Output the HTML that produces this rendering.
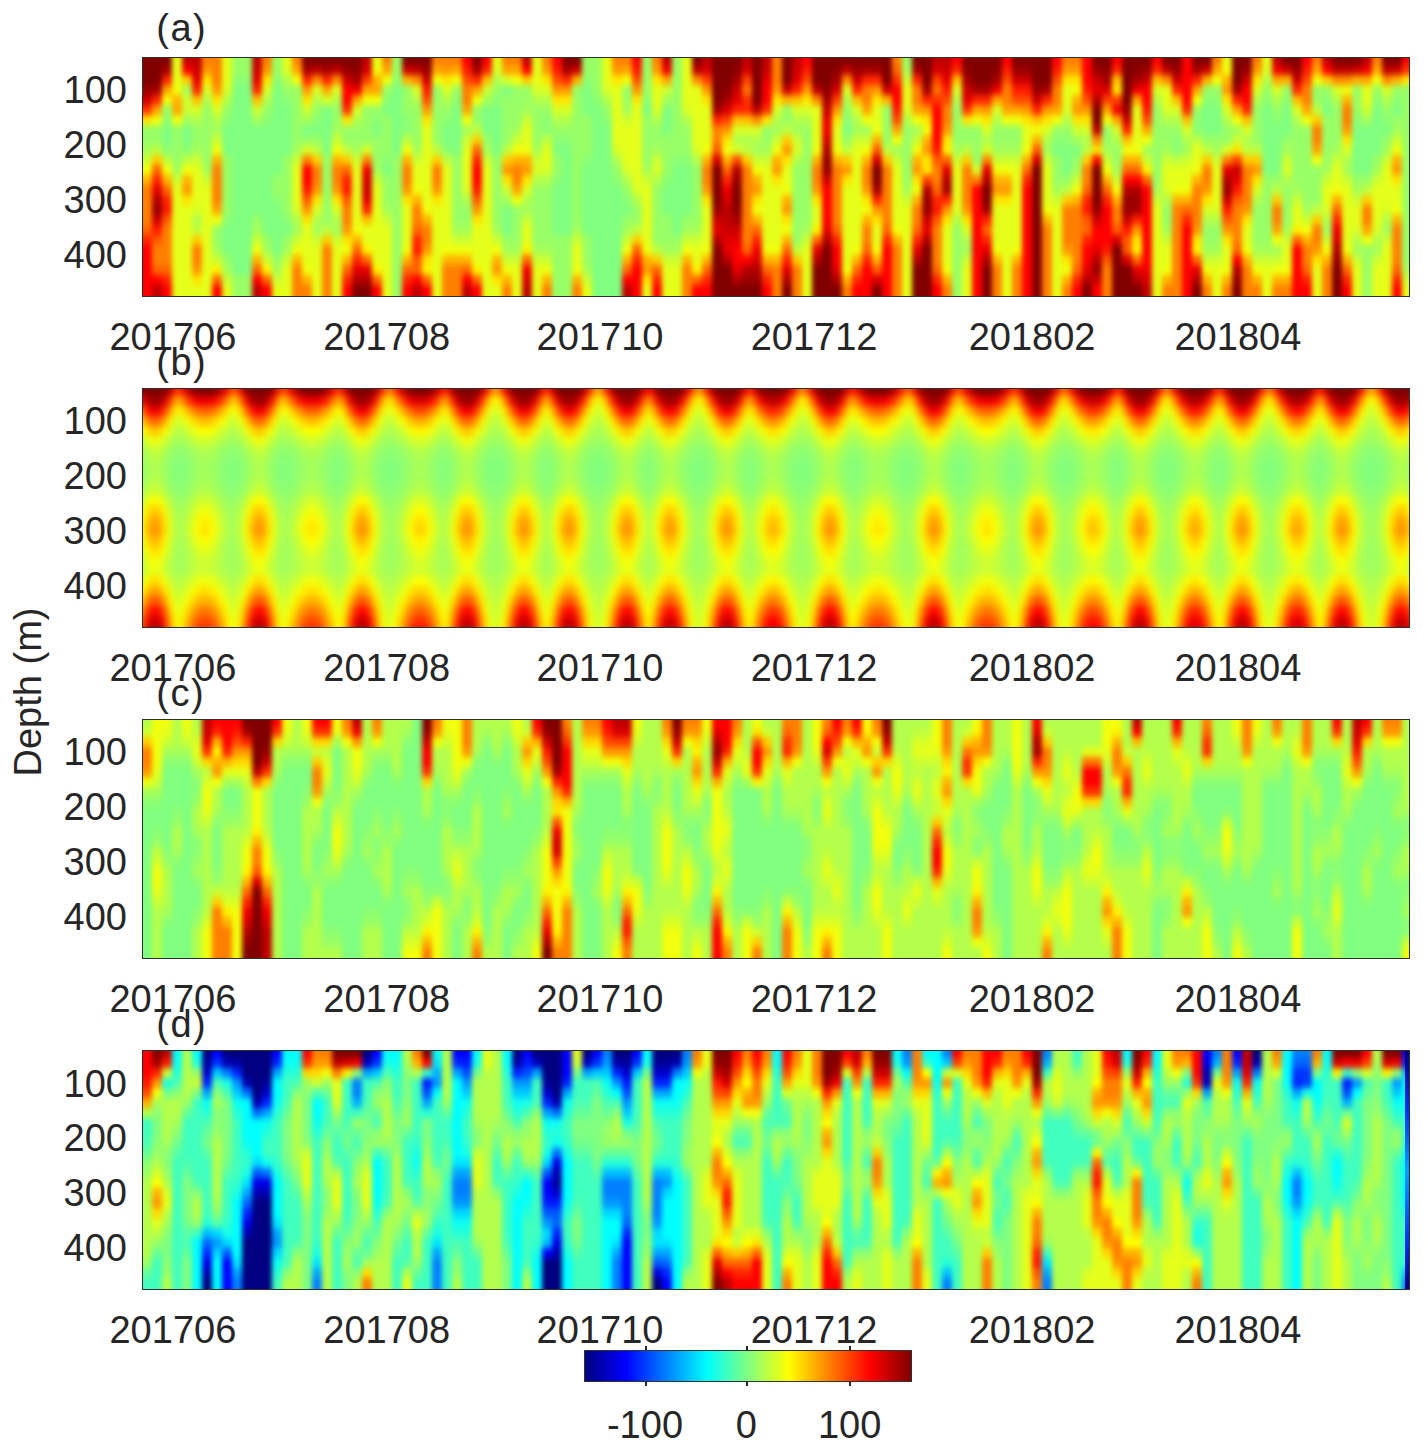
<!DOCTYPE html><html><head><meta charset="utf-8"><style>
*{margin:0;padding:0;box-sizing:border-box}
html,body{width:1428px;height:1452px;background:#fff;overflow:hidden}
body{position:relative;font-family:"Liberation Sans",sans-serif;color:#262626}
.t{position:absolute;font-size:38px;line-height:38px;white-space:nowrap}
.xl{width:240px;text-align:center}
.yl{width:100px;text-align:right}
.pn{position:absolute;width:1268px;height:240px;overflow:hidden}
.bl{position:absolute}
.fr{position:absolute;width:1268px;height:240px;border:1px solid #2e2e2e}
.tk{position:absolute;width:2px;height:4px;background:#262626}
</style></head><body>
<svg width="0" height="0" style="position:absolute"><filter id="fh" x="-2%" y="-10%" width="104%" height="120%" color-interpolation-filters="sRGB"><feGaussianBlur stdDeviation="2 3"/></filter></svg><div class="pn" style="left:142px;top:57px">
<div class="bl" style="left:-16px;top:-12px;width:1300px;filter:url(#fh)">
<div style="height:10px;background:linear-gradient(90deg,#800000 0px,#800000 44px,#e5ff1a 48px,#e5ff1a 54px,#bf0000 58px,#bf0000 74px,#ff8000 78px,#ff8000 94px,#e5ff1a 98px,#e5ff1a 104px,#99ff66 108px,#99ff66 124px,#bf0000 128px,#bf0000 134px,#ff8000 138px,#ff8000 144px,#99ff66 148px,#99ff66 154px,#e5ff1a 158px,#e5ff1a 164px,#ff8000 168px,#ff8000 174px,#800000 178px,#800000 234px,#bf0000 238px,#bf0000 244px,#e5ff1a 248px,#e5ff1a 254px,#ff8000 258px,#ff8000 264px,#99ff66 268px,#99ff66 274px,#800000 278px,#800000 304px,#ff8000 308px,#ff8000 334px,#ff0000 338px,#ff0000 344px,#800000 348px,#800000 354px,#ff0000 358px,#ff0000 364px,#e5ff1a 368px,#e5ff1a 374px,#ff8000 378px,#ff8000 394px,#bf0000 398px,#bf0000 404px,#e5ff1a 408px,#e5ff1a 414px,#ff8000 418px,#ff8000 424px,#ff0000 428px,#ff0000 434px,#800000 438px,#800000 454px,#99ff66 458px,#99ff66 474px,#e5ff1a 478px,#e5ff1a 484px,#ff8000 488px,#ff8000 504px,#ff0000 508px,#ff0000 514px,#99ff66 518px,#99ff66 524px,#ff8000 528px,#ff8000 534px,#bf0000 538px,#bf0000 544px,#99ff66 548px,#99ff66 554px,#e5ff1a 558px,#e5ff1a 564px,#800000 568px,#800000 574px,#bf0000 578px,#bf0000 584px,#800000 588px,#800000 614px,#bf0000 618px,#bf0000 624px,#800000 628px,#800000 634px,#bf0000 638px,#bf0000 644px,#ff8000 648px,#ff8000 654px,#800000 658px,#800000 664px,#bf0000 668px,#bf0000 674px,#ff0000 678px,#ff0000 684px,#800000 688px,#800000 764px,#ff8000 768px,#ff8000 774px,#99ff66 778px,#99ff66 784px,#800000 788px,#800000 804px,#bf0000 808px,#bf0000 824px,#ff0000 828px,#ff0000 834px,#800000 838px,#800000 874px,#ff0000 878px,#ff0000 884px,#800000 888px,#800000 924px,#ff0000 928px,#ff0000 934px,#ff8000 938px,#ff8000 954px,#ff0000 958px,#ff0000 964px,#800000 968px,#800000 984px,#ff0000 988px,#ff0000 994px,#800000 998px,#800000 1024px,#ff0000 1028px,#ff0000 1034px,#800000 1038px,#800000 1054px,#ff0000 1058px,#ff0000 1064px,#800000 1068px,#800000 1084px,#ff8000 1088px,#ff8000 1094px,#e5ff1a 1098px,#e5ff1a 1104px,#800000 1108px,#800000 1124px,#ff8000 1128px,#ff8000 1134px,#e5ff1a 1138px,#e5ff1a 1144px,#bf0000 1148px,#bf0000 1154px,#800000 1158px,#800000 1174px,#ff0000 1178px,#ff0000 1184px,#ff8000 1188px,#ff8000 1194px,#bf0000 1198px,#bf0000 1204px,#800000 1208px,#800000 1234px,#bf0000 1238px,#bf0000 1244px,#ff8000 1248px,#ff8000 1254px,#800000 1258px,#800000 1274px,#ff0000 1278px,#ff0000 1300px)"></div>
<div style="height:10px;background:linear-gradient(90deg,#800000 0px,#800000 44px,#e5ff1a 48px,#e5ff1a 54px,#bf0000 58px,#bf0000 74px,#ff8000 78px,#ff8000 94px,#e5ff1a 98px,#e5ff1a 104px,#99ff66 108px,#99ff66 124px,#bf0000 128px,#bf0000 134px,#ff8000 138px,#ff8000 144px,#99ff66 148px,#99ff66 154px,#e5ff1a 158px,#e5ff1a 164px,#ff8000 168px,#ff8000 174px,#800000 178px,#800000 234px,#bf0000 238px,#bf0000 244px,#e5ff1a 248px,#e5ff1a 254px,#ff8000 258px,#ff8000 264px,#99ff66 268px,#99ff66 274px,#800000 278px,#800000 304px,#ff8000 308px,#ff8000 334px,#ff0000 338px,#ff0000 344px,#800000 348px,#800000 354px,#ff0000 358px,#ff0000 364px,#e5ff1a 368px,#e5ff1a 374px,#ff8000 378px,#ff8000 394px,#bf0000 398px,#bf0000 404px,#e5ff1a 408px,#e5ff1a 414px,#ff8000 418px,#ff8000 424px,#ff0000 428px,#ff0000 434px,#800000 438px,#800000 454px,#99ff66 458px,#99ff66 474px,#e5ff1a 478px,#e5ff1a 484px,#ff8000 488px,#ff8000 504px,#ff0000 508px,#ff0000 514px,#99ff66 518px,#99ff66 524px,#ff8000 528px,#ff8000 534px,#bf0000 538px,#bf0000 544px,#99ff66 548px,#99ff66 554px,#e5ff1a 558px,#e5ff1a 564px,#800000 568px,#800000 574px,#bf0000 578px,#bf0000 584px,#800000 588px,#800000 614px,#bf0000 618px,#bf0000 624px,#800000 628px,#800000 634px,#bf0000 638px,#bf0000 644px,#ff8000 648px,#ff8000 654px,#800000 658px,#800000 664px,#bf0000 668px,#bf0000 674px,#ff0000 678px,#ff0000 684px,#800000 688px,#800000 764px,#ff8000 768px,#ff8000 774px,#99ff66 778px,#99ff66 784px,#800000 788px,#800000 804px,#bf0000 808px,#bf0000 824px,#ff0000 828px,#ff0000 834px,#800000 838px,#800000 874px,#ff0000 878px,#ff0000 884px,#800000 888px,#800000 924px,#ff0000 928px,#ff0000 934px,#ff8000 938px,#ff8000 954px,#ff0000 958px,#ff0000 964px,#800000 968px,#800000 984px,#ff0000 988px,#ff0000 994px,#800000 998px,#800000 1024px,#ff0000 1028px,#ff0000 1034px,#800000 1038px,#800000 1054px,#ff0000 1058px,#ff0000 1064px,#800000 1068px,#800000 1084px,#ff8000 1088px,#ff8000 1094px,#e5ff1a 1098px,#e5ff1a 1104px,#800000 1108px,#800000 1124px,#ff8000 1128px,#ff8000 1134px,#e5ff1a 1138px,#e5ff1a 1144px,#bf0000 1148px,#bf0000 1154px,#800000 1158px,#800000 1174px,#ff0000 1178px,#ff0000 1184px,#ff8000 1188px,#ff8000 1194px,#bf0000 1198px,#bf0000 1204px,#800000 1208px,#800000 1234px,#bf0000 1238px,#bf0000 1244px,#ff8000 1248px,#ff8000 1254px,#800000 1258px,#800000 1274px,#ff0000 1278px,#ff0000 1300px)"></div>
<div style="height:10px;background:linear-gradient(90deg,#800000 0px,#800000 34px,#a60000 38px,#a60000 44px,#e5ff1a 48px,#e5ff1a 54px,#ff0000 58px,#ff0000 64px,#cc0000 68px,#cc0000 74px,#ff9900 78px,#ff9900 84px,#ff8000 88px,#ff8000 94px,#e5ff1a 98px,#e5ff1a 104px,#99ff66 108px,#99ff66 124px,#cc0000 128px,#cc0000 134px,#ff9900 138px,#ff9900 144px,#99ff66 148px,#99ff66 154px,#d9ff26 158px,#d9ff26 164px,#ffa600 168px,#ffa600 174px,#a60000 178px,#a60000 184px,#bf0000 188px,#bf0000 194px,#a60000 198px,#a60000 204px,#bf0000 208px,#bf0000 214px,#990000 218px,#990000 224px,#8c0000 228px,#8c0000 234px,#d90000 238px,#d90000 244px,#f2ff0d 248px,#f2ff0d 254px,#ffa600 258px,#ffa600 264px,#99ff66 268px,#99ff66 274px,#cc0000 278px,#cc0000 284px,#bf0000 288px,#bf0000 294px,#990000 298px,#990000 304px,#ffa600 308px,#ffa600 314px,#ff9900 318px,#ff9900 324px,#ffa600 328px,#ffa600 334px,#ff1a00 338px,#ff1a00 344px,#a60000 348px,#a60000 354px,#ff2600 358px,#ff2600 364px,#d9ff26 368px,#d9ff26 374px,#ffa600 378px,#ffa600 394px,#ff0000 398px,#ff0000 404px,#e5ff1a 408px,#e5ff1a 414px,#ff9900 418px,#ff9900 424px,#ff1a00 428px,#ff1a00 434px,#a60000 438px,#a60000 444px,#cc0000 448px,#cc0000 454px,#99ff66 458px,#99ff66 474px,#e5ff1a 478px,#e5ff1a 484px,#ff9900 488px,#ff9900 494px,#ffa600 498px,#ffa600 504px,#ff1a00 508px,#ff1a00 514px,#99ff66 518px,#99ff66 524px,#ff9900 528px,#ff9900 534px,#f20000 538px,#f20000 544px,#99ff66 548px,#99ff66 554px,#e5ff1a 558px,#e5ff1a 564px,#bf0000 568px,#bf0000 574px,#d90000 578px,#d90000 584px,#800000 588px,#800000 604px,#8c0000 608px,#8c0000 614px,#d90000 618px,#d90000 624px,#800000 628px,#800000 634px,#cc0000 638px,#cc0000 644px,#ff8000 648px,#ff8000 654px,#800000 658px,#800000 664px,#cc0000 668px,#cc0000 674px,#ff1a00 678px,#ff1a00 684px,#800000 688px,#800000 704px,#8c0000 708px,#8c0000 714px,#bf0000 718px,#bf0000 724px,#990000 728px,#990000 734px,#a60000 738px,#a60000 754px,#800000 758px,#800000 764px,#ff6600 768px,#ff6600 774px,#a6ff59 778px,#a6ff59 784px,#a60000 788px,#a60000 794px,#800000 798px,#800000 804px,#d90000 808px,#d90000 814px,#cc0000 818px,#cc0000 824px,#ff2600 828px,#ff2600 834px,#8c0000 838px,#8c0000 844px,#800000 848px,#800000 864px,#8c0000 868px,#8c0000 874px,#ff1a00 878px,#ff1a00 884px,#990000 888px,#990000 904px,#800000 908px,#800000 924px,#ff1a00 928px,#ff1a00 934px,#ff9900 938px,#ff9900 954px,#ff0000 958px,#ff0000 964px,#990000 968px,#990000 974px,#8c0000 978px,#8c0000 984px,#ff2600 988px,#ff2600 994px,#800000 998px,#800000 1004px,#8c0000 1008px,#8c0000 1014px,#990000 1018px,#990000 1024px,#ff2600 1028px,#ff2600 1034px,#bf0000 1038px,#bf0000 1044px,#990000 1048px,#990000 1054px,#ff0000 1058px,#ff0000 1064px,#a60000 1068px,#a60000 1074px,#cc0000 1078px,#cc0000 1084px,#ffa600 1088px,#ffa600 1094px,#f2ff0d 1098px,#f2ff0d 1104px,#800000 1108px,#800000 1114px,#990000 1118px,#990000 1124px,#ff9900 1128px,#ff9900 1134px,#d9ff26 1138px,#d9ff26 1144px,#f20000 1148px,#f20000 1154px,#cc0000 1158px,#cc0000 1164px,#990000 1168px,#990000 1174px,#ff1a00 1178px,#ff1a00 1184px,#ffa600 1188px,#ffa600 1194px,#ff0000 1198px,#ff0000 1204px,#bf0000 1208px,#bf0000 1224px,#cc0000 1228px,#cc0000 1234px,#f20000 1238px,#f20000 1244px,#ffa600 1248px,#ffa600 1254px,#bf0000 1258px,#bf0000 1264px,#cc0000 1268px,#cc0000 1274px,#ff3300 1278px,#ff3300 1300px)"></div>
<div style="height:10px;background:linear-gradient(90deg,#800000 0px,#800000 34px,#ff2600 38px,#ff2600 44px,#e5ff1a 48px,#e5ff1a 54px,#ffcc00 58px,#ffcc00 64px,#e50000 68px,#e50000 74px,#ffe500 78px,#ffe500 84px,#ff8000 88px,#ff8000 94px,#e5ff1a 98px,#e5ff1a 104px,#8cff73 108px,#8cff73 124px,#e50000 128px,#e50000 134px,#ffe500 138px,#ffe500 144px,#8cff73 148px,#8cff73 154px,#b3ff4c 158px,#b3ff4c 164px,#f2ff0d 168px,#f2ff0d 174px,#ff2600 178px,#ff2600 184px,#ff8c00 188px,#ff8c00 194px,#ff2600 198px,#ff2600 204px,#ff8c00 208px,#ff8c00 214px,#cc0000 218px,#cc0000 224px,#a60000 228px,#a60000 234px,#ff4000 238px,#ff4000 244px,#ffb300 248px,#ffb300 254px,#f2ff0d 258px,#f2ff0d 264px,#8cff73 268px,#8cff73 274px,#ffb300 278px,#ffb300 284px,#ff8c00 288px,#ff8c00 294px,#cc0000 298px,#cc0000 304px,#f2ff0d 308px,#f2ff0d 314px,#ffe500 318px,#ffe500 324px,#f2ff0d 328px,#f2ff0d 334px,#ff4c00 338px,#ff4c00 344px,#ff2600 348px,#ff2600 354px,#ffbf00 358px,#ffbf00 364px,#b3ff4c 368px,#b3ff4c 374px,#d9ff26 378px,#d9ff26 384px,#f2ff0d 388px,#f2ff0d 394px,#ffcc00 398px,#ffcc00 404px,#e5ff1a 408px,#e5ff1a 414px,#ffe500 418px,#ffe500 424px,#ff4c00 428px,#ff4c00 434px,#ff2600 438px,#ff2600 444px,#ffb300 448px,#ffb300 454px,#8cff73 458px,#8cff73 464px,#99ff66 468px,#99ff66 474px,#e5ff1a 478px,#e5ff1a 484px,#ffe500 488px,#ffe500 494px,#f2ff0d 498px,#f2ff0d 504px,#ff4c00 508px,#ff4c00 514px,#99ff66 518px,#99ff66 524px,#ffe500 528px,#ffe500 534px,#ffa600 538px,#ffa600 544px,#99ff66 548px,#99ff66 554px,#e5ff1a 558px,#e5ff1a 564px,#ff8c00 568px,#ff8c00 574px,#ff4000 578px,#ff4000 584px,#800000 588px,#800000 604px,#a60000 608px,#a60000 614px,#ff4000 618px,#ff4000 624px,#800000 628px,#800000 634px,#e50000 638px,#e50000 644px,#ff8000 648px,#ff8000 654px,#800000 658px,#800000 664px,#e50000 668px,#e50000 674px,#ff4c00 678px,#ff4c00 684px,#800000 688px,#800000 704px,#a60000 708px,#a60000 714px,#ff8c00 718px,#ff8c00 724px,#cc0000 728px,#cc0000 734px,#ff2600 738px,#ff2600 754px,#800000 758px,#800000 764px,#ff3300 768px,#ff3300 774px,#ccff33 778px,#ccff33 784px,#ff2600 788px,#ff2600 794px,#800000 798px,#800000 804px,#ff4000 808px,#ff4000 814px,#e50000 818px,#e50000 824px,#ffbf00 828px,#ffbf00 834px,#a60000 838px,#a60000 844px,#800000 848px,#800000 864px,#a60000 868px,#a60000 874px,#ff4c00 878px,#ff4c00 884px,#cc0000 888px,#cc0000 904px,#800000 908px,#800000 924px,#ff4c00 928px,#ff4c00 934px,#ffe500 938px,#ffe500 954px,#ff0000 958px,#ff0000 964px,#cc0000 968px,#cc0000 974px,#a60000 978px,#a60000 984px,#ffbf00 988px,#ffbf00 994px,#800000 998px,#800000 1004px,#a60000 1008px,#a60000 1014px,#cc0000 1018px,#cc0000 1024px,#ffbf00 1028px,#ffbf00 1034px,#ff8c00 1038px,#ff8c00 1044px,#cc0000 1048px,#cc0000 1054px,#ff0000 1058px,#ff0000 1064px,#ff2600 1068px,#ff2600 1074px,#ffb300 1078px,#ffb300 1084px,#f2ff0d 1088px,#f2ff0d 1094px,#ffb300 1098px,#ffb300 1104px,#800000 1108px,#800000 1114px,#cc0000 1118px,#cc0000 1124px,#ffe500 1128px,#ffe500 1134px,#b3ff4c 1138px,#b3ff4c 1144px,#ffa600 1148px,#ffa600 1154px,#ffb300 1158px,#ffb300 1164px,#cc0000 1168px,#cc0000 1174px,#ff4c00 1178px,#ff4c00 1184px,#f2ff0d 1188px,#f2ff0d 1194px,#ffcc00 1198px,#ffcc00 1204px,#ff8c00 1208px,#ff8c00 1224px,#ffb300 1228px,#ffb300 1234px,#ffa600 1238px,#ffa600 1244px,#f2ff0d 1248px,#f2ff0d 1254px,#ff8c00 1258px,#ff8c00 1264px,#ffb300 1268px,#ffb300 1274px,#ffe500 1278px,#ffe500 1300px)"></div>
<div style="height:10px;background:linear-gradient(90deg,#990000 0px,#990000 24px,#a60000 28px,#a60000 34px,#ffa600 38px,#ffa600 44px,#f2ff0d 48px,#f2ff0d 54px,#a6ff59 58px,#a6ff59 64px,#ff2600 68px,#ff2600 74px,#d9ff26 78px,#d9ff26 84px,#ff9900 88px,#ff9900 94px,#d9ff26 98px,#d9ff26 104px,#80ff80 108px,#80ff80 124px,#ff2600 128px,#ff2600 134px,#d9ff26 138px,#d9ff26 144px,#80ff80 148px,#80ff80 154px,#99ff66 158px,#99ff66 174px,#ff9900 178px,#ff9900 184px,#d9ff26 188px,#d9ff26 194px,#ffa600 198px,#ffa600 204px,#d9ff26 208px,#d9ff26 214px,#ff0000 218px,#ff0000 224px,#f20000 228px,#f20000 234px,#ffa600 238px,#ffa600 254px,#99ff66 258px,#99ff66 264px,#80ff80 268px,#80ff80 274px,#99ff66 278px,#99ff66 284px,#d9ff26 288px,#d9ff26 294px,#ff1a00 298px,#ff1a00 304px,#99ff66 308px,#99ff66 314px,#d9ff26 318px,#d9ff26 324px,#99ff66 328px,#99ff66 334px,#ff8000 338px,#ff8000 344px,#ffa600 348px,#ffa600 354px,#ccff33 358px,#ccff33 364px,#99ff66 368px,#99ff66 374px,#80ff80 378px,#80ff80 384px,#99ff66 388px,#99ff66 404px,#d9ff26 408px,#d9ff26 424px,#ff9900 428px,#ff9900 444px,#99ff66 448px,#99ff66 454px,#80ff80 458px,#80ff80 464px,#99ff66 468px,#99ff66 474px,#d9ff26 478px,#d9ff26 484px,#e5ff1a 488px,#e5ff1a 494px,#99ff66 498px,#99ff66 504px,#ff9900 508px,#ff9900 514px,#99ff66 518px,#99ff66 524px,#e5ff1a 528px,#e5ff1a 534px,#ccff33 538px,#ccff33 544px,#99ff66 548px,#99ff66 554px,#e5ff1a 558px,#e5ff1a 574px,#ff9900 578px,#ff9900 584px,#800000 588px,#800000 594px,#8c0000 598px,#8c0000 604px,#cc0000 608px,#cc0000 614px,#ff7300 618px,#ff7300 624px,#800000 628px,#800000 634px,#ff0000 638px,#ff0000 644px,#ff9900 648px,#ff9900 654px,#cc0000 658px,#cc0000 664px,#ff2600 668px,#ff2600 674px,#ff9900 678px,#ff9900 684px,#bf0000 688px,#bf0000 694px,#8c0000 698px,#8c0000 704px,#d90000 708px,#d90000 714px,#d9ff26 718px,#d9ff26 724px,#ff2600 728px,#ff2600 734px,#ff8000 738px,#ff8000 744px,#ff9900 748px,#ff9900 754px,#cc0000 758px,#cc0000 764px,#ff0000 768px,#ff0000 774px,#e5ff1a 778px,#e5ff1a 784px,#ff8000 788px,#ff8000 794px,#a60000 798px,#a60000 804px,#ff7300 808px,#ff7300 814px,#ff1a00 818px,#ff1a00 824px,#d9ff26 828px,#d9ff26 834px,#cc0000 838px,#cc0000 844px,#a60000 848px,#a60000 864px,#f20000 868px,#f20000 874px,#ff8000 878px,#ff8000 884px,#ff1a00 888px,#ff1a00 904px,#990000 908px,#990000 914px,#a60000 918px,#a60000 924px,#ff8000 928px,#ff8000 934px,#e5ff1a 938px,#e5ff1a 944px,#f2ff0d 948px,#f2ff0d 954px,#ff1a00 958px,#ff1a00 964px,#e50000 968px,#e50000 974px,#d90000 978px,#d90000 984px,#ffe500 988px,#ffe500 994px,#800000 998px,#800000 1004px,#f20000 1008px,#f20000 1014px,#ff0000 1018px,#ff0000 1024px,#d9ff26 1028px,#d9ff26 1034px,#e5ff1a 1038px,#e5ff1a 1044px,#ff2600 1048px,#ff2600 1054px,#ff0000 1058px,#ff0000 1064px,#ffa600 1068px,#ffa600 1074px,#99ff66 1078px,#99ff66 1094px,#ff9900 1098px,#ff9900 1104px,#a60000 1108px,#a60000 1114px,#ff0000 1118px,#ff0000 1124px,#d9ff26 1128px,#d9ff26 1134px,#99ff66 1138px,#99ff66 1144px,#d9ff26 1148px,#d9ff26 1154px,#99ff66 1158px,#99ff66 1164px,#ff2600 1168px,#ff2600 1174px,#ff8000 1178px,#ff8000 1184px,#99ff66 1188px,#99ff66 1204px,#d9ff26 1208px,#d9ff26 1214px,#f2ff0d 1218px,#f2ff0d 1224px,#99ff66 1228px,#99ff66 1234px,#e5ff1a 1238px,#e5ff1a 1244px,#99ff66 1248px,#99ff66 1254px,#d9ff26 1258px,#d9ff26 1264px,#99ff66 1268px,#99ff66 1300px)"></div>
<div style="height:10px;background:linear-gradient(90deg,#cc0000 0px,#cc0000 24px,#ff2600 28px,#ff2600 34px,#f2ff0d 38px,#f2ff0d 44px,#ffb300 48px,#ffb300 54px,#ccff33 58px,#ccff33 64px,#ffbf00 68px,#ffbf00 74px,#b3ff4c 78px,#b3ff4c 84px,#ffe500 88px,#ffe500 94px,#b3ff4c 98px,#b3ff4c 104px,#80ff80 108px,#80ff80 124px,#ffbf00 128px,#ffbf00 134px,#b3ff4c 138px,#b3ff4c 144px,#80ff80 148px,#80ff80 154px,#8cff73 158px,#8cff73 164px,#99ff66 168px,#99ff66 174px,#ffe500 178px,#ffe500 184px,#b3ff4c 188px,#b3ff4c 194px,#d9ff26 198px,#d9ff26 204px,#b3ff4c 208px,#b3ff4c 214px,#ff0000 218px,#ff0000 224px,#ffa600 228px,#ffa600 234px,#f2ff0d 238px,#f2ff0d 254px,#8cff73 258px,#8cff73 264px,#80ff80 268px,#80ff80 274px,#99ff66 278px,#99ff66 284px,#b3ff4c 288px,#b3ff4c 294px,#ff4c00 298px,#ff4c00 304px,#99ff66 308px,#99ff66 314px,#b3ff4c 318px,#b3ff4c 324px,#8cff73 328px,#8cff73 334px,#ff8000 338px,#ff8000 344px,#f2ff0d 348px,#f2ff0d 354px,#a6ff59 358px,#a6ff59 364px,#8cff73 368px,#8cff73 374px,#99ff66 378px,#99ff66 404px,#b3ff4c 408px,#b3ff4c 424px,#ffe500 428px,#ffe500 444px,#99ff66 448px,#99ff66 454px,#80ff80 458px,#80ff80 464px,#8cff73 468px,#8cff73 474px,#b3ff4c 478px,#b3ff4c 484px,#e5ff1a 488px,#e5ff1a 494px,#99ff66 498px,#99ff66 504px,#ffe500 508px,#ffe500 514px,#8cff73 518px,#8cff73 524px,#e5ff1a 528px,#e5ff1a 534px,#a6ff59 538px,#a6ff59 544px,#99ff66 548px,#99ff66 554px,#e5ff1a 558px,#e5ff1a 574px,#ffe500 578px,#ffe500 584px,#800000 588px,#800000 594px,#a60000 598px,#a60000 604px,#e50000 608px,#e50000 614px,#ff3300 618px,#ff3300 624px,#800000 628px,#800000 634px,#ff0000 638px,#ff0000 644px,#ffe500 648px,#ffe500 654px,#ffb300 658px,#ffb300 664px,#ffbf00 668px,#ffbf00 674px,#ffe500 678px,#ffe500 684px,#ff8c00 688px,#ff8c00 694px,#a60000 698px,#a60000 704px,#ff4000 708px,#ff4000 714px,#b3ff4c 718px,#b3ff4c 724px,#ffbf00 728px,#ffbf00 734px,#ff8000 738px,#ff8000 744px,#ffe500 748px,#ffe500 754px,#ffb300 758px,#ffb300 764px,#ff0000 768px,#ff0000 774px,#e5ff1a 778px,#e5ff1a 784px,#ff8000 788px,#ff8000 794px,#ff2600 798px,#ff2600 804px,#ff3300 808px,#ff3300 814px,#ff4c00 818px,#ff4c00 824px,#b3ff4c 828px,#b3ff4c 834px,#e50000 838px,#e50000 844px,#ff2600 848px,#ff2600 864px,#ffa600 868px,#ffa600 874px,#ff8000 878px,#ff8000 884px,#ff4c00 888px,#ff4c00 904px,#cc0000 908px,#cc0000 914px,#ff2600 918px,#ff2600 924px,#ff8000 928px,#ff8000 934px,#e5ff1a 938px,#e5ff1a 944px,#ffb300 948px,#ffb300 954px,#ff4c00 958px,#ff4c00 964px,#b30000 968px,#b30000 974px,#ff4000 978px,#ff4000 994px,#800000 998px,#800000 1004px,#ffa600 1008px,#ffa600 1014px,#ff0000 1018px,#ff0000 1024px,#b3ff4c 1028px,#b3ff4c 1034px,#e5ff1a 1038px,#e5ff1a 1044px,#ffbf00 1048px,#ffbf00 1054px,#ff0000 1058px,#ff0000 1064px,#f2ff0d 1068px,#f2ff0d 1074px,#8cff73 1078px,#8cff73 1094px,#ffe500 1098px,#ffe500 1104px,#ff2600 1108px,#ff2600 1114px,#ff0000 1118px,#ff0000 1124px,#b3ff4c 1128px,#b3ff4c 1134px,#8cff73 1138px,#8cff73 1144px,#b3ff4c 1148px,#b3ff4c 1154px,#8cff73 1158px,#8cff73 1164px,#ffbf00 1168px,#ffbf00 1174px,#ff8000 1178px,#ff8000 1184px,#99ff66 1188px,#99ff66 1194px,#8cff73 1198px,#8cff73 1204px,#b3ff4c 1208px,#b3ff4c 1214px,#ffb300 1218px,#ffb300 1224px,#99ff66 1228px,#99ff66 1234px,#e5ff1a 1238px,#e5ff1a 1244px,#8cff73 1248px,#8cff73 1254px,#b3ff4c 1258px,#b3ff4c 1264px,#8cff73 1268px,#8cff73 1274px,#99ff66 1278px,#99ff66 1300px)"></div>
<div style="height:10px;background:linear-gradient(90deg,#ff3300 0px,#ff3300 24px,#ffa600 28px,#ffa600 34px,#99ff66 38px,#99ff66 44px,#ffa600 48px,#ffa600 54px,#ccff33 58px,#ccff33 64px,#d9ff26 68px,#d9ff26 74px,#99ff66 78px,#99ff66 84px,#d9ff26 88px,#d9ff26 94px,#99ff66 98px,#99ff66 104px,#80ff80 108px,#80ff80 124px,#ccff33 128px,#ccff33 134px,#99ff66 138px,#99ff66 144px,#80ff80 148px,#80ff80 164px,#99ff66 168px,#99ff66 174px,#ccff33 178px,#ccff33 184px,#99ff66 188px,#99ff66 194px,#80ff80 198px,#80ff80 204px,#99ff66 208px,#99ff66 214px,#ff3300 218px,#ff3300 224px,#d9ff26 228px,#d9ff26 234px,#99ff66 238px,#99ff66 254px,#80ff80 258px,#80ff80 274px,#99ff66 278px,#99ff66 294px,#ff9900 298px,#ff9900 304px,#99ff66 308px,#99ff66 324px,#80ff80 328px,#80ff80 334px,#ffa600 338px,#ffa600 344px,#99ff66 348px,#99ff66 354px,#80ff80 358px,#80ff80 374px,#99ff66 378px,#99ff66 394px,#a6ff59 398px,#a6ff59 404px,#99ff66 408px,#99ff66 424px,#d9ff26 428px,#d9ff26 444px,#99ff66 448px,#99ff66 454px,#80ff80 458px,#80ff80 474px,#99ff66 478px,#99ff66 484px,#e5ff1a 488px,#e5ff1a 494px,#a6ff59 498px,#a6ff59 504px,#e5ff1a 508px,#e5ff1a 514px,#80ff80 518px,#80ff80 524px,#d9ff26 528px,#d9ff26 534px,#80ff80 538px,#80ff80 544px,#99ff66 548px,#99ff66 554px,#d9ff26 558px,#d9ff26 564px,#e5ff1a 568px,#e5ff1a 584px,#a60000 588px,#a60000 594px,#d90000 598px,#d90000 604px,#ff2600 608px,#ff2600 624px,#bf0000 628px,#bf0000 634px,#ff3300 638px,#ff3300 644px,#d9ff26 648px,#d9ff26 654px,#99ff66 658px,#99ff66 664px,#d9ff26 668px,#d9ff26 684px,#e5ff1a 688px,#e5ff1a 694px,#cc0000 698px,#cc0000 704px,#ff9900 708px,#ff9900 714px,#99ff66 718px,#99ff66 724px,#d9ff26 728px,#d9ff26 734px,#ffa600 738px,#ffa600 744px,#e5ff1a 748px,#e5ff1a 754px,#99ff66 758px,#99ff66 764px,#ff1a00 768px,#ff1a00 774px,#d9ff26 778px,#d9ff26 784px,#ffa600 788px,#ffa600 794px,#ff9900 798px,#ff9900 804px,#ff0000 808px,#ff0000 814px,#ff8000 818px,#ff8000 824px,#99ff66 828px,#99ff66 834px,#ff3300 838px,#ff3300 844px,#ffa600 848px,#ffa600 854px,#ff9900 858px,#ff9900 864px,#d9ff26 868px,#d9ff26 874px,#ffa600 878px,#ffa600 894px,#ff9900 898px,#ff9900 904px,#ff2600 908px,#ff2600 914px,#ff9900 918px,#ff9900 924px,#ffa600 928px,#ffa600 934px,#d9ff26 938px,#d9ff26 944px,#ff9900 948px,#ff9900 964px,#800000 968px,#800000 974px,#ffa600 978px,#ffa600 984px,#f20000 988px,#f20000 994px,#990000 998px,#990000 1004px,#e5ff1a 1008px,#e5ff1a 1014px,#ff1a00 1018px,#ff1a00 1024px,#99ff66 1028px,#99ff66 1034px,#d9ff26 1038px,#d9ff26 1054px,#ff2600 1058px,#ff2600 1064px,#99ff66 1068px,#99ff66 1074px,#80ff80 1078px,#80ff80 1094px,#d9ff26 1098px,#d9ff26 1104px,#ffa600 1108px,#ffa600 1114px,#ff2600 1118px,#ff2600 1124px,#99ff66 1128px,#99ff66 1134px,#80ff80 1138px,#80ff80 1144px,#99ff66 1148px,#99ff66 1154px,#80ff80 1158px,#80ff80 1164px,#d9ff26 1168px,#d9ff26 1174px,#ffa600 1178px,#ffa600 1184px,#bfff40 1188px,#bfff40 1194px,#80ff80 1198px,#80ff80 1204px,#99ff66 1208px,#99ff66 1214px,#ff8000 1218px,#ff8000 1224px,#99ff66 1228px,#99ff66 1234px,#ccff33 1238px,#ccff33 1244px,#80ff80 1248px,#80ff80 1254px,#99ff66 1258px,#99ff66 1264px,#80ff80 1268px,#80ff80 1274px,#99ff66 1278px,#99ff66 1300px)"></div>
<div style="height:10px;background:linear-gradient(90deg,#ffe500 0px,#ffe500 24px,#f2ff0d 28px,#f2ff0d 34px,#8cff73 38px,#8cff73 44px,#f2ff0d 48px,#f2ff0d 54px,#a6ff59 58px,#a6ff59 64px,#b3ff4c 68px,#b3ff4c 74px,#99ff66 78px,#99ff66 84px,#b3ff4c 88px,#b3ff4c 94px,#8cff73 98px,#8cff73 104px,#80ff80 108px,#80ff80 124px,#a6ff59 128px,#a6ff59 134px,#8cff73 138px,#8cff73 144px,#80ff80 148px,#80ff80 164px,#99ff66 168px,#99ff66 174px,#a6ff59 178px,#a6ff59 184px,#8cff73 188px,#8cff73 194px,#80ff80 198px,#80ff80 204px,#99ff66 208px,#99ff66 214px,#ffe500 218px,#ffe500 224px,#b3ff4c 228px,#b3ff4c 234px,#99ff66 238px,#99ff66 244px,#8cff73 248px,#8cff73 254px,#99ff66 258px,#99ff66 264px,#80ff80 268px,#80ff80 274px,#8cff73 278px,#8cff73 284px,#99ff66 288px,#99ff66 294px,#ffe500 298px,#ffe500 304px,#99ff66 308px,#99ff66 314px,#8cff73 318px,#8cff73 324px,#80ff80 328px,#80ff80 334px,#f2ff0d 338px,#f2ff0d 344px,#99ff66 348px,#99ff66 354px,#80ff80 358px,#80ff80 374px,#99ff66 378px,#99ff66 394px,#ccff33 398px,#ccff33 404px,#99ff66 408px,#99ff66 414px,#8cff73 418px,#8cff73 424px,#b3ff4c 428px,#b3ff4c 444px,#99ff66 448px,#99ff66 464px,#80ff80 468px,#80ff80 474px,#8cff73 478px,#8cff73 484px,#e5ff1a 488px,#e5ff1a 494px,#ccff33 498px,#ccff33 504px,#e5ff1a 508px,#e5ff1a 514px,#99ff66 518px,#99ff66 524px,#b3ff4c 528px,#b3ff4c 534px,#80ff80 538px,#80ff80 544px,#99ff66 548px,#99ff66 554px,#b3ff4c 558px,#b3ff4c 564px,#e5ff1a 568px,#e5ff1a 584px,#ff2600 588px,#ff2600 594px,#ff4000 598px,#ff4000 604px,#ffbf00 608px,#ffbf00 624px,#ff8c00 628px,#ff8c00 634px,#ffe500 638px,#ffe500 644px,#b3ff4c 648px,#b3ff4c 654px,#99ff66 658px,#99ff66 664px,#b3ff4c 668px,#b3ff4c 684px,#e5ff1a 688px,#e5ff1a 694px,#e50000 698px,#e50000 704px,#ffe500 708px,#ffe500 714px,#8cff73 718px,#8cff73 724px,#b3ff4c 728px,#b3ff4c 734px,#f2ff0d 738px,#f2ff0d 744px,#e5ff1a 748px,#e5ff1a 754px,#99ff66 758px,#99ff66 764px,#ff4c00 768px,#ff4c00 774px,#b3ff4c 778px,#b3ff4c 784px,#f2ff0d 788px,#f2ff0d 794px,#ffe500 798px,#ffe500 804px,#ff0000 808px,#ff0000 814px,#ff8000 818px,#ff8000 824px,#99ff66 828px,#99ff66 834px,#ffe500 838px,#ffe500 844px,#f2ff0d 848px,#f2ff0d 854px,#ffe500 858px,#ffe500 864px,#b3ff4c 868px,#b3ff4c 874px,#f2ff0d 878px,#f2ff0d 894px,#ffe500 898px,#ffe500 904px,#ffbf00 908px,#ffbf00 914px,#ffe500 918px,#ffe500 924px,#f2ff0d 928px,#f2ff0d 934px,#b3ff4c 938px,#b3ff4c 944px,#ffe500 948px,#ffe500 964px,#800000 968px,#800000 974px,#f2ff0d 978px,#f2ff0d 984px,#ffa600 988px,#ffa600 994px,#cc0000 998px,#cc0000 1004px,#e5ff1a 1008px,#e5ff1a 1014px,#ff4c00 1018px,#ff4c00 1024px,#99ff66 1028px,#99ff66 1034px,#b3ff4c 1038px,#b3ff4c 1054px,#ffbf00 1058px,#ffbf00 1064px,#8cff73 1068px,#8cff73 1074px,#80ff80 1078px,#80ff80 1094px,#b3ff4c 1098px,#b3ff4c 1104px,#f2ff0d 1108px,#f2ff0d 1114px,#ffbf00 1118px,#ffbf00 1124px,#99ff66 1128px,#99ff66 1134px,#80ff80 1138px,#80ff80 1144px,#8cff73 1148px,#8cff73 1154px,#80ff80 1158px,#80ff80 1164px,#b3ff4c 1168px,#b3ff4c 1174px,#f2ff0d 1178px,#f2ff0d 1184px,#ffcc00 1188px,#ffcc00 1194px,#99ff66 1198px,#99ff66 1214px,#ff8000 1218px,#ff8000 1224px,#8cff73 1228px,#8cff73 1234px,#a6ff59 1238px,#a6ff59 1244px,#80ff80 1248px,#80ff80 1254px,#8cff73 1258px,#8cff73 1264px,#99ff66 1268px,#99ff66 1300px)"></div>
<div style="height:10px;background:linear-gradient(90deg,#99ff66 0px,#99ff66 34px,#80ff80 38px,#80ff80 44px,#99ff66 48px,#99ff66 54px,#80ff80 58px,#80ff80 64px,#99ff66 68px,#99ff66 84px,#a6ff59 88px,#a6ff59 94px,#80ff80 98px,#80ff80 164px,#99ff66 168px,#99ff66 174px,#80ff80 178px,#80ff80 204px,#a6ff59 208px,#a6ff59 214px,#99ff66 218px,#99ff66 244px,#80ff80 248px,#80ff80 254px,#99ff66 258px,#99ff66 264px,#80ff80 268px,#80ff80 274px,#8cff73 278px,#8cff73 284px,#99ff66 288px,#99ff66 294px,#e5ff1a 298px,#e5ff1a 304px,#99ff66 308px,#99ff66 314px,#80ff80 318px,#80ff80 334px,#a6ff59 338px,#a6ff59 344px,#bfff40 348px,#bfff40 354px,#80ff80 358px,#80ff80 374px,#99ff66 378px,#99ff66 384px,#a6ff59 388px,#a6ff59 394px,#e5ff1a 398px,#e5ff1a 404px,#99ff66 408px,#99ff66 414px,#8cff73 418px,#8cff73 424px,#99ff66 428px,#99ff66 464px,#80ff80 468px,#80ff80 484px,#e5ff1a 488px,#e5ff1a 514px,#99ff66 518px,#99ff66 534px,#80ff80 538px,#80ff80 544px,#99ff66 548px,#99ff66 564px,#e5ff1a 568px,#e5ff1a 584px,#ff8000 588px,#ff8000 594px,#ff9900 598px,#ff9900 604px,#d9ff26 608px,#d9ff26 634px,#99ff66 638px,#99ff66 644px,#a6ff59 648px,#a6ff59 654px,#bfff40 658px,#bfff40 664px,#a6ff59 668px,#a6ff59 674px,#99ff66 678px,#99ff66 684px,#e5ff1a 688px,#e5ff1a 694px,#f20000 698px,#f20000 704px,#e5ff1a 708px,#e5ff1a 714px,#80ff80 718px,#80ff80 724px,#a6ff59 728px,#a6ff59 744px,#f2ff0d 748px,#f2ff0d 754px,#99ff66 758px,#99ff66 764px,#ffa600 768px,#ffa600 774px,#99ff66 778px,#99ff66 784px,#a6ff59 788px,#a6ff59 794px,#f2ff0d 798px,#f2ff0d 804px,#ff0000 808px,#ff0000 814px,#ff9900 818px,#ff9900 824px,#99ff66 828px,#99ff66 854px,#d9ff26 858px,#d9ff26 864px,#99ff66 868px,#99ff66 894px,#e5ff1a 898px,#e5ff1a 904px,#f2ff0d 908px,#f2ff0d 914px,#d9ff26 918px,#d9ff26 924px,#99ff66 928px,#99ff66 944px,#ccff33 948px,#ccff33 954px,#d9ff26 958px,#d9ff26 964px,#bf0000 968px,#bf0000 974px,#99ff66 978px,#99ff66 984px,#d9ff26 988px,#d9ff26 994px,#ff2600 998px,#ff2600 1004px,#e5ff1a 1008px,#e5ff1a 1014px,#ffa600 1018px,#ffa600 1024px,#99ff66 1028px,#99ff66 1054px,#d9ff26 1058px,#d9ff26 1064px,#8cff73 1068px,#8cff73 1074px,#80ff80 1078px,#80ff80 1094px,#99ff66 1098px,#99ff66 1104px,#a6ff59 1108px,#a6ff59 1114px,#d9ff26 1118px,#d9ff26 1124px,#99ff66 1128px,#99ff66 1134px,#80ff80 1138px,#80ff80 1164px,#99ff66 1168px,#99ff66 1184px,#ff8000 1188px,#ff8000 1194px,#99ff66 1198px,#99ff66 1214px,#ff9900 1218px,#ff9900 1224px,#80ff80 1228px,#80ff80 1264px,#a6ff59 1268px,#a6ff59 1274px,#99ff66 1278px,#99ff66 1300px)"></div>
<div style="height:10px;background:linear-gradient(90deg,#99ff66 0px,#99ff66 34px,#80ff80 38px,#80ff80 44px,#99ff66 48px,#99ff66 54px,#80ff80 58px,#80ff80 64px,#99ff66 68px,#99ff66 84px,#ccff33 88px,#ccff33 94px,#80ff80 98px,#80ff80 164px,#99ff66 168px,#99ff66 194px,#80ff80 198px,#80ff80 204px,#ccff33 208px,#ccff33 214px,#99ff66 218px,#99ff66 264px,#80ff80 268px,#80ff80 274px,#bfff40 278px,#bfff40 284px,#99ff66 288px,#99ff66 294px,#e5ff1a 298px,#e5ff1a 304px,#99ff66 308px,#99ff66 314px,#80ff80 318px,#80ff80 334px,#ccff33 338px,#ccff33 344px,#ffcc00 348px,#ffcc00 354px,#99ff66 358px,#99ff66 364px,#80ff80 368px,#80ff80 374px,#99ff66 378px,#99ff66 384px,#ccff33 388px,#ccff33 394px,#e5ff1a 398px,#e5ff1a 404px,#99ff66 408px,#99ff66 414px,#bfff40 418px,#bfff40 424px,#8cff73 428px,#8cff73 444px,#99ff66 448px,#99ff66 464px,#80ff80 468px,#80ff80 484px,#e5ff1a 488px,#e5ff1a 514px,#99ff66 518px,#99ff66 564px,#e5ff1a 568px,#e5ff1a 584px,#ff8000 588px,#ff8000 594px,#ffe500 598px,#ffe500 604px,#b3ff4c 608px,#b3ff4c 634px,#99ff66 638px,#99ff66 644px,#ccff33 648px,#ccff33 654px,#ffcc00 658px,#ffcc00 664px,#ccff33 668px,#ccff33 674px,#99ff66 678px,#99ff66 684px,#e5ff1a 688px,#e5ff1a 694px,#d90000 698px,#d90000 704px,#e5ff1a 708px,#e5ff1a 714px,#99ff66 718px,#99ff66 724px,#ccff33 728px,#ccff33 744px,#ffb300 748px,#ffb300 754px,#99ff66 758px,#99ff66 764px,#f2ff0d 768px,#f2ff0d 774px,#99ff66 778px,#99ff66 784px,#ccff33 788px,#ccff33 794px,#ffb300 798px,#ffb300 804px,#ff0000 808px,#ff0000 814px,#ffe500 818px,#ffe500 824px,#99ff66 828px,#99ff66 854px,#b3ff4c 858px,#b3ff4c 864px,#99ff66 868px,#99ff66 894px,#e5ff1a 898px,#e5ff1a 904px,#ffb300 908px,#ffb300 914px,#b3ff4c 918px,#b3ff4c 924px,#8cff73 928px,#8cff73 944px,#a6ff59 948px,#a6ff59 954px,#b3ff4c 958px,#b3ff4c 964px,#ff8c00 968px,#ff8c00 974px,#99ff66 978px,#99ff66 984px,#b3ff4c 988px,#b3ff4c 994px,#ffbf00 998px,#ffbf00 1004px,#e5ff1a 1008px,#e5ff1a 1014px,#f2ff0d 1018px,#f2ff0d 1024px,#99ff66 1028px,#99ff66 1044px,#8cff73 1048px,#8cff73 1054px,#b3ff4c 1058px,#b3ff4c 1064px,#bfff40 1068px,#bfff40 1074px,#99ff66 1078px,#99ff66 1104px,#ccff33 1108px,#ccff33 1114px,#b3ff4c 1118px,#b3ff4c 1124px,#99ff66 1128px,#99ff66 1134px,#80ff80 1138px,#80ff80 1154px,#99ff66 1158px,#99ff66 1184px,#ff8000 1188px,#ff8000 1194px,#99ff66 1198px,#99ff66 1214px,#ffe500 1218px,#ffe500 1224px,#80ff80 1228px,#80ff80 1254px,#99ff66 1258px,#99ff66 1264px,#ccff33 1268px,#ccff33 1274px,#99ff66 1278px,#99ff66 1300px)"></div>
<div style="height:10px;background:linear-gradient(90deg,#a6ff59 0px,#a6ff59 24px,#bfff40 28px,#bfff40 34px,#8cff73 38px,#8cff73 44px,#99ff66 48px,#99ff66 54px,#8cff73 58px,#8cff73 64px,#a6ff59 68px,#a6ff59 74px,#99ff66 78px,#99ff66 84px,#f2ff0d 88px,#f2ff0d 94px,#80ff80 98px,#80ff80 164px,#a6ff59 168px,#a6ff59 174px,#d9ff26 178px,#d9ff26 184px,#bfff40 188px,#bfff40 194px,#80ff80 198px,#80ff80 204px,#f2ff0d 208px,#f2ff0d 214px,#bfff40 218px,#bfff40 224px,#a6ff59 228px,#a6ff59 234px,#d9ff26 238px,#d9ff26 244px,#99ff66 248px,#99ff66 264px,#80ff80 268px,#80ff80 274px,#f2ff0d 278px,#f2ff0d 284px,#a6ff59 288px,#a6ff59 294px,#e5ff1a 298px,#e5ff1a 304px,#bfff40 308px,#bfff40 314px,#8cff73 318px,#8cff73 324px,#80ff80 328px,#80ff80 334px,#e5ff1a 338px,#e5ff1a 344px,#ff6600 348px,#ff6600 354px,#a6ff59 358px,#a6ff59 364px,#80ff80 368px,#80ff80 374px,#bfff40 378px,#bfff40 384px,#f2ff0d 388px,#f2ff0d 404px,#a6ff59 408px,#a6ff59 414px,#e5ff1a 418px,#e5ff1a 424px,#80ff80 428px,#80ff80 444px,#99ff66 448px,#99ff66 464px,#80ff80 468px,#80ff80 484px,#d9ff26 488px,#d9ff26 494px,#e5ff1a 498px,#e5ff1a 514px,#99ff66 518px,#99ff66 524px,#a6ff59 528px,#a6ff59 534px,#99ff66 538px,#99ff66 564px,#d9ff26 568px,#d9ff26 574px,#f2ff0d 578px,#f2ff0d 584px,#ff5900 588px,#ff5900 594px,#f2ff0d 598px,#f2ff0d 604px,#d9ff26 608px,#d9ff26 614px,#bfff40 618px,#bfff40 624px,#a6ff59 628px,#a6ff59 644px,#f2ff0d 648px,#f2ff0d 654px,#ff9900 658px,#ff9900 664px,#d9ff26 668px,#d9ff26 674px,#99ff66 678px,#99ff66 684px,#f2ff0d 688px,#f2ff0d 694px,#b30000 698px,#b30000 704px,#f2ff0d 708px,#f2ff0d 714px,#bfff40 718px,#bfff40 724px,#e5ff1a 728px,#e5ff1a 734px,#f2ff0d 738px,#f2ff0d 744px,#ff5900 748px,#ff5900 754px,#bfff40 758px,#bfff40 764px,#a6ff59 768px,#a6ff59 774px,#99ff66 778px,#99ff66 784px,#f2ff0d 788px,#f2ff0d 794px,#ff9900 798px,#ff9900 804px,#ff1a00 808px,#ff1a00 814px,#fff200 818px,#fff200 824px,#a6ff59 828px,#a6ff59 834px,#bfff40 838px,#bfff40 844px,#99ff66 848px,#99ff66 854px,#d9ff26 858px,#d9ff26 864px,#a6ff59 868px,#a6ff59 894px,#f2ff0d 898px,#f2ff0d 904px,#ff5900 908px,#ff5900 914px,#a6ff59 918px,#a6ff59 924px,#80ff80 928px,#80ff80 954px,#bfff40 958px,#bfff40 964px,#ffe500 968px,#ffe500 974px,#a6ff59 978px,#a6ff59 984px,#99ff66 988px,#99ff66 994px,#f2ff0d 998px,#f2ff0d 1014px,#a6ff59 1018px,#a6ff59 1024px,#99ff66 1028px,#99ff66 1034px,#a6ff59 1038px,#a6ff59 1044px,#8cff73 1048px,#8cff73 1054px,#a6ff59 1058px,#a6ff59 1064px,#e5ff1a 1068px,#e5ff1a 1074px,#bfff40 1078px,#bfff40 1084px,#a6ff59 1088px,#a6ff59 1094px,#d9ff26 1098px,#d9ff26 1104px,#ffe500 1108px,#ffe500 1114px,#bfff40 1118px,#bfff40 1134px,#80ff80 1138px,#80ff80 1154px,#a6ff59 1158px,#a6ff59 1164px,#99ff66 1168px,#99ff66 1184px,#ffa600 1188px,#ffa600 1194px,#99ff66 1198px,#99ff66 1204px,#a6ff59 1208px,#a6ff59 1214px,#d9ff26 1218px,#d9ff26 1224px,#80ff80 1228px,#80ff80 1254px,#a6ff59 1258px,#a6ff59 1264px,#f2ff0d 1268px,#f2ff0d 1274px,#99ff66 1278px,#99ff66 1300px)"></div>
<div style="height:10px;background:linear-gradient(90deg,#ccff33 0px,#ccff33 24px,#ffcc00 28px,#ffcc00 34px,#bfff40 38px,#bfff40 44px,#99ff66 48px,#99ff66 54px,#bfff40 58px,#bfff40 64px,#ccff33 68px,#ccff33 74px,#99ff66 78px,#99ff66 84px,#ffb300 88px,#ffb300 94px,#99ff66 98px,#99ff66 104px,#80ff80 108px,#80ff80 154px,#99ff66 158px,#99ff66 164px,#ccff33 168px,#ccff33 174px,#ff8000 178px,#ff8000 184px,#ffcc00 188px,#ffcc00 194px,#99ff66 198px,#99ff66 204px,#ffb300 208px,#ffb300 214px,#ffcc00 218px,#ffcc00 224px,#ccff33 228px,#ccff33 234px,#ff8000 238px,#ff8000 244px,#99ff66 248px,#99ff66 254px,#8cff73 258px,#8cff73 264px,#99ff66 268px,#99ff66 274px,#ffb300 278px,#ffb300 284px,#ccff33 288px,#ccff33 294px,#e5ff1a 298px,#e5ff1a 304px,#ffcc00 308px,#ffcc00 314px,#bfff40 318px,#bfff40 324px,#99ff66 328px,#99ff66 334px,#e5ff1a 338px,#e5ff1a 344px,#ff2600 348px,#ff2600 354px,#ccff33 358px,#ccff33 364px,#99ff66 368px,#99ff66 374px,#ffcc00 378px,#ffcc00 384px,#ffb300 388px,#ffb300 404px,#ccff33 408px,#ccff33 414px,#e5ff1a 418px,#e5ff1a 424px,#99ff66 428px,#99ff66 434px,#80ff80 438px,#80ff80 444px,#99ff66 448px,#99ff66 454px,#8cff73 458px,#8cff73 464px,#80ff80 468px,#80ff80 484px,#b3ff4c 488px,#b3ff4c 494px,#e5ff1a 498px,#e5ff1a 514px,#99ff66 518px,#99ff66 524px,#ccff33 528px,#ccff33 534px,#99ff66 538px,#99ff66 544px,#8cff73 548px,#8cff73 564px,#b3ff4c 568px,#b3ff4c 574px,#ffb300 578px,#ffb300 584px,#d90000 588px,#d90000 594px,#ffb300 598px,#ffb300 604px,#ff4c00 608px,#ff4c00 614px,#ffcc00 618px,#ffcc00 624px,#ccff33 628px,#ccff33 644px,#ffb300 648px,#ffb300 654px,#ffe500 658px,#ffe500 664px,#b3ff4c 668px,#b3ff4c 674px,#99ff66 678px,#99ff66 684px,#ffb300 688px,#ffb300 694px,#990000 698px,#990000 704px,#ffb300 708px,#ffb300 714px,#ffcc00 718px,#ffcc00 724px,#e5ff1a 728px,#e5ff1a 734px,#ffb300 738px,#ffb300 744px,#d90000 748px,#d90000 754px,#ffcc00 758px,#ffcc00 764px,#ccff33 768px,#ccff33 774px,#99ff66 778px,#99ff66 784px,#ffb300 788px,#ffb300 794px,#ffe500 798px,#ffe500 804px,#ff5900 808px,#ff5900 814px,#ff6600 818px,#ff6600 824px,#ccff33 828px,#ccff33 834px,#ffcc00 838px,#ffcc00 844px,#99ff66 848px,#99ff66 854px,#ff8000 858px,#ff8000 864px,#ccff33 868px,#ccff33 894px,#ffb300 898px,#ffb300 904px,#d90000 908px,#d90000 914px,#ccff33 918px,#ccff33 924px,#99ff66 928px,#99ff66 934px,#80ff80 938px,#80ff80 944px,#99ff66 948px,#99ff66 954px,#ffcc00 958px,#ffcc00 964px,#ff0d00 968px,#ff0d00 974px,#ccff33 978px,#ccff33 984px,#99ff66 988px,#99ff66 994px,#ffb300 998px,#ffb300 1014px,#ccff33 1018px,#ccff33 1024px,#99ff66 1028px,#99ff66 1034px,#ccff33 1038px,#ccff33 1044px,#bfff40 1048px,#bfff40 1054px,#ccff33 1058px,#ccff33 1064px,#e5ff1a 1068px,#e5ff1a 1074px,#ffcc00 1078px,#ffcc00 1084px,#ccff33 1088px,#ccff33 1094px,#ff8000 1098px,#ff8000 1104px,#ff4000 1108px,#ff4000 1114px,#ffcc00 1118px,#ffcc00 1134px,#80ff80 1138px,#80ff80 1154px,#ccff33 1158px,#ccff33 1164px,#99ff66 1168px,#99ff66 1184px,#f2ff0d 1188px,#f2ff0d 1194px,#99ff66 1198px,#99ff66 1204px,#ccff33 1208px,#ccff33 1214px,#b3ff4c 1218px,#b3ff4c 1224px,#80ff80 1228px,#80ff80 1244px,#99ff66 1248px,#99ff66 1254px,#ccff33 1258px,#ccff33 1264px,#ffb300 1268px,#ffb300 1274px,#99ff66 1278px,#99ff66 1300px)"></div>
<div style="height:10px;background:linear-gradient(90deg,#f2ff0d 0px,#f2ff0d 24px,#ff6600 28px,#ff6600 34px,#f2ff0d 38px,#f2ff0d 44px,#a6ff59 48px,#a6ff59 54px,#f2ff0d 58px,#f2ff0d 64px,#e5ff1a 68px,#e5ff1a 74px,#a6ff59 78px,#a6ff59 84px,#ff8000 88px,#ff8000 94px,#99ff66 98px,#99ff66 104px,#80ff80 108px,#80ff80 154px,#99ff66 158px,#99ff66 164px,#e5ff1a 168px,#e5ff1a 174px,#ff0000 178px,#ff0000 184px,#ff8000 188px,#ff8000 194px,#99ff66 198px,#99ff66 204px,#ff8000 208px,#ff8000 214px,#ff6600 218px,#ff6600 224px,#e5ff1a 228px,#e5ff1a 234px,#f20000 238px,#f20000 244px,#a6ff59 248px,#a6ff59 254px,#80ff80 258px,#80ff80 264px,#99ff66 268px,#99ff66 274px,#ff8000 278px,#ff8000 284px,#e5ff1a 288px,#e5ff1a 304px,#ff8000 308px,#ff8000 314px,#e5ff1a 318px,#e5ff1a 324px,#99ff66 328px,#99ff66 334px,#e5ff1a 338px,#e5ff1a 344px,#ff0000 348px,#ff0000 354px,#e5ff1a 358px,#e5ff1a 364px,#99ff66 368px,#99ff66 374px,#ff9900 378px,#ff9900 384px,#ff8000 388px,#ff8000 394px,#ff9900 398px,#ff9900 404px,#d9ff26 408px,#d9ff26 424px,#99ff66 428px,#99ff66 434px,#80ff80 438px,#80ff80 444px,#99ff66 448px,#99ff66 454px,#80ff80 458px,#80ff80 484px,#99ff66 488px,#99ff66 494px,#d9ff26 498px,#d9ff26 504px,#e5ff1a 508px,#e5ff1a 514px,#a6ff59 518px,#a6ff59 524px,#d9ff26 528px,#d9ff26 534px,#99ff66 538px,#99ff66 544px,#80ff80 548px,#80ff80 564px,#99ff66 568px,#99ff66 574px,#ff8000 578px,#ff8000 584px,#800000 588px,#800000 594px,#ff6600 598px,#ff6600 604px,#b30000 608px,#b30000 614px,#ff8000 618px,#ff8000 624px,#f2ff0d 628px,#f2ff0d 634px,#e5ff1a 638px,#e5ff1a 644px,#ff9900 648px,#ff9900 654px,#e5ff1a 658px,#e5ff1a 664px,#99ff66 668px,#99ff66 684px,#ff8000 688px,#ff8000 694px,#990000 698px,#990000 704px,#ff8000 708px,#ff8000 714px,#ff9900 718px,#ff9900 724px,#e5ff1a 728px,#e5ff1a 734px,#ff8000 738px,#ff8000 744px,#800000 748px,#800000 754px,#ff8000 758px,#ff8000 764px,#e5ff1a 768px,#e5ff1a 774px,#99ff66 778px,#99ff66 784px,#ff9900 788px,#ff9900 794px,#ffe500 798px,#ffe500 804px,#ff8000 808px,#ff8000 814px,#e50000 818px,#e50000 824px,#e5ff1a 828px,#e5ff1a 834px,#ff8000 838px,#ff8000 844px,#d9ff26 848px,#d9ff26 854px,#e50000 858px,#e50000 864px,#f2ff0d 868px,#f2ff0d 884px,#e5ff1a 888px,#e5ff1a 894px,#ff6600 898px,#ff6600 904px,#800000 908px,#800000 914px,#e5ff1a 918px,#e5ff1a 924px,#99ff66 928px,#99ff66 934px,#80ff80 938px,#80ff80 944px,#a6ff59 948px,#a6ff59 954px,#ff8000 958px,#ff8000 964px,#800000 968px,#800000 974px,#f2ff0d 978px,#f2ff0d 984px,#a6ff59 988px,#a6ff59 994px,#ff6600 998px,#ff6600 1014px,#fff200 1018px,#fff200 1024px,#99ff66 1028px,#99ff66 1034px,#e5ff1a 1038px,#e5ff1a 1064px,#f2ff0d 1068px,#f2ff0d 1074px,#ff8000 1078px,#ff8000 1084px,#e5ff1a 1088px,#e5ff1a 1094px,#e50000 1098px,#e50000 1104px,#cc0000 1108px,#cc0000 1114px,#ff8000 1118px,#ff8000 1124px,#ff9900 1128px,#ff9900 1134px,#80ff80 1138px,#80ff80 1154px,#d9ff26 1158px,#d9ff26 1164px,#99ff66 1168px,#99ff66 1194px,#a6ff59 1198px,#a6ff59 1204px,#e5ff1a 1208px,#e5ff1a 1214px,#a6ff59 1218px,#a6ff59 1224px,#80ff80 1228px,#80ff80 1244px,#a6ff59 1248px,#a6ff59 1254px,#e5ff1a 1258px,#e5ff1a 1264px,#ff9900 1268px,#ff9900 1274px,#99ff66 1278px,#99ff66 1300px)"></div>
<div style="height:10px;background:linear-gradient(90deg,#ffb300 0px,#ffb300 24px,#ff2600 28px,#ff2600 34px,#ffb300 38px,#ffb300 44px,#ccff33 48px,#ccff33 54px,#ffb300 58px,#ffb300 64px,#e5ff1a 68px,#e5ff1a 74px,#ccff33 78px,#ccff33 84px,#ff8000 88px,#ff8000 94px,#99ff66 98px,#99ff66 104px,#80ff80 108px,#80ff80 144px,#99ff66 148px,#99ff66 164px,#e5ff1a 168px,#e5ff1a 174px,#ff0000 178px,#ff0000 184px,#ff8000 188px,#ff8000 194px,#99ff66 198px,#99ff66 204px,#ff8000 208px,#ff8000 214px,#ff2600 218px,#ff2600 224px,#e5ff1a 228px,#e5ff1a 234px,#d90000 238px,#d90000 244px,#ccff33 248px,#ccff33 254px,#99ff66 258px,#99ff66 274px,#ff8000 278px,#ff8000 284px,#e5ff1a 288px,#e5ff1a 304px,#ff8000 308px,#ff8000 314px,#e5ff1a 318px,#e5ff1a 324px,#99ff66 328px,#99ff66 334px,#e5ff1a 338px,#e5ff1a 344px,#ff0000 348px,#ff0000 354px,#e5ff1a 358px,#e5ff1a 364px,#99ff66 368px,#99ff66 374px,#ffe500 378px,#ffe500 384px,#ff8000 388px,#ff8000 394px,#ffe500 398px,#ffe500 404px,#b3ff4c 408px,#b3ff4c 424px,#8cff73 428px,#8cff73 434px,#80ff80 438px,#80ff80 444px,#99ff66 448px,#99ff66 454px,#80ff80 458px,#80ff80 484px,#8cff73 488px,#8cff73 494px,#b3ff4c 498px,#b3ff4c 504px,#e5ff1a 508px,#e5ff1a 514px,#ccff33 518px,#ccff33 524px,#b3ff4c 528px,#b3ff4c 534px,#8cff73 538px,#8cff73 544px,#80ff80 548px,#80ff80 564px,#99ff66 568px,#99ff66 574px,#ff8000 578px,#ff8000 584px,#800000 588px,#800000 594px,#ff2600 598px,#ff2600 604px,#990000 608px,#990000 614px,#ff8000 618px,#ff8000 624px,#ffb300 628px,#ffb300 634px,#e5ff1a 638px,#e5ff1a 644px,#ffe500 648px,#ffe500 654px,#e5ff1a 658px,#e5ff1a 664px,#99ff66 668px,#99ff66 684px,#ff8000 688px,#ff8000 694px,#cc0000 698px,#cc0000 704px,#ff8000 708px,#ff8000 714px,#ffe500 718px,#ffe500 724px,#e5ff1a 728px,#e5ff1a 734px,#ff8000 738px,#ff8000 744px,#800000 748px,#800000 754px,#ff8000 758px,#ff8000 764px,#e5ff1a 768px,#e5ff1a 774px,#99ff66 778px,#99ff66 784px,#ffe500 788px,#ffe500 794px,#ff4000 798px,#ff4000 804px,#ff8000 808px,#ff8000 814px,#b30000 818px,#b30000 824px,#e5ff1a 828px,#e5ff1a 834px,#ff8000 838px,#ff8000 854px,#b30000 858px,#b30000 864px,#ffb300 868px,#ffb300 884px,#e5ff1a 888px,#e5ff1a 894px,#ff2600 898px,#ff2600 904px,#800000 908px,#800000 914px,#e5ff1a 918px,#e5ff1a 924px,#99ff66 928px,#99ff66 944px,#ccff33 948px,#ccff33 954px,#ff8000 958px,#ff8000 964px,#800000 968px,#800000 974px,#ffb300 978px,#ffb300 984px,#ccff33 988px,#ccff33 994px,#ff0000 998px,#ff0000 1014px,#ff6600 1018px,#ff6600 1024px,#99ff66 1028px,#99ff66 1034px,#e5ff1a 1038px,#e5ff1a 1064px,#ffb300 1068px,#ffb300 1074px,#ff8000 1078px,#ff8000 1084px,#e5ff1a 1088px,#e5ff1a 1094px,#b30000 1098px,#b30000 1104px,#e50000 1108px,#e50000 1114px,#ff8000 1118px,#ff8000 1124px,#ffe500 1128px,#ffe500 1134px,#99ff66 1138px,#99ff66 1154px,#b3ff4c 1158px,#b3ff4c 1164px,#99ff66 1168px,#99ff66 1194px,#ccff33 1198px,#ccff33 1204px,#e5ff1a 1208px,#e5ff1a 1214px,#ccff33 1218px,#ccff33 1224px,#99ff66 1228px,#99ff66 1244px,#ccff33 1248px,#ccff33 1254px,#e5ff1a 1258px,#e5ff1a 1264px,#ffe500 1268px,#ffe500 1274px,#99ff66 1278px,#99ff66 1300px)"></div>
<div style="height:10px;background:linear-gradient(90deg,#ff8000 0px,#ff8000 24px,#e50000 28px,#e50000 34px,#ff6600 38px,#ff6600 44px,#e5ff1a 48px,#e5ff1a 54px,#ff9900 58px,#ff9900 64px,#e5ff1a 68px,#e5ff1a 84px,#ff8000 88px,#ff8000 94px,#99ff66 98px,#99ff66 104px,#80ff80 108px,#80ff80 144px,#99ff66 148px,#99ff66 164px,#e5ff1a 168px,#e5ff1a 174px,#ff1a00 178px,#ff1a00 184px,#ff9900 188px,#ff9900 194px,#99ff66 198px,#99ff66 204px,#ff9900 208px,#ff9900 214px,#ff1a00 218px,#ff1a00 224px,#e5ff1a 228px,#e5ff1a 234px,#cc0000 238px,#cc0000 244px,#e5ff1a 248px,#e5ff1a 254px,#99ff66 258px,#99ff66 274px,#ff9900 278px,#ff9900 284px,#f2ff0d 288px,#f2ff0d 294px,#e5ff1a 298px,#e5ff1a 304px,#ff9900 308px,#ff9900 314px,#e5ff1a 318px,#e5ff1a 324px,#99ff66 328px,#99ff66 334px,#d9ff26 338px,#d9ff26 344px,#ff1a00 348px,#ff1a00 354px,#e5ff1a 358px,#e5ff1a 364px,#99ff66 368px,#99ff66 374px,#ccff33 378px,#ccff33 384px,#ffa600 388px,#ffa600 394px,#d9ff26 398px,#d9ff26 404px,#99ff66 408px,#99ff66 424px,#80ff80 428px,#80ff80 444px,#99ff66 448px,#99ff66 454px,#80ff80 458px,#80ff80 494px,#99ff66 498px,#99ff66 504px,#d9ff26 508px,#d9ff26 514px,#e5ff1a 518px,#e5ff1a 524px,#99ff66 528px,#99ff66 534px,#80ff80 538px,#80ff80 564px,#99ff66 568px,#99ff66 574px,#ff9900 578px,#ff9900 584px,#800000 588px,#800000 594px,#f20000 598px,#f20000 604px,#800000 608px,#800000 614px,#ff8000 618px,#ff8000 624px,#ff9900 628px,#ff9900 634px,#e5ff1a 638px,#e5ff1a 654px,#f2ff0d 658px,#f2ff0d 664px,#99ff66 668px,#99ff66 684px,#ff9900 688px,#ff9900 694px,#ff0000 698px,#ff0000 704px,#ff8000 708px,#ff8000 714px,#e5ff1a 718px,#e5ff1a 734px,#ff9900 738px,#ff9900 744px,#a60000 748px,#a60000 754px,#ff8000 758px,#ff8000 764px,#e5ff1a 768px,#e5ff1a 774px,#a6ff59 778px,#a6ff59 784px,#f2ff0d 788px,#f2ff0d 794px,#b30000 798px,#b30000 804px,#ff6600 808px,#ff6600 814px,#a60000 818px,#a60000 824px,#e5ff1a 828px,#e5ff1a 834px,#ff8000 838px,#ff8000 844px,#ff0000 848px,#ff0000 854px,#800000 858px,#800000 864px,#ff9900 868px,#ff9900 884px,#e5ff1a 888px,#e5ff1a 894px,#ff0000 898px,#ff0000 904px,#800000 908px,#800000 914px,#e5ff1a 918px,#e5ff1a 924px,#a6ff59 928px,#a6ff59 934px,#bfff40 938px,#bfff40 944px,#f2ff0d 948px,#f2ff0d 954px,#ff6600 958px,#ff6600 964px,#800000 968px,#800000 974px,#ff6600 978px,#ff6600 984px,#f2ff0d 988px,#f2ff0d 994px,#b30000 998px,#b30000 1014px,#ff0000 1018px,#ff0000 1024px,#a6ff59 1028px,#a6ff59 1034px,#d9ff26 1038px,#d9ff26 1044px,#f2ff0d 1048px,#f2ff0d 1064px,#ff8000 1068px,#ff8000 1074px,#ff9900 1078px,#ff9900 1084px,#e5ff1a 1088px,#e5ff1a 1094px,#990000 1098px,#990000 1104px,#ff1a00 1108px,#ff1a00 1114px,#ff8000 1118px,#ff8000 1124px,#d9ff26 1128px,#d9ff26 1134px,#99ff66 1138px,#99ff66 1144px,#bfff40 1148px,#bfff40 1154px,#99ff66 1158px,#99ff66 1164px,#a6ff59 1168px,#a6ff59 1174px,#99ff66 1178px,#99ff66 1194px,#e5ff1a 1198px,#e5ff1a 1204px,#f2ff0d 1208px,#f2ff0d 1214px,#e5ff1a 1218px,#e5ff1a 1224px,#a6ff59 1228px,#a6ff59 1234px,#bfff40 1238px,#bfff40 1244px,#e5ff1a 1248px,#e5ff1a 1274px,#99ff66 1278px,#99ff66 1300px)"></div>
<div style="height:10px;background:linear-gradient(90deg,#ff8000 0px,#ff8000 24px,#b30000 28px,#b30000 34px,#ff2600 38px,#ff2600 44px,#e5ff1a 48px,#e5ff1a 54px,#ffe500 58px,#ffe500 64px,#e5ff1a 68px,#e5ff1a 84px,#ff8000 88px,#ff8000 94px,#99ff66 98px,#99ff66 104px,#80ff80 108px,#80ff80 144px,#8cff73 148px,#8cff73 154px,#99ff66 158px,#99ff66 164px,#e5ff1a 168px,#e5ff1a 174px,#ff5900 178px,#ff5900 184px,#ffe500 188px,#ffe500 194px,#99ff66 198px,#99ff66 204px,#ffe500 208px,#ffe500 214px,#ff5900 218px,#ff5900 224px,#e5ff1a 228px,#e5ff1a 234px,#e50000 238px,#e50000 244px,#e5ff1a 248px,#e5ff1a 254px,#99ff66 258px,#99ff66 274px,#ffe500 278px,#ffe500 284px,#ffb300 288px,#ffb300 294px,#e5ff1a 298px,#e5ff1a 304px,#ffe500 308px,#ffe500 314px,#e5ff1a 318px,#e5ff1a 324px,#99ff66 328px,#99ff66 334px,#b3ff4c 338px,#b3ff4c 344px,#ff5900 348px,#ff5900 354px,#e5ff1a 358px,#e5ff1a 364px,#99ff66 368px,#99ff66 374px,#a6ff59 378px,#a6ff59 384px,#f2ff0d 388px,#f2ff0d 394px,#b3ff4c 398px,#b3ff4c 404px,#99ff66 408px,#99ff66 424px,#80ff80 428px,#80ff80 444px,#99ff66 448px,#99ff66 454px,#80ff80 458px,#80ff80 494px,#8cff73 498px,#8cff73 504px,#b3ff4c 508px,#b3ff4c 514px,#e5ff1a 518px,#e5ff1a 524px,#99ff66 528px,#99ff66 534px,#80ff80 538px,#80ff80 564px,#99ff66 568px,#99ff66 574px,#ffe500 578px,#ffe500 584px,#800000 588px,#800000 594px,#d90000 598px,#d90000 604px,#800000 608px,#800000 614px,#ff8000 618px,#ff8000 624px,#ffe500 628px,#ffe500 634px,#e5ff1a 638px,#e5ff1a 654px,#ffb300 658px,#ffb300 664px,#99ff66 668px,#99ff66 684px,#ffe500 688px,#ffe500 694px,#ff0000 698px,#ff0000 704px,#ff8000 708px,#ff8000 714px,#e5ff1a 718px,#e5ff1a 734px,#ffe500 738px,#ffe500 744px,#ff2600 748px,#ff2600 754px,#ff8000 758px,#ff8000 764px,#e5ff1a 768px,#e5ff1a 774px,#ccff33 778px,#ccff33 784px,#ffb300 788px,#ffb300 794px,#990000 798px,#990000 804px,#ff2600 808px,#ff2600 824px,#e5ff1a 828px,#e5ff1a 834px,#ff8000 838px,#ff8000 844px,#ff0000 848px,#ff0000 854px,#800000 858px,#800000 864px,#ffe500 868px,#ffe500 884px,#e5ff1a 888px,#e5ff1a 894px,#ff0000 898px,#ff0000 904px,#800000 908px,#800000 914px,#e5ff1a 918px,#e5ff1a 924px,#ccff33 928px,#ccff33 934px,#ffcc00 938px,#ffcc00 944px,#ffb300 948px,#ffb300 954px,#ff2600 958px,#ff2600 964px,#800000 968px,#800000 974px,#ff2600 978px,#ff2600 984px,#ffb300 988px,#ffb300 994px,#990000 998px,#990000 1014px,#ff0000 1018px,#ff0000 1024px,#ccff33 1028px,#ccff33 1034px,#b3ff4c 1038px,#b3ff4c 1044px,#ffb300 1048px,#ffb300 1064px,#ff8000 1068px,#ff8000 1074px,#ffe500 1078px,#ffe500 1084px,#e5ff1a 1088px,#e5ff1a 1094px,#cc0000 1098px,#cc0000 1104px,#ff5900 1108px,#ff5900 1114px,#ff8000 1118px,#ff8000 1124px,#b3ff4c 1128px,#b3ff4c 1134px,#99ff66 1138px,#99ff66 1144px,#ffcc00 1148px,#ffcc00 1154px,#99ff66 1158px,#99ff66 1164px,#ccff33 1168px,#ccff33 1174px,#99ff66 1178px,#99ff66 1194px,#e5ff1a 1198px,#e5ff1a 1204px,#ffb300 1208px,#ffb300 1214px,#e5ff1a 1218px,#e5ff1a 1224px,#ccff33 1228px,#ccff33 1234px,#ffcc00 1238px,#ffcc00 1244px,#e5ff1a 1248px,#e5ff1a 1274px,#99ff66 1278px,#99ff66 1300px)"></div>
<div style="height:10px;background:linear-gradient(90deg,#ff8000 0px,#ff8000 24px,#990000 28px,#990000 34px,#ff1a00 38px,#ff1a00 44px,#e5ff1a 48px,#e5ff1a 64px,#d9ff26 68px,#d9ff26 74px,#e5ff1a 78px,#e5ff1a 84px,#ffa600 88px,#ffa600 94px,#99ff66 98px,#99ff66 104px,#80ff80 108px,#80ff80 154px,#99ff66 158px,#99ff66 164px,#d9ff26 168px,#d9ff26 174px,#ff9900 178px,#ff9900 184px,#d9ff26 188px,#d9ff26 194px,#99ff66 198px,#99ff66 204px,#d9ff26 208px,#d9ff26 214px,#ff8000 218px,#ff8000 224px,#e5ff1a 228px,#e5ff1a 234px,#ff2600 238px,#ff2600 244px,#e5ff1a 248px,#e5ff1a 254px,#a6ff59 258px,#a6ff59 264px,#99ff66 268px,#99ff66 274px,#e5ff1a 278px,#e5ff1a 284px,#ff8000 288px,#ff8000 294px,#f2ff0d 298px,#f2ff0d 304px,#e5ff1a 308px,#e5ff1a 324px,#99ff66 328px,#99ff66 344px,#ff9900 348px,#ff9900 354px,#e5ff1a 358px,#e5ff1a 364px,#99ff66 368px,#99ff66 374px,#80ff80 378px,#80ff80 384px,#99ff66 388px,#99ff66 394px,#a6ff59 398px,#a6ff59 404px,#99ff66 408px,#99ff66 424px,#80ff80 428px,#80ff80 444px,#99ff66 448px,#99ff66 454px,#80ff80 458px,#80ff80 504px,#99ff66 508px,#99ff66 514px,#e5ff1a 518px,#e5ff1a 524px,#99ff66 528px,#99ff66 534px,#80ff80 538px,#80ff80 564px,#99ff66 568px,#99ff66 574px,#e5ff1a 578px,#e5ff1a 584px,#990000 588px,#990000 594px,#bf0000 598px,#bf0000 604px,#8c0000 608px,#8c0000 614px,#ff8000 618px,#ff8000 624px,#f2ff0d 628px,#f2ff0d 634px,#e5ff1a 638px,#e5ff1a 654px,#ff9900 658px,#ff9900 664px,#99ff66 668px,#99ff66 684px,#e5ff1a 688px,#e5ff1a 694px,#ff0000 698px,#ff0000 704px,#ff8000 708px,#ff8000 714px,#e5ff1a 718px,#e5ff1a 734px,#f2ff0d 738px,#f2ff0d 744px,#ff9900 748px,#ff9900 754px,#ff8000 758px,#ff8000 764px,#e5ff1a 768px,#e5ff1a 784px,#ff8000 788px,#ff8000 794px,#990000 798px,#990000 804px,#ff1a00 808px,#ff1a00 814px,#ff9900 818px,#ff9900 824px,#d9ff26 828px,#d9ff26 834px,#ff9900 838px,#ff9900 844px,#ff0000 848px,#ff0000 854px,#a60000 858px,#a60000 864px,#e5ff1a 868px,#e5ff1a 894px,#ff0000 898px,#ff0000 904px,#800000 908px,#800000 914px,#f2ff0d 918px,#f2ff0d 924px,#e5ff1a 928px,#e5ff1a 934px,#ff8000 938px,#ff8000 954px,#ff1a00 958px,#ff1a00 964px,#990000 968px,#990000 974px,#ff0000 978px,#ff0000 984px,#ff8000 988px,#ff8000 994px,#990000 998px,#990000 1004px,#a60000 1008px,#a60000 1014px,#ff0000 1018px,#ff0000 1024px,#e5ff1a 1028px,#e5ff1a 1034px,#99ff66 1038px,#99ff66 1044px,#ff8000 1048px,#ff8000 1054px,#ff6600 1058px,#ff6600 1064px,#ff8000 1068px,#ff8000 1074px,#d9ff26 1078px,#d9ff26 1094px,#ff1a00 1098px,#ff1a00 1104px,#ff8000 1108px,#ff8000 1114px,#ff9900 1118px,#ff9900 1124px,#99ff66 1128px,#99ff66 1144px,#ff8000 1148px,#ff8000 1154px,#99ff66 1158px,#99ff66 1164px,#e5ff1a 1168px,#e5ff1a 1174px,#a6ff59 1178px,#a6ff59 1184px,#bfff40 1188px,#bfff40 1194px,#d9ff26 1198px,#d9ff26 1204px,#ff6600 1208px,#ff6600 1214px,#e5ff1a 1218px,#e5ff1a 1234px,#ff8000 1238px,#ff8000 1244px,#e5ff1a 1248px,#e5ff1a 1254px,#d9ff26 1258px,#d9ff26 1264px,#f2ff0d 1268px,#f2ff0d 1274px,#99ff66 1278px,#99ff66 1300px)"></div>
<div style="height:10px;background:linear-gradient(90deg,#ff8000 0px,#ff8000 24px,#cc0000 28px,#cc0000 34px,#ff5900 38px,#ff5900 44px,#e5ff1a 48px,#e5ff1a 64px,#b3ff4c 68px,#b3ff4c 74px,#e5ff1a 78px,#e5ff1a 84px,#f2ff0d 88px,#f2ff0d 94px,#8cff73 98px,#8cff73 104px,#80ff80 108px,#80ff80 124px,#99ff66 128px,#99ff66 134px,#80ff80 138px,#80ff80 154px,#8cff73 158px,#8cff73 164px,#b3ff4c 168px,#b3ff4c 174px,#ffe500 178px,#ffe500 184px,#b3ff4c 188px,#b3ff4c 194px,#99ff66 198px,#99ff66 204px,#b3ff4c 208px,#b3ff4c 214px,#ff8000 218px,#ff8000 224px,#e5ff1a 228px,#e5ff1a 234px,#ffbf00 238px,#ffbf00 244px,#e5ff1a 248px,#e5ff1a 254px,#ccff33 258px,#ccff33 264px,#99ff66 268px,#99ff66 274px,#e5ff1a 278px,#e5ff1a 284px,#ff8000 288px,#ff8000 294px,#ffb300 298px,#ffb300 304px,#e5ff1a 308px,#e5ff1a 324px,#99ff66 328px,#99ff66 344px,#ffe500 348px,#ffe500 354px,#e5ff1a 358px,#e5ff1a 364px,#99ff66 368px,#99ff66 374px,#80ff80 378px,#80ff80 384px,#99ff66 388px,#99ff66 394px,#ccff33 398px,#ccff33 404px,#99ff66 408px,#99ff66 424px,#80ff80 428px,#80ff80 444px,#99ff66 448px,#99ff66 454px,#80ff80 458px,#80ff80 494px,#99ff66 498px,#99ff66 514px,#e5ff1a 518px,#e5ff1a 524px,#99ff66 528px,#99ff66 544px,#80ff80 548px,#80ff80 554px,#99ff66 558px,#99ff66 574px,#e5ff1a 578px,#e5ff1a 584px,#cc0000 588px,#cc0000 594px,#bf0000 598px,#bf0000 604px,#a60000 608px,#a60000 614px,#ff8000 618px,#ff8000 624px,#ffb300 628px,#ffb300 634px,#e5ff1a 638px,#e5ff1a 654px,#ffe500 658px,#ffe500 664px,#99ff66 668px,#99ff66 684px,#e5ff1a 688px,#e5ff1a 694px,#ff0000 698px,#ff0000 704px,#ff8000 708px,#ff8000 714px,#e5ff1a 718px,#e5ff1a 734px,#ffb300 738px,#ffb300 744px,#ffe500 748px,#ffe500 754px,#ff8000 758px,#ff8000 764px,#e5ff1a 768px,#e5ff1a 784px,#ff8000 788px,#ff8000 794px,#cc0000 798px,#cc0000 804px,#ff5900 808px,#ff5900 814px,#ffe500 818px,#ffe500 824px,#b3ff4c 828px,#b3ff4c 834px,#ffe500 838px,#ffe500 844px,#ff0000 848px,#ff0000 854px,#ff2600 858px,#ff2600 864px,#e5ff1a 868px,#e5ff1a 894px,#ff0000 898px,#ff0000 904px,#800000 908px,#800000 914px,#ffb300 918px,#ffb300 924px,#e5ff1a 928px,#e5ff1a 934px,#ff8000 938px,#ff8000 954px,#ff5900 958px,#ff5900 964px,#cc0000 968px,#cc0000 974px,#ff0000 978px,#ff0000 984px,#ff8000 988px,#ff8000 994px,#cc0000 998px,#cc0000 1004px,#ff2600 1008px,#ff2600 1014px,#ff0000 1018px,#ff0000 1024px,#e5ff1a 1028px,#e5ff1a 1034px,#99ff66 1038px,#99ff66 1044px,#ff8000 1048px,#ff8000 1054px,#ff2600 1058px,#ff2600 1064px,#ff8000 1068px,#ff8000 1074px,#b3ff4c 1078px,#b3ff4c 1094px,#ff5900 1098px,#ff5900 1104px,#ff8000 1108px,#ff8000 1114px,#ffe500 1118px,#ffe500 1124px,#99ff66 1128px,#99ff66 1144px,#ff8000 1148px,#ff8000 1154px,#99ff66 1158px,#99ff66 1164px,#e5ff1a 1168px,#e5ff1a 1174px,#ccff33 1178px,#ccff33 1184px,#ffcc00 1188px,#ffcc00 1194px,#b3ff4c 1198px,#b3ff4c 1204px,#ff2600 1208px,#ff2600 1214px,#e5ff1a 1218px,#e5ff1a 1234px,#ff8000 1238px,#ff8000 1244px,#e5ff1a 1248px,#e5ff1a 1254px,#b3ff4c 1258px,#b3ff4c 1264px,#ffb300 1268px,#ffb300 1274px,#99ff66 1278px,#99ff66 1300px)"></div>
<div style="height:10px;background:linear-gradient(90deg,#ff6600 0px,#ff6600 24px,#ff1a00 28px,#ff1a00 34px,#ff8000 38px,#ff8000 44px,#e5ff1a 48px,#e5ff1a 64px,#bfff40 68px,#bfff40 74px,#e5ff1a 78px,#e5ff1a 84px,#99ff66 88px,#99ff66 94px,#80ff80 98px,#80ff80 124px,#a6ff59 128px,#a6ff59 134px,#80ff80 138px,#80ff80 164px,#a6ff59 168px,#a6ff59 174px,#e5ff1a 178px,#e5ff1a 184px,#a6ff59 188px,#a6ff59 194px,#bfff40 198px,#bfff40 204px,#a6ff59 208px,#a6ff59 214px,#ff9900 218px,#ff9900 224px,#f2ff0d 228px,#f2ff0d 234px,#e5ff1a 238px,#e5ff1a 264px,#99ff66 268px,#99ff66 274px,#e5ff1a 278px,#e5ff1a 284px,#ff6600 288px,#ff6600 294px,#ff8000 298px,#ff8000 304px,#e5ff1a 308px,#e5ff1a 324px,#a6ff59 328px,#a6ff59 344px,#e5ff1a 348px,#e5ff1a 364px,#a6ff59 368px,#a6ff59 374px,#80ff80 378px,#80ff80 384px,#99ff66 388px,#99ff66 394px,#e5ff1a 398px,#e5ff1a 404px,#99ff66 408px,#99ff66 424px,#80ff80 428px,#80ff80 444px,#a6ff59 448px,#a6ff59 454px,#80ff80 458px,#80ff80 494px,#a6ff59 498px,#a6ff59 504px,#bfff40 508px,#bfff40 514px,#e5ff1a 518px,#e5ff1a 524px,#99ff66 528px,#99ff66 544px,#80ff80 548px,#80ff80 554px,#a6ff59 558px,#a6ff59 574px,#e5ff1a 578px,#e5ff1a 584px,#e50000 588px,#e50000 594px,#cc0000 598px,#cc0000 614px,#ff8000 618px,#ff8000 624px,#ff6600 628px,#ff6600 634px,#e5ff1a 638px,#e5ff1a 654px,#f2ff0d 658px,#f2ff0d 664px,#99ff66 668px,#99ff66 674px,#a6ff59 678px,#a6ff59 684px,#fff200 688px,#fff200 694px,#e50000 698px,#e50000 704px,#ff6600 708px,#ff6600 714px,#e5ff1a 718px,#e5ff1a 734px,#ff8000 738px,#ff8000 744px,#e5ff1a 748px,#e5ff1a 754px,#ff6600 758px,#ff6600 764px,#f2ff0d 768px,#f2ff0d 774px,#e5ff1a 778px,#e5ff1a 784px,#ff6600 788px,#ff6600 794px,#e50000 798px,#e50000 804px,#ff8000 808px,#ff8000 814px,#e5ff1a 818px,#e5ff1a 824px,#99ff66 828px,#99ff66 834px,#d9ff26 838px,#d9ff26 844px,#ff0000 848px,#ff0000 854px,#ff6600 858px,#ff6600 864px,#e5ff1a 868px,#e5ff1a 894px,#ff0000 898px,#ff0000 904px,#800000 908px,#800000 914px,#ff8000 918px,#ff8000 924px,#e5ff1a 928px,#e5ff1a 934px,#ff8000 938px,#ff8000 954px,#ff6600 958px,#ff6600 964px,#ff0000 968px,#ff0000 984px,#ff5900 988px,#ff5900 994px,#ff1a00 998px,#ff1a00 1004px,#ff9900 1008px,#ff9900 1014px,#ff0000 1018px,#ff0000 1024px,#e5ff1a 1028px,#e5ff1a 1034px,#a6ff59 1038px,#a6ff59 1044px,#ff8000 1048px,#ff8000 1054px,#ff0000 1058px,#ff0000 1064px,#ff9900 1068px,#ff9900 1074px,#99ff66 1078px,#99ff66 1094px,#ff9900 1098px,#ff9900 1104px,#ff8000 1108px,#ff8000 1114px,#e5ff1a 1118px,#e5ff1a 1124px,#99ff66 1128px,#99ff66 1144px,#ffa600 1148px,#ffa600 1154px,#a6ff59 1158px,#a6ff59 1164px,#fff200 1168px,#fff200 1174px,#f2ff0d 1178px,#f2ff0d 1184px,#ff8000 1188px,#ff8000 1194px,#a6ff59 1198px,#a6ff59 1204px,#f20000 1208px,#f20000 1214px,#e5ff1a 1218px,#e5ff1a 1224px,#d9ff26 1228px,#d9ff26 1234px,#ffa600 1238px,#ffa600 1244px,#d9ff26 1248px,#d9ff26 1254px,#a6ff59 1258px,#a6ff59 1264px,#ff8000 1268px,#ff8000 1274px,#99ff66 1278px,#99ff66 1300px)"></div>
<div style="height:10px;background:linear-gradient(90deg,#ff2600 0px,#ff2600 24px,#ff5900 28px,#ff5900 34px,#ff8000 38px,#ff8000 44px,#e5ff1a 48px,#e5ff1a 64px,#ffcc00 68px,#ffcc00 74px,#e5ff1a 78px,#e5ff1a 84px,#99ff66 88px,#99ff66 94px,#80ff80 98px,#80ff80 124px,#ccff33 128px,#ccff33 134px,#99ff66 138px,#99ff66 144px,#80ff80 148px,#80ff80 154px,#99ff66 158px,#99ff66 164px,#ccff33 168px,#ccff33 174px,#e5ff1a 178px,#e5ff1a 184px,#ccff33 188px,#ccff33 194px,#ffcc00 198px,#ffcc00 204px,#ccff33 208px,#ccff33 214px,#ffe500 218px,#ffe500 224px,#ffb300 228px,#ffb300 234px,#e5ff1a 238px,#e5ff1a 264px,#99ff66 268px,#99ff66 274px,#e5ff1a 278px,#e5ff1a 284px,#ff2600 288px,#ff2600 294px,#ff8000 298px,#ff8000 304px,#e5ff1a 308px,#e5ff1a 324px,#ccff33 328px,#ccff33 344px,#e5ff1a 348px,#e5ff1a 364px,#ccff33 368px,#ccff33 374px,#99ff66 378px,#99ff66 394px,#e5ff1a 398px,#e5ff1a 404px,#99ff66 408px,#99ff66 444px,#ccff33 448px,#ccff33 454px,#99ff66 458px,#99ff66 464px,#80ff80 468px,#80ff80 494px,#ccff33 498px,#ccff33 504px,#ffcc00 508px,#ffcc00 514px,#e5ff1a 518px,#e5ff1a 524px,#99ff66 528px,#99ff66 554px,#ccff33 558px,#ccff33 574px,#e5ff1a 578px,#e5ff1a 584px,#b30000 588px,#b30000 594px,#e50000 598px,#e50000 614px,#ff8000 618px,#ff8000 624px,#ff2600 628px,#ff2600 634px,#e5ff1a 638px,#e5ff1a 654px,#ffb300 658px,#ffb300 664px,#99ff66 668px,#99ff66 674px,#ccff33 678px,#ccff33 684px,#ff6600 688px,#ff6600 694px,#b30000 698px,#b30000 704px,#ff2600 708px,#ff2600 714px,#e5ff1a 718px,#e5ff1a 734px,#ff8000 738px,#ff8000 744px,#e5ff1a 748px,#e5ff1a 754px,#ff2600 758px,#ff2600 764px,#ffb300 768px,#ffb300 774px,#e5ff1a 778px,#e5ff1a 784px,#ff2600 788px,#ff2600 794px,#b30000 798px,#b30000 804px,#ff8000 808px,#ff8000 814px,#e5ff1a 818px,#e5ff1a 824px,#99ff66 828px,#99ff66 834px,#b3ff4c 838px,#b3ff4c 844px,#ff0000 848px,#ff0000 854px,#ff2600 858px,#ff2600 864px,#e5ff1a 868px,#e5ff1a 894px,#ff0000 898px,#ff0000 904px,#800000 908px,#800000 914px,#ff8000 918px,#ff8000 924px,#e5ff1a 928px,#e5ff1a 934px,#ff8000 938px,#ff8000 954px,#ff2600 958px,#ff2600 964px,#ff0000 968px,#ff0000 984px,#d90000 988px,#d90000 994px,#ff5900 998px,#ff5900 1004px,#ffe500 1008px,#ffe500 1014px,#ff0000 1018px,#ff0000 1024px,#e5ff1a 1028px,#e5ff1a 1034px,#ccff33 1038px,#ccff33 1044px,#ff8000 1048px,#ff8000 1054px,#ff0000 1058px,#ff0000 1064px,#ffe500 1068px,#ffe500 1074px,#99ff66 1078px,#99ff66 1094px,#ffe500 1098px,#ffe500 1104px,#ff8000 1108px,#ff8000 1114px,#e5ff1a 1118px,#e5ff1a 1124px,#99ff66 1128px,#99ff66 1144px,#f2ff0d 1148px,#f2ff0d 1154px,#ccff33 1158px,#ccff33 1164px,#ff6600 1168px,#ff6600 1174px,#ffb300 1178px,#ffb300 1184px,#ff8000 1188px,#ff8000 1194px,#ccff33 1198px,#ccff33 1204px,#d90000 1208px,#d90000 1214px,#e5ff1a 1218px,#e5ff1a 1224px,#b3ff4c 1228px,#b3ff4c 1234px,#f2ff0d 1238px,#f2ff0d 1244px,#b3ff4c 1248px,#b3ff4c 1254px,#ccff33 1258px,#ccff33 1264px,#ff8000 1268px,#ff8000 1274px,#99ff66 1278px,#99ff66 1300px)"></div>
<div style="height:10px;background:linear-gradient(90deg,#ff0000 0px,#ff0000 24px,#ff8000 28px,#ff8000 44px,#e5ff1a 48px,#e5ff1a 64px,#ff8000 68px,#ff8000 74px,#e5ff1a 78px,#e5ff1a 84px,#a6ff59 88px,#a6ff59 94px,#80ff80 98px,#80ff80 124px,#f2ff0d 128px,#f2ff0d 134px,#a6ff59 138px,#a6ff59 144px,#80ff80 148px,#80ff80 154px,#a6ff59 158px,#a6ff59 164px,#f2ff0d 168px,#f2ff0d 174px,#e5ff1a 178px,#e5ff1a 194px,#ff8000 198px,#ff8000 204px,#e5ff1a 208px,#e5ff1a 214px,#f2ff0d 218px,#f2ff0d 224px,#ff6600 228px,#ff6600 234px,#fff200 238px,#fff200 244px,#e5ff1a 248px,#e5ff1a 264px,#99ff66 268px,#99ff66 274px,#f2ff0d 278px,#f2ff0d 284px,#ff1a00 288px,#ff1a00 294px,#ff9900 298px,#ff9900 304px,#e5ff1a 308px,#e5ff1a 314px,#f2ff0d 318px,#f2ff0d 344px,#e5ff1a 348px,#e5ff1a 364px,#f2ff0d 368px,#f2ff0d 374px,#a6ff59 378px,#a6ff59 394px,#fff200 398px,#fff200 404px,#a6ff59 408px,#a6ff59 424px,#99ff66 428px,#99ff66 444px,#e5ff1a 448px,#e5ff1a 454px,#99ff66 458px,#99ff66 464px,#80ff80 468px,#80ff80 494px,#f2ff0d 498px,#f2ff0d 504px,#ff6600 508px,#ff6600 514px,#f2ff0d 518px,#f2ff0d 524px,#bfff40 528px,#bfff40 534px,#a6ff59 538px,#a6ff59 554px,#f2ff0d 558px,#f2ff0d 564px,#e5ff1a 568px,#e5ff1a 574px,#f2ff0d 578px,#f2ff0d 584px,#800000 588px,#800000 594px,#e50000 598px,#e50000 604px,#ff0000 608px,#ff0000 614px,#ff6600 618px,#ff6600 624px,#f20000 628px,#f20000 634px,#f2ff0d 638px,#f2ff0d 654px,#ff6600 658px,#ff6600 664px,#bfff40 668px,#bfff40 674px,#e5ff1a 678px,#e5ff1a 684px,#e50000 688px,#e50000 694px,#800000 698px,#800000 704px,#ff0000 708px,#ff0000 714px,#e5ff1a 718px,#e5ff1a 724px,#f2ff0d 728px,#f2ff0d 734px,#ff6600 738px,#ff6600 744px,#f2ff0d 748px,#f2ff0d 754px,#ff0000 758px,#ff0000 764px,#ff8000 768px,#ff8000 774px,#e5ff1a 778px,#e5ff1a 784px,#e50000 788px,#e50000 794px,#800000 798px,#800000 804px,#ff8000 808px,#ff8000 814px,#e5ff1a 818px,#e5ff1a 824px,#99ff66 828px,#99ff66 834px,#a6ff59 838px,#a6ff59 844px,#ff0000 848px,#ff0000 854px,#e50000 858px,#e50000 864px,#f2ff0d 868px,#f2ff0d 874px,#e5ff1a 878px,#e5ff1a 884px,#f2ff0d 888px,#f2ff0d 894px,#ff0000 898px,#ff0000 904px,#800000 908px,#800000 914px,#ff8000 918px,#ff8000 924px,#e5ff1a 928px,#e5ff1a 934px,#ff9900 938px,#ff9900 944px,#ff8000 948px,#ff8000 954px,#ff0000 958px,#ff0000 964px,#e50000 968px,#e50000 974px,#ff1a00 978px,#ff1a00 984px,#800000 988px,#800000 994px,#ff5900 998px,#ff5900 1004px,#fff200 1008px,#fff200 1014px,#ff0000 1018px,#ff0000 1024px,#e5ff1a 1028px,#e5ff1a 1044px,#ff8000 1048px,#ff8000 1054px,#ff0000 1058px,#ff0000 1064px,#fff200 1068px,#fff200 1074px,#a6ff59 1078px,#a6ff59 1094px,#e5ff1a 1098px,#e5ff1a 1104px,#ff6600 1108px,#ff6600 1114px,#f2ff0d 1118px,#f2ff0d 1124px,#a6ff59 1128px,#a6ff59 1154px,#e5ff1a 1158px,#e5ff1a 1164px,#ff0000 1168px,#ff0000 1174px,#ff8000 1178px,#ff8000 1184px,#ff9900 1188px,#ff9900 1194px,#f2ff0d 1198px,#f2ff0d 1204px,#b30000 1208px,#b30000 1214px,#f2ff0d 1218px,#f2ff0d 1224px,#a6ff59 1228px,#a6ff59 1234px,#99ff66 1238px,#99ff66 1244px,#a6ff59 1248px,#a6ff59 1254px,#e5ff1a 1258px,#e5ff1a 1264px,#ff8000 1268px,#ff8000 1274px,#99ff66 1278px,#99ff66 1300px)"></div>
<div style="height:10px;background:linear-gradient(90deg,#ff0000 0px,#ff0000 24px,#ff8000 28px,#ff8000 44px,#e5ff1a 48px,#e5ff1a 64px,#ff8000 68px,#ff8000 74px,#e5ff1a 78px,#e5ff1a 84px,#ccff33 88px,#ccff33 94px,#99ff66 98px,#99ff66 104px,#80ff80 108px,#80ff80 124px,#ffb300 128px,#ffb300 134px,#ccff33 138px,#ccff33 144px,#99ff66 148px,#99ff66 154px,#ccff33 158px,#ccff33 164px,#ffb300 168px,#ffb300 174px,#e5ff1a 178px,#e5ff1a 194px,#ff8000 198px,#ff8000 204px,#e5ff1a 208px,#e5ff1a 214px,#ffb300 218px,#ffb300 224px,#ff2600 228px,#ff2600 234px,#ff6600 238px,#ff6600 244px,#e5ff1a 248px,#e5ff1a 264px,#99ff66 268px,#99ff66 274px,#ffb300 278px,#ffb300 284px,#ff5900 288px,#ff5900 294px,#ffe500 298px,#ffe500 304px,#e5ff1a 308px,#e5ff1a 314px,#ffb300 318px,#ffb300 344px,#e5ff1a 348px,#e5ff1a 364px,#ffb300 368px,#ffb300 374px,#ccff33 378px,#ccff33 394px,#ff6600 398px,#ff6600 404px,#ccff33 408px,#ccff33 424px,#99ff66 428px,#99ff66 444px,#e5ff1a 448px,#e5ff1a 454px,#99ff66 458px,#99ff66 464px,#80ff80 468px,#80ff80 494px,#ffb300 498px,#ffb300 504px,#ff2600 508px,#ff2600 514px,#ffb300 518px,#ffb300 524px,#ffcc00 528px,#ffcc00 534px,#ccff33 538px,#ccff33 554px,#ffb300 558px,#ffb300 564px,#e5ff1a 568px,#e5ff1a 574px,#ffb300 578px,#ffb300 584px,#800000 588px,#800000 594px,#b30000 598px,#b30000 604px,#ff0000 608px,#ff0000 624px,#d90000 628px,#d90000 634px,#ffb300 638px,#ffb300 654px,#ff2600 658px,#ff2600 664px,#ffcc00 668px,#ffcc00 674px,#e5ff1a 678px,#e5ff1a 684px,#b30000 688px,#b30000 694px,#800000 698px,#800000 704px,#ff0000 708px,#ff0000 714px,#e5ff1a 718px,#e5ff1a 724px,#ffb300 728px,#ffb300 734px,#ff2600 738px,#ff2600 744px,#ffb300 748px,#ffb300 754px,#ff0000 758px,#ff0000 764px,#ff8000 768px,#ff8000 774px,#e5ff1a 778px,#e5ff1a 784px,#b30000 788px,#b30000 794px,#800000 798px,#800000 804px,#ff8000 808px,#ff8000 814px,#e5ff1a 818px,#e5ff1a 824px,#99ff66 828px,#99ff66 834px,#ccff33 838px,#ccff33 844px,#ff0000 848px,#ff0000 854px,#b30000 858px,#b30000 864px,#ffb300 868px,#ffb300 874px,#e5ff1a 878px,#e5ff1a 884px,#ffb300 888px,#ffb300 894px,#ff0000 898px,#ff0000 904px,#800000 908px,#800000 914px,#ff8000 918px,#ff8000 924px,#e5ff1a 928px,#e5ff1a 934px,#ffe500 938px,#ffe500 944px,#ff8000 948px,#ff8000 954px,#ff0000 958px,#ff0000 964px,#b30000 968px,#b30000 974px,#ff5900 978px,#ff5900 984px,#800000 988px,#800000 994px,#d90000 998px,#d90000 1004px,#ff6600 1008px,#ff6600 1014px,#ff0000 1018px,#ff0000 1024px,#e5ff1a 1028px,#e5ff1a 1044px,#ff8000 1048px,#ff8000 1054px,#ff0000 1058px,#ff0000 1064px,#ff6600 1068px,#ff6600 1074px,#ccff33 1078px,#ccff33 1094px,#e5ff1a 1098px,#e5ff1a 1104px,#ff0000 1108px,#ff0000 1114px,#ffb300 1118px,#ffb300 1124px,#ccff33 1128px,#ccff33 1154px,#e5ff1a 1158px,#e5ff1a 1164px,#ff0000 1168px,#ff0000 1174px,#ff8000 1178px,#ff8000 1184px,#ffe500 1188px,#ffe500 1194px,#ffb300 1198px,#ffb300 1204px,#990000 1208px,#990000 1214px,#ffb300 1218px,#ffb300 1224px,#ccff33 1228px,#ccff33 1234px,#99ff66 1238px,#99ff66 1244px,#ccff33 1248px,#ccff33 1254px,#e5ff1a 1258px,#e5ff1a 1264px,#ff8000 1268px,#ff8000 1274px,#99ff66 1278px,#99ff66 1300px)"></div>
<div style="height:10px;background:linear-gradient(90deg,#ff0000 0px,#ff0000 24px,#ff6600 28px,#ff6600 44px,#e5ff1a 48px,#e5ff1a 64px,#ff9900 68px,#ff9900 74px,#e5ff1a 78px,#e5ff1a 84px,#fff200 88px,#fff200 94px,#a6ff59 98px,#a6ff59 104px,#80ff80 108px,#80ff80 124px,#ff6600 128px,#ff6600 134px,#fff200 138px,#fff200 144px,#a6ff59 148px,#a6ff59 154px,#e5ff1a 158px,#e5ff1a 164px,#ff8000 168px,#ff8000 174px,#f2ff0d 178px,#f2ff0d 184px,#e5ff1a 188px,#e5ff1a 194px,#ff8000 198px,#ff8000 204px,#e5ff1a 208px,#e5ff1a 214px,#ff6600 218px,#ff6600 224px,#e50000 228px,#e50000 244px,#fff200 248px,#fff200 254px,#e5ff1a 258px,#e5ff1a 264px,#99ff66 268px,#99ff66 274px,#ff6600 278px,#ff6600 294px,#fff200 298px,#fff200 304px,#e5ff1a 308px,#e5ff1a 314px,#ff8000 318px,#ff8000 334px,#ff6600 338px,#ff6600 344px,#fff200 348px,#fff200 354px,#e5ff1a 358px,#e5ff1a 364px,#ff9900 368px,#ff9900 374px,#f2ff0d 378px,#f2ff0d 384px,#e5ff1a 388px,#e5ff1a 394px,#f20000 398px,#f20000 404px,#e5ff1a 408px,#e5ff1a 414px,#f2ff0d 418px,#f2ff0d 424px,#99ff66 428px,#99ff66 444px,#f2ff0d 448px,#f2ff0d 454px,#a6ff59 458px,#a6ff59 464px,#80ff80 468px,#80ff80 494px,#ff6600 498px,#ff6600 504px,#ff0000 508px,#ff0000 514px,#ff9900 518px,#ff9900 524px,#ff6600 528px,#ff6600 534px,#e5ff1a 538px,#e5ff1a 554px,#ff8000 558px,#ff8000 564px,#fff200 568px,#fff200 574px,#ff6600 578px,#ff6600 584px,#800000 588px,#800000 604px,#e50000 608px,#e50000 614px,#b30000 618px,#b30000 634px,#ff6600 638px,#ff6600 644px,#ff8000 648px,#ff8000 654px,#e50000 658px,#e50000 664px,#ff8000 668px,#ff8000 674px,#e5ff1a 678px,#e5ff1a 684px,#800000 688px,#800000 704px,#e50000 708px,#e50000 714px,#f2ff0d 718px,#f2ff0d 724px,#ff6600 728px,#ff6600 734px,#ff0000 738px,#ff0000 744px,#ff5900 748px,#ff5900 754px,#ff0000 758px,#ff0000 764px,#ff8000 768px,#ff8000 774px,#e5ff1a 778px,#e5ff1a 784px,#800000 788px,#800000 804px,#ff6600 808px,#ff6600 814px,#f2ff0d 818px,#f2ff0d 824px,#99ff66 828px,#99ff66 834px,#e5ff1a 838px,#e5ff1a 844px,#ff0000 848px,#ff0000 854px,#800000 858px,#800000 864px,#ff8000 868px,#ff8000 874px,#e5ff1a 878px,#e5ff1a 884px,#ff8000 888px,#ff8000 894px,#ff0000 898px,#ff0000 904px,#800000 908px,#800000 914px,#ff8000 918px,#ff8000 924px,#e5ff1a 928px,#e5ff1a 934px,#f2ff0d 938px,#f2ff0d 944px,#ff6600 948px,#ff6600 954px,#e50000 958px,#e50000 964px,#990000 968px,#990000 974px,#ff8000 978px,#ff8000 984px,#800000 988px,#800000 1004px,#e50000 1008px,#e50000 1014px,#f20000 1018px,#f20000 1024px,#e5ff1a 1028px,#e5ff1a 1034px,#f2ff0d 1038px,#f2ff0d 1044px,#ff8000 1048px,#ff8000 1054px,#ff0000 1058px,#ff0000 1064px,#e50000 1068px,#e50000 1074px,#f2ff0d 1078px,#f2ff0d 1084px,#e5ff1a 1088px,#e5ff1a 1094px,#f2ff0d 1098px,#f2ff0d 1104px,#b30000 1108px,#b30000 1114px,#ff8000 1118px,#ff8000 1124px,#f2ff0d 1128px,#f2ff0d 1134px,#e5ff1a 1138px,#e5ff1a 1144px,#f2ff0d 1148px,#f2ff0d 1164px,#ff0000 1168px,#ff0000 1174px,#ff6600 1178px,#ff6600 1184px,#e5ff1a 1188px,#e5ff1a 1194px,#ff8000 1198px,#ff8000 1204px,#800000 1208px,#800000 1214px,#ff6600 1218px,#ff6600 1224px,#e5ff1a 1228px,#e5ff1a 1234px,#99ff66 1238px,#99ff66 1244px,#e5ff1a 1248px,#e5ff1a 1264px,#ff6600 1268px,#ff6600 1274px,#a6ff59 1278px,#a6ff59 1300px)"></div>
<div style="height:10px;background:linear-gradient(90deg,#ff0000 0px,#ff0000 34px,#ff2600 38px,#ff2600 44px,#e5ff1a 48px,#e5ff1a 64px,#ffe500 68px,#ffe500 74px,#e5ff1a 78px,#e5ff1a 84px,#ff6600 88px,#ff6600 94px,#ccff33 98px,#ccff33 104px,#99ff66 108px,#99ff66 124px,#ff0000 128px,#ff0000 134px,#ff6600 138px,#ff6600 144px,#ccff33 148px,#ccff33 154px,#e5ff1a 158px,#e5ff1a 164px,#ff8000 168px,#ff8000 174px,#ffb300 178px,#ffb300 184px,#e5ff1a 188px,#e5ff1a 194px,#ff8000 198px,#ff8000 204px,#e5ff1a 208px,#e5ff1a 214px,#ff2600 218px,#ff2600 224px,#b30000 228px,#b30000 244px,#ff6600 248px,#ff6600 254px,#e5ff1a 258px,#e5ff1a 264px,#99ff66 268px,#99ff66 274px,#ff2600 278px,#ff2600 284px,#ff0000 288px,#ff0000 294px,#ff6600 298px,#ff6600 304px,#e5ff1a 308px,#e5ff1a 314px,#ff8000 318px,#ff8000 334px,#ff0000 338px,#ff0000 344px,#ff6600 348px,#ff6600 354px,#e5ff1a 358px,#e5ff1a 364px,#ffe500 368px,#ffe500 374px,#ffb300 378px,#ffb300 384px,#e5ff1a 388px,#e5ff1a 394px,#d90000 398px,#d90000 404px,#e5ff1a 408px,#e5ff1a 414px,#ffb300 418px,#ffb300 424px,#99ff66 428px,#99ff66 444px,#ffb300 448px,#ffb300 454px,#ccff33 458px,#ccff33 464px,#80ff80 468px,#80ff80 494px,#ff0000 498px,#ff0000 514px,#ffe500 518px,#ffe500 524px,#ff2600 528px,#ff2600 534px,#e5ff1a 538px,#e5ff1a 554px,#ff8000 558px,#ff8000 564px,#ff6600 568px,#ff6600 574px,#ff2600 578px,#ff2600 584px,#800000 588px,#800000 604px,#b30000 608px,#b30000 614px,#990000 618px,#990000 634px,#ff2600 638px,#ff2600 644px,#ff8000 648px,#ff8000 654px,#b30000 658px,#b30000 664px,#ff8000 668px,#ff8000 674px,#e5ff1a 678px,#e5ff1a 684px,#800000 688px,#800000 704px,#b30000 708px,#b30000 714px,#ffb300 718px,#ffb300 724px,#ff2600 728px,#ff2600 734px,#ff0000 738px,#ff0000 744px,#d90000 748px,#d90000 754px,#ff0000 758px,#ff0000 764px,#ff8000 768px,#ff8000 774px,#e5ff1a 778px,#e5ff1a 784px,#800000 788px,#800000 804px,#ff2600 808px,#ff2600 814px,#ffb300 818px,#ffb300 824px,#99ff66 828px,#99ff66 834px,#e5ff1a 838px,#e5ff1a 844px,#ff0000 848px,#ff0000 854px,#800000 858px,#800000 864px,#ff8000 868px,#ff8000 874px,#e5ff1a 878px,#e5ff1a 884px,#ff8000 888px,#ff8000 894px,#ff0000 898px,#ff0000 904px,#800000 908px,#800000 914px,#ff8000 918px,#ff8000 924px,#e5ff1a 928px,#e5ff1a 934px,#ffb300 938px,#ffb300 944px,#ff2600 948px,#ff2600 954px,#b30000 958px,#b30000 964px,#cc0000 968px,#cc0000 974px,#ff8000 978px,#ff8000 984px,#800000 988px,#800000 1004px,#b30000 1008px,#b30000 1014px,#d90000 1018px,#d90000 1024px,#e5ff1a 1028px,#e5ff1a 1034px,#ffb300 1038px,#ffb300 1044px,#ff8000 1048px,#ff8000 1054px,#ff0000 1058px,#ff0000 1064px,#b30000 1068px,#b30000 1074px,#ffb300 1078px,#ffb300 1084px,#e5ff1a 1088px,#e5ff1a 1094px,#ffb300 1098px,#ffb300 1104px,#990000 1108px,#990000 1114px,#ff8000 1118px,#ff8000 1124px,#ffb300 1128px,#ffb300 1134px,#e5ff1a 1138px,#e5ff1a 1144px,#ffb300 1148px,#ffb300 1164px,#ff0000 1168px,#ff0000 1174px,#ff2600 1178px,#ff2600 1184px,#e5ff1a 1188px,#e5ff1a 1194px,#ff8000 1198px,#ff8000 1204px,#800000 1208px,#800000 1214px,#ff2600 1218px,#ff2600 1224px,#e5ff1a 1228px,#e5ff1a 1234px,#99ff66 1238px,#99ff66 1244px,#e5ff1a 1248px,#e5ff1a 1264px,#ff2600 1268px,#ff2600 1274px,#ccff33 1278px,#ccff33 1300px)"></div>
<div style="height:10px;background:linear-gradient(90deg,#ff0000 0px,#ff0000 24px,#bf0000 28px,#bf0000 34px,#ff0000 38px,#ff0000 44px,#e5ff1a 48px,#e5ff1a 84px,#ff0000 88px,#ff0000 94px,#e5ff1a 98px,#e5ff1a 104px,#99ff66 108px,#99ff66 124px,#bf0000 128px,#bf0000 134px,#ff0000 138px,#ff0000 144px,#e5ff1a 148px,#e5ff1a 164px,#ff8000 168px,#ff8000 184px,#e5ff1a 188px,#e5ff1a 194px,#ff8000 198px,#ff8000 204px,#e5ff1a 208px,#e5ff1a 214px,#ff0000 218px,#ff0000 224px,#800000 228px,#800000 244px,#ff0000 248px,#ff0000 254px,#e5ff1a 258px,#e5ff1a 264px,#99ff66 268px,#99ff66 274px,#ff0000 278px,#ff0000 284px,#bf0000 288px,#bf0000 294px,#ff0000 298px,#ff0000 304px,#e5ff1a 308px,#e5ff1a 314px,#ff8000 318px,#ff8000 334px,#bf0000 338px,#bf0000 344px,#ff0000 348px,#ff0000 354px,#e5ff1a 358px,#e5ff1a 374px,#ff8000 378px,#ff8000 384px,#e5ff1a 388px,#e5ff1a 394px,#bf0000 398px,#bf0000 404px,#e5ff1a 408px,#e5ff1a 414px,#ff8000 418px,#ff8000 424px,#99ff66 428px,#99ff66 444px,#ff8000 448px,#ff8000 454px,#e5ff1a 458px,#e5ff1a 464px,#80ff80 468px,#80ff80 494px,#bf0000 498px,#bf0000 504px,#ff0000 508px,#ff0000 514px,#e5ff1a 518px,#e5ff1a 524px,#ff0000 528px,#ff0000 534px,#e5ff1a 538px,#e5ff1a 554px,#ff8000 558px,#ff8000 564px,#ff0000 568px,#ff0000 584px,#800000 588px,#800000 634px,#ff0000 638px,#ff0000 644px,#ff8000 648px,#ff8000 654px,#800000 658px,#800000 664px,#ff8000 668px,#ff8000 674px,#e5ff1a 678px,#e5ff1a 684px,#800000 688px,#800000 714px,#ff8000 718px,#ff8000 724px,#ff0000 728px,#ff0000 744px,#800000 748px,#800000 754px,#ff0000 758px,#ff0000 764px,#ff8000 768px,#ff8000 774px,#e5ff1a 778px,#e5ff1a 784px,#800000 788px,#800000 804px,#ff0000 808px,#ff0000 814px,#ff8000 818px,#ff8000 824px,#99ff66 828px,#99ff66 834px,#e5ff1a 838px,#e5ff1a 844px,#ff0000 848px,#ff0000 854px,#800000 858px,#800000 864px,#ff8000 868px,#ff8000 874px,#e5ff1a 878px,#e5ff1a 884px,#ff8000 888px,#ff8000 894px,#ff0000 898px,#ff0000 904px,#800000 908px,#800000 914px,#ff8000 918px,#ff8000 924px,#e5ff1a 928px,#e5ff1a 934px,#ff8000 938px,#ff8000 944px,#ff0000 948px,#ff0000 954px,#800000 958px,#800000 964px,#ff0000 968px,#ff0000 974px,#ff8000 978px,#ff8000 984px,#800000 988px,#800000 1014px,#bf0000 1018px,#bf0000 1024px,#e5ff1a 1028px,#e5ff1a 1034px,#ff8000 1038px,#ff8000 1054px,#ff0000 1058px,#ff0000 1064px,#800000 1068px,#800000 1074px,#ff8000 1078px,#ff8000 1084px,#e5ff1a 1088px,#e5ff1a 1094px,#ff8000 1098px,#ff8000 1104px,#800000 1108px,#800000 1114px,#ff8000 1118px,#ff8000 1134px,#e5ff1a 1138px,#e5ff1a 1144px,#ff8000 1148px,#ff8000 1164px,#ff0000 1168px,#ff0000 1184px,#e5ff1a 1188px,#e5ff1a 1194px,#ff8000 1198px,#ff8000 1204px,#800000 1208px,#800000 1214px,#ff0000 1218px,#ff0000 1224px,#e5ff1a 1228px,#e5ff1a 1234px,#99ff66 1238px,#99ff66 1244px,#e5ff1a 1248px,#e5ff1a 1264px,#ff0000 1268px,#ff0000 1274px,#e5ff1a 1278px,#e5ff1a 1300px)"></div>
<div style="height:10px;background:linear-gradient(90deg,#ff0000 0px,#ff0000 24px,#bf0000 28px,#bf0000 34px,#ff0000 38px,#ff0000 44px,#e5ff1a 48px,#e5ff1a 84px,#ff0000 88px,#ff0000 94px,#e5ff1a 98px,#e5ff1a 104px,#99ff66 108px,#99ff66 124px,#bf0000 128px,#bf0000 134px,#ff0000 138px,#ff0000 144px,#e5ff1a 148px,#e5ff1a 164px,#ff8000 168px,#ff8000 184px,#e5ff1a 188px,#e5ff1a 194px,#ff8000 198px,#ff8000 204px,#e5ff1a 208px,#e5ff1a 214px,#ff0000 218px,#ff0000 224px,#800000 228px,#800000 244px,#ff0000 248px,#ff0000 254px,#e5ff1a 258px,#e5ff1a 264px,#99ff66 268px,#99ff66 274px,#ff0000 278px,#ff0000 284px,#bf0000 288px,#bf0000 294px,#ff0000 298px,#ff0000 304px,#e5ff1a 308px,#e5ff1a 314px,#ff8000 318px,#ff8000 334px,#bf0000 338px,#bf0000 344px,#ff0000 348px,#ff0000 354px,#e5ff1a 358px,#e5ff1a 374px,#ff8000 378px,#ff8000 384px,#e5ff1a 388px,#e5ff1a 394px,#bf0000 398px,#bf0000 404px,#e5ff1a 408px,#e5ff1a 414px,#ff8000 418px,#ff8000 424px,#99ff66 428px,#99ff66 444px,#ff8000 448px,#ff8000 454px,#e5ff1a 458px,#e5ff1a 464px,#80ff80 468px,#80ff80 494px,#bf0000 498px,#bf0000 504px,#ff0000 508px,#ff0000 514px,#e5ff1a 518px,#e5ff1a 524px,#ff0000 528px,#ff0000 534px,#e5ff1a 538px,#e5ff1a 554px,#ff8000 558px,#ff8000 564px,#ff0000 568px,#ff0000 584px,#800000 588px,#800000 634px,#ff0000 638px,#ff0000 644px,#ff8000 648px,#ff8000 654px,#800000 658px,#800000 664px,#ff8000 668px,#ff8000 674px,#e5ff1a 678px,#e5ff1a 684px,#800000 688px,#800000 714px,#ff8000 718px,#ff8000 724px,#ff0000 728px,#ff0000 744px,#800000 748px,#800000 754px,#ff0000 758px,#ff0000 764px,#ff8000 768px,#ff8000 774px,#e5ff1a 778px,#e5ff1a 784px,#800000 788px,#800000 804px,#ff0000 808px,#ff0000 814px,#ff8000 818px,#ff8000 824px,#99ff66 828px,#99ff66 834px,#e5ff1a 838px,#e5ff1a 844px,#ff0000 848px,#ff0000 854px,#800000 858px,#800000 864px,#ff8000 868px,#ff8000 874px,#e5ff1a 878px,#e5ff1a 884px,#ff8000 888px,#ff8000 894px,#ff0000 898px,#ff0000 904px,#800000 908px,#800000 914px,#ff8000 918px,#ff8000 924px,#e5ff1a 928px,#e5ff1a 934px,#ff8000 938px,#ff8000 944px,#ff0000 948px,#ff0000 954px,#800000 958px,#800000 964px,#ff0000 968px,#ff0000 974px,#ff8000 978px,#ff8000 984px,#800000 988px,#800000 1014px,#bf0000 1018px,#bf0000 1024px,#e5ff1a 1028px,#e5ff1a 1034px,#ff8000 1038px,#ff8000 1054px,#ff0000 1058px,#ff0000 1064px,#800000 1068px,#800000 1074px,#ff8000 1078px,#ff8000 1084px,#e5ff1a 1088px,#e5ff1a 1094px,#ff8000 1098px,#ff8000 1104px,#800000 1108px,#800000 1114px,#ff8000 1118px,#ff8000 1134px,#e5ff1a 1138px,#e5ff1a 1144px,#ff8000 1148px,#ff8000 1164px,#ff0000 1168px,#ff0000 1184px,#e5ff1a 1188px,#e5ff1a 1194px,#ff8000 1198px,#ff8000 1204px,#800000 1208px,#800000 1214px,#ff0000 1218px,#ff0000 1224px,#e5ff1a 1228px,#e5ff1a 1234px,#99ff66 1238px,#99ff66 1244px,#e5ff1a 1248px,#e5ff1a 1264px,#ff0000 1268px,#ff0000 1274px,#e5ff1a 1278px,#e5ff1a 1300px)"></div>
</div></div>
<div class="pn" style="left:142px;top:388px">
<div class="bl" style="left:-16px;top:-12px;width:1300px;filter:blur(3.0px)">
<div style="height:10px;background:linear-gradient(90deg,#870000 0px,#870000 4px,#870000 8px,#870000 12px,#870000 16px,#800000 20px,#800000 24px,#800000 28px,#800000 32px,#800000 36px,#800000 40px,#a20000 44px,#e60000 48px,#ff3300 52px,#f40000 56px,#be0000 60px,#940000 64px,#800000 68px,#800000 72px,#800000 76px,#800000 80px,#800000 84px,#800000 88px,#840000 92px,#a70000 96px,#d80000 100px,#ff1400 104px,#ff5200 108px,#ff0e00 112px,#c10000 116px,#870000 120px,#800000 124px,#800000 128px,#800000 132px,#800000 136px,#800000 140px,#800000 144px,#a20000 148px,#e60000 152px,#ff3600 156px,#ff2400 160px,#e60000 164px,#b20000 168px,#8c0000 172px,#800000 176px,#800000 180px,#800000 184px,#800000 188px,#800000 192px,#800000 196px,#8c0000 200px,#b20000 204px,#e60000 208px,#ff2400 212px,#f90000 216px,#b10000 220px,#800000 224px,#800000 228px,#800000 232px,#800000 236px,#800000 240px,#800000 244px,#800000 248px,#b10000 252px,#f90000 256px,#ff4a00 260px,#ff7100 264px,#ff3100 268px,#ef0000 272px,#b60000 276px,#8c0000 280px,#800000 284px,#800000 288px,#800000 292px,#800000 296px,#800000 300px,#800000 304px,#8c0000 308px,#b60000 312px,#ef0000 316px,#ff0e00 320px,#c10000 324px,#870000 328px,#800000 332px,#800000 336px,#800000 340px,#800000 344px,#800000 348px,#800000 352px,#a20000 356px,#e60000 360px,#ff3600 364px,#ff8100 368px,#ff7000 372px,#ff2200 376px,#d30000 380px,#940000 384px,#800000 388px,#800000 392px,#800000 396px,#800000 400px,#800000 404px,#800000 408px,#940000 412px,#d30000 416px,#ff2200 420px,#e60000 424px,#a20000 428px,#800000 432px,#800000 436px,#800000 440px,#800000 444px,#800000 448px,#800000 452px,#870000 456px,#c10000 460px,#ff0e00 464px,#ff5d00 468px,#ffa100 472px,#ff5d00 476px,#ff0e00 480px,#c10000 484px,#870000 488px,#800000 492px,#800000 496px,#800000 500px,#800000 504px,#800000 508px,#800000 512px,#a20000 516px,#e60000 520px,#f40000 524px,#ae0000 528px,#800000 532px,#800000 536px,#800000 540px,#800000 544px,#800000 548px,#800000 552px,#800000 556px,#ae0000 560px,#f40000 564px,#ff4300 568px,#ff8c00 572px,#ff5d00 576px,#ff0e00 580px,#c10000 584px,#870000 588px,#800000 592px,#800000 596px,#800000 600px,#800000 604px,#800000 608px,#800000 612px,#a20000 616px,#e60000 620px,#ff1500 624px,#d00000 628px,#980000 632px,#800000 636px,#800000 640px,#800000 644px,#800000 648px,#800000 652px,#800000 656px,#840000 660px,#b20000 664px,#f10000 668px,#ff3900 672px,#ff7d00 676px,#ff4a00 680px,#f90000 684px,#b10000 688px,#800000 692px,#800000 696px,#800000 700px,#800000 704px,#800000 708px,#800000 712px,#800000 716px,#b10000 720px,#f90000 724px,#ff0400 728px,#ca0000 732px,#9d0000 736px,#800000 740px,#800000 744px,#800000 748px,#800000 752px,#800000 756px,#800000 760px,#800000 764px,#9d0000 768px,#ca0000 772px,#ff0400 776px,#ff4300 780px,#ff4a00 784px,#f90000 788px,#b10000 792px,#800000 796px,#800000 800px,#800000 804px,#800000 808px,#800000 812px,#800000 816px,#800000 820px,#b10000 824px,#f90000 828px,#ff4a00 832px,#ff1400 836px,#d80000 840px,#a70000 844px,#840000 848px,#800000 852px,#800000 856px,#800000 860px,#800000 864px,#800000 868px,#800000 872px,#940000 876px,#be0000 880px,#f40000 884px,#ff3300 888px,#f90000 892px,#b10000 896px,#800000 900px,#800000 904px,#800000 908px,#800000 912px,#800000 916px,#800000 920px,#800000 924px,#b10000 928px,#f90000 932px,#ff4a00 936px,#ff5100 940px,#ff0c00 944px,#ca0000 948px,#970000 952px,#800000 956px,#800000 960px,#800000 964px,#800000 968px,#800000 972px,#800000 976px,#830000 980px,#ae0000 984px,#e90000 988px,#ff2200 992px,#d30000 996px,#940000 1000px,#800000 1004px,#800000 1008px,#800000 1012px,#800000 1016px,#800000 1020px,#800000 1024px,#940000 1028px,#d30000 1032px,#ff2200 1036px,#ff7000 1040px,#ff4400 1044px,#f90000 1048px,#b60000 1052px,#840000 1056px,#800000 1060px,#800000 1064px,#800000 1068px,#800000 1072px,#800000 1076px,#800000 1080px,#9b0000 1084px,#d60000 1088px,#ff1f00 1092px,#f90000 1096px,#b10000 1100px,#800000 1104px,#800000 1108px,#800000 1112px,#800000 1116px,#800000 1120px,#800000 1124px,#800000 1128px,#b10000 1132px,#f90000 1136px,#ff4a00 1140px,#ff6e00 1144px,#ff2400 1148px,#da0000 1152px,#9c0000 1156px,#800000 1160px,#800000 1164px,#800000 1168px,#800000 1172px,#800000 1176px,#800000 1180px,#850000 1184px,#b90000 1188px,#fe0000 1192px,#f90000 1196px,#b10000 1200px,#800000 1204px,#800000 1208px,#800000 1212px,#800000 1216px,#800000 1220px,#800000 1224px,#800000 1228px,#b10000 1232px,#f90000 1236px,#ff4a00 1240px,#ff9200 1244px,#ff8100 1248px,#ff3600 1252px,#e60000 1256px,#a20000 1260px,#800000 1264px,#800000 1268px,#800000 1272px,#800000 1276px,#800000 1280px,#800000 1284px,#800000 1288px,#800000 1292px,#800000 1296px,#800000 1300px)"></div>
<div style="height:10px;background:linear-gradient(90deg,#9c0000 0px,#9c0000 4px,#9c0000 8px,#9c0000 12px,#9c0000 16px,#800000 20px,#800000 24px,#800000 28px,#800000 32px,#800000 36px,#840000 40px,#bb0000 44px,#ff0800 48px,#ff5300 52px,#ff1500 56px,#db0000 60px,#af0000 64px,#930000 68px,#840000 72px,#800000 76px,#800000 80px,#800000 84px,#8a0000 88px,#9f0000 92px,#c40000 96px,#f70000 100px,#ff3400 104px,#ff7200 108px,#ff3200 112px,#df0000 116px,#9c0000 120px,#800000 124px,#800000 128px,#800000 132px,#800000 136px,#800000 140px,#840000 144px,#bb0000 148px,#ff0800 152px,#ff5b00 156px,#ff4400 160px,#ff0600 164px,#cf0000 168px,#a70000 172px,#8e0000 176px,#820000 180px,#800000 184px,#800000 188px,#820000 192px,#8e0000 196px,#a70000 200px,#cf0000 204px,#ff0600 208px,#ff4400 212px,#ff1c00 216px,#cc0000 220px,#8f0000 224px,#800000 228px,#800000 232px,#800000 236px,#800000 240px,#800000 244px,#8f0000 248px,#cc0000 252px,#ff1c00 256px,#ff6f00 260px,#ff9000 264px,#ff5200 268px,#ff0f00 272px,#d30000 276px,#a50000 280px,#890000 284px,#800000 288px,#800000 292px,#800000 296px,#800000 300px,#890000 304px,#a50000 308px,#d30000 312px,#ff0f00 316px,#ff3200 320px,#df0000 324px,#9c0000 328px,#800000 332px,#800000 336px,#800000 340px,#800000 344px,#800000 348px,#840000 352px,#bb0000 356px,#ff0800 360px,#ff5b00 364px,#ffa600 368px,#ff9500 372px,#ff4700 376px,#f20000 380px,#ab0000 384px,#800000 388px,#800000 392px,#800000 396px,#800000 400px,#800000 404px,#800000 408px,#ab0000 412px,#f20000 416px,#ff4700 420px,#ff0800 424px,#bb0000 428px,#840000 432px,#800000 436px,#800000 440px,#800000 444px,#800000 448px,#800000 452px,#9c0000 456px,#df0000 460px,#ff3200 464px,#ff8300 468px,#ffc300 472px,#ff8300 476px,#ff3200 480px,#df0000 484px,#9c0000 488px,#800000 492px,#800000 496px,#800000 500px,#800000 504px,#800000 508px,#840000 512px,#bb0000 516px,#ff0800 520px,#ff1700 524px,#c90000 528px,#8f0000 532px,#800000 536px,#800000 540px,#800000 544px,#800000 548px,#800000 552px,#8f0000 556px,#c90000 560px,#ff1700 564px,#ff6800 568px,#ffae00 572px,#ff8300 576px,#ff3200 580px,#df0000 584px,#9c0000 588px,#800000 592px,#800000 596px,#800000 600px,#800000 604px,#800000 608px,#840000 612px,#bb0000 616px,#ff0800 620px,#ff3700 624px,#ee0000 628px,#b10000 632px,#880000 636px,#800000 640px,#800000 644px,#800000 648px,#800000 652px,#800000 656px,#9a0000 660px,#cd0000 664px,#ff1200 668px,#ff5b00 672px,#ff9e00 676px,#ff6f00 680px,#ff1c00 684px,#cc0000 688px,#8f0000 692px,#800000 696px,#800000 700px,#800000 704px,#800000 708px,#800000 712px,#8f0000 716px,#cc0000 720px,#ff1c00 724px,#ff2400 728px,#e90000 732px,#b90000 736px,#980000 740px,#860000 744px,#800000 748px,#800000 752px,#800000 756px,#860000 760px,#980000 764px,#b90000 768px,#e90000 772px,#ff2400 776px,#ff6300 780px,#ff6f00 784px,#ff1c00 788px,#cc0000 792px,#8f0000 796px,#800000 800px,#800000 804px,#800000 808px,#800000 812px,#800000 816px,#8f0000 820px,#cc0000 824px,#ff1c00 828px,#ff6f00 832px,#ff3400 836px,#f70000 840px,#c40000 844px,#9f0000 848px,#8a0000 852px,#800000 856px,#800000 860px,#800000 864px,#840000 868px,#930000 872px,#af0000 876px,#db0000 880px,#ff1500 884px,#ff5300 888px,#ff1c00 892px,#cc0000 896px,#8f0000 900px,#800000 904px,#800000 908px,#800000 912px,#800000 916px,#800000 920px,#8f0000 924px,#cc0000 928px,#ff1c00 932px,#ff6f00 936px,#ff7300 940px,#ff2d00 944px,#e80000 948px,#b00000 952px,#8a0000 956px,#800000 960px,#800000 964px,#800000 968px,#800000 972px,#800000 976px,#9b0000 980px,#ca0000 984px,#ff0a00 988px,#ff4700 992px,#f20000 996px,#ab0000 1000px,#800000 1004px,#800000 1008px,#800000 1012px,#800000 1016px,#800000 1020px,#800000 1024px,#ab0000 1028px,#f20000 1032px,#ff4700 1036px,#ff9500 1040px,#ff6800 1044px,#ff1b00 1048px,#d20000 1052px,#9a0000 1056px,#800000 1060px,#800000 1064px,#800000 1068px,#800000 1072px,#800000 1076px,#860000 1080px,#b40000 1084px,#f50000 1088px,#ff4200 1092px,#ff1c00 1096px,#cc0000 1100px,#8f0000 1104px,#800000 1108px,#800000 1112px,#800000 1116px,#800000 1120px,#800000 1124px,#8f0000 1128px,#cc0000 1132px,#ff1c00 1136px,#ff6f00 1140px,#ff9200 1144px,#ff4800 1148px,#f90000 1152px,#b50000 1156px,#860000 1160px,#800000 1164px,#800000 1168px,#800000 1172px,#800000 1176px,#800000 1180px,#9a0000 1184px,#d50000 1188px,#ff2000 1192px,#ff1c00 1196px,#cc0000 1200px,#8f0000 1204px,#800000 1208px,#800000 1212px,#800000 1216px,#800000 1220px,#800000 1224px,#8f0000 1228px,#cc0000 1232px,#ff1c00 1236px,#ff6f00 1240px,#ffb500 1244px,#ffa600 1248px,#ff5b00 1252px,#ff0800 1256px,#bb0000 1260px,#840000 1264px,#800000 1268px,#800000 1272px,#800000 1276px,#800000 1280px,#800000 1284px,#800000 1288px,#800000 1292px,#800000 1296px,#800000 1300px)"></div>
<div style="height:10px;background:linear-gradient(90deg,#ff0800 0px,#ff0800 4px,#ff0800 8px,#ff0800 12px,#ff0800 16px,#c40000 20px,#a10000 24px,#980000 28px,#9a0000 32px,#af0000 36px,#e20000 40px,#ff3200 44px,#ff8a00 48px,#ffc200 52px,#ff8f00 56px,#ff5b00 60px,#ff2c00 64px,#ff0900 68px,#f40000 72px,#ec0000 76px,#eb0000 80px,#ef0000 84px,#fc0000 88px,#ff1900 92px,#ff4200 96px,#ff7500 100px,#ffa900 104px,#ffd800 108px,#ffb200 112px,#ff5f00 116px,#ff0800 120px,#c40000 124px,#a10000 128px,#980000 132px,#9a0000 136px,#af0000 140px,#e20000 144px,#ff3200 148px,#ff8a00 152px,#ffd500 156px,#ffb600 160px,#ff8200 164px,#ff4e00 168px,#ff2200 172px,#ff0300 176px,#f10000 180px,#eb0000 184px,#eb0000 188px,#f10000 192px,#ff0300 196px,#ff2200 200px,#ff4e00 204px,#ff8200 208px,#ffb600 212px,#ff9f00 216px,#ff4800 220px,#f40000 224px,#b80000 228px,#9d0000 232px,#970000 236px,#9d0000 240px,#b80000 244px,#f40000 248px,#ff4800 252px,#ff9f00 256px,#ffe300 260px,#ffed00 264px,#ffc100 268px,#ff8a00 272px,#ff4f00 276px,#ff1b00 280px,#f50000 284px,#e00000 288px,#d90000 292px,#d90000 296px,#e00000 300px,#f50000 304px,#ff1b00 308px,#ff4f00 312px,#ff8a00 316px,#ffb200 320px,#ff5f00 324px,#ff0800 328px,#c40000 332px,#a10000 336px,#980000 340px,#9a0000 344px,#af0000 348px,#e20000 352px,#ff3200 356px,#ff8a00 360px,#ffd500 364px,#f9ff06 368px,#fffb00 372px,#ffc400 376px,#ff7500 380px,#ff1d00 384px,#d20000 388px,#a70000 392px,#980000 396px,#980000 400px,#a70000 404px,#d20000 408px,#ff1d00 412px,#ff7500 416px,#ffc400 420px,#ff8a00 424px,#ff3200 428px,#e20000 432px,#af0000 436px,#9a0000 440px,#980000 444px,#a10000 448px,#c40000 452px,#ff0800 456px,#ff5f00 460px,#ffb200 464px,#fff000 468px,#ebff14 472px,#fff000 476px,#ffb200 480px,#ff5f00 484px,#ff0800 488px,#c40000 492px,#a10000 496px,#980000 500px,#9a0000 504px,#af0000 508px,#e20000 512px,#ff3200 516px,#ff8a00 520px,#ff9800 524px,#ff4400 528px,#f40000 532px,#bc0000 536px,#a20000 540px,#9d0000 544px,#a20000 548px,#bc0000 552px,#f40000 556px,#ff4400 560px,#ff9800 564px,#ffdd00 568px,#f6ff09 572px,#fff000 576px,#ffb200 580px,#ff5f00 584px,#ff0800 588px,#c40000 592px,#a10000 596px,#980000 600px,#9a0000 604px,#af0000 608px,#e20000 612px,#ff3200 616px,#ff8a00 620px,#ffaf00 624px,#ff6a00 628px,#ff2500 632px,#ec0000 636px,#ca0000 640px,#bd0000 644px,#bb0000 648px,#c10000 652px,#d80000 656px,#ff0700 660px,#ff4700 664px,#ff8e00 668px,#ffcd00 672px,#fffa00 676px,#ffe300 680px,#ff9f00 684px,#ff4800 688px,#f40000 692px,#b80000 696px,#9d0000 700px,#970000 704px,#9d0000 708px,#b80000 712px,#f40000 716px,#ff4800 720px,#ff9f00 724px,#ff9c00 728px,#ff6700 732px,#ff3600 736px,#ff1000 740px,#f70000 744px,#ed0000 748px,#eb0000 752px,#ed0000 756px,#f70000 760px,#ff1000 764px,#ff3600 768px,#ff6700 772px,#ff9c00 776px,#ffcd00 780px,#ffe300 784px,#ff9f00 788px,#ff4800 792px,#f40000 796px,#b80000 800px,#9d0000 804px,#970000 808px,#9d0000 812px,#b80000 816px,#f40000 820px,#ff4800 824px,#ff9f00 828px,#ffd800 832px,#ffa900 836px,#ff7500 840px,#ff4200 844px,#ff1900 848px,#fc0000 852px,#ef0000 856px,#eb0000 860px,#ec0000 864px,#f40000 868px,#ff0900 872px,#ff2c00 876px,#ff5b00 880px,#ff8f00 884px,#ffc200 888px,#ff9f00 892px,#ff4800 896px,#f40000 900px,#b80000 904px,#9d0000 908px,#970000 912px,#9d0000 916px,#b80000 920px,#f40000 924px,#ff4800 928px,#ff9f00 932px,#ffe300 936px,#ffdc00 940px,#ffa500 944px,#ff6400 948px,#ff2500 952px,#f20000 956px,#d40000 960px,#c90000 964px,#c70000 968px,#cc0000 972px,#e10000 976px,#ff0a00 980px,#ff4300 984px,#ff8500 988px,#ffc200 992px,#ff7500 996px,#ff1d00 1000px,#d20000 1004px,#a70000 1008px,#980000 1012px,#980000 1016px,#a70000 1020px,#d20000 1024px,#ff1d00 1028px,#ff7500 1032px,#ffc400 1036px,#fffb00 1040px,#ffd800 1044px,#ff9800 1048px,#ff4d00 1052px,#ff0600 1056px,#d10000 1060px,#b60000 1064px,#af0000 1068px,#b10000 1072px,#c10000 1076px,#e80000 1080px,#ff2700 1084px,#ff7300 1088px,#ffba00 1092px,#ff9f00 1096px,#ff4800 1100px,#f40000 1104px,#b80000 1108px,#9d0000 1112px,#970000 1116px,#9d0000 1120px,#b80000 1124px,#f40000 1128px,#ff4800 1132px,#ff9f00 1136px,#ffe300 1140px,#fff500 1144px,#ffc100 1148px,#ff7800 1152px,#ff2900 1156px,#e60000 1160px,#bc0000 1164px,#ab0000 1168px,#a90000 1172px,#b10000 1176px,#cd0000 1180px,#ff0500 1184px,#ff5000 1188px,#ff9e00 1192px,#ff9f00 1196px,#ff4800 1200px,#f40000 1204px,#b80000 1208px,#9d0000 1212px,#970000 1216px,#9d0000 1220px,#b80000 1224px,#f40000 1228px,#ff4800 1232px,#ff9f00 1236px,#ffe300 1240px,#f2ff0d 1244px,#f9ff06 1248px,#ffd500 1252px,#ff8a00 1256px,#ff3200 1260px,#e20000 1264px,#af0000 1268px,#9a0000 1272px,#980000 1276px,#a10000 1280px,#c40000 1284px,#c40000 1288px,#c40000 1292px,#c40000 1296px,#c40000 1300px)"></div>
<div style="height:10px;background:linear-gradient(90deg,#ff7600 0px,#ff7600 4px,#ff7600 8px,#ff7600 12px,#ff7600 16px,#ff3000 20px,#fe0000 24px,#ed0000 28px,#f20000 32px,#ff1400 36px,#ff5200 40px,#ff9c00 44px,#ffdf00 48px,#f5ff0a 52px,#ffeb00 56px,#ffc700 60px,#ffa300 64px,#ff8300 68px,#ff6d00 72px,#ff6200 76px,#ff6000 80px,#ff6600 84px,#ff7700 88px,#ff9200 92px,#ffb500 96px,#ffda00 100px,#fffb00 104px,#e9ff16 108px,#fffa00 112px,#ffc000 116px,#ff7600 120px,#ff3000 124px,#fe0000 128px,#ed0000 132px,#f20000 136px,#ff1400 140px,#ff5200 144px,#ff9c00 148px,#ffdf00 152px,#eeff11 156px,#fcff03 160px,#ffe200 164px,#ffbe00 168px,#ff9b00 172px,#ff7d00 176px,#ff6900 180px,#ff6000 184px,#ff6000 188px,#ff6900 192px,#ff7d00 196px,#ff9b00 200px,#ffbe00 204px,#ffe200 208px,#fcff03 212px,#ffee00 216px,#ffae00 220px,#ff6400 224px,#ff2100 228px,#f70000 232px,#ec0000 236px,#f70000 240px,#ff2100 244px,#ff6400 248px,#ffae00 252px,#ffee00 256px,#e6ff19 260px,#dfff20 264px,#f7ff08 268px,#ffe400 272px,#ffbb00 276px,#ff9000 280px,#ff6c00 284px,#ff5300 288px,#ff4800 292px,#ff4800 296px,#ff5300 300px,#ff6c00 304px,#ff9000 308px,#ffbb00 312px,#ffe400 316px,#fffa00 320px,#ffc000 324px,#ff7600 328px,#ff3000 332px,#fe0000 336px,#ed0000 340px,#f20000 344px,#ff1400 348px,#ff5200 352px,#ff9c00 356px,#ffdf00 360px,#eeff11 364px,#d3ff2c 368px,#d8ff27 372px,#f8ff07 376px,#ffd000 380px,#ff8900 384px,#ff4000 388px,#ff0900 392px,#ee0000 396px,#ee0000 400px,#ff0900 404px,#ff4000 408px,#ff8900 412px,#ffd000 416px,#f8ff07 420px,#ffdf00 424px,#ff9c00 428px,#ff5200 432px,#ff1400 436px,#f20000 440px,#ed0000 444px,#fe0000 448px,#ff3000 452px,#ff7600 456px,#ffc000 460px,#fffa00 464px,#dfff20 468px,#ccff33 472px,#dfff20 476px,#fffa00 480px,#ffc000 484px,#ff7600 488px,#ff3000 492px,#fe0000 496px,#ed0000 500px,#f20000 504px,#ff1400 508px,#ff5200 512px,#ff9c00 516px,#ffdf00 520px,#ffe900 524px,#ffab00 528px,#ff6400 532px,#ff2500 536px,#fe0000 540px,#f40000 544px,#fe0000 548px,#ff2500 552px,#ff6400 556px,#ffab00 560px,#ffe900 564px,#eaff15 568px,#d1ff2e 572px,#dfff20 576px,#fffa00 580px,#ffc000 584px,#ff7600 588px,#ff3000 592px,#fe0000 596px,#ed0000 600px,#f20000 604px,#ff1400 608px,#ff5200 612px,#ff9c00 616px,#ffdf00 620px,#fff900 624px,#ffcb00 628px,#ff9400 632px,#ff5f00 636px,#ff3700 640px,#ff2200 644px,#ff1f00 648px,#ff2a00 652px,#ff4900 656px,#ff7900 660px,#ffb000 664px,#ffe400 668px,#f3ff0c 672px,#d9ff26 676px,#e6ff19 680px,#ffee00 684px,#ffae00 688px,#ff6400 692px,#ff2100 696px,#f70000 700px,#ec0000 704px,#f70000 708px,#ff2100 712px,#ff6400 716px,#ffae00 720px,#ffee00 724px,#fff300 728px,#ffd100 732px,#ffac00 736px,#ff8b00 740px,#ff7100 744px,#ff6300 748px,#ff6000 752px,#ff6300 756px,#ff7100 760px,#ff8b00 764px,#ffac00 768px,#ffd100 772px,#fff300 776px,#efff10 780px,#e6ff19 784px,#ffee00 788px,#ffae00 792px,#ff6400 796px,#ff2100 800px,#f70000 804px,#ec0000 808px,#f70000 812px,#ff2100 816px,#ff6400 820px,#ffae00 824px,#ffee00 828px,#e9ff16 832px,#fffb00 836px,#ffda00 840px,#ffb500 844px,#ff9200 848px,#ff7700 852px,#ff6600 856px,#ff6000 860px,#ff6200 864px,#ff6d00 868px,#ff8300 872px,#ffa300 876px,#ffc700 880px,#ffeb00 884px,#f5ff0a 888px,#ffee00 892px,#ffae00 896px,#ff6400 900px,#ff2100 904px,#f70000 908px,#ec0000 912px,#f70000 916px,#ff2100 920px,#ff6400 924px,#ffae00 928px,#ffee00 932px,#e6ff19 936px,#e9ff16 940px,#fff400 944px,#ffc800 948px,#ff9600 952px,#ff6700 956px,#ff4300 960px,#ff3200 964px,#ff2f00 968px,#ff3800 972px,#ff5300 976px,#ff7d00 980px,#ffaf00 984px,#ffdf00 988px,#f8ff07 992px,#ffd000 996px,#ff8900 1000px,#ff4000 1004px,#ff0900 1008px,#ee0000 1012px,#ee0000 1016px,#ff0900 1020px,#ff4000 1024px,#ff8900 1028px,#ffd000 1032px,#f8ff07 1036px,#d8ff27 1040px,#ecff13 1044px,#ffea00 1048px,#ffb300 1052px,#ff7600 1056px,#ff3f00 1060px,#ff1b00 1064px,#ff0e00 1068px,#ff1200 1072px,#ff2a00 1076px,#ff5900 1080px,#ff9500 1084px,#ffd000 1088px,#feff01 1092px,#ffee00 1096px,#ffae00 1100px,#ff6400 1104px,#ff2100 1108px,#f70000 1112px,#ec0000 1116px,#f70000 1120px,#ff2100 1124px,#ff6400 1128px,#ffae00 1132px,#ffee00 1136px,#e6ff19 1140px,#dcff23 1144px,#fbff04 1148px,#ffd300 1152px,#ff9600 1156px,#ff5600 1160px,#ff2400 1164px,#ff0a00 1168px,#ff0600 1172px,#ff1400 1176px,#ff3b00 1180px,#ff7500 1184px,#ffb500 1188px,#ffed00 1192px,#ffee00 1196px,#ffae00 1200px,#ff6400 1204px,#ff2100 1208px,#f70000 1212px,#ec0000 1216px,#f70000 1220px,#ff2100 1224px,#ff6400 1228px,#ffae00 1232px,#ffee00 1236px,#e6ff19 1240px,#cfff30 1244px,#d3ff2c 1248px,#eeff11 1252px,#ffdf00 1256px,#ff9c00 1260px,#ff5200 1264px,#ff1400 1268px,#f20000 1272px,#ed0000 1276px,#fe0000 1280px,#ff3000 1284px,#ff3000 1288px,#ff3000 1292px,#ff3000 1296px,#ff3000 1300px)"></div>
<div style="height:10px;background:linear-gradient(90deg,#ffd400 0px,#ffd400 4px,#ffd400 8px,#ffd400 12px,#ffd400 16px,#ff9f00 20px,#ff7200 24px,#ff5d00 28px,#ff6400 32px,#ff8600 36px,#ffb900 40px,#ffee00 44px,#e6ff19 48px,#cdff32 52px,#ddff22 56px,#f2ff0d 60px,#fff400 64px,#ffdd00 68px,#ffca00 72px,#ffbf00 76px,#ffbd00 80px,#ffc300 84px,#ffd300 88px,#ffe800 92px,#feff01 96px,#e7ff18 100px,#d5ff2a 104px,#c7ff38 108px,#d7ff28 112px,#f9ff06 116px,#ffd400 120px,#ff9f00 124px,#ff7200 128px,#ff5d00 132px,#ff6400 136px,#ff8600 140px,#ffb900 144px,#ffee00 148px,#e6ff19 152px,#cbff34 156px,#d1ff2e 160px,#e2ff1d 164px,#f8ff07 168px,#ffee00 172px,#ffd800 176px,#ffc700 180px,#ffbd00 184px,#ffbd00 188px,#ffc700 192px,#ffd800 196px,#ffee00 200px,#f8ff07 204px,#e2ff1d 208px,#d1ff2e 212px,#deff21 216px,#fffa00 220px,#ffc700 224px,#ff9200 228px,#ff6a00 232px,#ff5c00 236px,#ff6a00 240px,#ff9200 244px,#ffc700 248px,#fffa00 252px,#deff21 256px,#c6ff39 260px,#c2ff3d 264px,#cfff30 268px,#e2ff1d 272px,#fbff04 276px,#ffe700 280px,#ffcb00 284px,#ffb500 288px,#ffa900 292px,#ffa900 296px,#ffb500 300px,#ffcb00 304px,#ffe700 308px,#fbff04 312px,#e2ff1d 316px,#d7ff28 320px,#f9ff06 324px,#ffd400 328px,#ff9f00 332px,#ff7200 336px,#ff5d00 340px,#ff6400 344px,#ff8600 348px,#ffb900 352px,#ffee00 356px,#e6ff19 360px,#cbff34 364px,#bcff43 368px,#bfff40 372px,#d0ff2f 376px,#efff10 380px,#ffe100 384px,#ffac00 388px,#ff7c00 392px,#ff6000 396px,#ff6000 400px,#ff7c00 404px,#ffac00 408px,#ffe100 412px,#efff10 416px,#d0ff2f 420px,#e6ff19 424px,#ffee00 428px,#ffb900 432px,#ff8600 436px,#ff6400 440px,#ff5d00 444px,#ff7200 448px,#ff9f00 452px,#ffd400 456px,#f9ff06 460px,#d7ff28 464px,#c2ff3d 468px,#b8ff47 472px,#c2ff3d 476px,#d7ff28 480px,#f9ff06 484px,#ffd400 488px,#ff9f00 492px,#ff7200 496px,#ff5d00 500px,#ff6400 504px,#ff8600 508px,#ffb900 512px,#ffee00 516px,#e6ff19 520px,#e1ff1e 524px,#fff700 528px,#ffc700 532px,#ff9500 536px,#ff7000 540px,#ff6300 544px,#ff7000 548px,#ff9500 552px,#ffc700 556px,#fff700 560px,#e1ff1e 564px,#c8ff37 568px,#bbff44 572px,#c2ff3d 576px,#d7ff28 580px,#f9ff06 584px,#ffd400 588px,#ff9f00 592px,#ff7200 596px,#ff5d00 600px,#ff6400 604px,#ff8600 608px,#ffb900 612px,#ffee00 616px,#e6ff19 620px,#d7ff28 624px,#f2ff0d 628px,#ffe900 632px,#ffc200 636px,#ffa000 640px,#ff8a00 644px,#ff8600 648px,#ff9300 652px,#ffb000 656px,#ffd500 660px,#fffb00 664px,#e3ff1c 668px,#cdff32 672px,#bfff40 676px,#c6ff39 680px,#deff21 684px,#fffa00 688px,#ffc700 692px,#ff9200 696px,#ff6a00 700px,#ff5c00 704px,#ff6a00 708px,#ff9200 712px,#ffc700 716px,#fffa00 720px,#deff21 724px,#d9ff26 728px,#edff12 732px,#fffa00 736px,#ffe300 740px,#ffce00 744px,#ffc100 748px,#ffbc00 752px,#ffc100 756px,#ffce00 760px,#ffe300 764px,#fffa00 768px,#edff12 772px,#d9ff26 776px,#caff35 780px,#c6ff39 784px,#deff21 788px,#fffa00 792px,#ffc700 796px,#ff9200 800px,#ff6a00 804px,#ff5c00 808px,#ff6a00 812px,#ff9200 816px,#ffc700 820px,#fffa00 824px,#deff21 828px,#c7ff38 832px,#d5ff2a 836px,#e7ff18 840px,#feff01 844px,#ffe800 848px,#ffd300 852px,#ffc300 856px,#ffbd00 860px,#ffbf00 864px,#ffca00 868px,#ffdd00 872px,#fff400 876px,#f2ff0d 880px,#ddff22 884px,#cdff32 888px,#deff21 892px,#fffa00 896px,#ffc700 900px,#ff9200 904px,#ff6a00 908px,#ff5c00 912px,#ff6a00 916px,#ff9200 920px,#ffc700 924px,#fffa00 928px,#deff21 932px,#c6ff39 936px,#c8ff37 940px,#daff25 944px,#f4ff0b 948px,#ffea00 952px,#ffc700 956px,#ffaa00 960px,#ff9700 964px,#ff9400 968px,#ff9f00 972px,#ffb800 976px,#ffd900 980px,#fffb00 984px,#e6ff19 988px,#d0ff2f 992px,#efff10 996px,#ffe100 1000px,#ffac00 1004px,#ff7c00 1008px,#ff6000 1012px,#ff6000 1016px,#ff7c00 1020px,#ffac00 1024px,#ffe100 1028px,#efff10 1032px,#d0ff2f 1036px,#bfff40 1040px,#caff35 1044px,#e0ff1f 1048px,#fffd00 1052px,#ffd400 1056px,#ffa900 1060px,#ff8800 1064px,#ff7800 1068px,#ff7d00 1072px,#ff9700 1076px,#ffbe00 1080px,#ffe900 1084px,#efff10 1088px,#d3ff2c 1092px,#deff21 1096px,#fffa00 1100px,#ffc700 1104px,#ff9200 1108px,#ff6a00 1112px,#ff5c00 1116px,#ff6a00 1120px,#ff9200 1124px,#ffc700 1128px,#fffa00 1132px,#deff21 1136px,#c6ff39 1140px,#c1ff3e 1144px,#d1ff2e 1148px,#edff12 1152px,#ffea00 1156px,#ffbc00 1160px,#ff9200 1164px,#ff7700 1168px,#ff7200 1172px,#ff8200 1176px,#ffa600 1180px,#ffd300 1184px,#fffe00 1188px,#deff21 1192px,#deff21 1196px,#fffa00 1200px,#ffc700 1204px,#ff9200 1208px,#ff6a00 1212px,#ff5c00 1216px,#ff6a00 1220px,#ff9200 1224px,#ffc700 1228px,#fffa00 1232px,#deff21 1236px,#c6ff39 1240px,#baff45 1244px,#bcff43 1248px,#cbff34 1252px,#e6ff19 1256px,#ffee00 1260px,#ffb900 1264px,#ff8600 1268px,#ff6400 1272px,#ff5d00 1276px,#ff7200 1280px,#ff9f00 1284px,#ff9f00 1288px,#ff9f00 1292px,#ff9f00 1296px,#ff9f00 1300px)"></div>
<div style="height:10px;background:linear-gradient(90deg,#e9ff16 0px,#e9ff16 4px,#e9ff16 8px,#e9ff16 12px,#e9ff16 16px,#fff200 20px,#ffd300 24px,#ffc400 28px,#ffc900 32px,#ffe200 36px,#faff05 40px,#daff25 44px,#c2ff3d 48px,#b4ff4b 52px,#bdff42 56px,#c9ff36 60px,#d8ff27 64px,#e8ff17 68px,#f6ff09 72px,#ffff00 76px,#fffd00 80px,#fcff03 84px,#f0ff0f 88px,#e0ff1f 92px,#d1ff2e 96px,#c3ff3c 100px,#b8ff47 104px,#b0ff4f 108px,#b9ff46 112px,#ccff33 116px,#e9ff16 120px,#fff200 124px,#ffd300 128px,#ffc400 132px,#ffc900 136px,#ffe200 140px,#faff05 144px,#daff25 148px,#c2ff3d 152px,#b3ff4c 156px,#b6ff49 160px,#c0ff3f 164px,#cdff32 168px,#dcff23 172px,#ecff13 176px,#f9ff06 180px,#fffd00 184px,#fffd00 188px,#f9ff06 192px,#ecff13 196px,#dcff23 200px,#cdff32 204px,#c0ff3f 208px,#b6ff49 212px,#bdff42 216px,#d3ff2c 220px,#f2ff0d 224px,#ffea00 228px,#ffce00 232px,#ffc300 236px,#ffce00 240px,#ffea00 244px,#f2ff0d 248px,#d3ff2c 252px,#bdff42 256px,#b0ff4f 260px,#aeff51 264px,#b4ff4b 268px,#bfff40 272px,#ceff31 276px,#e0ff1f 280px,#f3ff0c 284px,#fffb00 288px,#fff100 292px,#fff100 296px,#fffb00 300px,#f3ff0c 304px,#e0ff1f 308px,#ceff31 312px,#bfff40 316px,#b9ff46 320px,#ccff33 324px,#e9ff16 328px,#fff200 332px,#ffd300 336px,#ffc400 340px,#ffc900 344px,#ffe200 348px,#faff05 352px,#daff25 356px,#c2ff3d 360px,#b3ff4c 364px,#abff54 368px,#adff52 372px,#b6ff49 376px,#c7ff38 380px,#e1ff1e 384px,#fffb00 388px,#ffda00 392px,#ffc600 396px,#ffc600 400px,#ffda00 404px,#fffb00 408px,#e1ff1e 412px,#c7ff38 416px,#b6ff49 420px,#c2ff3d 424px,#daff25 428px,#faff05 432px,#ffe200 436px,#ffc900 440px,#ffc400 444px,#ffd300 448px,#fff200 452px,#e9ff16 456px,#ccff33 460px,#b9ff46 464px,#aeff51 468px,#aaff55 472px,#aeff51 476px,#b9ff46 480px,#ccff33 484px,#e9ff16 488px,#fff200 492px,#ffd300 496px,#ffc400 500px,#ffc900 504px,#ffe200 508px,#faff05 512px,#daff25 516px,#c2ff3d 520px,#beff41 524px,#d4ff2b 528px,#f2ff0d 532px,#ffeb00 536px,#ffd100 540px,#ffc700 544px,#ffd100 548px,#ffeb00 552px,#f2ff0d 556px,#d4ff2b 560px,#beff41 564px,#b1ff4e 568px,#abff54 572px,#aeff51 576px,#b9ff46 580px,#ccff33 584px,#e9ff16 588px,#fff200 592px,#ffd300 596px,#ffc400 600px,#ffc900 604px,#ffe200 608px,#faff05 612px,#daff25 616px,#c2ff3d 620px,#b9ff46 624px,#c8ff37 628px,#ddff22 632px,#f6ff09 636px,#fff000 640px,#ffe000 644px,#ffdc00 648px,#ffe600 652px,#fffb00 656px,#eaff15 660px,#d2ff2d 664px,#c0ff3f 668px,#b3ff4c 672px,#adff52 676px,#b0ff4f 680px,#bdff42 684px,#d3ff2c 688px,#f2ff0d 692px,#ffea00 696px,#ffce00 700px,#ffc300 704px,#ffce00 708px,#ffea00 712px,#f2ff0d 716px,#d3ff2c 720px,#bdff42 724px,#baff45 728px,#c6ff39 732px,#d4ff2b 736px,#e4ff1b 740px,#f3ff0c 744px,#feff01 748px,#fffc00 752px,#feff01 756px,#f3ff0c 760px,#e4ff1b 764px,#d4ff2b 768px,#c6ff39 772px,#baff45 776px,#b2ff4d 780px,#b0ff4f 784px,#bdff42 788px,#d3ff2c 792px,#f2ff0d 796px,#ffea00 800px,#ffce00 804px,#ffc300 808px,#ffce00 812px,#ffea00 816px,#f2ff0d 820px,#d3ff2c 824px,#bdff42 828px,#b0ff4f 832px,#b8ff47 836px,#c3ff3c 840px,#d1ff2e 844px,#e0ff1f 848px,#f0ff0f 852px,#fcff03 856px,#fffd00 860px,#ffff00 864px,#f6ff09 868px,#e8ff17 872px,#d8ff27 876px,#c9ff36 880px,#bdff42 884px,#b4ff4b 888px,#bdff42 892px,#d3ff2c 896px,#f2ff0d 900px,#ffea00 904px,#ffce00 908px,#ffc300 912px,#ffce00 916px,#ffea00 920px,#f2ff0d 924px,#d3ff2c 928px,#bdff42 932px,#b0ff4f 936px,#b1ff4e 940px,#baff45 944px,#c9ff36 948px,#ddff22 952px,#f4ff0b 956px,#fff500 960px,#ffe700 964px,#ffe400 968px,#ffed00 972px,#ffff00 976px,#e8ff17 980px,#d2ff2d 984px,#c1ff3e 988px,#b6ff49 992px,#c7ff38 996px,#e1ff1e 1000px,#fffb00 1004px,#ffda00 1008px,#ffc600 1012px,#ffc600 1016px,#ffda00 1020px,#fffb00 1024px,#e1ff1e 1028px,#c7ff38 1032px,#b6ff49 1036px,#adff52 1040px,#b2ff4d 1044px,#beff41 1048px,#d1ff2e 1052px,#eaff15 1056px,#fff800 1060px,#ffe000 1064px,#ffd400 1068px,#ffd800 1072px,#ffeb00 1076px,#f8ff07 1080px,#ddff22 1084px,#c6ff39 1088px,#b7ff48 1092px,#bdff42 1096px,#d3ff2c 1100px,#f2ff0d 1104px,#ffea00 1108px,#ffce00 1112px,#ffc300 1116px,#ffce00 1120px,#ffea00 1124px,#f2ff0d 1128px,#d3ff2c 1132px,#bdff42 1136px,#b0ff4f 1140px,#adff52 1144px,#b6ff49 1148px,#c5ff3a 1152px,#dcff23 1156px,#f9ff06 1160px,#ffe800 1164px,#ffd400 1168px,#ffd000 1172px,#ffdd00 1176px,#fff600 1180px,#eaff15 1184px,#d0ff2f 1188px,#bdff42 1192px,#bdff42 1196px,#d3ff2c 1200px,#f2ff0d 1204px,#ffea00 1208px,#ffce00 1212px,#ffc300 1216px,#ffce00 1220px,#ffea00 1224px,#f2ff0d 1228px,#d3ff2c 1232px,#bdff42 1236px,#b0ff4f 1240px,#aaff55 1244px,#abff54 1248px,#b3ff4c 1252px,#c2ff3d 1256px,#daff25 1260px,#faff05 1264px,#ffe200 1268px,#ffc900 1272px,#ffc400 1276px,#ffd300 1280px,#fff200 1284px,#fff200 1288px,#fff200 1292px,#fff200 1296px,#fff200 1300px)"></div>
<div style="height:10px;background:linear-gradient(90deg,#c0ff3f 0px,#c0ff3f 4px,#c0ff3f 8px,#c0ff3f 12px,#c0ff3f 16px,#d5ff2a 20px,#e8ff17 24px,#f2ff0d 28px,#eeff11 32px,#dfff20 36px,#caff35 40px,#b7ff48 44px,#a9ff56 48px,#a1ff5e 52px,#a5ff5a 56px,#adff52 60px,#b7ff48 64px,#c2ff3d 68px,#ccff33 72px,#d2ff2d 76px,#d4ff2b 80px,#d0ff2f 84px,#c7ff38 88px,#bcff43 92px,#b1ff4e 96px,#a9ff56 100px,#a3ff5c 104px,#9fff60 108px,#a4ff5b 112px,#afff50 116px,#c0ff3f 120px,#d5ff2a 124px,#e8ff17 128px,#f2ff0d 132px,#eeff11 136px,#dfff20 140px,#caff35 144px,#b7ff48 148px,#a9ff56 152px,#a1ff5e 156px,#a1ff5e 160px,#a7ff58 164px,#afff50 168px,#b9ff46 172px,#c4ff3b 176px,#ceff31 180px,#d3ff2c 184px,#d3ff2c 188px,#ceff31 192px,#c4ff3b 196px,#b9ff46 200px,#afff50 204px,#a7ff58 208px,#a1ff5e 212px,#a6ff59 216px,#b3ff4c 220px,#c5ff3a 224px,#daff25 228px,#ebff14 232px,#f2ff0d 236px,#ebff14 240px,#daff25 244px,#c5ff3a 248px,#b3ff4c 252px,#a6ff59 256px,#a0ff5f 260px,#9eff61 264px,#a1ff5e 268px,#a7ff58 272px,#afff50 276px,#bbff44 280px,#c8ff37 284px,#d3ff2c 288px,#daff25 292px,#daff25 296px,#d3ff2c 300px,#c8ff37 304px,#bbff44 308px,#afff50 312px,#a7ff58 316px,#a4ff5b 320px,#afff50 324px,#c0ff3f 328px,#d5ff2a 332px,#e8ff17 336px,#f2ff0d 340px,#eeff11 344px,#dfff20 348px,#caff35 352px,#b7ff48 356px,#a9ff56 360px,#a1ff5e 364px,#9dff62 368px,#9eff61 372px,#a2ff5d 376px,#acff53 380px,#bbff44 384px,#cfff30 388px,#e4ff1b 392px,#f0ff0f 396px,#f0ff0f 400px,#e4ff1b 404px,#cfff30 408px,#bbff44 412px,#acff53 416px,#a2ff5d 420px,#a9ff56 424px,#b7ff48 428px,#caff35 432px,#dfff20 436px,#eeff11 440px,#f2ff0d 444px,#e8ff17 448px,#d5ff2a 452px,#c0ff3f 456px,#afff50 460px,#a4ff5b 464px,#9fff60 468px,#9cff63 472px,#9fff60 476px,#a4ff5b 480px,#afff50 484px,#c0ff3f 488px,#d5ff2a 492px,#e8ff17 496px,#f2ff0d 500px,#eeff11 504px,#dfff20 508px,#caff35 512px,#b7ff48 516px,#a9ff56 520px,#a7ff58 524px,#b3ff4c 528px,#c5ff3a 532px,#d9ff26 536px,#eaff15 540px,#f0ff0f 544px,#eaff15 548px,#d9ff26 552px,#c5ff3a 556px,#b3ff4c 560px,#a7ff58 564px,#a0ff5f 568px,#9dff62 572px,#9fff60 576px,#a4ff5b 580px,#afff50 584px,#c0ff3f 588px,#d5ff2a 592px,#e8ff17 596px,#f2ff0d 600px,#eeff11 604px,#dfff20 608px,#caff35 612px,#b7ff48 616px,#a9ff56 620px,#a3ff5c 624px,#acff53 628px,#b8ff47 632px,#c8ff37 636px,#d8ff27 640px,#e3ff1c 644px,#e5ff1a 648px,#deff21 652px,#d0ff2f 656px,#c0ff3f 660px,#b1ff4e 664px,#a7ff58 668px,#a1ff5e 672px,#9dff62 676px,#a0ff5f 680px,#a6ff59 684px,#b3ff4c 688px,#c5ff3a 692px,#daff25 696px,#ebff14 700px,#f2ff0d 704px,#ebff14 708px,#daff25 712px,#c5ff3a 716px,#b3ff4c 720px,#a6ff59 724px,#a4ff5b 728px,#abff54 732px,#b4ff4b 736px,#bfff40 740px,#c9ff36 744px,#d1ff2e 748px,#d4ff2b 752px,#d1ff2e 756px,#c9ff36 760px,#bfff40 764px,#b4ff4b 768px,#abff54 772px,#a4ff5b 776px,#a0ff5f 780px,#a0ff5f 784px,#a6ff59 788px,#b3ff4c 792px,#c5ff3a 796px,#daff25 800px,#ebff14 804px,#f2ff0d 808px,#ebff14 812px,#daff25 816px,#c5ff3a 820px,#b3ff4c 824px,#a6ff59 828px,#a0ff5f 832px,#a3ff5c 836px,#a9ff56 840px,#b1ff4e 844px,#bcff43 848px,#c7ff38 852px,#d0ff2f 856px,#d4ff2b 860px,#d2ff2d 864px,#ccff33 868px,#c2ff3d 872px,#b7ff48 876px,#adff52 880px,#a5ff5a 884px,#a0ff5f 888px,#a6ff59 892px,#b3ff4c 896px,#c5ff3a 900px,#daff25 904px,#ebff14 908px,#f2ff0d 912px,#ebff14 916px,#daff25 920px,#c5ff3a 924px,#b3ff4c 928px,#a6ff59 932px,#a0ff5f 936px,#9fff60 940px,#a4ff5b 944px,#acff53 948px,#b8ff47 952px,#c7ff38 956px,#d5ff2a 960px,#dfff20 964px,#e1ff1e 968px,#daff25 972px,#ceff31 976px,#bfff40 980px,#b2ff4d 984px,#a8ff57 988px,#a2ff5d 992px,#acff53 996px,#bbff44 1000px,#cfff30 1004px,#e4ff1b 1008px,#f0ff0f 1012px,#f0ff0f 1016px,#e4ff1b 1020px,#cfff30 1024px,#bbff44 1028px,#acff53 1032px,#a2ff5d 1036px,#9eff61 1040px,#a0ff5f 1044px,#a6ff59 1048px,#b1ff4e 1052px,#c0ff3f 1056px,#d2ff2d 1060px,#e1ff1e 1064px,#e9ff16 1068px,#e7ff18 1072px,#daff25 1076px,#c9ff36 1080px,#b8ff47 1084px,#abff54 1088px,#a3ff5c 1092px,#a6ff59 1096px,#b3ff4c 1100px,#c5ff3a 1104px,#daff25 1108px,#ebff14 1112px,#f2ff0d 1116px,#ebff14 1120px,#daff25 1124px,#c5ff3a 1128px,#b3ff4c 1132px,#a6ff59 1136px,#a0ff5f 1140px,#9eff61 1144px,#a2ff5d 1148px,#aaff55 1152px,#b8ff47 1156px,#c9ff36 1160px,#dcff23 1164px,#e8ff17 1168px,#ebff14 1172px,#e3ff1c 1176px,#d3ff2c 1180px,#c0ff3f 1184px,#b0ff4f 1188px,#a6ff59 1192px,#a6ff59 1196px,#b3ff4c 1200px,#c5ff3a 1204px,#daff25 1208px,#ebff14 1212px,#f2ff0d 1216px,#ebff14 1220px,#daff25 1224px,#c5ff3a 1228px,#b3ff4c 1232px,#a6ff59 1236px,#a0ff5f 1240px,#9dff62 1244px,#9dff62 1248px,#a1ff5e 1252px,#a9ff56 1256px,#b7ff48 1260px,#caff35 1264px,#dfff20 1268px,#eeff11 1272px,#f2ff0d 1276px,#e8ff17 1280px,#d5ff2a 1284px,#d5ff2a 1288px,#d5ff2a 1292px,#d5ff2a 1296px,#d5ff2a 1300px)"></div>
<div style="height:10px;background:linear-gradient(90deg,#a4ff5b 0px,#a4ff5b 4px,#a4ff5b 8px,#a4ff5b 12px,#a4ff5b 16px,#b2ff4d 20px,#c0ff3f 24px,#c7ff38 28px,#c5ff3a 32px,#baff45 36px,#abff54 40px,#9eff61 44px,#94ff6b 48px,#8fff70 52px,#91ff6e 56px,#96ff69 60px,#9dff62 64px,#a5ff5a 68px,#adff52 72px,#b2ff4d 76px,#b4ff4b 80px,#b0ff4f 84px,#a9ff56 88px,#a1ff5e 92px,#99ff66 96px,#93ff6c 100px,#90ff6f 104px,#8eff71 108px,#91ff6e 112px,#98ff67 116px,#a4ff5b 120px,#b2ff4d 124px,#c0ff3f 128px,#c7ff38 132px,#c5ff3a 136px,#baff45 140px,#abff54 144px,#9eff61 148px,#94ff6b 152px,#8fff70 156px,#8fff70 160px,#92ff6d 164px,#98ff67 168px,#9fff60 172px,#a7ff58 176px,#afff50 180px,#b3ff4c 184px,#b3ff4c 188px,#afff50 192px,#a7ff58 196px,#9fff60 200px,#98ff67 204px,#92ff6d 208px,#8fff70 212px,#93ff6c 216px,#9bff64 220px,#a7ff58 224px,#b6ff49 228px,#c3ff3c 232px,#c8ff37 236px,#c3ff3c 240px,#b6ff49 244px,#a7ff58 248px,#9bff64 252px,#93ff6c 256px,#8fff70 260px,#8dff72 264px,#8fff70 268px,#92ff6d 272px,#98ff67 276px,#a0ff5f 280px,#a9ff56 284px,#b2ff4d 288px,#b7ff48 292px,#b7ff48 296px,#b2ff4d 300px,#a9ff56 304px,#a0ff5f 308px,#98ff67 312px,#92ff6d 316px,#91ff6e 320px,#98ff67 324px,#a4ff5b 328px,#b2ff4d 332px,#c0ff3f 336px,#c7ff38 340px,#c5ff3a 344px,#baff45 348px,#abff54 352px,#9eff61 356px,#94ff6b 360px,#8fff70 364px,#8dff72 368px,#8eff71 372px,#90ff6f 376px,#96ff69 380px,#a1ff5e 384px,#afff50 388px,#bdff42 392px,#c6ff39 396px,#c6ff39 400px,#bdff42 404px,#afff50 408px,#a1ff5e 412px,#96ff69 416px,#90ff6f 420px,#94ff6b 424px,#9eff61 428px,#abff54 432px,#baff45 436px,#c5ff3a 440px,#c7ff38 444px,#c0ff3f 448px,#b2ff4d 452px,#a4ff5b 456px,#98ff67 460px,#91ff6e 464px,#8eff71 468px,#8dff72 472px,#8eff71 476px,#91ff6e 480px,#98ff67 484px,#a4ff5b 488px,#b2ff4d 492px,#c0ff3f 496px,#c7ff38 500px,#c5ff3a 504px,#baff45 508px,#abff54 512px,#9eff61 516px,#94ff6b 520px,#93ff6c 524px,#9bff64 528px,#a7ff58 532px,#b6ff49 536px,#c2ff3d 540px,#c6ff39 544px,#c2ff3d 548px,#b6ff49 552px,#a7ff58 556px,#9bff64 560px,#93ff6c 564px,#8fff70 568px,#8dff72 572px,#8eff71 576px,#91ff6e 580px,#98ff67 584px,#a4ff5b 588px,#b2ff4d 592px,#c0ff3f 596px,#c7ff38 600px,#c5ff3a 604px,#baff45 608px,#abff54 612px,#9eff61 616px,#94ff6b 620px,#90ff6f 624px,#96ff69 628px,#9eff61 632px,#a9ff56 636px,#b5ff4a 640px,#bdff42 644px,#bfff40 648px,#baff45 652px,#afff50 656px,#a3ff5c 660px,#99ff66 664px,#93ff6c 668px,#8fff70 672px,#8dff72 676px,#8fff70 680px,#93ff6c 684px,#9bff64 688px,#a7ff58 692px,#b6ff49 696px,#c3ff3c 700px,#c8ff37 704px,#c3ff3c 708px,#b6ff49 712px,#a7ff58 716px,#9bff64 720px,#93ff6c 724px,#90ff6f 728px,#95ff6a 732px,#9bff64 736px,#a3ff5c 740px,#abff54 744px,#b1ff4e 748px,#b4ff4b 752px,#b1ff4e 756px,#abff54 760px,#a3ff5c 764px,#9bff64 768px,#95ff6a 772px,#90ff6f 776px,#8eff71 780px,#8fff70 784px,#93ff6c 788px,#9bff64 792px,#a7ff58 796px,#b6ff49 800px,#c3ff3c 804px,#c8ff37 808px,#c3ff3c 812px,#b6ff49 816px,#a7ff58 820px,#9bff64 824px,#93ff6c 828px,#8fff70 832px,#90ff6f 836px,#93ff6c 840px,#99ff66 844px,#a1ff5e 848px,#a9ff56 852px,#b0ff4f 856px,#b4ff4b 860px,#b2ff4d 864px,#adff52 868px,#a5ff5a 872px,#9dff62 876px,#96ff69 880px,#91ff6e 884px,#8fff70 888px,#93ff6c 892px,#9bff64 896px,#a7ff58 900px,#b6ff49 904px,#c3ff3c 908px,#c8ff37 912px,#c3ff3c 916px,#b6ff49 920px,#a7ff58 924px,#9bff64 928px,#93ff6c 932px,#8fff70 936px,#8eff71 940px,#91ff6e 944px,#96ff69 948px,#9eff61 952px,#a8ff57 956px,#b3ff4c 960px,#baff45 964px,#bcff43 968px,#b7ff48 972px,#aeff51 976px,#a3ff5c 980px,#9aff65 984px,#93ff6c 988px,#90ff6f 992px,#96ff69 996px,#a1ff5e 1000px,#afff50 1004px,#bdff42 1008px,#c6ff39 1012px,#c6ff39 1016px,#bdff42 1020px,#afff50 1024px,#a1ff5e 1028px,#96ff69 1032px,#90ff6f 1036px,#8eff71 1040px,#8fff70 1044px,#92ff6d 1048px,#99ff66 1052px,#a4ff5b 1056px,#b0ff4f 1060px,#bcff43 1064px,#c2ff3d 1068px,#c0ff3f 1072px,#b7ff48 1076px,#aaff55 1080px,#9eff61 1084px,#95ff6a 1088px,#90ff6f 1092px,#93ff6c 1096px,#9bff64 1100px,#a7ff58 1104px,#b6ff49 1108px,#c3ff3c 1112px,#c8ff37 1116px,#c3ff3c 1120px,#b6ff49 1124px,#a7ff58 1128px,#9bff64 1132px,#93ff6c 1136px,#8fff70 1140px,#8dff72 1144px,#90ff6f 1148px,#95ff6a 1152px,#9eff61 1156px,#aaff55 1160px,#b7ff48 1164px,#c1ff3e 1168px,#c3ff3c 1172px,#bdff42 1176px,#b1ff4e 1180px,#a4ff5b 1184px,#99ff66 1188px,#92ff6d 1192px,#93ff6c 1196px,#9bff64 1200px,#a7ff58 1204px,#b6ff49 1208px,#c3ff3c 1212px,#c8ff37 1216px,#c3ff3c 1220px,#b6ff49 1224px,#a7ff58 1228px,#9bff64 1232px,#93ff6c 1236px,#8fff70 1240px,#8dff72 1244px,#8dff72 1248px,#8fff70 1252px,#94ff6b 1256px,#9eff61 1260px,#abff54 1264px,#baff45 1268px,#c5ff3a 1272px,#c7ff38 1276px,#c0ff3f 1280px,#b2ff4d 1284px,#b2ff4d 1288px,#b2ff4d 1292px,#b2ff4d 1296px,#b2ff4d 1300px)"></div>
<div style="height:10px;background:linear-gradient(90deg,#98ff67 0px,#98ff67 4px,#98ff67 8px,#98ff67 12px,#98ff67 16px,#a4ff5b 20px,#b0ff4f 24px,#b6ff49 28px,#b4ff4b 32px,#abff54 36px,#9eff61 40px,#93ff6c 44px,#8bff74 48px,#87ff78 52px,#88ff77 56px,#8dff72 60px,#93ff6c 64px,#9bff64 68px,#a2ff5d 72px,#a7ff58 76px,#a8ff57 80px,#a5ff5a 84px,#9eff61 88px,#97ff68 92px,#90ff6f 96px,#8aff75 100px,#87ff78 104px,#86ff79 108px,#88ff77 112px,#8eff71 116px,#98ff67 120px,#a4ff5b 124px,#b0ff4f 128px,#b6ff49 132px,#b4ff4b 136px,#abff54 140px,#9eff61 144px,#93ff6c 148px,#8bff74 152px,#87ff78 156px,#86ff79 160px,#89ff76 164px,#8eff71 168px,#95ff6a 172px,#9dff62 176px,#a4ff5b 180px,#a8ff57 184px,#a8ff57 188px,#a4ff5b 192px,#9dff62 196px,#95ff6a 200px,#8eff71 204px,#89ff76 208px,#86ff79 212px,#8aff75 216px,#90ff6f 220px,#9bff64 224px,#a8ff57 228px,#b2ff4d 232px,#b7ff48 236px,#b2ff4d 240px,#a8ff57 244px,#9bff64 248px,#90ff6f 252px,#8aff75 256px,#86ff79 260px,#85ff7a 264px,#86ff79 268px,#89ff76 272px,#8eff71 276px,#95ff6a 280px,#9eff61 284px,#a6ff59 288px,#abff54 292px,#abff54 296px,#a6ff59 300px,#9eff61 304px,#95ff6a 308px,#8eff71 312px,#89ff76 316px,#88ff77 320px,#8eff71 324px,#98ff67 328px,#a4ff5b 332px,#b0ff4f 336px,#b6ff49 340px,#b4ff4b 344px,#abff54 348px,#9eff61 352px,#93ff6c 356px,#8bff74 360px,#87ff78 364px,#85ff7a 368px,#85ff7a 372px,#87ff78 376px,#8cff73 380px,#95ff6a 384px,#a1ff5e 388px,#aeff51 392px,#b6ff49 396px,#b6ff49 400px,#aeff51 404px,#a1ff5e 408px,#95ff6a 412px,#8cff73 416px,#87ff78 420px,#8bff74 424px,#93ff6c 428px,#9eff61 432px,#abff54 436px,#b4ff4b 440px,#b6ff49 444px,#b0ff4f 448px,#a4ff5b 452px,#98ff67 456px,#8eff71 460px,#88ff77 464px,#86ff79 468px,#84ff7b 472px,#86ff79 476px,#88ff77 480px,#8eff71 484px,#98ff67 488px,#a4ff5b 492px,#b0ff4f 496px,#b6ff49 500px,#b4ff4b 504px,#abff54 508px,#9eff61 512px,#93ff6c 516px,#8bff74 520px,#8aff75 524px,#90ff6f 528px,#9bff64 532px,#a7ff58 536px,#b2ff4d 540px,#b6ff49 544px,#b2ff4d 548px,#a7ff58 552px,#9bff64 556px,#90ff6f 560px,#8aff75 564px,#86ff79 568px,#85ff7a 572px,#86ff79 576px,#88ff77 580px,#8eff71 584px,#98ff67 588px,#a4ff5b 592px,#b0ff4f 596px,#b6ff49 600px,#b4ff4b 604px,#abff54 608px,#9eff61 612px,#93ff6c 616px,#8bff74 620px,#88ff77 624px,#8cff73 628px,#93ff6c 632px,#9dff62 636px,#a7ff58 640px,#afff50 644px,#b0ff4f 648px,#acff53 652px,#a2ff5d 656px,#98ff67 660px,#8fff70 664px,#89ff76 668px,#86ff79 672px,#85ff7a 676px,#86ff79 680px,#8aff75 684px,#90ff6f 688px,#9bff64 692px,#a8ff57 696px,#b2ff4d 700px,#b7ff48 704px,#b2ff4d 708px,#a8ff57 712px,#9bff64 716px,#90ff6f 720px,#8aff75 724px,#88ff77 728px,#8bff74 732px,#91ff6e 736px,#99ff66 740px,#a0ff5f 744px,#a6ff59 748px,#a8ff57 752px,#a6ff59 756px,#a0ff5f 760px,#99ff66 764px,#91ff6e 768px,#8bff74 772px,#88ff77 776px,#86ff79 780px,#86ff79 784px,#8aff75 788px,#90ff6f 792px,#9bff64 796px,#a8ff57 800px,#b2ff4d 804px,#b7ff48 808px,#b2ff4d 812px,#a8ff57 816px,#9bff64 820px,#90ff6f 824px,#8aff75 828px,#86ff79 832px,#87ff78 836px,#8aff75 840px,#90ff6f 844px,#97ff68 848px,#9eff61 852px,#a5ff5a 856px,#a8ff57 860px,#a7ff58 864px,#a2ff5d 868px,#9bff64 872px,#93ff6c 876px,#8dff72 880px,#88ff77 884px,#86ff79 888px,#8aff75 892px,#90ff6f 896px,#9bff64 900px,#a8ff57 904px,#b2ff4d 908px,#b7ff48 912px,#b2ff4d 916px,#a8ff57 920px,#9bff64 924px,#90ff6f 928px,#8aff75 932px,#86ff79 936px,#86ff79 940px,#88ff77 944px,#8cff73 948px,#93ff6c 952px,#9dff62 956px,#a6ff59 960px,#adff52 964px,#aeff51 968px,#aaff55 972px,#a1ff5e 976px,#98ff67 980px,#8fff70 984px,#8aff75 988px,#87ff78 992px,#8cff73 996px,#95ff6a 1000px,#a1ff5e 1004px,#aeff51 1008px,#b6ff49 1012px,#b6ff49 1016px,#aeff51 1020px,#a1ff5e 1024px,#95ff6a 1028px,#8cff73 1032px,#87ff78 1036px,#85ff7a 1040px,#86ff79 1044px,#89ff76 1048px,#8fff70 1052px,#98ff67 1056px,#a3ff5c 1060px,#adff52 1064px,#b2ff4d 1068px,#b1ff4e 1072px,#a9ff56 1076px,#9dff62 1080px,#93ff6c 1084px,#8cff73 1088px,#87ff78 1092px,#8aff75 1096px,#90ff6f 1100px,#9bff64 1104px,#a8ff57 1108px,#b2ff4d 1112px,#b7ff48 1116px,#b2ff4d 1120px,#a8ff57 1124px,#9bff64 1128px,#90ff6f 1132px,#8aff75 1136px,#86ff79 1140px,#85ff7a 1144px,#87ff78 1148px,#8bff74 1152px,#93ff6c 1156px,#9eff61 1160px,#a9ff56 1164px,#b2ff4d 1168px,#b3ff4c 1172px,#aeff51 1176px,#a3ff5c 1180px,#98ff67 1184px,#8fff70 1188px,#89ff76 1192px,#8aff75 1196px,#90ff6f 1200px,#9bff64 1204px,#a8ff57 1208px,#b2ff4d 1212px,#b7ff48 1216px,#b2ff4d 1220px,#a8ff57 1224px,#9bff64 1228px,#90ff6f 1232px,#8aff75 1236px,#86ff79 1240px,#85ff7a 1244px,#85ff7a 1248px,#87ff78 1252px,#8bff74 1256px,#93ff6c 1260px,#9eff61 1264px,#abff54 1268px,#b4ff4b 1272px,#b6ff49 1276px,#b0ff4f 1280px,#a4ff5b 1284px,#a4ff5b 1288px,#a4ff5b 1292px,#a4ff5b 1296px,#a4ff5b 1300px)"></div>
<div style="height:10px;background:linear-gradient(90deg,#94ff6b 0px,#94ff6b 4px,#94ff6b 8px,#94ff6b 12px,#94ff6b 16px,#a0ff5f 20px,#abff54 24px,#b1ff4e 28px,#afff50 32px,#a6ff59 36px,#9aff65 40px,#8fff70 44px,#87ff78 48px,#83ff7c 52px,#85ff7a 56px,#89ff76 60px,#90ff6f 64px,#97ff68 68px,#9fff60 72px,#a4ff5b 76px,#a5ff5a 80px,#a2ff5d 84px,#9bff64 88px,#93ff6c 92px,#8cff73 96px,#87ff78 100px,#84ff7b 104px,#82ff7d 108px,#85ff7a 112px,#8aff75 116px,#94ff6b 120px,#a0ff5f 124px,#abff54 128px,#b1ff4e 132px,#afff50 136px,#a6ff59 140px,#9aff65 144px,#8fff70 148px,#87ff78 152px,#83ff7c 156px,#83ff7c 160px,#86ff79 164px,#8bff74 168px,#92ff6d 172px,#99ff66 176px,#a1ff5e 180px,#a5ff5a 184px,#a5ff5a 188px,#a1ff5e 192px,#99ff66 196px,#92ff6d 200px,#8bff74 204px,#86ff79 208px,#83ff7c 212px,#86ff79 216px,#8cff73 220px,#97ff68 224px,#a3ff5c 228px,#aeff51 232px,#b2ff4d 236px,#aeff51 240px,#a3ff5c 244px,#97ff68 248px,#8cff73 252px,#86ff79 256px,#82ff7d 260px,#81ff7e 264px,#83ff7c 268px,#86ff79 272px,#8bff74 276px,#92ff6d 280px,#9aff65 284px,#a3ff5c 288px,#a7ff58 292px,#a7ff58 296px,#a3ff5c 300px,#9aff65 304px,#92ff6d 308px,#8bff74 312px,#86ff79 316px,#85ff7a 320px,#8aff75 324px,#94ff6b 328px,#a0ff5f 332px,#abff54 336px,#b1ff4e 340px,#afff50 344px,#a6ff59 348px,#9aff65 352px,#8fff70 356px,#87ff78 360px,#83ff7c 364px,#81ff7e 368px,#82ff7d 372px,#84ff7b 376px,#89ff76 380px,#91ff6e 384px,#9dff62 388px,#a9ff56 392px,#b1ff4e 396px,#b1ff4e 400px,#a9ff56 404px,#9dff62 408px,#91ff6e 412px,#89ff76 416px,#84ff7b 420px,#87ff78 424px,#8fff70 428px,#9aff65 432px,#a6ff59 436px,#afff50 440px,#b1ff4e 444px,#abff54 448px,#a0ff5f 452px,#94ff6b 456px,#8aff75 460px,#85ff7a 464px,#82ff7d 468px,#81ff7e 472px,#82ff7d 476px,#85ff7a 480px,#8aff75 484px,#94ff6b 488px,#a0ff5f 492px,#abff54 496px,#b1ff4e 500px,#afff50 504px,#a6ff59 508px,#9aff65 512px,#8fff70 516px,#87ff78 520px,#86ff79 524px,#8dff72 528px,#97ff68 532px,#a3ff5c 536px,#adff52 540px,#b1ff4e 544px,#adff52 548px,#a3ff5c 552px,#97ff68 556px,#8dff72 560px,#86ff79 564px,#83ff7c 568px,#81ff7e 572px,#82ff7d 576px,#85ff7a 580px,#8aff75 584px,#94ff6b 588px,#a0ff5f 592px,#abff54 596px,#b1ff4e 600px,#afff50 604px,#a6ff59 608px,#9aff65 612px,#8fff70 616px,#87ff78 620px,#84ff7b 624px,#88ff77 628px,#90ff6f 632px,#99ff66 636px,#a3ff5c 640px,#abff54 644px,#acff53 648px,#a8ff57 652px,#9eff61 656px,#94ff6b 660px,#8cff73 664px,#86ff79 668px,#83ff7c 672px,#81ff7e 676px,#82ff7d 680px,#86ff79 684px,#8cff73 688px,#97ff68 692px,#a3ff5c 696px,#aeff51 700px,#b2ff4d 704px,#aeff51 708px,#a3ff5c 712px,#97ff68 716px,#8cff73 720px,#86ff79 724px,#84ff7b 728px,#88ff77 732px,#8eff71 736px,#95ff6a 740px,#9dff62 744px,#a3ff5c 748px,#a6ff59 752px,#a3ff5c 756px,#9dff62 760px,#95ff6a 764px,#8eff71 768px,#88ff77 772px,#84ff7b 776px,#82ff7d 780px,#82ff7d 784px,#86ff79 788px,#8cff73 792px,#97ff68 796px,#a3ff5c 800px,#aeff51 804px,#b2ff4d 808px,#aeff51 812px,#a3ff5c 816px,#97ff68 820px,#8cff73 824px,#86ff79 828px,#82ff7d 832px,#84ff7b 836px,#87ff78 840px,#8cff73 844px,#93ff6c 848px,#9bff64 852px,#a2ff5d 856px,#a5ff5a 860px,#a4ff5b 864px,#9fff60 868px,#97ff68 872px,#90ff6f 876px,#89ff76 880px,#85ff7a 884px,#83ff7c 888px,#86ff79 892px,#8cff73 896px,#97ff68 900px,#a3ff5c 904px,#aeff51 908px,#b2ff4d 912px,#aeff51 916px,#a3ff5c 920px,#97ff68 924px,#8cff73 928px,#86ff79 932px,#82ff7d 936px,#82ff7d 940px,#84ff7b 944px,#89ff76 948px,#90ff6f 952px,#99ff66 956px,#a2ff5d 960px,#a9ff56 964px,#abff54 968px,#a6ff59 972px,#9eff61 976px,#94ff6b 980px,#8cff73 984px,#86ff79 988px,#84ff7b 992px,#89ff76 996px,#91ff6e 1000px,#9dff62 1004px,#a9ff56 1008px,#b1ff4e 1012px,#b1ff4e 1016px,#a9ff56 1020px,#9dff62 1024px,#91ff6e 1028px,#89ff76 1032px,#84ff7b 1036px,#82ff7d 1040px,#82ff7d 1044px,#86ff79 1048px,#8bff74 1052px,#94ff6b 1056px,#9fff60 1060px,#a9ff56 1064px,#aeff51 1068px,#acff53 1072px,#a4ff5b 1076px,#99ff66 1080px,#8fff70 1084px,#88ff77 1088px,#84ff7b 1092px,#86ff79 1096px,#8cff73 1100px,#97ff68 1104px,#a3ff5c 1108px,#aeff51 1112px,#b2ff4d 1116px,#aeff51 1120px,#a3ff5c 1124px,#97ff68 1128px,#8cff73 1132px,#86ff79 1136px,#82ff7d 1140px,#82ff7d 1144px,#84ff7b 1148px,#88ff77 1152px,#8fff70 1156px,#9aff65 1160px,#a5ff5a 1164px,#adff52 1168px,#afff50 1172px,#a9ff56 1176px,#9fff60 1180px,#94ff6b 1184px,#8bff74 1188px,#85ff7a 1192px,#86ff79 1196px,#8cff73 1200px,#97ff68 1204px,#a3ff5c 1208px,#aeff51 1212px,#b2ff4d 1216px,#aeff51 1220px,#a3ff5c 1224px,#97ff68 1228px,#8cff73 1232px,#86ff79 1236px,#82ff7d 1240px,#81ff7e 1244px,#81ff7e 1248px,#83ff7c 1252px,#87ff78 1256px,#8fff70 1260px,#9aff65 1264px,#a6ff59 1268px,#afff50 1272px,#b1ff4e 1276px,#abff54 1280px,#a0ff5f 1284px,#a0ff5f 1288px,#a0ff5f 1292px,#a0ff5f 1296px,#a0ff5f 1300px)"></div>
<div style="height:10px;background:linear-gradient(90deg,#99ff66 0px,#99ff66 4px,#99ff66 8px,#99ff66 12px,#99ff66 16px,#a6ff59 20px,#b3ff4c 24px,#b9ff46 28px,#b7ff48 32px,#adff52 36px,#9fff60 40px,#93ff6c 44px,#8bff74 48px,#87ff78 52px,#88ff77 56px,#8dff72 60px,#93ff6c 64px,#9cff63 68px,#a3ff5c 72px,#a9ff56 76px,#aaff55 80px,#a7ff58 84px,#a0ff5f 88px,#97ff68 92px,#90ff6f 96px,#8aff75 100px,#87ff78 104px,#85ff7a 108px,#88ff77 112px,#8fff70 116px,#99ff66 120px,#a6ff59 124px,#b3ff4c 128px,#b9ff46 132px,#b7ff48 136px,#adff52 140px,#9fff60 144px,#93ff6c 148px,#8bff74 152px,#87ff78 156px,#86ff79 160px,#89ff76 164px,#8eff71 168px,#95ff6a 172px,#9eff61 176px,#a5ff5a 180px,#aaff55 184px,#aaff55 188px,#a5ff5a 192px,#9eff61 196px,#95ff6a 200px,#8eff71 204px,#89ff76 208px,#86ff79 212px,#8aff75 216px,#91ff6e 220px,#9cff63 224px,#aaff55 228px,#b5ff4a 232px,#baff45 236px,#b5ff4a 240px,#aaff55 244px,#9cff63 248px,#91ff6e 252px,#8aff75 256px,#86ff79 260px,#85ff7a 264px,#86ff79 268px,#89ff76 272px,#8eff71 276px,#96ff69 280px,#9fff60 284px,#a8ff57 288px,#adff52 292px,#adff52 296px,#a8ff57 300px,#9fff60 304px,#96ff69 308px,#8eff71 312px,#89ff76 316px,#88ff77 320px,#8fff70 324px,#99ff66 328px,#a6ff59 332px,#b3ff4c 336px,#b9ff46 340px,#b7ff48 344px,#adff52 348px,#9fff60 352px,#93ff6c 356px,#8bff74 360px,#87ff78 364px,#85ff7a 368px,#85ff7a 372px,#87ff78 376px,#8dff72 380px,#96ff69 384px,#a3ff5c 388px,#b0ff4f 392px,#b8ff47 396px,#b8ff47 400px,#b0ff4f 404px,#a3ff5c 408px,#96ff69 412px,#8dff72 416px,#87ff78 420px,#8bff74 424px,#93ff6c 428px,#9fff60 432px,#adff52 436px,#b7ff48 440px,#b9ff46 444px,#b3ff4c 448px,#a6ff59 452px,#99ff66 456px,#8fff70 460px,#88ff77 464px,#85ff7a 468px,#84ff7b 472px,#85ff7a 476px,#88ff77 480px,#8fff70 484px,#99ff66 488px,#a6ff59 492px,#b3ff4c 496px,#b9ff46 500px,#b7ff48 504px,#adff52 508px,#9fff60 512px,#93ff6c 516px,#8bff74 520px,#8aff75 524px,#91ff6e 528px,#9cff63 532px,#a9ff56 536px,#b4ff4b 540px,#b9ff46 544px,#b4ff4b 548px,#a9ff56 552px,#9cff63 556px,#91ff6e 560px,#8aff75 564px,#86ff79 568px,#84ff7b 572px,#85ff7a 576px,#88ff77 580px,#8fff70 584px,#99ff66 588px,#a6ff59 592px,#b3ff4c 596px,#b9ff46 600px,#b7ff48 604px,#adff52 608px,#9fff60 612px,#93ff6c 616px,#8bff74 620px,#87ff78 624px,#8cff73 628px,#94ff6b 632px,#9eff61 636px,#a9ff56 640px,#b1ff4e 644px,#b3ff4c 648px,#aeff51 652px,#a4ff5b 656px,#99ff66 660px,#90ff6f 664px,#89ff76 668px,#86ff79 672px,#85ff7a 676px,#86ff79 680px,#8aff75 684px,#91ff6e 688px,#9cff63 692px,#aaff55 696px,#b5ff4a 700px,#baff45 704px,#b5ff4a 708px,#aaff55 712px,#9cff63 716px,#91ff6e 720px,#8aff75 724px,#88ff77 728px,#8cff73 732px,#92ff6d 736px,#99ff66 740px,#a2ff5d 744px,#a8ff57 748px,#aaff55 752px,#a8ff57 756px,#a2ff5d 760px,#99ff66 764px,#92ff6d 768px,#8cff73 772px,#88ff77 776px,#85ff7a 780px,#86ff79 784px,#8aff75 788px,#91ff6e 792px,#9cff63 796px,#aaff55 800px,#b5ff4a 804px,#baff45 808px,#b5ff4a 812px,#aaff55 816px,#9cff63 820px,#91ff6e 824px,#8aff75 828px,#86ff79 832px,#87ff78 836px,#8aff75 840px,#90ff6f 844px,#97ff68 848px,#a0ff5f 852px,#a7ff58 856px,#aaff55 860px,#a9ff56 864px,#a3ff5c 868px,#9cff63 872px,#93ff6c 876px,#8dff72 880px,#88ff77 884px,#86ff79 888px,#8aff75 892px,#91ff6e 896px,#9cff63 900px,#aaff55 904px,#b5ff4a 908px,#baff45 912px,#b5ff4a 916px,#aaff55 920px,#9cff63 924px,#91ff6e 928px,#8aff75 932px,#86ff79 936px,#85ff7a 940px,#88ff77 944px,#8cff73 948px,#94ff6b 952px,#9eff61 956px,#a8ff57 960px,#afff50 964px,#b1ff4e 968px,#acff53 972px,#a3ff5c 976px,#99ff66 980px,#90ff6f 984px,#8aff75 988px,#87ff78 992px,#8dff72 996px,#96ff69 1000px,#a3ff5c 1004px,#b0ff4f 1008px,#b8ff47 1012px,#b8ff47 1016px,#b0ff4f 1020px,#a3ff5c 1024px,#96ff69 1028px,#8dff72 1032px,#87ff78 1036px,#85ff7a 1040px,#86ff79 1044px,#89ff76 1048px,#8fff70 1052px,#99ff66 1056px,#a5ff5a 1060px,#afff50 1064px,#b5ff4a 1068px,#b3ff4c 1072px,#aaff55 1076px,#9fff60 1080px,#94ff6b 1084px,#8cff73 1088px,#87ff78 1092px,#8aff75 1096px,#91ff6e 1100px,#9cff63 1104px,#aaff55 1108px,#b5ff4a 1112px,#baff45 1116px,#b5ff4a 1120px,#aaff55 1124px,#9cff63 1128px,#91ff6e 1132px,#8aff75 1136px,#86ff79 1140px,#85ff7a 1144px,#87ff78 1148px,#8cff73 1152px,#94ff6b 1156px,#9fff60 1160px,#abff54 1164px,#b4ff4b 1168px,#b6ff49 1172px,#b0ff4f 1176px,#a5ff5a 1180px,#99ff66 1184px,#8fff70 1188px,#89ff76 1192px,#8aff75 1196px,#91ff6e 1200px,#9cff63 1204px,#aaff55 1208px,#b5ff4a 1212px,#baff45 1216px,#b5ff4a 1220px,#aaff55 1224px,#9cff63 1228px,#91ff6e 1232px,#8aff75 1236px,#86ff79 1240px,#84ff7b 1244px,#85ff7a 1248px,#87ff78 1252px,#8bff74 1256px,#93ff6c 1260px,#9fff60 1264px,#adff52 1268px,#b7ff48 1272px,#b9ff46 1276px,#b3ff4c 1280px,#a6ff59 1284px,#a6ff59 1288px,#a6ff59 1292px,#a6ff59 1296px,#a6ff59 1300px)"></div>
<div style="height:10px;background:linear-gradient(90deg,#a5ff5a 0px,#a5ff5a 4px,#a5ff5a 8px,#a5ff5a 12px,#a5ff5a 16px,#b7ff48 20px,#c7ff38 24px,#d0ff2f 28px,#cdff32 32px,#bfff40 36px,#aeff51 40px,#9eff61 44px,#93ff6c 48px,#8dff72 52px,#8eff71 56px,#94ff6b 60px,#9cff63 64px,#a5ff5a 68px,#afff50 72px,#b5ff4a 76px,#b7ff48 80px,#b2ff4d 84px,#aaff55 88px,#a0ff5f 92px,#98ff67 96px,#91ff6e 100px,#8dff72 104px,#8bff74 108px,#8fff70 112px,#97ff68 116px,#a5ff5a 120px,#b7ff48 124px,#c7ff38 128px,#d0ff2f 132px,#cdff32 136px,#bfff40 140px,#aeff51 144px,#9eff61 148px,#93ff6c 152px,#8dff72 156px,#8cff73 160px,#90ff6f 164px,#96ff69 168px,#9eff61 172px,#a8ff57 176px,#b1ff4e 180px,#b6ff49 184px,#b6ff49 188px,#b1ff4e 192px,#a8ff57 196px,#9eff61 200px,#96ff69 204px,#90ff6f 208px,#8cff73 212px,#91ff6e 216px,#9aff65 220px,#a9ff56 224px,#bbff44 228px,#caff35 232px,#d0ff2f 236px,#caff35 240px,#bbff44 244px,#a9ff56 248px,#9aff65 252px,#91ff6e 256px,#8cff73 260px,#8aff75 264px,#8cff73 268px,#8fff70 272px,#96ff69 276px,#9fff60 280px,#abff54 284px,#b5ff4a 288px,#bbff44 292px,#bbff44 296px,#b5ff4a 300px,#abff54 304px,#9fff60 308px,#96ff69 312px,#8fff70 316px,#8fff70 320px,#97ff68 324px,#a5ff5a 328px,#b7ff48 332px,#c7ff38 336px,#d0ff2f 340px,#cdff32 344px,#bfff40 348px,#aeff51 352px,#9eff61 356px,#93ff6c 360px,#8dff72 364px,#8aff75 368px,#8bff74 372px,#8eff71 376px,#95ff6a 380px,#a1ff5e 384px,#b2ff4d 388px,#c3ff3c 392px,#ceff31 396px,#ceff31 400px,#c3ff3c 404px,#b2ff4d 408px,#a1ff5e 412px,#95ff6a 416px,#8eff71 420px,#93ff6c 424px,#9eff61 428px,#aeff51 432px,#bfff40 436px,#cdff32 440px,#d0ff2f 444px,#c7ff38 448px,#b7ff48 452px,#a5ff5a 456px,#97ff68 460px,#8fff70 464px,#8bff74 468px,#89ff76 472px,#8bff74 476px,#8fff70 480px,#97ff68 484px,#a5ff5a 488px,#b7ff48 492px,#c7ff38 496px,#d0ff2f 500px,#cdff32 504px,#bfff40 508px,#aeff51 512px,#9eff61 516px,#93ff6c 520px,#91ff6e 524px,#9bff64 528px,#a9ff56 532px,#baff45 536px,#c9ff36 540px,#ceff31 544px,#c9ff36 548px,#baff45 552px,#a9ff56 556px,#9bff64 560px,#91ff6e 564px,#8cff73 568px,#8aff75 572px,#8bff74 576px,#8fff70 580px,#97ff68 584px,#a5ff5a 588px,#b7ff48 592px,#c7ff38 596px,#d0ff2f 600px,#cdff32 604px,#bfff40 608px,#aeff51 612px,#9eff61 616px,#93ff6c 620px,#8eff71 624px,#94ff6b 628px,#9eff61 632px,#abff54 636px,#b9ff46 640px,#c3ff3c 644px,#c5ff3a 648px,#beff41 652px,#b2ff4d 656px,#a4ff5b 660px,#98ff67 664px,#90ff6f 668px,#8cff73 672px,#8aff75 676px,#8cff73 680px,#91ff6e 684px,#9aff65 688px,#a9ff56 692px,#bbff44 696px,#caff35 700px,#d0ff2f 704px,#caff35 708px,#bbff44 712px,#a9ff56 716px,#9aff65 720px,#91ff6e 724px,#8eff71 728px,#92ff6d 732px,#9aff65 736px,#a3ff5c 740px,#adff52 744px,#b4ff4b 748px,#b7ff48 752px,#b4ff4b 756px,#adff52 760px,#a3ff5c 764px,#9aff65 768px,#92ff6d 772px,#8eff71 776px,#8bff74 780px,#8cff73 784px,#91ff6e 788px,#9aff65 792px,#a9ff56 796px,#bbff44 800px,#caff35 804px,#d0ff2f 808px,#caff35 812px,#bbff44 816px,#a9ff56 820px,#9aff65 824px,#91ff6e 828px,#8cff73 832px,#8dff72 836px,#91ff6e 840px,#98ff67 844px,#a0ff5f 848px,#aaff55 852px,#b2ff4d 856px,#b7ff48 860px,#b5ff4a 864px,#afff50 868px,#a5ff5a 872px,#9cff63 876px,#94ff6b 880px,#8eff71 884px,#8cff73 888px,#91ff6e 892px,#9aff65 896px,#a9ff56 900px,#bbff44 904px,#caff35 908px,#d0ff2f 912px,#caff35 916px,#bbff44 920px,#a9ff56 924px,#9aff65 928px,#91ff6e 932px,#8cff73 936px,#8bff74 940px,#8eff71 944px,#94ff6b 948px,#9dff62 952px,#aaff55 956px,#b6ff49 960px,#bfff40 964px,#c1ff3e 968px,#bcff43 972px,#b0ff4f 976px,#a3ff5c 980px,#98ff67 984px,#91ff6e 988px,#8eff71 992px,#95ff6a 996px,#a1ff5e 1000px,#b2ff4d 1004px,#c3ff3c 1008px,#ceff31 1012px,#ceff31 1016px,#c3ff3c 1020px,#b2ff4d 1024px,#a1ff5e 1028px,#95ff6a 1032px,#8eff71 1036px,#8bff74 1040px,#8cff73 1044px,#90ff6f 1048px,#98ff67 1052px,#a5ff5a 1056px,#b4ff4b 1060px,#c1ff3e 1064px,#c8ff37 1068px,#c6ff39 1072px,#bbff44 1076px,#acff53 1080px,#9eff61 1084px,#94ff6b 1088px,#8dff72 1092px,#91ff6e 1096px,#9aff65 1100px,#a9ff56 1104px,#bbff44 1108px,#caff35 1112px,#d0ff2f 1116px,#caff35 1120px,#bbff44 1124px,#a9ff56 1128px,#9aff65 1132px,#91ff6e 1136px,#8cff73 1140px,#8aff75 1144px,#8dff72 1148px,#93ff6c 1152px,#9eff61 1156px,#acff53 1160px,#bcff43 1164px,#c8ff37 1168px,#caff35 1172px,#c3ff3c 1176px,#b4ff4b 1180px,#a5ff5a 1184px,#98ff67 1188px,#90ff6f 1192px,#91ff6e 1196px,#9aff65 1200px,#a9ff56 1204px,#bbff44 1208px,#caff35 1212px,#d0ff2f 1216px,#caff35 1220px,#bbff44 1224px,#a9ff56 1228px,#9aff65 1232px,#91ff6e 1236px,#8cff73 1240px,#8aff75 1244px,#8aff75 1248px,#8dff72 1252px,#93ff6c 1256px,#9eff61 1260px,#aeff51 1264px,#bfff40 1268px,#cdff32 1272px,#d0ff2f 1276px,#c7ff38 1280px,#b7ff48 1284px,#b7ff48 1288px,#b7ff48 1292px,#b7ff48 1296px,#b7ff48 1300px)"></div>
<div style="height:10px;background:linear-gradient(90deg,#c3ff3c 0px,#c3ff3c 4px,#c3ff3c 8px,#c3ff3c 12px,#c3ff3c 16px,#e0ff1f 20px,#f9ff06 24px,#fff700 28px,#fffc00 32px,#edff12 36px,#d1ff2e 40px,#b7ff48 44px,#a4ff5b 48px,#9aff65 52px,#9bff64 56px,#a3ff5c 60px,#afff50 64px,#bdff42 68px,#caff35 72px,#d4ff2b 76px,#d6ff29 80px,#d0ff2f 84px,#c4ff3b 88px,#b5ff4a 92px,#a8ff57 96px,#9fff60 100px,#98ff67 104px,#97ff68 108px,#9eff61 112px,#adff52 116px,#c3ff3c 120px,#e0ff1f 124px,#f9ff06 128px,#fff700 132px,#fffc00 136px,#edff12 140px,#d1ff2e 144px,#b7ff48 148px,#a4ff5b 152px,#9aff65 156px,#97ff68 160px,#9dff62 164px,#a6ff59 168px,#b2ff4d 172px,#c0ff3f 176px,#cdff32 180px,#d5ff2a 184px,#d5ff2a 188px,#cdff32 192px,#c0ff3f 196px,#b2ff4d 200px,#a6ff59 204px,#9dff62 208px,#98ff67 212px,#a1ff5e 216px,#b1ff4e 220px,#caff35 224px,#e7ff18 228px,#feff01 232px,#fff600 236px,#feff01 240px,#e7ff18 244px,#caff35 248px,#b1ff4e 252px,#a1ff5e 256px,#98ff67 260px,#94ff6b 264px,#97ff68 268px,#9dff62 272px,#a7ff58 276px,#b5ff4a 280px,#c6ff39 284px,#d6ff29 288px,#dfff20 292px,#dfff20 296px,#d6ff29 300px,#c6ff39 304px,#b5ff4a 308px,#a7ff58 312px,#9dff62 316px,#9eff61 320px,#adff52 324px,#c3ff3c 328px,#e0ff1f 332px,#f9ff06 336px,#fff700 340px,#fffc00 344px,#edff12 348px,#d1ff2e 352px,#b7ff48 356px,#a4ff5b 360px,#9aff65 364px,#95ff6a 368px,#96ff69 372px,#9cff63 376px,#a8ff57 380px,#bdff42 384px,#d8ff27 388px,#f4ff0b 392px,#fff900 396px,#fff900 400px,#f4ff0b 404px,#d8ff27 408px,#bdff42 412px,#a8ff57 416px,#9cff63 420px,#a4ff5b 424px,#b7ff48 428px,#d1ff2e 432px,#edff12 436px,#fffc00 440px,#fff700 444px,#f9ff06 448px,#e0ff1f 452px,#c3ff3c 456px,#adff52 460px,#9eff61 464px,#97ff68 468px,#94ff6b 472px,#97ff68 476px,#9eff61 480px,#adff52 484px,#c3ff3c 488px,#e0ff1f 492px,#f9ff06 496px,#fff700 500px,#fffc00 504px,#edff12 508px,#d1ff2e 512px,#b7ff48 516px,#a4ff5b 520px,#a1ff5e 524px,#b1ff4e 528px,#c9ff36 532px,#e5ff1a 536px,#fbff04 540px,#fffa00 544px,#fbff04 548px,#e5ff1a 552px,#c9ff36 556px,#b1ff4e 560px,#a1ff5e 564px,#98ff67 568px,#94ff6b 572px,#97ff68 576px,#9eff61 580px,#adff52 584px,#c3ff3c 588px,#e0ff1f 592px,#f9ff06 596px,#fff700 600px,#fffc00 604px,#edff12 608px,#d1ff2e 612px,#b7ff48 616px,#a4ff5b 620px,#9bff64 624px,#a5ff5a 628px,#b5ff4a 632px,#caff35 636px,#dfff20 640px,#efff10 644px,#f2ff0d 648px,#e8ff17 652px,#d5ff2a 656px,#bfff40 660px,#acff53 664px,#9fff60 668px,#98ff67 672px,#94ff6b 676px,#98ff67 680px,#a1ff5e 684px,#b1ff4e 688px,#caff35 692px,#e7ff18 696px,#feff01 700px,#fff600 704px,#feff01 708px,#e7ff18 712px,#caff35 716px,#b1ff4e 720px,#a1ff5e 724px,#9aff65 728px,#a1ff5e 732px,#abff54 736px,#b9ff46 740px,#c7ff38 744px,#d2ff2d 748px,#d6ff29 752px,#d2ff2d 756px,#c7ff38 760px,#b9ff46 764px,#abff54 768px,#a1ff5e 772px,#9aff65 776px,#96ff69 780px,#98ff67 784px,#a1ff5e 788px,#b1ff4e 792px,#caff35 796px,#e7ff18 800px,#feff01 804px,#fff600 808px,#feff01 812px,#e7ff18 816px,#caff35 820px,#b1ff4e 824px,#a1ff5e 828px,#98ff67 832px,#98ff67 836px,#9fff60 840px,#a8ff57 844px,#b5ff4a 848px,#c4ff3b 852px,#d0ff2f 856px,#d6ff29 860px,#d4ff2b 864px,#caff35 868px,#bdff42 872px,#afff50 876px,#a3ff5c 880px,#9bff64 884px,#98ff67 888px,#a1ff5e 892px,#b1ff4e 896px,#caff35 900px,#e7ff18 904px,#feff01 908px,#fff600 912px,#feff01 916px,#e7ff18 920px,#caff35 924px,#b1ff4e 928px,#a1ff5e 932px,#98ff67 936px,#96ff69 940px,#9bff64 944px,#a5ff5a 948px,#b4ff4b 952px,#c7ff38 956px,#daff25 960px,#e8ff17 964px,#ebff14 968px,#e2ff1d 972px,#d1ff2e 976px,#bdff42 980px,#abff54 984px,#9fff60 988px,#9cff63 992px,#a8ff57 996px,#bdff42 1000px,#d8ff27 1004px,#f4ff0b 1008px,#fff900 1012px,#fff900 1016px,#f4ff0b 1020px,#d8ff27 1024px,#bdff42 1028px,#a8ff57 1032px,#9cff63 1036px,#96ff69 1040px,#98ff67 1044px,#9fff60 1048px,#acff53 1052px,#c1ff3e 1056px,#d9ff26 1060px,#eeff11 1064px,#f9ff06 1068px,#f5ff0a 1072px,#e4ff1b 1076px,#ccff33 1080px,#b6ff49 1084px,#a5ff5a 1088px,#9bff64 1092px,#a1ff5e 1096px,#b1ff4e 1100px,#caff35 1104px,#e7ff18 1108px,#feff01 1112px,#fff600 1116px,#feff01 1120px,#e7ff18 1124px,#caff35 1128px,#b1ff4e 1132px,#a1ff5e 1136px,#98ff67 1140px,#95ff6a 1144px,#9bff64 1148px,#a5ff5a 1152px,#b6ff49 1156px,#ceff31 1160px,#e7ff18 1164px,#f9ff06 1168px,#fdff02 1172px,#f1ff0e 1176px,#daff25 1180px,#c1ff3e 1184px,#adff52 1188px,#9fff60 1192px,#a1ff5e 1196px,#b1ff4e 1200px,#caff35 1204px,#e7ff18 1208px,#feff01 1212px,#fff600 1216px,#feff01 1220px,#e7ff18 1224px,#caff35 1228px,#b1ff4e 1232px,#a1ff5e 1236px,#98ff67 1240px,#94ff6b 1244px,#95ff6a 1248px,#9aff65 1252px,#a4ff5b 1256px,#b7ff48 1260px,#d1ff2e 1264px,#edff12 1268px,#fffc00 1272px,#fff700 1276px,#f9ff06 1280px,#e0ff1f 1284px,#e0ff1f 1288px,#e0ff1f 1292px,#e0ff1f 1296px,#e0ff1f 1300px)"></div>
<div style="height:10px;background:linear-gradient(90deg,#dfff20 0px,#dfff20 4px,#dfff20 8px,#dfff20 12px,#dfff20 16px,#fff900 20px,#ffd600 24px,#ffc400 28px,#ffca00 32px,#ffe600 36px,#f2ff0d 40px,#ceff31 44px,#b4ff4b 48px,#a5ff5a 52px,#a6ff59 56px,#b1ff4e 60px,#c0ff3f 64px,#d3ff2c 68px,#e5ff1a 72px,#f1ff0e 76px,#f4ff0b 80px,#ecff13 84px,#dcff23 88px,#c9ff36 92px,#b8ff47 96px,#abff54 100px,#a2ff5d 104px,#a1ff5e 108px,#acff53 112px,#c0ff3f 116px,#dfff20 120px,#fff900 124px,#ffd600 128px,#ffc400 132px,#ffca00 136px,#ffe600 140px,#f2ff0d 144px,#ceff31 148px,#b4ff4b 152px,#a5ff5a 156px,#a1ff5e 160px,#a8ff57 164px,#b4ff4b 168px,#c5ff3a 172px,#d8ff27 176px,#e9ff16 180px,#f3ff0c 184px,#f3ff0c 188px,#e9ff16 192px,#d8ff27 196px,#c5ff3a 200px,#b4ff4b 204px,#a8ff57 208px,#a3ff5c 212px,#b0ff4f 216px,#c7ff38 220px,#e8ff17 224px,#ffef00 228px,#ffd000 232px,#ffc300 236px,#ffd000 240px,#ffef00 244px,#e8ff17 248px,#c7ff38 252px,#b0ff4f 256px,#a3ff5c 260px,#9dff62 264px,#a1ff5e 268px,#a9ff56 272px,#b6ff49 276px,#caff35 280px,#e0ff1f 284px,#f5ff0a 288px,#fffc00 292px,#fffc00 296px,#f5ff0a 300px,#e0ff1f 304px,#caff35 308px,#b6ff49 312px,#a9ff56 316px,#acff53 320px,#c0ff3f 324px,#dfff20 328px,#fff900 332px,#ffd600 336px,#ffc400 340px,#ffca00 344px,#ffe600 348px,#f2ff0d 352px,#ceff31 356px,#b4ff4b 360px,#a5ff5a 364px,#9eff61 368px,#9fff60 372px,#a8ff57 376px,#baff45 380px,#d6ff29 384px,#fbff04 388px,#ffde00 392px,#ffc600 396px,#ffc600 400px,#ffde00 404px,#fbff04 408px,#d6ff29 412px,#baff45 416px,#a8ff57 420px,#b4ff4b 424px,#ceff31 428px,#f2ff0d 432px,#ffe600 436px,#ffca00 440px,#ffc400 444px,#ffd600 448px,#fff900 452px,#dfff20 456px,#c0ff3f 460px,#acff53 464px,#a1ff5e 468px,#9cff63 472px,#a1ff5e 476px,#acff53 480px,#c0ff3f 484px,#dfff20 488px,#fff900 492px,#ffd600 496px,#ffc400 500px,#ffca00 504px,#ffe600 508px,#f2ff0d 512px,#ceff31 516px,#b4ff4b 520px,#b0ff4f 524px,#c6ff39 528px,#e7ff18 532px,#fff200 536px,#ffd400 540px,#ffc800 544px,#ffd400 548px,#fff200 552px,#e7ff18 556px,#c6ff39 560px,#b0ff4f 564px,#a3ff5c 568px,#9dff62 572px,#a1ff5e 576px,#acff53 580px,#c0ff3f 584px,#dfff20 588px,#fff900 592px,#ffd600 596px,#ffc400 600px,#ffca00 604px,#ffe600 608px,#f2ff0d 612px,#ceff31 616px,#b4ff4b 620px,#a6ff59 624px,#b4ff4b 628px,#caff35 632px,#e6ff19 636px,#fffb00 640px,#ffe600 644px,#ffe200 648px,#ffef00 652px,#f5ff0a 656px,#d8ff27 660px,#beff41 664px,#acff53 668px,#a2ff5d 672px,#9dff62 676px,#a3ff5c 680px,#b0ff4f 684px,#c7ff38 688px,#e8ff17 692px,#ffef00 696px,#ffd000 700px,#ffc300 704px,#ffd000 708px,#ffef00 712px,#e8ff17 716px,#c7ff38 720px,#b0ff4f 724px,#a4ff5b 728px,#adff52 732px,#bcff43 736px,#ceff31 740px,#e1ff1e 744px,#efff10 748px,#f4ff0b 752px,#efff10 756px,#e1ff1e 760px,#ceff31 764px,#bcff43 768px,#adff52 772px,#a4ff5b 776px,#9eff61 780px,#a3ff5c 784px,#b0ff4f 788px,#c7ff38 792px,#e8ff17 796px,#ffef00 800px,#ffd000 804px,#ffc300 808px,#ffd000 812px,#ffef00 816px,#e8ff17 820px,#c7ff38 824px,#b0ff4f 828px,#a3ff5c 832px,#a2ff5d 836px,#abff54 840px,#b8ff47 844px,#c9ff36 848px,#dcff23 852px,#ecff13 856px,#f4ff0b 860px,#f1ff0e 864px,#e5ff1a 868px,#d3ff2c 872px,#c0ff3f 876px,#b1ff4e 880px,#a6ff59 884px,#a3ff5c 888px,#b0ff4f 892px,#c7ff38 896px,#e8ff17 900px,#ffef00 904px,#ffd000 908px,#ffc300 912px,#ffd000 916px,#ffef00 920px,#e8ff17 924px,#c7ff38 928px,#b0ff4f 932px,#a3ff5c 936px,#9fff60 940px,#a6ff59 944px,#b4ff4b 948px,#c8ff37 952px,#e2ff1d 956px,#fcff03 960px,#fff000 964px,#ffec00 968px,#fff800 972px,#efff10 976px,#d4ff2b 980px,#bdff42 984px,#acff53 988px,#a8ff57 992px,#baff45 996px,#d6ff29 1000px,#fbff04 1004px,#ffde00 1008px,#ffc600 1012px,#ffc600 1016px,#ffde00 1020px,#fbff04 1024px,#d6ff29 1028px,#baff45 1032px,#a8ff57 1036px,#9fff60 1040px,#a2ff5d 1044px,#acff53 1048px,#bfff40 1052px,#daff25 1056px,#fbff04 1060px,#ffe700 1064px,#ffd800 1068px,#ffdd00 1072px,#fff400 1076px,#eaff15 1080px,#ccff33 1084px,#b4ff4b 1088px,#a6ff59 1092px,#b0ff4f 1096px,#c7ff38 1100px,#e8ff17 1104px,#ffef00 1108px,#ffd000 1112px,#ffc300 1116px,#ffd000 1120px,#ffef00 1124px,#e8ff17 1128px,#c7ff38 1132px,#b0ff4f 1136px,#a3ff5c 1140px,#9fff60 1144px,#a6ff59 1148px,#b5ff4a 1152px,#ccff33 1156px,#ecff13 1160px,#fff000 1164px,#ffd800 1168px,#ffd300 1172px,#ffe200 1176px,#fdff02 1180px,#dcff23 1184px,#bfff40 1188px,#acff53 1192px,#b0ff4f 1196px,#c7ff38 1200px,#e8ff17 1204px,#ffef00 1208px,#ffd000 1212px,#ffc300 1216px,#ffd000 1220px,#ffef00 1224px,#e8ff17 1228px,#c7ff38 1232px,#b0ff4f 1236px,#a3ff5c 1240px,#9dff62 1244px,#9eff61 1248px,#a5ff5a 1252px,#b4ff4b 1256px,#ceff31 1260px,#f2ff0d 1264px,#ffe600 1268px,#ffca00 1272px,#ffc400 1276px,#ffd600 1280px,#fff900 1284px,#fff900 1288px,#fff900 1292px,#fff900 1296px,#fff900 1300px)"></div>
<div style="height:10px;background:linear-gradient(90deg,#f2ff0d 0px,#f2ff0d 4px,#f2ff0d 8px,#f2ff0d 12px,#f2ff0d 16px,#ffdd00 20px,#ffb300 24px,#ff9c00 28px,#ffa400 32px,#ffc600 36px,#fff500 40px,#ddff22 44px,#beff41 48px,#abff54 52px,#acff53 56px,#baff45 60px,#ceff31 64px,#e6ff19 68px,#fdff02 72px,#fff100 76px,#ffed00 80px,#fff700 84px,#f2ff0d 88px,#daff25 92px,#c3ff3c 96px,#b2ff4d 100px,#a8ff57 104px,#a6ff59 108px,#b3ff4c 112px,#ccff33 116px,#f2ff0d 120px,#ffdd00 124px,#ffb300 128px,#ff9c00 132px,#ffa400 136px,#ffc600 140px,#fff500 144px,#ddff22 148px,#beff41 152px,#abff54 156px,#a6ff59 160px,#afff50 164px,#bfff40 168px,#d4ff2b 172px,#ecff13 176px,#fffc00 180px,#ffef00 184px,#ffef00 188px,#fffc00 192px,#ecff13 196px,#d4ff2b 200px,#bfff40 204px,#afff50 208px,#a8ff57 212px,#b8ff47 216px,#d4ff2b 220px,#fdff02 224px,#ffd100 228px,#ffab00 232px,#ff9b00 236px,#ffab00 240px,#ffd100 244px,#fdff02 248px,#d4ff2b 252px,#b8ff47 256px,#a8ff57 260px,#a1ff5e 264px,#a6ff59 268px,#b0ff4f 272px,#c1ff3e 276px,#d9ff26 280px,#f6ff09 284px,#ffee00 288px,#ffde00 292px,#ffde00 296px,#ffee00 300px,#f6ff09 304px,#d9ff26 308px,#c1ff3e 312px,#b0ff4f 316px,#b3ff4c 320px,#ccff33 324px,#f2ff0d 328px,#ffdd00 332px,#ffb300 336px,#ff9c00 340px,#ffa400 344px,#ffc600 348px,#fff500 352px,#ddff22 356px,#beff41 360px,#abff54 364px,#a2ff5d 368px,#a4ff5b 372px,#afff50 376px,#c4ff3b 380px,#e7ff18 384px,#ffe900 388px,#ffbc00 392px,#ff9f00 396px,#ff9f00 400px,#ffbc00 404px,#ffe900 408px,#e7ff18 412px,#c4ff3b 416px,#afff50 420px,#beff41 424px,#ddff22 428px,#fff500 432px,#ffc600 436px,#ffa400 440px,#ff9c00 444px,#ffb300 448px,#ffdd00 452px,#f2ff0d 456px,#ccff33 460px,#b3ff4c 464px,#a6ff59 468px,#a0ff5f 472px,#a6ff59 476px,#b3ff4c 480px,#ccff33 484px,#f2ff0d 488px,#ffdd00 492px,#ffb300 496px,#ff9c00 500px,#ffa400 504px,#ffc600 508px,#fff500 512px,#ddff22 516px,#beff41 520px,#b8ff47 524px,#d4ff2b 528px,#fcff03 532px,#ffd500 536px,#ffb000 540px,#ffa100 544px,#ffb000 548px,#ffd500 552px,#fcff03 556px,#d4ff2b 560px,#b8ff47 564px,#a9ff56 568px,#a1ff5e 572px,#a6ff59 576px,#b3ff4c 580px,#ccff33 584px,#f2ff0d 588px,#ffdd00 592px,#ffb300 596px,#ff9c00 600px,#ffa400 604px,#ffc600 608px,#fff500 612px,#ddff22 616px,#beff41 620px,#adff52 624px,#beff41 628px,#d9ff26 632px,#fcff03 636px,#ffde00 640px,#ffc500 644px,#ffbf00 648px,#ffcf00 652px,#ffef00 656px,#eaff15 660px,#caff35 664px,#b4ff4b 668px,#a7ff58 672px,#a1ff5e 676px,#a8ff57 680px,#b8ff47 684px,#d4ff2b 688px,#fdff02 692px,#ffd100 696px,#ffab00 700px,#ff9b00 704px,#ffab00 708px,#ffd100 712px,#fdff02 716px,#d4ff2b 720px,#b8ff47 724px,#aaff55 728px,#b6ff49 732px,#c8ff37 736px,#e0ff1f 740px,#f8ff07 744px,#fff400 748px,#ffed00 752px,#fff400 756px,#f8ff07 760px,#e0ff1f 764px,#c8ff37 768px,#b6ff49 772px,#aaff55 776px,#a3ff5c 780px,#a8ff57 784px,#b8ff47 788px,#d4ff2b 792px,#fdff02 796px,#ffd100 800px,#ffab00 804px,#ff9b00 808px,#ffab00 812px,#ffd100 816px,#fdff02 820px,#d4ff2b 824px,#b8ff47 828px,#a8ff57 832px,#a8ff57 836px,#b2ff4d 840px,#c3ff3c 844px,#daff25 848px,#f2ff0d 852px,#fff700 856px,#ffed00 860px,#fff100 864px,#fdff02 868px,#e6ff19 872px,#ceff31 876px,#baff45 880px,#acff53 884px,#a8ff57 888px,#b8ff47 892px,#d4ff2b 896px,#fdff02 900px,#ffd100 904px,#ffab00 908px,#ff9b00 912px,#ffab00 916px,#ffd100 920px,#fdff02 924px,#d4ff2b 928px,#b8ff47 932px,#a8ff57 936px,#a4ff5b 940px,#adff52 944px,#bdff42 948px,#d7ff28 952px,#f7ff08 956px,#ffe700 960px,#ffd000 964px,#ffcb00 968px,#ffd900 972px,#fff600 976px,#e6ff19 980px,#c9ff36 984px,#b4ff4b 988px,#afff50 992px,#c4ff3b 996px,#e7ff18 1000px,#ffe900 1004px,#ffbc00 1008px,#ff9f00 1012px,#ff9f00 1016px,#ffbc00 1020px,#ffe900 1024px,#e7ff18 1028px,#c4ff3b 1032px,#afff50 1036px,#a4ff5b 1040px,#a7ff58 1044px,#b4ff4b 1048px,#cbff34 1052px,#edff12 1056px,#ffe900 1060px,#ffc600 1064px,#ffb300 1068px,#ffba00 1072px,#ffd600 1076px,#fffd00 1080px,#dbff24 1084px,#beff41 1088px,#acff53 1092px,#b8ff47 1096px,#d4ff2b 1100px,#fdff02 1104px,#ffd100 1108px,#ffab00 1112px,#ff9b00 1116px,#ffab00 1120px,#ffd100 1124px,#fdff02 1128px,#d4ff2b 1132px,#b8ff47 1136px,#a8ff57 1140px,#a3ff5c 1144px,#acff53 1148px,#beff41 1152px,#dbff24 1156px,#fffb00 1160px,#ffd200 1164px,#ffb400 1168px,#ffae00 1172px,#ffc100 1176px,#ffe600 1180px,#eeff11 1184px,#cbff34 1188px,#b4ff4b 1192px,#b8ff47 1196px,#d4ff2b 1200px,#fdff02 1204px,#ffd100 1208px,#ffab00 1212px,#ff9b00 1216px,#ffab00 1220px,#ffd100 1224px,#fdff02 1228px,#d4ff2b 1232px,#b8ff47 1236px,#a8ff57 1240px,#a1ff5e 1244px,#a2ff5d 1248px,#abff54 1252px,#beff41 1256px,#ddff22 1260px,#fff500 1264px,#ffc600 1268px,#ffa400 1272px,#ff9c00 1276px,#ffb300 1280px,#ffdd00 1284px,#ffdd00 1288px,#ffdd00 1292px,#ffdd00 1296px,#ffdd00 1300px)"></div>
<div style="height:10px;background:linear-gradient(90deg,#faff05 0px,#faff05 4px,#faff05 8px,#faff05 12px,#faff05 16px,#ffd200 20px,#ffa400 24px,#ff8d00 28px,#ff9500 32px,#ffba00 36px,#ffec00 40px,#e3ff1c 44px,#c1ff3e 48px,#adff52 52px,#afff50 56px,#beff41 60px,#d4ff2b 64px,#eeff11 68px,#fff700 72px,#ffe600 76px,#ffe200 80px,#ffed00 84px,#fbff04 88px,#e0ff1f 92px,#c8ff37 96px,#b6ff49 100px,#aaff55 104px,#a8ff57 108px,#b6ff49 112px,#d0ff2f 116px,#faff05 120px,#ffd200 124px,#ffa400 128px,#ff8d00 132px,#ff9500 136px,#ffba00 140px,#ffec00 144px,#e3ff1c 148px,#c1ff3e 152px,#adff52 156px,#a8ff57 160px,#b2ff4d 164px,#c3ff3c 168px,#daff25 172px,#f4ff0b 176px,#fff200 180px,#ffe300 184px,#ffe300 188px,#fff200 192px,#f4ff0b 196px,#daff25 200px,#c3ff3c 204px,#b2ff4d 208px,#aaff55 212px,#bbff44 216px,#d9ff26 220px,#fff800 224px,#ffc600 228px,#ff9c00 232px,#ff8b00 236px,#ff9c00 240px,#ffc600 244px,#fff800 248px,#d9ff26 252px,#bbff44 256px,#aaff55 260px,#a3ff5c 264px,#a8ff57 268px,#b3ff4c 272px,#c5ff3a 276px,#e0ff1f 280px,#ffff00 284px,#ffe300 288px,#ffd100 292px,#ffd100 296px,#ffe300 300px,#ffff00 304px,#e0ff1f 308px,#c5ff3a 312px,#b3ff4c 316px,#b6ff49 320px,#d0ff2f 324px,#faff05 328px,#ffd200 332px,#ffa400 336px,#ff8d00 340px,#ff9500 344px,#ffba00 348px,#ffec00 352px,#e3ff1c 356px,#c1ff3e 360px,#adff52 364px,#a4ff5b 368px,#a6ff59 372px,#b1ff4e 376px,#c8ff37 380px,#eeff11 384px,#ffdf00 388px,#ffae00 392px,#ff9000 396px,#ff9000 400px,#ffae00 404px,#ffdf00 408px,#eeff11 412px,#c8ff37 416px,#b1ff4e 420px,#c1ff3e 424px,#e3ff1c 428px,#ffec00 432px,#ffba00 436px,#ff9500 440px,#ff8d00 444px,#ffa400 448px,#ffd200 452px,#faff05 456px,#d0ff2f 460px,#b6ff49 464px,#a8ff57 468px,#a2ff5d 472px,#a8ff57 476px,#b6ff49 480px,#d0ff2f 484px,#faff05 488px,#ffd200 492px,#ffa400 496px,#ff8d00 500px,#ff9500 504px,#ffba00 508px,#ffec00 512px,#e3ff1c 516px,#c1ff3e 520px,#bbff44 524px,#d9ff26 528px,#fffa00 532px,#ffc900 536px,#ffa100 540px,#ff9200 544px,#ffa100 548px,#ffc900 552px,#fffa00 556px,#d9ff26 560px,#bbff44 564px,#abff54 568px,#a3ff5c 572px,#a8ff57 576px,#b6ff49 580px,#d0ff2f 584px,#faff05 588px,#ffd200 592px,#ffa400 596px,#ff8d00 600px,#ff9500 604px,#ffba00 608px,#ffec00 612px,#e3ff1c 616px,#c1ff3e 620px,#afff50 624px,#c2ff3d 628px,#dfff20 632px,#fff900 636px,#ffd300 640px,#ffb700 644px,#ffb100 648px,#ffc300 652px,#ffe500 656px,#f1ff0e 660px,#cfff30 664px,#b7ff48 668px,#a9ff56 672px,#a3ff5c 676px,#aaff55 680px,#bbff44 684px,#d9ff26 688px,#fff800 692px,#ffc600 696px,#ff9c00 700px,#ff8b00 704px,#ff9c00 708px,#ffc600 712px,#fff800 716px,#d9ff26 720px,#bbff44 724px,#acff53 728px,#baff45 732px,#ceff31 736px,#e7ff18 740px,#fffd00 744px,#ffe900 748px,#ffe100 752px,#ffe900 756px,#fffd00 760px,#e7ff18 764px,#ceff31 768px,#baff45 772px,#acff53 776px,#a5ff5a 780px,#aaff55 784px,#bbff44 788px,#d9ff26 792px,#fff800 796px,#ffc600 800px,#ff9c00 804px,#ff8b00 808px,#ff9c00 812px,#ffc600 816px,#fff800 820px,#d9ff26 824px,#bbff44 828px,#aaff55 832px,#aaff55 836px,#b6ff49 840px,#c8ff37 844px,#e0ff1f 848px,#fbff04 852px,#ffed00 856px,#ffe200 860px,#ffe600 864px,#fff700 868px,#eeff11 872px,#d4ff2b 876px,#beff41 880px,#afff50 884px,#aaff55 888px,#bbff44 892px,#d9ff26 896px,#fff800 900px,#ffc600 904px,#ff9c00 908px,#ff8b00 912px,#ff9c00 916px,#ffc600 920px,#fff800 924px,#d9ff26 928px,#bbff44 932px,#aaff55 936px,#a6ff59 940px,#afff50 944px,#c1ff3e 948px,#ddff22 952px,#ffff00 956px,#ffdb00 960px,#ffc300 964px,#ffbd00 968px,#ffcd00 972px,#ffec00 976px,#edff12 980px,#ceff31 984px,#b7ff48 988px,#b1ff4e 992px,#c8ff37 996px,#eeff11 1000px,#ffdf00 1004px,#ffae00 1008px,#ff9000 1012px,#ff9000 1016px,#ffae00 1020px,#ffdf00 1024px,#eeff11 1028px,#c8ff37 1032px,#b1ff4e 1036px,#a6ff59 1040px,#a9ff56 1044px,#b7ff48 1048px,#d0ff2f 1052px,#f4ff0b 1056px,#ffdf00 1060px,#ffb800 1064px,#ffa500 1068px,#ffac00 1072px,#ffca00 1076px,#fff400 1080px,#e1ff1e 1084px,#c2ff3d 1088px,#afff50 1092px,#bbff44 1096px,#d9ff26 1100px,#fff800 1104px,#ffc600 1108px,#ff9c00 1112px,#ff8b00 1116px,#ff9c00 1120px,#ffc600 1124px,#fff800 1128px,#d9ff26 1132px,#bbff44 1136px,#aaff55 1140px,#a5ff5a 1144px,#aeff51 1148px,#c2ff3d 1152px,#e2ff1d 1156px,#fff200 1160px,#ffc600 1164px,#ffa600 1168px,#ff9f00 1172px,#ffb300 1176px,#ffdb00 1180px,#f6ff09 1184px,#d0ff2f 1188px,#b7ff48 1192px,#bbff44 1196px,#d9ff26 1200px,#fff800 1204px,#ffc600 1208px,#ff9c00 1212px,#ff8b00 1216px,#ff9c00 1220px,#ffc600 1224px,#fff800 1228px,#d9ff26 1232px,#bbff44 1236px,#aaff55 1240px,#a3ff5c 1244px,#a4ff5b 1248px,#adff52 1252px,#c1ff3e 1256px,#e3ff1c 1260px,#ffec00 1264px,#ffba00 1268px,#ff9500 1272px,#ff8d00 1276px,#ffa400 1280px,#ffd200 1284px,#ffd200 1288px,#ffd200 1292px,#ffd200 1296px,#ffd200 1300px)"></div>
<div style="height:10px;background:linear-gradient(90deg,#e7ff18 0px,#e7ff18 4px,#e7ff18 8px,#e7ff18 12px,#e7ff18 16px,#ffee00 20px,#ffc800 24px,#ffb400 28px,#ffbb00 32px,#ffd900 36px,#fbff04 40px,#d4ff2b 44px,#b8ff47 48px,#a8ff57 52px,#a8ff57 56px,#b4ff4b 60px,#c6ff39 64px,#daff25 68px,#efff10 72px,#fdff02 76px,#fffe00 80px,#f7ff08 84px,#e5ff1a 88px,#d0ff2f 92px,#bcff43 96px,#aeff51 100px,#a4ff5b 104px,#a3ff5c 108px,#afff50 112px,#c5ff3a 116px,#e7ff18 120px,#ffee00 124px,#ffc800 128px,#ffb400 132px,#ffbb00 136px,#ffd900 140px,#fbff04 144px,#d4ff2b 148px,#b8ff47 152px,#a8ff57 156px,#a3ff5c 160px,#abff54 164px,#b8ff47 168px,#cbff34 172px,#e0ff1f 176px,#f3ff0c 180px,#feff01 184px,#feff01 188px,#f3ff0c 192px,#e0ff1f 196px,#cbff34 200px,#b8ff47 204px,#abff54 208px,#a5ff5a 212px,#b3ff4c 216px,#ccff33 220px,#f1ff0e 224px,#ffe300 228px,#ffc100 232px,#ffb300 236px,#ffc100 240px,#ffe300 244px,#f1ff0e 248px,#ccff33 252px,#b3ff4c 256px,#a5ff5a 260px,#9fff60 264px,#a3ff5c 268px,#acff53 272px,#bbff44 276px,#d0ff2f 280px,#e9ff16 284px,#fffe00 288px,#fff000 292px,#fff000 296px,#fffe00 300px,#e9ff16 304px,#d0ff2f 308px,#bbff44 312px,#acff53 316px,#afff50 320px,#c5ff3a 324px,#e7ff18 328px,#ffee00 332px,#ffc800 336px,#ffb400 340px,#ffbb00 344px,#ffd900 348px,#fbff04 352px,#d4ff2b 356px,#b8ff47 360px,#a8ff57 364px,#a0ff5f 368px,#a1ff5e 372px,#abff54 376px,#beff41 380px,#ddff22 384px,#fff800 388px,#ffd000 392px,#ffb700 396px,#ffb700 400px,#ffd000 404px,#fff800 408px,#ddff22 412px,#beff41 416px,#abff54 420px,#b8ff47 424px,#d4ff2b 428px,#fbff04 432px,#ffd900 436px,#ffbb00 440px,#ffb400 444px,#ffc800 448px,#ffee00 452px,#e7ff18 456px,#c5ff3a 460px,#afff50 464px,#a3ff5c 468px,#9eff61 472px,#a3ff5c 476px,#afff50 480px,#c5ff3a 484px,#e7ff18 488px,#ffee00 492px,#ffc800 496px,#ffb400 500px,#ffbb00 504px,#ffd900 508px,#fbff04 512px,#d4ff2b 516px,#b8ff47 520px,#b3ff4c 524px,#ccff33 528px,#efff10 532px,#ffe600 536px,#ffc500 540px,#ffb900 544px,#ffc500 548px,#ffe600 552px,#efff10 556px,#ccff33 560px,#b3ff4c 564px,#a5ff5a 568px,#9fff60 572px,#a3ff5c 576px,#afff50 580px,#c5ff3a 584px,#e7ff18 588px,#ffee00 592px,#ffc800 596px,#ffb400 600px,#ffbb00 604px,#ffd900 608px,#fbff04 612px,#d4ff2b 616px,#b8ff47 620px,#a9ff56 624px,#b8ff47 628px,#d0ff2f 632px,#efff10 636px,#ffef00 640px,#ffd900 644px,#ffd400 648px,#ffe200 652px,#ffff00 656px,#dfff20 660px,#c3ff3c 664px,#afff50 668px,#a4ff5b 672px,#9fff60 676px,#a5ff5a 680px,#b3ff4c 684px,#ccff33 688px,#f1ff0e 692px,#ffe300 696px,#ffc100 700px,#ffb300 704px,#ffc100 708px,#ffe300 712px,#f1ff0e 716px,#ccff33 720px,#b3ff4c 724px,#a6ff59 728px,#b1ff4e 732px,#c1ff3e 736px,#d5ff2a 740px,#eaff15 744px,#faff05 748px,#fffe00 752px,#faff05 756px,#eaff15 760px,#d5ff2a 764px,#c1ff3e 768px,#b1ff4e 772px,#a6ff59 776px,#a0ff5f 780px,#a5ff5a 784px,#b3ff4c 788px,#ccff33 792px,#f1ff0e 796px,#ffe300 800px,#ffc100 804px,#ffb300 808px,#ffc100 812px,#ffe300 816px,#f1ff0e 820px,#ccff33 824px,#b3ff4c 828px,#a5ff5a 832px,#a4ff5b 836px,#aeff51 840px,#bcff43 844px,#d0ff2f 848px,#e5ff1a 852px,#f7ff08 856px,#fffe00 860px,#fdff02 864px,#efff10 868px,#daff25 872px,#c6ff39 876px,#b4ff4b 880px,#a8ff57 884px,#a5ff5a 888px,#b3ff4c 892px,#ccff33 896px,#f1ff0e 900px,#ffe300 904px,#ffc100 908px,#ffb300 912px,#ffc100 916px,#ffe300 920px,#f1ff0e 924px,#ccff33 928px,#b3ff4c 932px,#a5ff5a 936px,#a1ff5e 940px,#a9ff56 944px,#b7ff48 948px,#ceff31 952px,#eaff15 956px,#fff700 960px,#ffe300 964px,#ffdf00 968px,#ffec00 972px,#f9ff06 976px,#dcff23 980px,#c2ff3d 984px,#afff50 988px,#abff54 992px,#beff41 996px,#ddff22 1000px,#fff800 1004px,#ffd000 1008px,#ffb700 1012px,#ffb700 1016px,#ffd000 1020px,#fff800 1024px,#ddff22 1028px,#beff41 1032px,#abff54 1036px,#a1ff5e 1040px,#a4ff5b 1044px,#afff50 1048px,#c4ff3b 1052px,#e2ff1d 1056px,#fff900 1060px,#ffd900 1064px,#ffc900 1068px,#ffcf00 1072px,#ffe800 1076px,#f3ff0c 1080px,#d2ff2d 1084px,#b8ff47 1088px,#a9ff56 1092px,#b3ff4c 1096px,#ccff33 1100px,#f1ff0e 1104px,#ffe300 1108px,#ffc100 1112px,#ffb300 1116px,#ffc100 1120px,#ffe300 1124px,#f1ff0e 1128px,#ccff33 1132px,#b3ff4c 1136px,#a5ff5a 1140px,#a0ff5f 1144px,#a8ff57 1148px,#b8ff47 1152px,#d2ff2d 1156px,#f5ff0a 1160px,#ffe400 1164px,#ffca00 1168px,#ffc400 1172px,#ffd500 1176px,#fff600 1180px,#e3ff1c 1184px,#c4ff3b 1188px,#afff50 1192px,#b3ff4c 1196px,#ccff33 1200px,#f1ff0e 1204px,#ffe300 1208px,#ffc100 1212px,#ffb300 1216px,#ffc100 1220px,#ffe300 1224px,#f1ff0e 1228px,#ccff33 1232px,#b3ff4c 1236px,#a5ff5a 1240px,#9fff60 1244px,#a0ff5f 1248px,#a8ff57 1252px,#b8ff47 1256px,#d4ff2b 1260px,#fbff04 1264px,#ffd900 1268px,#ffbb00 1272px,#ffb400 1276px,#ffc800 1280px,#ffee00 1284px,#ffee00 1288px,#ffee00 1292px,#ffee00 1296px,#ffee00 1300px)"></div>
<div style="height:10px;background:linear-gradient(90deg,#d4ff2b 0px,#d4ff2b 4px,#d4ff2b 8px,#d4ff2b 12px,#d4ff2b 16px,#f5ff0a 20px,#ffeb00 24px,#ffdc00 28px,#ffe100 32px,#fff900 36px,#e4ff1b 40px,#c6ff39 44px,#b0ff4f 48px,#a3ff5c 52px,#a4ff5b 56px,#adff52 60px,#baff45 64px,#caff35 68px,#d9ff26 72px,#e3ff1c 76px,#e6ff19 80px,#dfff20 84px,#d2ff2d 88px,#c2ff3d 92px,#b3ff4c 96px,#a8ff57 100px,#a1ff5e 104px,#a0ff5f 108px,#a9ff56 112px,#baff45 116px,#d4ff2b 120px,#f5ff0a 124px,#ffeb00 128px,#ffdc00 132px,#ffe100 136px,#fff900 140px,#e4ff1b 144px,#c6ff39 148px,#b0ff4f 152px,#a3ff5c 156px,#a0ff5f 160px,#a6ff59 164px,#b0ff4f 168px,#beff41 172px,#ceff31 176px,#dcff23 180px,#e5ff1a 184px,#e5ff1a 188px,#dcff23 192px,#ceff31 196px,#beff41 200px,#b0ff4f 204px,#a6ff59 208px,#a1ff5e 212px,#acff53 216px,#bfff40 220px,#dcff23 224px,#fdff02 228px,#ffe600 232px,#ffdb00 236px,#ffe600 240px,#fdff02 244px,#dcff23 248px,#bfff40 252px,#acff53 256px,#a1ff5e 260px,#9dff62 264px,#a0ff5f 268px,#a7ff58 272px,#b2ff4d 276px,#c2ff3d 280px,#d6ff29 284px,#e7ff18 288px,#f2ff0d 292px,#f2ff0d 296px,#e7ff18 300px,#d6ff29 304px,#c2ff3d 308px,#b2ff4d 312px,#a7ff58 316px,#a9ff56 320px,#baff45 324px,#d4ff2b 328px,#f5ff0a 332px,#ffeb00 336px,#ffdc00 340px,#ffe100 344px,#fff900 348px,#e4ff1b 352px,#c6ff39 356px,#b0ff4f 360px,#a3ff5c 364px,#9dff62 368px,#9eff61 372px,#a6ff59 376px,#b4ff4b 380px,#cdff32 384px,#ecff13 388px,#fff200 392px,#ffde00 396px,#ffde00 400px,#fff200 404px,#ecff13 408px,#cdff32 412px,#b4ff4b 416px,#a6ff59 420px,#b0ff4f 424px,#c6ff39 428px,#e4ff1b 432px,#fff900 436px,#ffe100 440px,#ffdc00 444px,#ffeb00 448px,#f5ff0a 452px,#d4ff2b 456px,#baff45 460px,#a9ff56 464px,#a0ff5f 468px,#9cff63 472px,#a0ff5f 476px,#a9ff56 480px,#baff45 484px,#d4ff2b 488px,#f5ff0a 492px,#ffeb00 496px,#ffdc00 500px,#ffe100 504px,#fff900 508px,#e4ff1b 512px,#c6ff39 516px,#b0ff4f 520px,#acff53 524px,#bfff40 528px,#dbff24 532px,#faff05 536px,#ffea00 540px,#ffdf00 544px,#ffea00 548px,#faff05 552px,#dbff24 556px,#bfff40 560px,#acff53 564px,#a2ff5d 568px,#9dff62 572px,#a0ff5f 576px,#a9ff56 580px,#baff45 584px,#d4ff2b 588px,#f5ff0a 592px,#ffeb00 596px,#ffdc00 600px,#ffe100 604px,#fff900 608px,#e4ff1b 612px,#c6ff39 616px,#b0ff4f 620px,#a4ff5b 624px,#b0ff4f 628px,#c3ff3c 632px,#dbff24 636px,#f3ff0c 640px,#fffa00 644px,#fff600 648px,#fdff02 652px,#e7ff18 656px,#ceff31 660px,#b9ff46 664px,#a9ff56 668px,#a1ff5e 672px,#9dff62 676px,#a1ff5e 680px,#acff53 684px,#bfff40 688px,#dcff23 692px,#fdff02 696px,#ffe600 700px,#ffdb00 704px,#ffe600 708px,#fdff02 712px,#dcff23 716px,#bfff40 720px,#acff53 724px,#a3ff5c 728px,#abff54 732px,#b7ff48 736px,#c6ff39 740px,#d6ff29 744px,#e1ff1e 748px,#e6ff19 752px,#e1ff1e 756px,#d6ff29 760px,#c6ff39 764px,#b7ff48 768px,#abff54 772px,#a3ff5c 776px,#9eff61 780px,#a1ff5e 784px,#acff53 788px,#bfff40 792px,#dcff23 796px,#fdff02 800px,#ffe600 804px,#ffdb00 808px,#ffe600 812px,#fdff02 816px,#dcff23 820px,#bfff40 824px,#acff53 828px,#a1ff5e 832px,#a1ff5e 836px,#a8ff57 840px,#b3ff4c 844px,#c2ff3d 848px,#d2ff2d 852px,#dfff20 856px,#e6ff19 860px,#e3ff1c 864px,#d9ff26 868px,#caff35 872px,#baff45 876px,#adff52 880px,#a4ff5b 884px,#a1ff5e 888px,#acff53 892px,#bfff40 896px,#dcff23 900px,#fdff02 904px,#ffe600 908px,#ffdb00 912px,#ffe600 916px,#fdff02 920px,#dcff23 924px,#bfff40 928px,#acff53 932px,#a1ff5e 936px,#9eff61 940px,#a5ff5a 944px,#b0ff4f 948px,#c1ff3e 952px,#d7ff28 956px,#edff12 960px,#fcff03 964px,#fffe00 968px,#f6ff09 972px,#e2ff1d 976px,#ccff33 980px,#b8ff47 984px,#a9ff56 988px,#a6ff59 992px,#b4ff4b 996px,#cdff32 1000px,#ecff13 1004px,#fff200 1008px,#ffde00 1012px,#ffde00 1016px,#fff200 1020px,#ecff13 1024px,#cdff32 1028px,#b4ff4b 1032px,#a6ff59 1036px,#9eff61 1040px,#a0ff5f 1044px,#a9ff56 1048px,#b9ff46 1052px,#d0ff2f 1056px,#ecff13 1060px,#fffa00 1064px,#ffed00 1068px,#fff100 1072px,#f9ff06 1076px,#deff21 1080px,#c4ff3b 1084px,#b0ff4f 1088px,#a4ff5b 1092px,#acff53 1096px,#bfff40 1100px,#dcff23 1104px,#fdff02 1108px,#ffe600 1112px,#ffdb00 1116px,#ffe600 1120px,#fdff02 1124px,#dcff23 1128px,#bfff40 1132px,#acff53 1136px,#a1ff5e 1140px,#9eff61 1144px,#a4ff5b 1148px,#b0ff4f 1152px,#c4ff3b 1156px,#e0ff1f 1160px,#fcff03 1164px,#ffed00 1168px,#ffe900 1172px,#fff600 1176px,#eeff11 1180px,#d1ff2e 1184px,#b9ff46 1188px,#a9ff56 1192px,#acff53 1196px,#bfff40 1200px,#dcff23 1204px,#fdff02 1208px,#ffe600 1212px,#ffdb00 1216px,#ffe600 1220px,#fdff02 1224px,#dcff23 1228px,#bfff40 1232px,#acff53 1236px,#a1ff5e 1240px,#9dff62 1244px,#9dff62 1248px,#a3ff5c 1252px,#b0ff4f 1256px,#c6ff39 1260px,#e4ff1b 1264px,#fff900 1268px,#ffe100 1272px,#ffdc00 1276px,#ffeb00 1280px,#f5ff0a 1284px,#f5ff0a 1288px,#f5ff0a 1292px,#f5ff0a 1296px,#f5ff0a 1300px)"></div>
<div style="height:10px;background:linear-gradient(90deg,#c3ff3c 0px,#c3ff3c 4px,#c3ff3c 8px,#c3ff3c 12px,#c3ff3c 16px,#daff25 20px,#efff10 24px,#fbff04 28px,#f7ff08 32px,#e5ff1a 36px,#ceff31 40px,#b9ff46 44px,#abff54 48px,#a3ff5c 52px,#a5ff5a 56px,#acff53 60px,#b5ff4a 64px,#bfff40 68px,#caff35 72px,#d0ff2f 76px,#d2ff2d 80px,#ceff31 84px,#c5ff3a 88px,#baff45 92px,#b0ff4f 96px,#a8ff57 100px,#a3ff5c 104px,#a0ff5f 108px,#a6ff59 112px,#b1ff4e 116px,#c3ff3c 120px,#daff25 124px,#efff10 128px,#fbff04 132px,#f7ff08 136px,#e5ff1a 140px,#ceff31 144px,#b9ff46 148px,#abff54 152px,#a3ff5c 156px,#a2ff5d 160px,#a6ff59 164px,#aeff51 168px,#b7ff48 172px,#c2ff3d 176px,#ccff33 180px,#d1ff2e 184px,#d1ff2e 188px,#ccff33 192px,#c2ff3d 196px,#b7ff48 200px,#aeff51 204px,#a6ff59 208px,#a2ff5d 212px,#a8ff57 216px,#b5ff4a 220px,#c9ff36 224px,#e0ff1f 228px,#f3ff0c 232px,#fbff04 236px,#f3ff0c 240px,#e0ff1f 244px,#c9ff36 248px,#b5ff4a 252px,#a8ff57 256px,#a1ff5e 260px,#9fff60 264px,#a2ff5d 268px,#a6ff59 272px,#afff50 276px,#baff45 280px,#c7ff38 284px,#d3ff2c 288px,#daff25 292px,#daff25 296px,#d3ff2c 300px,#c7ff38 304px,#baff45 308px,#afff50 312px,#a6ff59 316px,#a6ff59 320px,#b1ff4e 324px,#c3ff3c 328px,#daff25 332px,#efff10 336px,#fbff04 340px,#f7ff08 344px,#e5ff1a 348px,#ceff31 352px,#b9ff46 356px,#abff54 360px,#a3ff5c 364px,#9fff60 368px,#a0ff5f 372px,#a4ff5b 376px,#aeff51 380px,#beff41 384px,#d4ff2b 388px,#ebff14 392px,#f9ff06 396px,#f9ff06 400px,#ebff14 404px,#d4ff2b 408px,#beff41 412px,#aeff51 416px,#a4ff5b 420px,#abff54 424px,#b9ff46 428px,#ceff31 432px,#e5ff1a 436px,#f7ff08 440px,#fbff04 444px,#efff10 448px,#daff25 452px,#c3ff3c 456px,#b1ff4e 460px,#a6ff59 464px,#a0ff5f 468px,#9eff61 472px,#a0ff5f 476px,#a6ff59 480px,#b1ff4e 484px,#c3ff3c 488px,#daff25 492px,#efff10 496px,#fbff04 500px,#f7ff08 504px,#e5ff1a 508px,#ceff31 512px,#b9ff46 516px,#abff54 520px,#a9ff56 524px,#b5ff4a 528px,#c8ff37 532px,#deff21 536px,#f1ff0e 540px,#f8ff07 544px,#f1ff0e 548px,#deff21 552px,#c8ff37 556px,#b5ff4a 560px,#a9ff56 564px,#a2ff5d 568px,#9fff60 572px,#a0ff5f 576px,#a6ff59 580px,#b1ff4e 584px,#c3ff3c 588px,#daff25 592px,#efff10 596px,#fbff04 600px,#f7ff08 604px,#e5ff1a 608px,#ceff31 612px,#b9ff46 616px,#abff54 620px,#a4ff5b 624px,#acff53 628px,#b9ff46 632px,#caff35 636px,#daff25 640px,#e6ff19 644px,#e9ff16 648px,#e1ff1e 652px,#d2ff2d 656px,#c1ff3e 660px,#b2ff4d 664px,#a8ff57 668px,#a2ff5d 672px,#9fff60 676px,#a1ff5e 680px,#a8ff57 684px,#b5ff4a 688px,#c9ff36 692px,#e0ff1f 696px,#f3ff0c 700px,#fbff04 704px,#f3ff0c 708px,#e0ff1f 712px,#c9ff36 716px,#b5ff4a 720px,#a8ff57 724px,#a4ff5b 728px,#aaff55 732px,#b2ff4d 736px,#bdff42 740px,#c7ff38 744px,#cfff30 748px,#d2ff2d 752px,#cfff30 756px,#c7ff38 760px,#bdff42 764px,#b2ff4d 768px,#aaff55 772px,#a4ff5b 776px,#a0ff5f 780px,#a1ff5e 784px,#a8ff57 788px,#b5ff4a 792px,#c9ff36 796px,#e0ff1f 800px,#f3ff0c 804px,#fbff04 808px,#f3ff0c 812px,#e0ff1f 816px,#c9ff36 820px,#b5ff4a 824px,#a8ff57 828px,#a1ff5e 832px,#a3ff5c 836px,#a8ff57 840px,#b0ff4f 844px,#baff45 848px,#c5ff3a 852px,#ceff31 856px,#d2ff2d 860px,#d0ff2f 864px,#caff35 868px,#bfff40 872px,#b5ff4a 876px,#acff53 880px,#a5ff5a 884px,#a1ff5e 888px,#a8ff57 892px,#b5ff4a 896px,#c9ff36 900px,#e0ff1f 904px,#f3ff0c 908px,#fbff04 912px,#f3ff0c 916px,#e0ff1f 920px,#c9ff36 924px,#b5ff4a 928px,#a8ff57 932px,#a1ff5e 936px,#a0ff5f 940px,#a5ff5a 944px,#acff53 948px,#b8ff47 952px,#c7ff38 956px,#d6ff29 960px,#e1ff1e 964px,#e3ff1c 968px,#ddff22 972px,#cfff30 976px,#c0ff3f 980px,#b2ff4d 984px,#a8ff57 988px,#a4ff5b 992px,#aeff51 996px,#beff41 1000px,#d4ff2b 1004px,#ebff14 1008px,#f9ff06 1012px,#f9ff06 1016px,#ebff14 1020px,#d4ff2b 1024px,#beff41 1028px,#aeff51 1032px,#a4ff5b 1036px,#a0ff5f 1040px,#a1ff5e 1044px,#a7ff58 1048px,#b2ff4d 1052px,#c2ff3d 1056px,#d5ff2a 1060px,#e6ff19 1064px,#efff10 1068px,#ecff13 1072px,#deff21 1076px,#cbff34 1080px,#b9ff46 1084px,#acff53 1088px,#a4ff5b 1092px,#a8ff57 1096px,#b5ff4a 1100px,#c9ff36 1104px,#e0ff1f 1108px,#f3ff0c 1112px,#fbff04 1116px,#f3ff0c 1120px,#e0ff1f 1124px,#c9ff36 1128px,#b5ff4a 1132px,#a8ff57 1136px,#a1ff5e 1140px,#a0ff5f 1144px,#a4ff5b 1148px,#acff53 1152px,#baff45 1156px,#ccff33 1160px,#e0ff1f 1164px,#efff10 1168px,#f2ff0d 1172px,#e8ff17 1176px,#d6ff29 1180px,#c2ff3d 1184px,#b2ff4d 1188px,#a7ff58 1192px,#a8ff57 1196px,#b5ff4a 1200px,#c9ff36 1204px,#e0ff1f 1208px,#f3ff0c 1212px,#fbff04 1216px,#f3ff0c 1220px,#e0ff1f 1224px,#c9ff36 1228px,#b5ff4a 1232px,#a8ff57 1236px,#a1ff5e 1240px,#9fff60 1244px,#9fff60 1248px,#a3ff5c 1252px,#abff54 1256px,#b9ff46 1260px,#ceff31 1264px,#e5ff1a 1268px,#f7ff08 1272px,#fbff04 1276px,#efff10 1280px,#daff25 1284px,#daff25 1288px,#daff25 1292px,#daff25 1296px,#daff25 1300px)"></div>
<div style="height:10px;background:linear-gradient(90deg,#c1ff3e 0px,#c1ff3e 4px,#c1ff3e 8px,#c1ff3e 12px,#c1ff3e 16px,#d3ff2c 20px,#e5ff1a 24px,#efff10 28px,#ebff14 32px,#ddff22 36px,#caff35 40px,#b8ff47 44px,#adff52 48px,#a6ff59 52px,#aaff55 56px,#afff50 60px,#b7ff48 64px,#c0ff3f 68px,#c9ff36 72px,#ceff31 76px,#cfff30 80px,#ccff33 84px,#c5ff3a 88px,#bcff43 92px,#b3ff4c 96px,#acff53 100px,#a7ff58 104px,#a4ff5b 108px,#a9ff56 112px,#b2ff4d 116px,#c1ff3e 120px,#d3ff2c 124px,#e5ff1a 128px,#efff10 132px,#ebff14 136px,#ddff22 140px,#caff35 144px,#b8ff47 148px,#adff52 152px,#a6ff59 156px,#a6ff59 160px,#abff54 164px,#b1ff4e 168px,#b9ff46 172px,#c2ff3d 176px,#caff35 180px,#cfff30 184px,#cfff30 188px,#caff35 192px,#c2ff3d 196px,#b9ff46 200px,#b1ff4e 204px,#abff54 208px,#a6ff59 212px,#abff54 216px,#b5ff4a 220px,#c5ff3a 224px,#d8ff27 228px,#e9ff16 232px,#efff10 236px,#e9ff16 240px,#d8ff27 244px,#c5ff3a 248px,#b5ff4a 252px,#abff54 256px,#a5ff5a 260px,#a4ff5b 264px,#a6ff59 268px,#abff54 272px,#b2ff4d 276px,#bbff44 280px,#c6ff39 284px,#d0ff2f 288px,#d5ff2a 292px,#d5ff2a 296px,#d0ff2f 300px,#c6ff39 304px,#bbff44 308px,#b2ff4d 312px,#abff54 316px,#a9ff56 320px,#b2ff4d 324px,#c1ff3e 328px,#d3ff2c 332px,#e5ff1a 336px,#efff10 340px,#ebff14 344px,#ddff22 348px,#caff35 352px,#b8ff47 356px,#adff52 360px,#a6ff59 364px,#a3ff5c 368px,#a4ff5b 372px,#a7ff58 376px,#afff50 380px,#bcff43 384px,#cfff30 388px,#e1ff1e 392px,#edff12 396px,#edff12 400px,#e1ff1e 404px,#cfff30 408px,#bcff43 412px,#afff50 416px,#a7ff58 420px,#adff52 424px,#b8ff47 428px,#caff35 432px,#ddff22 436px,#ebff14 440px,#efff10 444px,#e5ff1a 448px,#d3ff2c 452px,#c1ff3e 456px,#b2ff4d 460px,#a9ff56 464px,#a4ff5b 468px,#a3ff5c 472px,#a4ff5b 476px,#a9ff56 480px,#b2ff4d 484px,#c1ff3e 488px,#d3ff2c 492px,#e5ff1a 496px,#efff10 500px,#ebff14 504px,#ddff22 508px,#caff35 512px,#b8ff47 516px,#adff52 520px,#abff54 524px,#b5ff4a 528px,#c5ff3a 532px,#d7ff28 536px,#e7ff18 540px,#edff12 544px,#e7ff18 548px,#d7ff28 552px,#c5ff3a 556px,#b5ff4a 560px,#abff54 564px,#a5ff5a 568px,#a3ff5c 572px,#a4ff5b 576px,#a9ff56 580px,#b2ff4d 584px,#c1ff3e 588px,#d3ff2c 592px,#e5ff1a 596px,#efff10 600px,#ebff14 604px,#ddff22 608px,#caff35 612px,#b8ff47 616px,#adff52 620px,#a8ff57 624px,#afff50 628px,#baff45 632px,#c7ff38 636px,#d5ff2a 640px,#dfff20 644px,#e1ff1e 648px,#dbff24 652px,#cfff30 656px,#c0ff3f 660px,#b4ff4b 664px,#abff54 668px,#a6ff59 672px,#a3ff5c 676px,#a5ff5a 680px,#abff54 684px,#b5ff4a 688px,#c5ff3a 692px,#d8ff27 696px,#e9ff16 700px,#efff10 704px,#e9ff16 708px,#d8ff27 712px,#c5ff3a 716px,#b5ff4a 720px,#abff54 724px,#a8ff57 728px,#aeff51 732px,#b5ff4a 736px,#beff41 740px,#c7ff38 744px,#cdff32 748px,#cfff30 752px,#cdff32 756px,#c7ff38 760px,#beff41 764px,#b5ff4a 768px,#aeff51 772px,#a8ff57 776px,#a5ff5a 780px,#a5ff5a 784px,#abff54 788px,#b5ff4a 792px,#c5ff3a 796px,#d8ff27 800px,#e9ff16 804px,#efff10 808px,#e9ff16 812px,#d8ff27 816px,#c5ff3a 820px,#b5ff4a 824px,#abff54 828px,#a5ff5a 832px,#a7ff58 836px,#acff53 840px,#b3ff4c 844px,#bcff43 848px,#c5ff3a 852px,#ccff33 856px,#cfff30 860px,#ceff31 864px,#c9ff36 868px,#c0ff3f 872px,#b7ff48 876px,#afff50 880px,#aaff55 884px,#a6ff59 888px,#abff54 892px,#b5ff4a 896px,#c5ff3a 900px,#d8ff27 904px,#e9ff16 908px,#efff10 912px,#e9ff16 916px,#d8ff27 920px,#c5ff3a 924px,#b5ff4a 928px,#abff54 932px,#a5ff5a 936px,#a5ff5a 940px,#a9ff56 944px,#afff50 948px,#b9ff46 952px,#c6ff39 956px,#d2ff2d 960px,#dbff24 964px,#ddff22 968px,#d7ff28 972px,#ccff33 976px,#c0ff3f 980px,#b4ff4b 984px,#acff53 988px,#a7ff58 992px,#afff50 996px,#bcff43 1000px,#cfff30 1004px,#e1ff1e 1008px,#edff12 1012px,#edff12 1016px,#e1ff1e 1020px,#cfff30 1024px,#bcff43 1028px,#afff50 1032px,#a7ff58 1036px,#a4ff5b 1040px,#a5ff5a 1044px,#aaff55 1048px,#b3ff4c 1052px,#c1ff3e 1056px,#d0ff2f 1060px,#deff21 1064px,#e6ff19 1068px,#e3ff1c 1072px,#d8ff27 1076px,#c9ff36 1080px,#baff45 1084px,#aeff51 1088px,#a7ff58 1092px,#abff54 1096px,#b5ff4a 1100px,#c5ff3a 1104px,#d8ff27 1108px,#e9ff16 1112px,#efff10 1116px,#e9ff16 1120px,#d8ff27 1124px,#c5ff3a 1128px,#b5ff4a 1132px,#abff54 1136px,#a5ff5a 1140px,#a4ff5b 1144px,#a7ff58 1148px,#aeff51 1152px,#b9ff46 1156px,#c9ff36 1160px,#d9ff26 1164px,#e5ff1a 1168px,#e8ff17 1172px,#e0ff1f 1176px,#d1ff2e 1180px,#c1ff3e 1184px,#b3ff4c 1188px,#aaff55 1192px,#abff54 1196px,#b5ff4a 1200px,#c5ff3a 1204px,#d8ff27 1208px,#e9ff16 1212px,#efff10 1216px,#e9ff16 1220px,#d8ff27 1224px,#c5ff3a 1228px,#b5ff4a 1232px,#abff54 1236px,#a5ff5a 1240px,#a3ff5c 1244px,#a3ff5c 1248px,#a6ff59 1252px,#adff52 1256px,#b8ff47 1260px,#caff35 1264px,#ddff22 1268px,#ebff14 1272px,#efff10 1276px,#e5ff1a 1280px,#d3ff2c 1284px,#d3ff2c 1288px,#d3ff2c 1292px,#d3ff2c 1296px,#d3ff2c 1300px)"></div>
<div style="height:10px;background:linear-gradient(90deg,#ddff22 0px,#ddff22 4px,#ddff22 8px,#ddff22 12px,#ddff22 16px,#faff05 20px,#ffe900 24px,#ffda00 28px,#ffdf00 32px,#fff500 36px,#ebff14 40px,#d0ff2f 44px,#bdff42 48px,#b3ff4c 52px,#baff45 56px,#c4ff3b 60px,#d0ff2f 64px,#deff21 68px,#eaff15 72px,#f3ff0c 76px,#f4ff0b 80px,#efff10 84px,#e5ff1a 88px,#d7ff28 92px,#caff35 96px,#beff41 100px,#b6ff49 104px,#b0ff4f 108px,#b6ff49 112px,#c5ff3a 116px,#ddff22 120px,#faff05 124px,#ffe900 128px,#ffda00 132px,#ffdf00 136px,#fff500 140px,#ebff14 144px,#d0ff2f 148px,#bdff42 152px,#b2ff4d 156px,#b4ff4b 160px,#bcff43 164px,#c7ff38 168px,#d4ff2b 172px,#e1ff1e 176px,#edff12 180px,#f4ff0b 184px,#f4ff0b 188px,#edff12 192px,#e1ff1e 196px,#d4ff2b 200px,#c7ff38 204px,#bcff43 208px,#b4ff4b 212px,#b9ff46 216px,#cbff34 220px,#e4ff1b 224px,#fffc00 228px,#ffe300 232px,#ffda00 236px,#ffe300 240px,#fffc00 244px,#e4ff1b 248px,#cbff34 252px,#b9ff46 256px,#b0ff4f 260px,#aeff51 264px,#b3ff4c 268px,#bbff44 272px,#c7ff38 276px,#d7ff28 280px,#e7ff18 284px,#f5ff0a 288px,#feff01 292px,#feff01 296px,#f5ff0a 300px,#e7ff18 304px,#d7ff28 308px,#c7ff38 312px,#bbff44 316px,#b6ff49 320px,#c5ff3a 324px,#ddff22 328px,#faff05 332px,#ffe900 336px,#ffda00 340px,#ffdf00 344px,#fff500 348px,#ebff14 352px,#d0ff2f 356px,#bdff42 360px,#b2ff4d 364px,#adff52 368px,#aeff51 372px,#b4ff4b 376px,#c1ff3e 380px,#d6ff29 384px,#f3ff0c 388px,#ffef00 392px,#ffdc00 396px,#ffdc00 400px,#ffef00 404px,#f3ff0c 408px,#d6ff29 412px,#c1ff3e 416px,#b4ff4b 420px,#bdff42 424px,#d0ff2f 428px,#ebff14 432px,#fff500 436px,#ffdf00 440px,#ffda00 444px,#ffe900 448px,#faff05 452px,#ddff22 456px,#c5ff3a 460px,#b6ff49 464px,#afff50 468px,#abff54 472px,#afff50 476px,#b6ff49 480px,#c5ff3a 484px,#ddff22 488px,#faff05 492px,#ffe900 496px,#ffda00 500px,#ffdf00 504px,#fff500 508px,#ebff14 512px,#d0ff2f 516px,#bdff42 520px,#baff45 524px,#ccff33 528px,#e4ff1b 532px,#fffd00 536px,#ffe600 540px,#ffdd00 544px,#ffe600 548px,#fffd00 552px,#e4ff1b 556px,#ccff33 560px,#baff45 564px,#b1ff4e 568px,#acff53 572px,#afff50 576px,#b6ff49 580px,#c5ff3a 584px,#ddff22 588px,#faff05 592px,#ffe900 596px,#ffda00 600px,#ffdf00 604px,#fff500 608px,#ebff14 612px,#d0ff2f 616px,#bdff42 620px,#b6ff49 624px,#c2ff3d 628px,#d4ff2b 632px,#e9ff16 636px,#feff01 640px,#fff200 644px,#ffef00 648px,#fff800 652px,#f4ff0b 656px,#deff21 660px,#caff35 664px,#bcff43 668px,#b2ff4d 672px,#adff52 676px,#b0ff4f 680px,#b9ff46 684px,#cbff34 688px,#e4ff1b 692px,#fffc00 696px,#ffe300 700px,#ffda00 704px,#ffe300 708px,#fffc00 712px,#e4ff1b 716px,#cbff34 720px,#b9ff46 724px,#b8ff47 728px,#c1ff3e 732px,#cdff32 736px,#dbff24 740px,#e8ff17 744px,#f1ff0e 748px,#f4ff0b 752px,#f1ff0e 756px,#e8ff17 760px,#dbff24 764px,#cdff32 768px,#c1ff3e 772px,#b8ff47 776px,#b1ff4e 780px,#b0ff4f 784px,#b9ff46 788px,#cbff34 792px,#e4ff1b 796px,#fffc00 800px,#ffe300 804px,#ffda00 808px,#ffe300 812px,#fffc00 816px,#e4ff1b 820px,#cbff34 824px,#b9ff46 828px,#b0ff4f 832px,#b6ff49 836px,#beff41 840px,#caff35 844px,#d7ff28 848px,#e5ff1a 852px,#efff10 856px,#f4ff0b 860px,#f3ff0c 864px,#eaff15 868px,#deff21 872px,#d0ff2f 876px,#c4ff3b 880px,#baff45 884px,#b3ff4c 888px,#b9ff46 892px,#cbff34 896px,#e4ff1b 900px,#fffc00 904px,#ffe300 908px,#ffda00 912px,#ffe300 916px,#fffc00 920px,#e4ff1b 924px,#cbff34 928px,#b9ff46 932px,#b0ff4f 936px,#b0ff4f 940px,#b7ff48 944px,#c3ff3c 948px,#d4ff2b 952px,#e7ff18 956px,#f9ff06 960px,#fff800 964px,#fff500 968px,#fffd00 972px,#f1ff0e 976px,#ddff22 980px,#cbff34 984px,#bdff42 988px,#b4ff4b 992px,#c1ff3e 996px,#d6ff29 1000px,#f3ff0c 1004px,#ffef00 1008px,#ffdc00 1012px,#ffdc00 1016px,#ffef00 1020px,#f3ff0c 1024px,#d6ff29 1028px,#c1ff3e 1032px,#b4ff4b 1036px,#aeff51 1040px,#b1ff4e 1044px,#baff45 1048px,#c9ff36 1052px,#deff21 1056px,#f7ff08 1060px,#fff300 1064px,#ffe800 1068px,#ffec00 1072px,#fffc00 1076px,#eaff15 1080px,#d3ff2c 1084px,#c1ff3e 1088px,#b5ff4a 1092px,#b9ff46 1096px,#cbff34 1100px,#e4ff1b 1104px,#fffc00 1108px,#ffe300 1112px,#ffda00 1116px,#ffe300 1120px,#fffc00 1124px,#e4ff1b 1128px,#cbff34 1132px,#b9ff46 1136px,#b0ff4f 1140px,#aeff51 1144px,#b4ff4b 1148px,#c0ff3f 1152px,#d3ff2c 1156px,#ebff14 1160px,#fffa00 1164px,#ffe800 1168px,#ffe500 1172px,#fff000 1176px,#f8ff07 1180px,#deff21 1184px,#c8ff37 1188px,#b9ff46 1192px,#b9ff46 1196px,#cbff34 1200px,#e4ff1b 1204px,#fffc00 1208px,#ffe300 1212px,#ffda00 1216px,#ffe300 1220px,#fffc00 1224px,#e4ff1b 1228px,#cbff34 1232px,#b9ff46 1236px,#b0ff4f 1240px,#acff53 1244px,#adff52 1248px,#b2ff4d 1252px,#bdff42 1256px,#d0ff2f 1260px,#ebff14 1264px,#fff500 1268px,#ffdf00 1272px,#ffda00 1276px,#ffe900 1280px,#faff05 1284px,#faff05 1288px,#faff05 1292px,#faff05 1296px,#faff05 1300px)"></div>
<div style="height:10px;background:linear-gradient(90deg,#fffd00 0px,#fffd00 4px,#fffd00 8px,#fffd00 12px,#fffd00 16px,#ffd200 20px,#ffad00 24px,#ff9a00 28px,#ffa100 32px,#ffbe00 36px,#ffe800 40px,#eeff11 44px,#d0ff2f 48px,#c1ff3e 52px,#ccff33 56px,#dbff24 60px,#eeff11 64px,#fffc00 68px,#ffeb00 72px,#ffe100 76px,#ffdf00 80px,#ffe500 84px,#fff300 88px,#f8ff07 92px,#e5ff1a 96px,#d3ff2c 100px,#c6ff39 104px,#bdff42 108px,#c6ff39 112px,#deff21 116px,#fffd00 120px,#ffd200 124px,#ffad00 128px,#ff9a00 132px,#ffa100 136px,#ffbe00 140px,#ffe800 144px,#eeff11 148px,#d0ff2f 152px,#bfff40 156px,#c3ff3c 160px,#cfff30 164px,#e0ff1f 168px,#f3ff0c 172px,#fff800 176px,#ffe800 180px,#ffe000 184px,#ffe000 188px,#ffe800 192px,#fff800 196px,#f3ff0c 200px,#e0ff1f 204px,#cfff30 208px,#c3ff3c 212px,#cbff34 216px,#e5ff1a 220px,#fff200 224px,#ffc800 228px,#ffa600 232px,#ff9a00 236px,#ffa600 240px,#ffc800 244px,#fff200 248px,#e5ff1a 252px,#cbff34 256px,#bcff43 260px,#b9ff46 264px,#c1ff3e 268px,#ceff31 272px,#e1ff1e 276px,#f7ff08 280px,#ffef00 284px,#ffdc00 288px,#ffd100 292px,#ffd100 296px,#ffdc00 300px,#ffef00 304px,#f7ff08 308px,#e1ff1e 312px,#ceff31 316px,#c6ff39 320px,#deff21 324px,#fffd00 328px,#ffd200 332px,#ffad00 336px,#ff9a00 340px,#ffa100 344px,#ffbe00 348px,#ffe800 352px,#eeff11 356px,#d0ff2f 360px,#bfff40 364px,#b6ff49 368px,#b8ff47 372px,#c2ff3d 376px,#d6ff29 380px,#f7ff08 384px,#ffdd00 388px,#ffb500 392px,#ff9d00 396px,#ff9d00 400px,#ffb500 404px,#ffdd00 408px,#f7ff08 412px,#d6ff29 416px,#c2ff3d 420px,#d0ff2f 424px,#eeff11 428px,#ffe800 432px,#ffbe00 436px,#ffa100 440px,#ff9a00 444px,#ffad00 448px,#ffd200 452px,#fffd00 456px,#deff21 460px,#c6ff39 464px,#baff45 468px,#b4ff4b 472px,#baff45 476px,#c6ff39 480px,#deff21 484px,#fffd00 488px,#ffd200 492px,#ffad00 496px,#ff9a00 500px,#ffa100 504px,#ffbe00 508px,#ffe800 512px,#eeff11 516px,#d0ff2f 520px,#cdff32 524px,#e7ff18 528px,#fff200 532px,#ffc900 536px,#ffaa00 540px,#ff9f00 544px,#ffaa00 548px,#ffc900 552px,#fff200 556px,#e7ff18 560px,#cdff32 564px,#bdff42 568px,#b6ff49 572px,#baff45 576px,#c6ff39 580px,#deff21 584px,#fffd00 588px,#ffd200 592px,#ffad00 596px,#ff9a00 600px,#ffa100 604px,#ffbe00 608px,#ffe800 612px,#eeff11 616px,#d0ff2f 620px,#c6ff39 624px,#d9ff26 628px,#f3ff0c 632px,#ffec00 636px,#ffcf00 640px,#ffbc00 644px,#ffb800 648px,#ffc300 652px,#ffdc00 656px,#fffb00 660px,#e5ff1a 664px,#cfff30 668px,#c0ff3f 672px,#b8ff47 676px,#bcff43 680px,#cbff34 684px,#e5ff1a 688px,#fff200 692px,#ffc800 696px,#ffa600 700px,#ff9a00 704px,#ffa600 708px,#ffc800 712px,#fff200 716px,#e5ff1a 720px,#cbff34 724px,#c9ff36 728px,#d7ff28 732px,#e9ff16 736px,#fdff02 740px,#ffef00 744px,#ffe300 748px,#ffdf00 752px,#ffe300 756px,#ffef00 760px,#fdff02 764px,#e9ff16 768px,#d7ff28 772px,#c9ff36 776px,#bfff40 780px,#bcff43 784px,#cbff34 788px,#e5ff1a 792px,#fff200 796px,#ffc800 800px,#ffa600 804px,#ff9a00 808px,#ffa600 812px,#ffc800 816px,#fff200 820px,#e5ff1a 824px,#cbff34 828px,#bdff42 832px,#c6ff39 836px,#d3ff2c 840px,#e5ff1a 844px,#f8ff07 848px,#fff300 852px,#ffe500 856px,#ffdf00 860px,#ffe100 864px,#ffeb00 868px,#fffc00 872px,#eeff11 876px,#dbff24 880px,#ccff33 884px,#c1ff3e 888px,#cbff34 892px,#e5ff1a 896px,#fff200 900px,#ffc800 904px,#ffa600 908px,#ff9a00 912px,#ffa600 916px,#ffc800 920px,#fff200 924px,#e5ff1a 928px,#cbff34 932px,#bcff43 936px,#bdff42 940px,#c8ff37 944px,#dbff24 948px,#f3ff0c 952px,#ffef00 956px,#ffd500 960px,#ffc500 964px,#ffc200 968px,#ffcc00 972px,#ffe100 976px,#fffd00 980px,#e6ff19 984px,#d1ff2e 988px,#c2ff3d 992px,#d6ff29 996px,#f7ff08 1000px,#ffdd00 1004px,#ffb500 1008px,#ff9d00 1012px,#ff9d00 1016px,#ffb500 1020px,#ffdd00 1024px,#f7ff08 1028px,#d6ff29 1032px,#c2ff3d 1036px,#b8ff47 1040px,#beff41 1044px,#ccff33 1048px,#e3ff1c 1052px,#fffb00 1056px,#ffd800 1060px,#ffbc00 1064px,#ffae00 1068px,#ffb300 1072px,#ffc800 1076px,#ffe900 1080px,#f2ff0d 1084px,#d7ff28 1088px,#c4ff3b 1092px,#cbff34 1096px,#e5ff1a 1100px,#fff200 1104px,#ffc800 1108px,#ffa600 1112px,#ff9a00 1116px,#ffa600 1120px,#ffc800 1124px,#fff200 1128px,#e5ff1a 1132px,#cbff34 1136px,#bcff43 1140px,#b9ff46 1144px,#c3ff3c 1148px,#d5ff2a 1152px,#f2ff0d 1156px,#ffe900 1160px,#ffc600 1164px,#ffae00 1168px,#ffa900 1172px,#ffb800 1176px,#ffd600 1180px,#fffb00 1184px,#e2ff1d 1188px,#cbff34 1192px,#cbff34 1196px,#e5ff1a 1200px,#fff200 1204px,#ffc800 1208px,#ffa600 1212px,#ff9a00 1216px,#ffa600 1220px,#ffc800 1224px,#fff200 1228px,#e5ff1a 1232px,#cbff34 1236px,#bcff43 1240px,#b5ff4a 1244px,#b6ff49 1248px,#bfff40 1252px,#d0ff2f 1256px,#eeff11 1260px,#ffe800 1264px,#ffbe00 1268px,#ffa100 1272px,#ff9a00 1276px,#ffad00 1280px,#ffd200 1284px,#ffd200 1288px,#ffd200 1292px,#ffd200 1296px,#ffd200 1300px)"></div>
<div style="height:10px;background:linear-gradient(90deg,#ffcf00 0px,#ffcf00 4px,#ffcf00 8px,#ffcf00 12px,#ffcf00 16px,#ff9400 20px,#ff6400 24px,#ff4f00 28px,#ff5600 32px,#ff7a00 36px,#ffb100 40px,#ffea00 44px,#e7ff18 48px,#cfff30 52px,#dfff20 56px,#f6ff09 60px,#ffed00 64px,#ffd300 68px,#ffbd00 72px,#ffb000 76px,#ffae00 80px,#ffb500 84px,#ffc700 88px,#ffe000 92px,#fffb00 96px,#eaff15 100px,#d6ff29 104px,#c9ff36 108px,#d8ff27 112px,#fbff04 116px,#ffcf00 120px,#ff9400 124px,#ff6400 128px,#ff4f00 132px,#ff5600 136px,#ff7a00 140px,#ffb100 144px,#ffea00 148px,#e7ff18 152px,#cdff32 156px,#d2ff2d 160px,#e4ff1b 164px,#fcff03 168px,#ffe600 172px,#ffcc00 176px,#ffb900 180px,#ffaf00 184px,#ffaf00 188px,#ffb900 192px,#ffcc00 196px,#ffe600 200px,#fcff03 204px,#e4ff1b 208px,#d2ff2d 212px,#dfff20 216px,#fff700 220px,#ffc000 224px,#ff8600 228px,#ff5c00 232px,#ff4f00 236px,#ff5c00 240px,#ff8600 244px,#ffc000 248px,#fff700 252px,#dfff20 256px,#c9ff36 260px,#c4ff3b 264px,#d0ff2f 268px,#e3ff1c 272px,#feff01 276px,#ffe000 280px,#ffc000 284px,#ffa700 288px,#ff9b00 292px,#ff9b00 296px,#ffa700 300px,#ffc000 304px,#ffe000 308px,#feff01 312px,#e3ff1c 316px,#d8ff27 320px,#fbff04 324px,#ffcf00 328px,#ff9400 332px,#ff6400 336px,#ff4f00 340px,#ff5600 344px,#ff7a00 348px,#ffb100 352px,#ffea00 356px,#e7ff18 360px,#cdff32 364px,#c0ff3f 368px,#c2ff3d 372px,#d2ff2d 376px,#f1ff0e 380px,#ffdd00 384px,#ffa200 388px,#ff6e00 392px,#ff5200 396px,#ff5200 400px,#ff6e00 404px,#ffa200 408px,#ffdd00 412px,#f1ff0e 416px,#d2ff2d 420px,#e7ff18 424px,#ffea00 428px,#ffb100 432px,#ff7a00 436px,#ff5600 440px,#ff4f00 444px,#ff6400 448px,#ff9400 452px,#ffcf00 456px,#fbff04 460px,#d8ff27 464px,#c5ff3a 468px,#bdff42 472px,#c5ff3a 476px,#d8ff27 480px,#fbff04 484px,#ffcf00 488px,#ff9400 492px,#ff6400 496px,#ff4f00 500px,#ff5600 504px,#ff7a00 508px,#ffb100 512px,#ffea00 516px,#e7ff18 520px,#e2ff1d 524px,#fff500 528px,#ffc000 532px,#ff8900 536px,#ff6200 540px,#ff5600 544px,#ff6200 548px,#ff8900 552px,#ffc000 556px,#fff500 560px,#e2ff1d 564px,#caff35 568px,#bfff40 572px,#c5ff3a 576px,#d8ff27 580px,#fbff04 584px,#ffcf00 588px,#ff9400 592px,#ff6400 596px,#ff4f00 600px,#ff5600 604px,#ff7a00 608px,#ffb100 612px,#ffea00 616px,#e7ff18 620px,#d8ff27 624px,#f3ff0c 628px,#ffe400 632px,#ffb900 636px,#ff9300 640px,#ff7c00 644px,#ff7800 648px,#ff8500 652px,#ffa500 656px,#ffcf00 660px,#fff900 664px,#e4ff1b 668px,#ceff31 672px,#c2ff3d 676px,#c9ff36 680px,#dfff20 684px,#fff700 688px,#ffc000 692px,#ff8600 696px,#ff5c00 700px,#ff4f00 704px,#ff5c00 708px,#ff8600 712px,#ffc000 716px,#fff700 720px,#dfff20 724px,#daff25 728px,#f0ff0f 732px,#fff400 736px,#ffd900 740px,#ffc100 744px,#ffb200 748px,#ffae00 752px,#ffb200 756px,#ffc100 760px,#ffd900 764px,#fff400 768px,#f0ff0f 772px,#daff25 776px,#ccff33 780px,#c9ff36 784px,#dfff20 788px,#fff700 792px,#ffc000 796px,#ff8600 800px,#ff5c00 804px,#ff4f00 808px,#ff5c00 812px,#ff8600 816px,#ffc000 820px,#fff700 824px,#dfff20 828px,#c9ff36 832px,#d6ff29 836px,#eaff15 840px,#fffb00 844px,#ffe000 848px,#ffc700 852px,#ffb500 856px,#ffae00 860px,#ffb000 864px,#ffbd00 868px,#ffd300 872px,#ffed00 876px,#f6ff09 880px,#dfff20 884px,#cfff30 888px,#dfff20 892px,#fff700 896px,#ffc000 900px,#ff8600 904px,#ff5c00 908px,#ff4f00 912px,#ff5c00 916px,#ff8600 920px,#ffc000 924px,#fff700 928px,#dfff20 932px,#c9ff36 936px,#c9ff36 940px,#daff25 944px,#f5ff0a 948px,#ffe500 952px,#ffbe00 956px,#ff9d00 960px,#ff8900 964px,#ff8500 968px,#ff9100 972px,#ffac00 976px,#ffd200 980px,#fff800 984px,#e7ff18 988px,#d2ff2d 992px,#f1ff0e 996px,#ffdd00 1000px,#ffa200 1004px,#ff6e00 1008px,#ff5200 1012px,#ff5200 1016px,#ff6e00 1020px,#ffa200 1024px,#ffdd00 1028px,#f1ff0e 1032px,#d2ff2d 1036px,#c2ff3d 1040px,#cbff34 1044px,#e1ff1e 1048px,#fffb00 1052px,#ffcd00 1056px,#ff9e00 1060px,#ff7a00 1064px,#ff6a00 1068px,#ff6f00 1072px,#ff8a00 1076px,#ffb500 1080px,#ffe500 1084px,#f0ff0f 1088px,#d4ff2b 1092px,#dfff20 1096px,#fff700 1100px,#ffc000 1104px,#ff8600 1108px,#ff5c00 1112px,#ff4f00 1116px,#ff5c00 1120px,#ff8600 1124px,#ffc000 1128px,#fff700 1132px,#dfff20 1136px,#c9ff36 1140px,#c4ff3b 1144px,#d3ff2c 1148px,#eeff11 1152px,#ffe600 1156px,#ffb400 1160px,#ff8500 1164px,#ff6900 1168px,#ff6400 1172px,#ff7400 1176px,#ff9b00 1180px,#ffcd00 1184px,#fffc00 1188px,#dfff20 1192px,#dfff20 1196px,#fff700 1200px,#ffc000 1204px,#ff8600 1208px,#ff5c00 1212px,#ff4f00 1216px,#ff5c00 1220px,#ff8600 1224px,#ffc000 1228px,#fff700 1232px,#dfff20 1236px,#c9ff36 1240px,#bfff40 1244px,#c0ff3f 1248px,#cdff32 1252px,#e7ff18 1256px,#ffea00 1260px,#ffb100 1264px,#ff7a00 1268px,#ff5600 1272px,#ff4f00 1276px,#ff6400 1280px,#ff9400 1284px,#ff9400 1288px,#ff9400 1292px,#ff9400 1296px,#ff9400 1300px)"></div>
<div style="height:10px;background:linear-gradient(90deg,#ff9c00 0px,#ff9c00 4px,#ff9c00 8px,#ff9c00 12px,#ff9c00 16px,#ff4f00 20px,#ff1600 24px,#ff0100 28px,#ff0700 32px,#ff2e00 36px,#ff7500 40px,#ffc300 44px,#fdff02 48px,#deff21 52px,#f6ff09 56px,#ffe800 60px,#ffc300 64px,#ffa000 68px,#ff8600 72px,#ff7800 76px,#ff7600 80px,#ff7d00 84px,#ff9100 88px,#ffb000 92px,#ffd500 96px,#fff900 100px,#e9ff16 104px,#d5ff2a 108px,#e8ff17 112px,#ffe500 116px,#ff9c00 120px,#ff4f00 124px,#ff1600 128px,#ff0100 132px,#ff0700 136px,#ff2e00 140px,#ff7500 144px,#ffc300 148px,#fdff02 152px,#d9ff26 156px,#e3ff1c 160px,#fdff02 164px,#ffdf00 168px,#ffb900 172px,#ff9800 176px,#ff8100 180px,#ff7700 184px,#ff7700 188px,#ff8100 192px,#ff9800 196px,#ffb900 200px,#ffdf00 204px,#fdff02 208px,#e3ff1c 212px,#f2ff0d 216px,#ffd400 220px,#ff8800 224px,#ff3e00 228px,#ff0d00 232px,#ff0000 236px,#ff0d00 240px,#ff3e00 244px,#ff8800 248px,#ffd400 252px,#f2ff0d 256px,#d3ff2c 260px,#cfff30 264px,#dfff20 268px,#fbff04 272px,#ffdd00 276px,#ffb100 280px,#ff8800 284px,#ff6b00 288px,#ff5e00 292px,#ff5e00 296px,#ff6b00 300px,#ff8800 304px,#ffb100 308px,#ffdd00 312px,#fbff04 316px,#e8ff17 320px,#ffe500 324px,#ff9c00 328px,#ff4f00 332px,#ff1600 336px,#ff0100 340px,#ff0700 344px,#ff2e00 348px,#ff7500 352px,#ffc300 356px,#fdff02 360px,#d9ff26 364px,#c9ff36 368px,#cbff34 372px,#e0ff1f 376px,#fff400 380px,#ffb000 384px,#ff6100 388px,#ff2100 392px,#ff0300 396px,#ff0300 400px,#ff2100 404px,#ff6100 408px,#ffb000 412px,#fff400 416px,#e0ff1f 420px,#fdff02 424px,#ffc300 428px,#ff7500 432px,#ff2e00 436px,#ff0700 440px,#ff0100 444px,#ff1600 448px,#ff4f00 452px,#ff9c00 456px,#ffe500 460px,#e8ff17 464px,#cfff30 468px,#c5ff3a 472px,#cfff30 476px,#e8ff17 480px,#ffe500 484px,#ff9c00 488px,#ff4f00 492px,#ff1600 496px,#ff0100 500px,#ff0700 504px,#ff2e00 508px,#ff7500 512px,#ffc300 516px,#fdff02 520px,#f5ff0a 524px,#ffd100 528px,#ff8800 532px,#ff4200 536px,#ff1500 540px,#ff0800 544px,#ff1500 548px,#ff4200 552px,#ff8800 556px,#ffd100 560px,#f5ff0a 564px,#d5ff2a 568px,#c8ff37 572px,#cfff30 576px,#e8ff17 580px,#ffe500 584px,#ff9c00 588px,#ff4f00 592px,#ff1600 596px,#ff0100 600px,#ff0700 604px,#ff2e00 608px,#ff7500 612px,#ffc300 616px,#fdff02 620px,#e9ff16 624px,#ffee00 628px,#ffb800 632px,#ff7e00 636px,#ff5000 640px,#ff3700 644px,#ff3300 648px,#ff4000 652px,#ff6500 656px,#ff9b00 660px,#ffd400 664px,#faff05 668px,#dbff24 672px,#cbff34 676px,#d3ff2c 680px,#f2ff0d 684px,#ffd400 688px,#ff8800 692px,#ff3e00 696px,#ff0d00 700px,#ff0000 704px,#ff0d00 708px,#ff3e00 712px,#ff8800 716px,#ffd400 720px,#f2ff0d 724px,#efff10 728px,#fff000 732px,#ffcc00 736px,#ffa800 740px,#ff8b00 744px,#ff7a00 748px,#ff7600 752px,#ff7a00 756px,#ff8b00 760px,#ffa800 764px,#ffcc00 768px,#fff000 772px,#efff10 776px,#d9ff26 780px,#d3ff2c 784px,#f2ff0d 788px,#ffd400 792px,#ff8800 796px,#ff3e00 800px,#ff0d00 804px,#ff0000 808px,#ff0d00 812px,#ff3e00 816px,#ff8800 820px,#ffd400 824px,#f2ff0d 828px,#d5ff2a 832px,#e9ff16 836px,#fff900 840px,#ffd500 844px,#ffb000 848px,#ff9100 852px,#ff7d00 856px,#ff7600 860px,#ff7800 864px,#ff8600 868px,#ffa000 872px,#ffc300 876px,#ffe800 880px,#f6ff09 884px,#deff21 888px,#f2ff0d 892px,#ffd400 896px,#ff8800 900px,#ff3e00 904px,#ff0d00 908px,#ff0000 912px,#ff0d00 916px,#ff3e00 920px,#ff8800 924px,#ffd400 928px,#f2ff0d 932px,#d3ff2c 936px,#d5ff2a 940px,#edff12 944px,#ffea00 948px,#ffb800 952px,#ff8500 956px,#ff5c00 960px,#ff4700 964px,#ff4400 968px,#ff4f00 972px,#ff6f00 976px,#ff9e00 980px,#ffd200 984px,#ffff00 988px,#e0ff1f 992px,#fff400 996px,#ffb000 1000px,#ff6100 1004px,#ff2100 1008px,#ff0300 1012px,#ff0300 1016px,#ff2100 1020px,#ff6100 1024px,#ffb000 1028px,#fff400 1032px,#e0ff1f 1036px,#cbff34 1040px,#d7ff28 1044px,#f5ff0a 1048px,#ffd800 1052px,#ff9900 1056px,#ff5c00 1060px,#ff3200 1064px,#ff2200 1068px,#ff2700 1072px,#ff4400 1076px,#ff7900 1080px,#ffba00 1084px,#fff300 1088px,#e4ff1b 1092px,#f2ff0d 1096px,#ffd400 1100px,#ff8800 1104px,#ff3e00 1108px,#ff0d00 1112px,#ff0000 1116px,#ff0d00 1120px,#ff3e00 1124px,#ff8800 1128px,#ffd400 1132px,#f2ff0d 1136px,#d3ff2c 1140px,#cdff32 1144px,#e1ff1e 1148px,#fff600 1152px,#ffbb00 1156px,#ff7700 1160px,#ff3e00 1164px,#ff1f00 1168px,#ff1a00 1172px,#ff2b00 1176px,#ff5800 1180px,#ff9900 1184px,#ffdb00 1188px,#f2ff0d 1192px,#f2ff0d 1196px,#ffd400 1200px,#ff8800 1204px,#ff3e00 1208px,#ff0d00 1212px,#ff0000 1216px,#ff0d00 1220px,#ff3e00 1224px,#ff8800 1228px,#ffd400 1232px,#f2ff0d 1236px,#d3ff2c 1240px,#c7ff38 1244px,#c9ff36 1248px,#d9ff26 1252px,#fdff02 1256px,#ffc300 1260px,#ff7500 1264px,#ff2e00 1268px,#ff0700 1272px,#ff0100 1276px,#ff1600 1280px,#ff4f00 1284px,#ff4f00 1288px,#ff4f00 1292px,#ff4f00 1296px,#ff4f00 1300px)"></div>
<div style="height:10px;background:linear-gradient(90deg,#ff7300 0px,#ff7300 4px,#ff7300 8px,#ff7300 12px,#ff7300 16px,#ff1900 20px,#da0000 24px,#c50000 28px,#cb0000 32px,#f40000 36px,#ff4400 40px,#ffa000 44px,#ffec00 48px,#efff10 52px,#fff100 56px,#ffc800 60px,#ff9b00 64px,#ff7200 68px,#ff5600 72px,#ff4800 76px,#ff4600 80px,#ff4d00 84px,#ff6200 88px,#ff8600 92px,#ffb100 96px,#ffdd00 100px,#fdff02 104px,#e4ff1b 108px,#f8ff07 112px,#ffca00 116px,#ff7300 120px,#ff1900 124px,#da0000 128px,#c50000 132px,#cb0000 136px,#f40000 140px,#ff4400 144px,#ffa000 148px,#ffec00 152px,#e5ff1a 156px,#f5ff0a 160px,#ffe700 164px,#ffbd00 168px,#ff9000 172px,#ff6a00 176px,#ff5100 180px,#ff4700 184px,#ff4700 188px,#ff5100 192px,#ff6a00 196px,#ff9000 200px,#ffbd00 204px,#ffe700 208px,#f5ff0a 212px,#fffa00 216px,#ffb600 220px,#ff5b00 224px,#ff0600 228px,#d10000 232px,#c50000 236px,#d10000 240px,#ff0600 244px,#ff5b00 248px,#ffb600 252px,#fffa00 256px,#deff21 260px,#daff25 264px,#f0ff0f 268px,#ffeb00 272px,#ffbc00 276px,#ff8700 280px,#ff5800 284px,#ff3800 288px,#ff2c00 292px,#ff2c00 296px,#ff3800 300px,#ff5800 304px,#ff8700 308px,#ffbc00 312px,#ffeb00 316px,#f8ff07 320px,#ffca00 324px,#ff7300 328px,#ff1900 332px,#da0000 336px,#c50000 340px,#cb0000 344px,#f40000 348px,#ff4400 352px,#ffa000 356px,#ffec00 360px,#e5ff1a 364px,#d2ff2d 368px,#d5ff2a 372px,#eeff11 376px,#ffdc00 380px,#ff8a00 384px,#ff2e00 388px,#e60000 392px,#c70000 396px,#c70000 400px,#e60000 404px,#ff2e00 408px,#ff8a00 412px,#ffdc00 416px,#eeff11 420px,#ffec00 424px,#ffa000 428px,#ff4400 432px,#f40000 436px,#cb0000 440px,#c50000 444px,#da0000 448px,#ff1900 452px,#ff7300 456px,#ffca00 460px,#f8ff07 464px,#d9ff26 468px,#cdff32 472px,#d9ff26 476px,#f8ff07 480px,#ffca00 484px,#ff7300 488px,#ff1900 492px,#da0000 496px,#c50000 500px,#cb0000 504px,#f40000 508px,#ff4400 512px,#ffa000 516px,#ffec00 520px,#fff500 524px,#ffb100 528px,#ff5a00 532px,#ff0b00 536px,#d90000 540px,#ce0000 544px,#d90000 548px,#ff0b00 552px,#ff5a00 556px,#ffb100 560px,#fff500 564px,#e1ff1e 568px,#d0ff2f 572px,#d9ff26 576px,#f8ff07 580px,#ffca00 584px,#ff7300 588px,#ff1900 592px,#da0000 596px,#c50000 600px,#cb0000 604px,#f40000 608px,#ff4400 612px,#ffa000 616px,#ffec00 620px,#fbff04 624px,#ffd200 628px,#ff9100 632px,#ff4e00 636px,#ff1a00 640px,#ff0100 644px,#fc0000 648px,#ff0a00 652px,#ff3100 656px,#ff6f00 660px,#ffb300 664px,#ffed00 668px,#eaff15 672px,#d6ff29 676px,#deff21 680px,#fffa00 684px,#ffb600 688px,#ff5b00 692px,#ff0600 696px,#d10000 700px,#c50000 704px,#d10000 708px,#ff0600 712px,#ff5b00 716px,#ffb600 720px,#fffa00 724px,#fff900 728px,#ffd300 732px,#ffa600 736px,#ff7c00 740px,#ff5c00 744px,#ff4a00 748px,#ff4600 752px,#ff4a00 756px,#ff5c00 760px,#ff7c00 764px,#ffa600 768px,#ffd300 772px,#fff900 776px,#e9ff16 780px,#deff21 784px,#fffa00 788px,#ffb600 792px,#ff5b00 796px,#ff0600 800px,#d10000 804px,#c50000 808px,#d10000 812px,#ff0600 816px,#ff5b00 820px,#ffb600 824px,#fffa00 828px,#e4ff1b 832px,#fdff02 836px,#ffdd00 840px,#ffb100 844px,#ff8600 848px,#ff6200 852px,#ff4d00 856px,#ff4600 860px,#ff4800 864px,#ff5600 868px,#ff7200 872px,#ff9b00 876px,#ffc800 880px,#fff100 884px,#efff10 888px,#fffa00 892px,#ffb600 896px,#ff5b00 900px,#ff0600 904px,#d10000 908px,#c50000 912px,#d10000 916px,#ff0600 920px,#ff5b00 924px,#ffb600 928px,#fffa00 932px,#deff21 936px,#e2ff1d 940px,#fffd00 944px,#ffcd00 948px,#ff9100 952px,#ff5500 956px,#ff2800 960px,#ff1200 964px,#ff0f00 968px,#ff1a00 972px,#ff3c00 976px,#ff7200 980px,#ffb000 984px,#ffe700 988px,#efff10 992px,#ffdc00 996px,#ff8a00 1000px,#ff2e00 1004px,#e60000 1008px,#c70000 1012px,#c70000 1016px,#e60000 1020px,#ff2e00 1024px,#ff8a00 1028px,#ffdc00 1032px,#eeff11 1036px,#d5ff2a 1040px,#e4ff1b 1044px,#fff500 1048px,#ffb900 1052px,#ff6e00 1056px,#ff2800 1060px,#f90000 1064px,#ea0000 1068px,#ee0000 1072px,#ff0d00 1076px,#ff4900 1080px,#ff9400 1084px,#ffd900 1088px,#f4ff0b 1092px,#fffa00 1096px,#ffb600 1100px,#ff5b00 1104px,#ff0600 1108px,#d10000 1112px,#c50000 1116px,#d10000 1120px,#ff0600 1124px,#ff5b00 1128px,#ffb600 1132px,#fffa00 1136px,#deff21 1140px,#d7ff28 1144px,#f0ff0f 1148px,#ffdd00 1152px,#ff9600 1156px,#ff4700 1160px,#ff0700 1164px,#e50000 1168px,#e00000 1172px,#f10000 1176px,#ff2300 1180px,#ff6e00 1184px,#ffbc00 1188px,#fff900 1192px,#fffa00 1196px,#ffb600 1200px,#ff5b00 1204px,#ff0600 1208px,#d10000 1212px,#c50000 1216px,#d10000 1220px,#ff0600 1224px,#ff5b00 1228px,#ffb600 1232px,#fffa00 1236px,#deff21 1240px,#cfff30 1244px,#d2ff2d 1248px,#e5ff1a 1252px,#ffec00 1256px,#ffa000 1260px,#ff4400 1264px,#f40000 1268px,#cb0000 1272px,#c50000 1276px,#da0000 1280px,#ff1900 1284px,#ff1900 1288px,#ff1900 1292px,#ff1900 1296px,#ff1900 1300px)"></div>
<div style="height:10px;background:linear-gradient(90deg,#ff5600 0px,#ff5600 4px,#ff5600 8px,#ff5600 12px,#ff5600 16px,#f60000 20px,#b50000 24px,#a00000 28px,#a60000 32px,#d00000 36px,#ff2400 40px,#ff8800 44px,#ffdd00 48px,#fbff04 52px,#ffdf00 56px,#ffb100 60px,#ff8000 64px,#ff5400 68px,#ff3600 72px,#ff2800 76px,#ff2600 80px,#ff2d00 84px,#ff4300 88px,#ff6900 92px,#ff9800 96px,#ffc900 100px,#fff300 104px,#eeff11 108px,#fffa00 112px,#ffb600 116px,#ff5600 120px,#f60000 124px,#b50000 128px,#a00000 132px,#a60000 136px,#d00000 140px,#ff2400 144px,#ff8800 148px,#ffdd00 152px,#efff10 156px,#fffb00 160px,#ffd400 164px,#ffa500 168px,#ff7400 172px,#ff4b00 176px,#ff3100 180px,#ff2700 184px,#ff2700 188px,#ff3100 192px,#ff4b00 196px,#ff7400 200px,#ffa500 204px,#ffd400 208px,#fffb00 212px,#ffec00 216px,#ffa000 220px,#ff3d00 224px,#e10000 228px,#ac0000 232px,#9f0000 236px,#ac0000 240px,#e10000 244px,#ff3d00 248px,#ffa000 252px,#ffec00 256px,#e7ff18 260px,#e3ff1c 264px,#fcff03 268px,#ffda00 272px,#ffa400 276px,#ff6a00 280px,#ff3800 284px,#ff1700 288px,#ff0a00 292px,#ff0a00 296px,#ff1700 300px,#ff3800 304px,#ff6a00 308px,#ffa400 312px,#ffda00 316px,#fffa00 320px,#ffb600 324px,#ff5600 328px,#f60000 332px,#b50000 336px,#a00000 340px,#a60000 344px,#d00000 348px,#ff2400 352px,#ff8800 356px,#ffdd00 360px,#efff10 364px,#d8ff27 368px,#dcff23 372px,#f8ff07 376px,#ffca00 380px,#ff7000 384px,#ff0d00 388px,#c10000 392px,#a20000 396px,#a20000 400px,#c10000 404px,#ff0d00 408px,#ff7000 412px,#ffca00 416px,#f8ff07 420px,#ffdd00 424px,#ff8800 428px,#ff2400 432px,#d00000 436px,#a60000 440px,#a00000 444px,#b50000 448px,#f60000 452px,#ff5600 456px,#ffb600 460px,#fffa00 464px,#e1ff1e 468px,#d3ff2c 472px,#e1ff1e 476px,#fffa00 480px,#ffb600 484px,#ff5600 488px,#f60000 492px,#b50000 496px,#a00000 500px,#a60000 504px,#d00000 508px,#ff2400 512px,#ff8800 516px,#ffdd00 520px,#ffe700 524px,#ff9b00 528px,#ff3c00 532px,#e60000 536px,#b40000 540px,#a90000 544px,#b40000 548px,#e60000 552px,#ff3c00 556px,#ff9b00 560px,#ffe700 564px,#eaff15 568px,#d7ff28 572px,#e1ff1e 576px,#fffa00 580px,#ffb600 584px,#ff5600 588px,#f60000 592px,#b50000 596px,#a00000 600px,#a60000 604px,#d00000 608px,#ff2400 612px,#ff8800 616px,#ffdd00 620px,#fff600 624px,#ffbf00 628px,#ff7700 632px,#ff2e00 636px,#f70000 640px,#dc0000 644px,#d90000 648px,#e60000 652px,#ff1000 656px,#ff5100 660px,#ff9c00 664px,#ffdd00 668px,#f5ff0a 672px,#ddff22 676px,#e7ff18 680px,#ffec00 684px,#ffa000 688px,#ff3d00 692px,#e10000 696px,#ac0000 700px,#9f0000 704px,#ac0000 708px,#e10000 712px,#ff3d00 716px,#ffa000 720px,#ffec00 724px,#ffe900 728px,#ffbd00 732px,#ff8c00 736px,#ff5e00 740px,#ff3c00 744px,#ff2a00 748px,#ff2600 752px,#ff2a00 756px,#ff3c00 760px,#ff5e00 764px,#ff8c00 768px,#ffbd00 772px,#ffe900 776px,#f4ff0b 780px,#e7ff18 784px,#ffec00 788px,#ffa000 792px,#ff3d00 796px,#e10000 800px,#ac0000 804px,#9f0000 808px,#ac0000 812px,#e10000 816px,#ff3d00 820px,#ffa000 824px,#ffec00 828px,#eeff11 832px,#fff300 836px,#ffc900 840px,#ff9800 844px,#ff6900 848px,#ff4300 852px,#ff2d00 856px,#ff2600 860px,#ff2800 864px,#ff3600 868px,#ff5400 872px,#ff8000 876px,#ffb100 880px,#ffdf00 884px,#fbff04 888px,#ffec00 892px,#ffa000 896px,#ff3d00 900px,#e10000 904px,#ac0000 908px,#9f0000 912px,#ac0000 916px,#e10000 920px,#ff3d00 924px,#ffa000 928px,#ffec00 932px,#e7ff18 936px,#ecff13 940px,#ffef00 944px,#ffb800 948px,#ff7600 952px,#ff3500 956px,#ff0600 960px,#ef0000 964px,#ec0000 968px,#f70000 972px,#ff1b00 976px,#ff5400 980px,#ff9800 984px,#ffd600 988px,#fbff04 992px,#ffca00 996px,#ff7000 1000px,#ff0d00 1004px,#c10000 1008px,#a20000 1012px,#a20000 1016px,#c10000 1020px,#ff0d00 1024px,#ff7000 1028px,#ffca00 1032px,#f8ff07 1036px,#dcff23 1040px,#eeff11 1044px,#ffe600 1048px,#ffa200 1052px,#ff5000 1056px,#ff0600 1060px,#d50000 1064px,#c60000 1068px,#ca0000 1072px,#e90000 1076px,#ff2800 1080px,#ff7a00 1084px,#ffc700 1088px,#fffe00 1092px,#ffec00 1096px,#ffa000 1100px,#ff3d00 1104px,#e10000 1108px,#ac0000 1112px,#9f0000 1116px,#ac0000 1120px,#e10000 1124px,#ff3d00 1128px,#ffa000 1132px,#ffec00 1136px,#e7ff18 1140px,#dfff20 1144px,#fbff04 1148px,#ffcc00 1152px,#ff7c00 1156px,#ff2700 1160px,#e20000 1164px,#c10000 1168px,#bc0000 1172px,#cd0000 1176px,#ff0100 1180px,#ff5100 1184px,#ffa600 1188px,#ffeb00 1192px,#ffec00 1196px,#ffa000 1200px,#ff3d00 1204px,#e10000 1208px,#ac0000 1212px,#9f0000 1216px,#ac0000 1220px,#e10000 1224px,#ff3d00 1228px,#ffa000 1232px,#ffec00 1236px,#e7ff18 1240px,#d5ff2a 1244px,#d8ff27 1248px,#efff10 1252px,#ffdd00 1256px,#ff8800 1260px,#ff2400 1264px,#d00000 1268px,#a60000 1272px,#a00000 1276px,#b50000 1280px,#f60000 1284px,#f60000 1288px,#f60000 1292px,#f60000 1296px,#f60000 1300px)"></div>
</div></div>
<div class="pn" style="left:142px;top:719px">
<div class="bl" style="left:-16px;top:-12px;width:1300px;filter:url(#fh)">
<div style="height:10px;background:linear-gradient(90deg,#b3ff4c 0px,#b3ff4c 24px,#f2ff0d 28px,#f2ff0d 44px,#b3ff4c 48px,#b3ff4c 54px,#f2ff0d 58px,#f2ff0d 64px,#b3ff4c 68px,#b3ff4c 74px,#bf0000 78px,#bf0000 84px,#ff0000 88px,#ff0000 114px,#800000 118px,#800000 144px,#ff0000 148px,#ff0000 154px,#f2ff0d 158px,#f2ff0d 164px,#b3ff4c 168px,#b3ff4c 174px,#f2ff0d 178px,#f2ff0d 184px,#ff0000 188px,#ff0000 204px,#f2ff0d 208px,#f2ff0d 214px,#ff8000 218px,#ff8000 224px,#bf0000 228px,#bf0000 234px,#b3ff4c 238px,#b3ff4c 244px,#ff8000 248px,#ff8000 254px,#b3ff4c 258px,#b3ff4c 284px,#80ff80 288px,#80ff80 294px,#800000 298px,#800000 304px,#ff8000 308px,#ff8000 314px,#f2ff0d 318px,#f2ff0d 334px,#ff8000 338px,#ff8000 344px,#b3ff4c 348px,#b3ff4c 384px,#f2ff0d 388px,#f2ff0d 394px,#b3ff4c 398px,#b3ff4c 404px,#ff0000 408px,#ff0000 414px,#800000 418px,#800000 434px,#ff8000 438px,#ff8000 444px,#b3ff4c 448px,#b3ff4c 454px,#ff8000 458px,#ff8000 474px,#ff0000 478px,#ff0000 484px,#bf0000 488px,#bf0000 504px,#f2ff0d 508px,#f2ff0d 514px,#b3ff4c 518px,#b3ff4c 534px,#ff8000 538px,#ff8000 544px,#800000 548px,#800000 554px,#ff8000 558px,#ff8000 574px,#f2ff0d 578px,#f2ff0d 584px,#ff0000 588px,#ff0000 604px,#ff8000 608px,#ff8000 614px,#b3ff4c 618px,#b3ff4c 624px,#f2ff0d 628px,#f2ff0d 634px,#b3ff4c 638px,#b3ff4c 654px,#ff8000 658px,#ff8000 674px,#b3ff4c 678px,#b3ff4c 684px,#f2ff0d 688px,#f2ff0d 694px,#ff8000 698px,#ff8000 704px,#ff0000 708px,#ff0000 714px,#ff8000 718px,#ff8000 724px,#ff0000 728px,#ff0000 734px,#f2ff0d 738px,#f2ff0d 744px,#ff8000 748px,#ff8000 754px,#800000 758px,#800000 764px,#b3ff4c 768px,#b3ff4c 804px,#f2ff0d 808px,#f2ff0d 814px,#ff8000 818px,#ff8000 824px,#b3ff4c 828px,#b3ff4c 844px,#f2ff0d 848px,#f2ff0d 854px,#ff8000 858px,#ff8000 864px,#b3ff4c 868px,#b3ff4c 884px,#f2ff0d 888px,#f2ff0d 894px,#b3ff4c 898px,#b3ff4c 904px,#ff0000 908px,#ff0000 914px,#b3ff4c 918px,#b3ff4c 974px,#f2ff0d 978px,#f2ff0d 994px,#b3ff4c 998px,#b3ff4c 1004px,#bf0000 1008px,#bf0000 1014px,#b3ff4c 1018px,#b3ff4c 1044px,#ff0000 1048px,#ff0000 1054px,#b3ff4c 1058px,#b3ff4c 1074px,#ff8000 1078px,#ff8000 1084px,#b3ff4c 1088px,#b3ff4c 1104px,#f2ff0d 1108px,#f2ff0d 1114px,#ff8000 1118px,#ff8000 1124px,#f2ff0d 1128px,#f2ff0d 1134px,#b3ff4c 1138px,#b3ff4c 1144px,#ff8000 1148px,#ff8000 1154px,#b3ff4c 1158px,#b3ff4c 1174px,#ff8000 1178px,#ff8000 1184px,#b3ff4c 1188px,#b3ff4c 1204px,#ff0000 1208px,#ff0000 1214px,#b3ff4c 1218px,#b3ff4c 1224px,#bf0000 1228px,#bf0000 1234px,#ff0000 1238px,#ff0000 1244px,#b3ff4c 1248px,#b3ff4c 1254px,#ff8000 1258px,#ff8000 1274px,#b3ff4c 1278px,#b3ff4c 1300px)"></div>
<div style="height:10px;background:linear-gradient(90deg,#b3ff4c 0px,#b3ff4c 24px,#f2ff0d 28px,#f2ff0d 44px,#b3ff4c 48px,#b3ff4c 54px,#f2ff0d 58px,#f2ff0d 64px,#b3ff4c 68px,#b3ff4c 74px,#bf0000 78px,#bf0000 84px,#ff0000 88px,#ff0000 114px,#800000 118px,#800000 144px,#ff0000 148px,#ff0000 154px,#f2ff0d 158px,#f2ff0d 164px,#b3ff4c 168px,#b3ff4c 174px,#f2ff0d 178px,#f2ff0d 184px,#ff0000 188px,#ff0000 204px,#f2ff0d 208px,#f2ff0d 214px,#ff8000 218px,#ff8000 224px,#bf0000 228px,#bf0000 234px,#b3ff4c 238px,#b3ff4c 244px,#ff8000 248px,#ff8000 254px,#b3ff4c 258px,#b3ff4c 284px,#80ff80 288px,#80ff80 294px,#800000 298px,#800000 304px,#ff8000 308px,#ff8000 314px,#f2ff0d 318px,#f2ff0d 334px,#ff8000 338px,#ff8000 344px,#b3ff4c 348px,#b3ff4c 384px,#f2ff0d 388px,#f2ff0d 394px,#b3ff4c 398px,#b3ff4c 404px,#ff0000 408px,#ff0000 414px,#800000 418px,#800000 434px,#ff8000 438px,#ff8000 444px,#b3ff4c 448px,#b3ff4c 454px,#ff8000 458px,#ff8000 474px,#ff0000 478px,#ff0000 484px,#bf0000 488px,#bf0000 504px,#f2ff0d 508px,#f2ff0d 514px,#b3ff4c 518px,#b3ff4c 534px,#ff8000 538px,#ff8000 544px,#800000 548px,#800000 554px,#ff8000 558px,#ff8000 574px,#f2ff0d 578px,#f2ff0d 584px,#ff0000 588px,#ff0000 604px,#ff8000 608px,#ff8000 614px,#b3ff4c 618px,#b3ff4c 624px,#f2ff0d 628px,#f2ff0d 634px,#b3ff4c 638px,#b3ff4c 654px,#ff8000 658px,#ff8000 674px,#b3ff4c 678px,#b3ff4c 684px,#f2ff0d 688px,#f2ff0d 694px,#ff8000 698px,#ff8000 704px,#ff0000 708px,#ff0000 714px,#ff8000 718px,#ff8000 724px,#ff0000 728px,#ff0000 734px,#f2ff0d 738px,#f2ff0d 744px,#ff8000 748px,#ff8000 754px,#800000 758px,#800000 764px,#b3ff4c 768px,#b3ff4c 804px,#f2ff0d 808px,#f2ff0d 814px,#ff8000 818px,#ff8000 824px,#b3ff4c 828px,#b3ff4c 844px,#f2ff0d 848px,#f2ff0d 854px,#ff8000 858px,#ff8000 864px,#b3ff4c 868px,#b3ff4c 884px,#f2ff0d 888px,#f2ff0d 894px,#b3ff4c 898px,#b3ff4c 904px,#ff0000 908px,#ff0000 914px,#b3ff4c 918px,#b3ff4c 974px,#f2ff0d 978px,#f2ff0d 994px,#b3ff4c 998px,#b3ff4c 1004px,#bf0000 1008px,#bf0000 1014px,#b3ff4c 1018px,#b3ff4c 1044px,#ff0000 1048px,#ff0000 1054px,#b3ff4c 1058px,#b3ff4c 1074px,#ff8000 1078px,#ff8000 1084px,#b3ff4c 1088px,#b3ff4c 1104px,#f2ff0d 1108px,#f2ff0d 1114px,#ff8000 1118px,#ff8000 1124px,#f2ff0d 1128px,#f2ff0d 1134px,#b3ff4c 1138px,#b3ff4c 1144px,#ff8000 1148px,#ff8000 1154px,#b3ff4c 1158px,#b3ff4c 1174px,#ff8000 1178px,#ff8000 1184px,#b3ff4c 1188px,#b3ff4c 1204px,#ff0000 1208px,#ff0000 1214px,#b3ff4c 1218px,#b3ff4c 1224px,#bf0000 1228px,#bf0000 1234px,#ff0000 1238px,#ff0000 1244px,#b3ff4c 1248px,#b3ff4c 1254px,#ff8000 1258px,#ff8000 1274px,#b3ff4c 1278px,#b3ff4c 1300px)"></div>
<div style="height:10px;background:linear-gradient(90deg,#ccff33 0px,#ccff33 24px,#f2ff0d 28px,#f2ff0d 34px,#e5ff1a 38px,#e5ff1a 44px,#b3ff4c 48px,#b3ff4c 54px,#e5ff1a 58px,#e5ff1a 64px,#bfff40 68px,#bfff40 74px,#cc0000 78px,#cc0000 84px,#ff2600 88px,#ff2600 94px,#ff0000 98px,#ff0000 104px,#ff1a00 108px,#ff1a00 114px,#a60000 118px,#a60000 124px,#800000 128px,#800000 144px,#ff3300 148px,#ff3300 154px,#e5ff1a 158px,#e5ff1a 164px,#b3ff4c 168px,#b3ff4c 174px,#e5ff1a 178px,#e5ff1a 184px,#ff3300 188px,#ff3300 204px,#e5ff1a 208px,#e5ff1a 214px,#ff9900 218px,#ff9900 224px,#f20000 228px,#f20000 234px,#b3ff4c 238px,#b3ff4c 244px,#ff9900 248px,#ff9900 254px,#b3ff4c 258px,#b3ff4c 274px,#a6ff59 278px,#a6ff59 284px,#80ff80 288px,#80ff80 294px,#990000 298px,#990000 304px,#ff9900 308px,#ff9900 314px,#e5ff1a 318px,#e5ff1a 324px,#f2ff0d 328px,#f2ff0d 334px,#ff8000 338px,#ff8000 344px,#b3ff4c 348px,#b3ff4c 354px,#a6ff59 358px,#a6ff59 364px,#b3ff4c 368px,#b3ff4c 374px,#a6ff59 378px,#a6ff59 384px,#e5ff1a 388px,#e5ff1a 394px,#ccff33 398px,#ccff33 404px,#ff2600 408px,#ff2600 414px,#990000 418px,#990000 424px,#800000 428px,#800000 434px,#ff6600 438px,#ff6600 444px,#b3ff4c 448px,#b3ff4c 454px,#ff9900 458px,#ff9900 474px,#ff1a00 478px,#ff1a00 484px,#d90000 488px,#d90000 504px,#e5ff1a 508px,#e5ff1a 514px,#b3ff4c 518px,#b3ff4c 534px,#ff9900 538px,#ff9900 544px,#990000 548px,#990000 554px,#ff9900 558px,#ff9900 574px,#e5ff1a 578px,#e5ff1a 584px,#e50000 588px,#e50000 594px,#ff0000 598px,#ff0000 604px,#ff9900 608px,#ff9900 614px,#b3ff4c 618px,#b3ff4c 624px,#ffe500 628px,#ffe500 634px,#ccff33 638px,#ccff33 644px,#b3ff4c 648px,#b3ff4c 654px,#ff6600 658px,#ff6600 664px,#ff8000 668px,#ff8000 674px,#b3ff4c 678px,#b3ff4c 684px,#f2ff0d 688px,#f2ff0d 694px,#ff6600 698px,#ff6600 704px,#ff1a00 708px,#ff1a00 714px,#ff9900 718px,#ff9900 724px,#ff2600 728px,#ff2600 734px,#fff200 738px,#fff200 744px,#ff9900 748px,#ff9900 754px,#990000 758px,#990000 764px,#b3ff4c 768px,#b3ff4c 784px,#bfff40 788px,#bfff40 804px,#f2ff0d 808px,#f2ff0d 814px,#ff8000 818px,#ff8000 824px,#b3ff4c 828px,#b3ff4c 834px,#ccff33 838px,#ccff33 844px,#fff200 848px,#fff200 854px,#ff8000 858px,#ff8000 864px,#b3ff4c 868px,#b3ff4c 884px,#f2ff0d 888px,#f2ff0d 894px,#b3ff4c 898px,#b3ff4c 904px,#e50000 908px,#e50000 914px,#ccff33 918px,#ccff33 924px,#b3ff4c 928px,#b3ff4c 974px,#f2ff0d 978px,#f2ff0d 984px,#fff200 988px,#fff200 994px,#b3ff4c 998px,#b3ff4c 1004px,#ff0000 1008px,#ff0000 1014px,#b3ff4c 1018px,#b3ff4c 1044px,#ff2600 1048px,#ff2600 1054px,#b3ff4c 1058px,#b3ff4c 1074px,#ff6600 1078px,#ff6600 1084px,#b3ff4c 1088px,#b3ff4c 1104px,#e5ff1a 1108px,#e5ff1a 1114px,#ff8000 1118px,#ff8000 1124px,#e5ff1a 1128px,#e5ff1a 1134px,#b3ff4c 1138px,#b3ff4c 1144px,#ff9900 1148px,#ff9900 1154px,#b3ff4c 1158px,#b3ff4c 1164px,#bfff40 1168px,#bfff40 1174px,#ff8000 1178px,#ff8000 1184px,#b3ff4c 1188px,#b3ff4c 1204px,#ff3300 1208px,#ff3300 1214px,#b3ff4c 1218px,#b3ff4c 1224px,#cc0000 1228px,#cc0000 1234px,#ff3300 1238px,#ff3300 1244px,#b3ff4c 1248px,#b3ff4c 1254px,#ff9900 1258px,#ff9900 1274px,#b3ff4c 1278px,#b3ff4c 1300px)"></div>
<div style="height:10px;background:linear-gradient(90deg,#ffcc00 0px,#ffcc00 24px,#f2ff0d 28px,#f2ff0d 34px,#ccff33 38px,#ccff33 44px,#b3ff4c 48px,#b3ff4c 54px,#ccff33 58px,#ccff33 64px,#d9ff26 68px,#d9ff26 74px,#e50000 78px,#e50000 84px,#ffb300 88px,#ffb300 94px,#ff0000 98px,#ff0000 104px,#ff4c00 108px,#ff4c00 114px,#ff2600 118px,#ff2600 124px,#800000 128px,#800000 144px,#ffd900 148px,#ffd900 154px,#ccff33 158px,#ccff33 164px,#b3ff4c 168px,#b3ff4c 174px,#ccff33 178px,#ccff33 184px,#ffd900 188px,#ffd900 204px,#a6ff59 208px,#a6ff59 214px,#f2ff0d 218px,#f2ff0d 224px,#ff9900 228px,#ff9900 234px,#b3ff4c 238px,#b3ff4c 244px,#f2ff0d 248px,#f2ff0d 254px,#b3ff4c 258px,#b3ff4c 274px,#8cff73 278px,#8cff73 284px,#80ff80 288px,#80ff80 294px,#cc0000 298px,#cc0000 304px,#f2ff0d 308px,#f2ff0d 314px,#ccff33 318px,#ccff33 324px,#f2ff0d 328px,#f2ff0d 334px,#ff8000 338px,#ff8000 344px,#b3ff4c 348px,#b3ff4c 354px,#8cff73 358px,#8cff73 364px,#b3ff4c 368px,#b3ff4c 374px,#8cff73 378px,#8cff73 384px,#ccff33 388px,#ccff33 394px,#ffcc00 398px,#ffcc00 404px,#ffb300 408px,#ffb300 414px,#cc0000 418px,#cc0000 424px,#800000 428px,#800000 434px,#ff3300 438px,#ff3300 444px,#b3ff4c 448px,#b3ff4c 454px,#ffd900 458px,#ffd900 474px,#ff4c00 478px,#ff4c00 484px,#ff4000 488px,#ff4000 504px,#ccff33 508px,#ccff33 514px,#b3ff4c 518px,#b3ff4c 534px,#ffd900 538px,#ffd900 544px,#cc0000 548px,#cc0000 554px,#f2ff0d 558px,#f2ff0d 564px,#ffd900 568px,#ffd900 574px,#ccff33 578px,#ccff33 584px,#b30000 588px,#b30000 594px,#ff0000 598px,#ff0000 604px,#ffd900 608px,#ffd900 614px,#b3ff4c 618px,#b3ff4c 624px,#ff5900 628px,#ff5900 634px,#ffcc00 638px,#ffcc00 644px,#b3ff4c 648px,#b3ff4c 654px,#ff3300 658px,#ff3300 664px,#ff8000 668px,#ff8000 674px,#b3ff4c 678px,#b3ff4c 684px,#f2ff0d 688px,#f2ff0d 694px,#ff0000 698px,#ff0000 704px,#ff4c00 708px,#ff4c00 714px,#f2ff0d 718px,#f2ff0d 724px,#ffb300 728px,#ffb300 744px,#f2ff0d 748px,#f2ff0d 754px,#cc0000 758px,#cc0000 764px,#b3ff4c 768px,#b3ff4c 784px,#d9ff26 788px,#d9ff26 804px,#f2ff0d 808px,#f2ff0d 814px,#ff8000 818px,#ff8000 824px,#b3ff4c 828px,#b3ff4c 834px,#ffcc00 838px,#ffcc00 844px,#ffb300 848px,#ffb300 854px,#ff8000 858px,#ff8000 864px,#b3ff4c 868px,#b3ff4c 884px,#f2ff0d 888px,#f2ff0d 894px,#b3ff4c 898px,#b3ff4c 904px,#b30000 908px,#b30000 914px,#ffcc00 918px,#ffcc00 924px,#b3ff4c 928px,#b3ff4c 974px,#f2ff0d 978px,#f2ff0d 984px,#ffb300 988px,#ffb300 994px,#b3ff4c 998px,#b3ff4c 1004px,#ffbf00 1008px,#ffbf00 1014px,#b3ff4c 1018px,#b3ff4c 1044px,#ffb300 1048px,#ffb300 1054px,#b3ff4c 1058px,#b3ff4c 1074px,#ff3300 1078px,#ff3300 1084px,#b3ff4c 1088px,#b3ff4c 1104px,#ccff33 1108px,#ccff33 1114px,#ff8000 1118px,#ff8000 1124px,#ccff33 1128px,#ccff33 1134px,#b3ff4c 1138px,#b3ff4c 1144px,#f2ff0d 1148px,#f2ff0d 1154px,#b3ff4c 1158px,#b3ff4c 1164px,#d9ff26 1168px,#d9ff26 1174px,#ff8000 1178px,#ff8000 1184px,#b3ff4c 1188px,#b3ff4c 1204px,#ffd900 1208px,#ffd900 1214px,#b3ff4c 1218px,#b3ff4c 1224px,#e50000 1228px,#e50000 1234px,#ffd900 1238px,#ffd900 1244px,#b3ff4c 1248px,#b3ff4c 1254px,#f2ff0d 1258px,#f2ff0d 1274px,#b3ff4c 1278px,#b3ff4c 1300px)"></div>
<div style="height:10px;background:linear-gradient(90deg,#ff8000 0px,#ff8000 24px,#f2ff0d 28px,#f2ff0d 34px,#a6ff59 38px,#a6ff59 64px,#e5ff1a 68px,#e5ff1a 74px,#ff3300 78px,#ff3300 84px,#fff200 88px,#fff200 94px,#ff2600 98px,#ff2600 104px,#ff9900 108px,#ff9900 124px,#800000 128px,#800000 134px,#990000 138px,#990000 144px,#b3ff4c 148px,#b3ff4c 154px,#a6ff59 158px,#a6ff59 184px,#ccff33 188px,#ccff33 194px,#bfff40 198px,#bfff40 204px,#80ff80 208px,#80ff80 214px,#b3ff4c 218px,#b3ff4c 224px,#f2ff0d 228px,#f2ff0d 234px,#b3ff4c 238px,#b3ff4c 244px,#a6ff59 248px,#a6ff59 264px,#b3ff4c 268px,#b3ff4c 274px,#80ff80 278px,#80ff80 294px,#ff0000 298px,#ff0000 304px,#b3ff4c 308px,#b3ff4c 324px,#f2ff0d 328px,#f2ff0d 334px,#ff9900 338px,#ff9900 344px,#a6ff59 348px,#a6ff59 354px,#80ff80 358px,#80ff80 364px,#a6ff59 368px,#a6ff59 374px,#80ff80 378px,#80ff80 384px,#b3ff4c 388px,#b3ff4c 394px,#ff9900 398px,#ff9900 404px,#e5ff1a 408px,#e5ff1a 414px,#ff1a00 418px,#ff1a00 424px,#800000 428px,#800000 434px,#ff0000 438px,#ff0000 444px,#b3ff4c 448px,#b3ff4c 454px,#e5ff1a 458px,#e5ff1a 474px,#ff9900 478px,#ff9900 504px,#b3ff4c 508px,#b3ff4c 534px,#e5ff1a 538px,#e5ff1a 544px,#ff3300 548px,#ff3300 554px,#b3ff4c 558px,#b3ff4c 564px,#fff200 568px,#fff200 574px,#b3ff4c 578px,#b3ff4c 584px,#990000 588px,#990000 594px,#ff2600 598px,#ff2600 604px,#e5ff1a 608px,#e5ff1a 614px,#bfff40 618px,#bfff40 624px,#ff0000 628px,#ff0000 634px,#ff9900 638px,#ff9900 644px,#b3ff4c 648px,#b3ff4c 654px,#ff2600 658px,#ff2600 664px,#ff9900 668px,#ff9900 674px,#b3ff4c 678px,#b3ff4c 684px,#e5ff1a 688px,#e5ff1a 694px,#d90000 698px,#d90000 704px,#ff9900 708px,#ff9900 714px,#bfff40 718px,#bfff40 724px,#e5ff1a 728px,#e5ff1a 734px,#ff9900 738px,#ff9900 744px,#ccff33 748px,#ccff33 754px,#ff3300 758px,#ff3300 764px,#bfff40 768px,#bfff40 774px,#b3ff4c 778px,#b3ff4c 784px,#e5ff1a 788px,#e5ff1a 814px,#ff9900 818px,#ff9900 824px,#b3ff4c 828px,#b3ff4c 834px,#ff7300 838px,#ff7300 844px,#ff9900 848px,#ff9900 864px,#b3ff4c 868px,#b3ff4c 874px,#a6ff59 878px,#a6ff59 884px,#f2ff0d 888px,#f2ff0d 894px,#b3ff4c 898px,#b3ff4c 904px,#a60000 908px,#a60000 914px,#ff8000 918px,#ff8000 924px,#b3ff4c 928px,#b3ff4c 934px,#bfff40 938px,#bfff40 944px,#b3ff4c 948px,#b3ff4c 954px,#e5ff1a 958px,#e5ff1a 984px,#ff8000 988px,#ff8000 994px,#ccff33 998px,#ccff33 1004px,#b3ff4c 1008px,#b3ff4c 1014px,#bfff40 1018px,#bfff40 1024px,#b3ff4c 1028px,#b3ff4c 1044px,#e5ff1a 1048px,#e5ff1a 1054px,#bfff40 1058px,#bfff40 1064px,#b3ff4c 1068px,#b3ff4c 1074px,#ff3300 1078px,#ff3300 1084px,#b3ff4c 1088px,#b3ff4c 1114px,#ff9900 1118px,#ff9900 1124px,#b3ff4c 1128px,#b3ff4c 1154px,#a6ff59 1158px,#a6ff59 1164px,#e5ff1a 1168px,#e5ff1a 1174px,#ff9900 1178px,#ff9900 1184px,#a6ff59 1188px,#a6ff59 1214px,#bfff40 1218px,#bfff40 1224px,#ff1a00 1228px,#ff1a00 1234px,#b3ff4c 1238px,#b3ff4c 1244px,#a6ff59 1248px,#a6ff59 1254px,#b3ff4c 1258px,#b3ff4c 1300px)"></div>
<div style="height:10px;background:linear-gradient(90deg,#ff8000 0px,#ff8000 24px,#f2ff0d 28px,#f2ff0d 34px,#8cff73 38px,#8cff73 64px,#ccff33 68px,#ccff33 74px,#ffd900 78px,#ffd900 84px,#ffb300 88px,#ffb300 104px,#ffd900 108px,#ffd900 124px,#800000 128px,#800000 134px,#cc0000 138px,#cc0000 144px,#b3ff4c 148px,#b3ff4c 154px,#8cff73 158px,#8cff73 184px,#ffcc00 188px,#ffcc00 194px,#d9ff26 198px,#d9ff26 204px,#80ff80 208px,#80ff80 214px,#b3ff4c 218px,#b3ff4c 224px,#f2ff0d 228px,#f2ff0d 234px,#b3ff4c 238px,#b3ff4c 244px,#8cff73 248px,#8cff73 264px,#b3ff4c 268px,#b3ff4c 274px,#80ff80 278px,#80ff80 294px,#ff0000 298px,#ff0000 304px,#b3ff4c 308px,#b3ff4c 324px,#f2ff0d 328px,#f2ff0d 344px,#8cff73 348px,#8cff73 354px,#80ff80 358px,#80ff80 364px,#8cff73 368px,#8cff73 374px,#80ff80 378px,#80ff80 384px,#b3ff4c 388px,#b3ff4c 394px,#ffd900 398px,#ffd900 404px,#ccff33 408px,#ccff33 414px,#ff4c00 418px,#ff4c00 424px,#800000 428px,#800000 434px,#ff0000 438px,#ff0000 444px,#b3ff4c 448px,#b3ff4c 454px,#ccff33 458px,#ccff33 474px,#f2ff0d 478px,#f2ff0d 494px,#ffd900 498px,#ffd900 504px,#b3ff4c 508px,#b3ff4c 534px,#ccff33 538px,#ccff33 544px,#ffd900 548px,#ffd900 554px,#b3ff4c 558px,#b3ff4c 564px,#ffb300 568px,#ffb300 574px,#b3ff4c 578px,#b3ff4c 584px,#cc0000 588px,#cc0000 594px,#ffb300 598px,#ffb300 604px,#ccff33 608px,#ccff33 614px,#d9ff26 618px,#d9ff26 624px,#ff0000 628px,#ff0000 634px,#ffd900 638px,#ffd900 644px,#b3ff4c 648px,#b3ff4c 654px,#ffb300 658px,#ffb300 664px,#f2ff0d 668px,#f2ff0d 674px,#b3ff4c 678px,#b3ff4c 684px,#ccff33 688px,#ccff33 694px,#ff4000 698px,#ff4000 704px,#f2ff0d 708px,#f2ff0d 714px,#d9ff26 718px,#d9ff26 724px,#ccff33 728px,#ccff33 734px,#f2ff0d 738px,#f2ff0d 744px,#ffcc00 748px,#ffcc00 754px,#ffd900 758px,#ffd900 764px,#d9ff26 768px,#d9ff26 774px,#b3ff4c 778px,#b3ff4c 784px,#ccff33 788px,#ccff33 814px,#ffd900 818px,#ffd900 824px,#b3ff4c 828px,#b3ff4c 834px,#ff3300 838px,#ff3300 844px,#ffd900 848px,#ffd900 854px,#f2ff0d 858px,#f2ff0d 864px,#b3ff4c 868px,#b3ff4c 874px,#8cff73 878px,#8cff73 884px,#f2ff0d 888px,#f2ff0d 894px,#b3ff4c 898px,#b3ff4c 904px,#ff2600 908px,#ff2600 914px,#ff8000 918px,#ff8000 924px,#b3ff4c 928px,#b3ff4c 934px,#d9ff26 938px,#d9ff26 944px,#b3ff4c 948px,#b3ff4c 954px,#ff7300 958px,#ff7300 974px,#ccff33 978px,#ccff33 984px,#ff8000 988px,#ff8000 994px,#ffcc00 998px,#ffcc00 1004px,#b3ff4c 1008px,#b3ff4c 1014px,#d9ff26 1018px,#d9ff26 1024px,#b3ff4c 1028px,#b3ff4c 1044px,#ccff33 1048px,#ccff33 1054px,#d9ff26 1058px,#d9ff26 1064px,#b3ff4c 1068px,#b3ff4c 1074px,#ffd900 1078px,#ffd900 1084px,#b3ff4c 1088px,#b3ff4c 1114px,#f2ff0d 1118px,#f2ff0d 1124px,#b3ff4c 1128px,#b3ff4c 1154px,#8cff73 1158px,#8cff73 1164px,#ccff33 1168px,#ccff33 1174px,#f2ff0d 1178px,#f2ff0d 1184px,#8cff73 1188px,#8cff73 1214px,#d9ff26 1218px,#d9ff26 1224px,#ff4c00 1228px,#ff4c00 1234px,#b3ff4c 1238px,#b3ff4c 1244px,#8cff73 1248px,#8cff73 1254px,#b3ff4c 1258px,#b3ff4c 1300px)"></div>
<div style="height:10px;background:linear-gradient(90deg,#ff9900 0px,#ff9900 24px,#e5ff1a 28px,#e5ff1a 34px,#80ff80 38px,#80ff80 64px,#a6ff59 68px,#a6ff59 74px,#bfff40 78px,#bfff40 84px,#ff9900 88px,#ff9900 94px,#e5ff1a 98px,#e5ff1a 124px,#bf0000 128px,#bf0000 134px,#ff3300 138px,#ff3300 144px,#a6ff59 148px,#a6ff59 154px,#80ff80 158px,#80ff80 184px,#ff8000 188px,#ff8000 194px,#e5ff1a 198px,#e5ff1a 204px,#80ff80 208px,#80ff80 214px,#b3ff4c 218px,#b3ff4c 224px,#e5ff1a 228px,#e5ff1a 234px,#a6ff59 238px,#a6ff59 244px,#80ff80 248px,#80ff80 264px,#a6ff59 268px,#a6ff59 274px,#80ff80 278px,#80ff80 294px,#ff3300 298px,#ff3300 304px,#a6ff59 308px,#a6ff59 314px,#b3ff4c 318px,#b3ff4c 324px,#e5ff1a 328px,#e5ff1a 334px,#a6ff59 338px,#a6ff59 344px,#80ff80 348px,#80ff80 384px,#a6ff59 388px,#a6ff59 394px,#e5ff1a 398px,#e5ff1a 404px,#a6ff59 408px,#a6ff59 414px,#ff9900 418px,#ff9900 424px,#a60000 428px,#a60000 434px,#ff0000 438px,#ff0000 444px,#b3ff4c 448px,#b3ff4c 454px,#a6ff59 458px,#a6ff59 494px,#e5ff1a 498px,#e5ff1a 504px,#a6ff59 508px,#a6ff59 514px,#b3ff4c 518px,#b3ff4c 524px,#a6ff59 528px,#a6ff59 534px,#b3ff4c 538px,#b3ff4c 544px,#a6ff59 548px,#a6ff59 554px,#b3ff4c 558px,#b3ff4c 564px,#ff9900 568px,#ff9900 574px,#b3ff4c 578px,#b3ff4c 584px,#ff2600 588px,#ff2600 594px,#e5ff1a 598px,#e5ff1a 604px,#a6ff59 608px,#a6ff59 614px,#e5ff1a 618px,#e5ff1a 624px,#ff3300 628px,#ff3300 634px,#e5ff1a 638px,#e5ff1a 644px,#a6ff59 648px,#a6ff59 654px,#e5ff1a 658px,#e5ff1a 664px,#b3ff4c 668px,#b3ff4c 694px,#ff9900 698px,#ff9900 704px,#b3ff4c 708px,#b3ff4c 714px,#e5ff1a 718px,#e5ff1a 724px,#a6ff59 728px,#a6ff59 734px,#b3ff4c 738px,#b3ff4c 744px,#ff9900 748px,#ff9900 754px,#b3ff4c 758px,#b3ff4c 764px,#f2ff0d 768px,#f2ff0d 774px,#b3ff4c 778px,#b3ff4c 784px,#bfff40 788px,#bfff40 794px,#b3ff4c 798px,#b3ff4c 804px,#bfff40 808px,#bfff40 814px,#fff200 818px,#fff200 824px,#b3ff4c 828px,#b3ff4c 834px,#ff3300 838px,#ff3300 844px,#f2ff0d 848px,#f2ff0d 854px,#b3ff4c 858px,#b3ff4c 864px,#a6ff59 868px,#a6ff59 874px,#80ff80 878px,#80ff80 884px,#e5ff1a 888px,#e5ff1a 894px,#a6ff59 898px,#a6ff59 904px,#ff9900 908px,#ff9900 924px,#b3ff4c 928px,#b3ff4c 934px,#e5ff1a 938px,#e5ff1a 944px,#bfff40 948px,#bfff40 954px,#ff0000 958px,#ff0000 974px,#b3ff4c 978px,#b3ff4c 984px,#ff9900 988px,#ff9900 994px,#ff7300 998px,#ff7300 1004px,#b3ff4c 1008px,#b3ff4c 1014px,#e5ff1a 1018px,#e5ff1a 1024px,#b3ff4c 1028px,#b3ff4c 1054px,#e5ff1a 1058px,#e5ff1a 1064px,#a6ff59 1068px,#a6ff59 1114px,#b3ff4c 1118px,#b3ff4c 1134px,#a6ff59 1138px,#a6ff59 1154px,#80ff80 1158px,#80ff80 1164px,#b3ff4c 1168px,#b3ff4c 1184px,#8cff73 1188px,#8cff73 1194px,#80ff80 1198px,#80ff80 1214px,#e5ff1a 1218px,#e5ff1a 1224px,#ff9900 1228px,#ff9900 1234px,#a6ff59 1238px,#a6ff59 1244px,#80ff80 1248px,#80ff80 1254px,#a6ff59 1258px,#a6ff59 1274px,#b3ff4c 1278px,#b3ff4c 1300px)"></div>
<div style="height:10px;background:linear-gradient(90deg,#f2ff0d 0px,#f2ff0d 24px,#ccff33 28px,#ccff33 34px,#80ff80 38px,#80ff80 64px,#8cff73 68px,#8cff73 74px,#d9ff26 78px,#d9ff26 84px,#f2ff0d 88px,#f2ff0d 94px,#a6ff59 98px,#a6ff59 114px,#ccff33 118px,#ccff33 124px,#ff8000 128px,#ff8000 134px,#ffd900 138px,#ffd900 144px,#8cff73 148px,#8cff73 154px,#80ff80 158px,#80ff80 184px,#ff8000 188px,#ff8000 194px,#ccff33 198px,#ccff33 204px,#80ff80 208px,#80ff80 214px,#b3ff4c 218px,#b3ff4c 224px,#ccff33 228px,#ccff33 234px,#8cff73 238px,#8cff73 244px,#80ff80 248px,#80ff80 264px,#8cff73 268px,#8cff73 274px,#80ff80 278px,#80ff80 294px,#ffd900 298px,#ffd900 304px,#8cff73 308px,#8cff73 314px,#b3ff4c 318px,#b3ff4c 324px,#ccff33 328px,#ccff33 334px,#8cff73 338px,#8cff73 344px,#80ff80 348px,#80ff80 384px,#8cff73 388px,#8cff73 394px,#ccff33 398px,#ccff33 404px,#8cff73 408px,#8cff73 414px,#f2ff0d 418px,#f2ff0d 424px,#ff2600 428px,#ff2600 434px,#ff0000 438px,#ff0000 444px,#b3ff4c 448px,#b3ff4c 454px,#8cff73 458px,#8cff73 494px,#ccff33 498px,#ccff33 504px,#8cff73 508px,#8cff73 514px,#b3ff4c 518px,#b3ff4c 524px,#8cff73 528px,#8cff73 534px,#b3ff4c 538px,#b3ff4c 544px,#8cff73 548px,#8cff73 554px,#b3ff4c 558px,#b3ff4c 564px,#ffd900 568px,#ffd900 574px,#b3ff4c 578px,#b3ff4c 584px,#ffb300 588px,#ffb300 594px,#ccff33 598px,#ccff33 604px,#8cff73 608px,#8cff73 614px,#a6ff59 618px,#a6ff59 624px,#fff200 628px,#fff200 634px,#ccff33 638px,#ccff33 644px,#8cff73 648px,#8cff73 654px,#ccff33 658px,#ccff33 664px,#b3ff4c 668px,#b3ff4c 694px,#f2ff0d 698px,#f2ff0d 704px,#b3ff4c 708px,#b3ff4c 714px,#ccff33 718px,#ccff33 724px,#8cff73 728px,#8cff73 734px,#b3ff4c 738px,#b3ff4c 744px,#f2ff0d 748px,#f2ff0d 754px,#b3ff4c 758px,#b3ff4c 764px,#f2ff0d 768px,#f2ff0d 774px,#b3ff4c 778px,#b3ff4c 784px,#d9ff26 788px,#d9ff26 794px,#b3ff4c 798px,#b3ff4c 804px,#d9ff26 808px,#d9ff26 814px,#ffb300 818px,#ffb300 824px,#b3ff4c 828px,#b3ff4c 834px,#ffd900 838px,#ffd900 844px,#f2ff0d 848px,#f2ff0d 854px,#b3ff4c 858px,#b3ff4c 864px,#8cff73 868px,#8cff73 874px,#80ff80 878px,#80ff80 884px,#ccff33 888px,#ccff33 894px,#8cff73 898px,#8cff73 904px,#f2ff0d 908px,#f2ff0d 914px,#ffd900 918px,#ffd900 924px,#b3ff4c 928px,#b3ff4c 934px,#ccff33 938px,#ccff33 944px,#d9ff26 948px,#d9ff26 954px,#ff0000 958px,#ff0000 974px,#b3ff4c 978px,#b3ff4c 984px,#f2ff0d 988px,#f2ff0d 994px,#ff3300 998px,#ff3300 1004px,#b3ff4c 1008px,#b3ff4c 1014px,#ccff33 1018px,#ccff33 1024px,#b3ff4c 1028px,#b3ff4c 1054px,#ccff33 1058px,#ccff33 1064px,#8cff73 1068px,#8cff73 1114px,#b3ff4c 1118px,#b3ff4c 1134px,#8cff73 1138px,#8cff73 1154px,#80ff80 1158px,#80ff80 1164px,#b3ff4c 1168px,#b3ff4c 1184px,#99ff66 1188px,#99ff66 1194px,#80ff80 1198px,#80ff80 1214px,#ccff33 1218px,#ccff33 1224px,#f2ff0d 1228px,#f2ff0d 1234px,#8cff73 1238px,#8cff73 1244px,#80ff80 1248px,#80ff80 1254px,#8cff73 1258px,#8cff73 1274px,#b3ff4c 1278px,#b3ff4c 1300px)"></div>
<div style="height:10px;background:linear-gradient(90deg,#a6ff59 0px,#a6ff59 34px,#80ff80 38px,#80ff80 64px,#8cff73 68px,#8cff73 74px,#f2ff0d 78px,#f2ff0d 84px,#b3ff4c 88px,#b3ff4c 94px,#80ff80 98px,#80ff80 114px,#b3ff4c 118px,#b3ff4c 124px,#f2ff0d 128px,#f2ff0d 134px,#b3ff4c 138px,#b3ff4c 144px,#80ff80 148px,#80ff80 174px,#8cff73 178px,#8cff73 184px,#ff9900 188px,#ff9900 194px,#a6ff59 198px,#a6ff59 204px,#8cff73 208px,#8cff73 214px,#b3ff4c 218px,#b3ff4c 224px,#a6ff59 228px,#a6ff59 234px,#80ff80 238px,#80ff80 294px,#b3ff4c 298px,#b3ff4c 304px,#80ff80 308px,#80ff80 314px,#a6ff59 318px,#a6ff59 334px,#80ff80 338px,#80ff80 344px,#8cff73 348px,#8cff73 354px,#80ff80 358px,#80ff80 374px,#8cff73 378px,#8cff73 384px,#80ff80 388px,#80ff80 394px,#a6ff59 398px,#a6ff59 404px,#80ff80 408px,#80ff80 414px,#b3ff4c 418px,#b3ff4c 424px,#ff9900 428px,#ff9900 434px,#ff2600 438px,#ff2600 444px,#b3ff4c 448px,#b3ff4c 454px,#80ff80 458px,#80ff80 494px,#b3ff4c 498px,#b3ff4c 504px,#80ff80 508px,#80ff80 514px,#a6ff59 518px,#a6ff59 524px,#8cff73 528px,#8cff73 534px,#b3ff4c 538px,#b3ff4c 544px,#80ff80 548px,#80ff80 554px,#b3ff4c 558px,#b3ff4c 564px,#e5ff1a 568px,#e5ff1a 574px,#a6ff59 578px,#a6ff59 584px,#f2ff0d 588px,#f2ff0d 594px,#b3ff4c 598px,#b3ff4c 604px,#80ff80 608px,#80ff80 634px,#b3ff4c 638px,#b3ff4c 644px,#80ff80 648px,#80ff80 654px,#b3ff4c 658px,#b3ff4c 684px,#a6ff59 688px,#a6ff59 694px,#bfff40 698px,#bfff40 704px,#b3ff4c 708px,#b3ff4c 714px,#a6ff59 718px,#a6ff59 724px,#80ff80 728px,#80ff80 734px,#b3ff4c 738px,#b3ff4c 744px,#bfff40 748px,#bfff40 754px,#b3ff4c 758px,#b3ff4c 764px,#e5ff1a 768px,#e5ff1a 774px,#a6ff59 778px,#a6ff59 784px,#e5ff1a 788px,#e5ff1a 794px,#b3ff4c 798px,#b3ff4c 804px,#e5ff1a 808px,#e5ff1a 814px,#ff9900 818px,#ff9900 824px,#b3ff4c 828px,#b3ff4c 844px,#e5ff1a 848px,#e5ff1a 854px,#a6ff59 858px,#a6ff59 864px,#80ff80 868px,#80ff80 884px,#b3ff4c 888px,#b3ff4c 894px,#80ff80 898px,#80ff80 904px,#a6ff59 908px,#a6ff59 914px,#e5ff1a 918px,#e5ff1a 924px,#b3ff4c 928px,#b3ff4c 934px,#bfff40 938px,#bfff40 944px,#f2ff0d 948px,#f2ff0d 954px,#ff3300 958px,#ff3300 974px,#a6ff59 978px,#a6ff59 984px,#b3ff4c 988px,#b3ff4c 994px,#ff2600 998px,#ff2600 1004px,#b3ff4c 1008px,#b3ff4c 1024px,#a6ff59 1028px,#a6ff59 1044px,#b3ff4c 1048px,#b3ff4c 1064px,#80ff80 1068px,#80ff80 1114px,#b3ff4c 1118px,#b3ff4c 1134px,#80ff80 1138px,#80ff80 1164px,#b3ff4c 1168px,#b3ff4c 1174px,#a6ff59 1178px,#a6ff59 1184px,#b3ff4c 1188px,#b3ff4c 1194px,#80ff80 1198px,#80ff80 1214px,#b3ff4c 1218px,#b3ff4c 1224px,#a6ff59 1228px,#a6ff59 1234px,#80ff80 1238px,#80ff80 1264px,#8cff73 1268px,#8cff73 1274px,#b3ff4c 1278px,#b3ff4c 1300px)"></div>
<div style="height:10px;background:linear-gradient(90deg,#8cff73 0px,#8cff73 34px,#80ff80 38px,#80ff80 64px,#99ff66 68px,#99ff66 74px,#f2ff0d 78px,#f2ff0d 84px,#b3ff4c 88px,#b3ff4c 94px,#80ff80 98px,#80ff80 114px,#b3ff4c 118px,#b3ff4c 124px,#f2ff0d 128px,#f2ff0d 134px,#b3ff4c 138px,#b3ff4c 144px,#80ff80 148px,#80ff80 174px,#99ff66 178px,#99ff66 184px,#f2ff0d 188px,#f2ff0d 194px,#8cff73 198px,#8cff73 204px,#99ff66 208px,#99ff66 214px,#b3ff4c 218px,#b3ff4c 224px,#8cff73 228px,#8cff73 234px,#80ff80 238px,#80ff80 294px,#b3ff4c 298px,#b3ff4c 304px,#80ff80 308px,#80ff80 314px,#8cff73 318px,#8cff73 334px,#80ff80 338px,#80ff80 344px,#99ff66 348px,#99ff66 354px,#80ff80 358px,#80ff80 374px,#99ff66 378px,#99ff66 384px,#80ff80 388px,#80ff80 394px,#8cff73 398px,#8cff73 404px,#80ff80 408px,#80ff80 414px,#b3ff4c 418px,#b3ff4c 424px,#ffd900 428px,#ffd900 434px,#ffb300 438px,#ffb300 444px,#b3ff4c 448px,#b3ff4c 454px,#80ff80 458px,#80ff80 494px,#b3ff4c 498px,#b3ff4c 504px,#80ff80 508px,#80ff80 514px,#8cff73 518px,#8cff73 524px,#99ff66 528px,#99ff66 534px,#b3ff4c 538px,#b3ff4c 544px,#80ff80 548px,#80ff80 554px,#b3ff4c 558px,#b3ff4c 564px,#ccff33 568px,#ccff33 574px,#8cff73 578px,#8cff73 584px,#f2ff0d 588px,#f2ff0d 594px,#b3ff4c 598px,#b3ff4c 604px,#80ff80 608px,#80ff80 634px,#b3ff4c 638px,#b3ff4c 644px,#80ff80 648px,#80ff80 654px,#b3ff4c 658px,#b3ff4c 684px,#8cff73 688px,#8cff73 694px,#d9ff26 698px,#d9ff26 704px,#b3ff4c 708px,#b3ff4c 714px,#8cff73 718px,#8cff73 724px,#80ff80 728px,#80ff80 734px,#b3ff4c 738px,#b3ff4c 744px,#d9ff26 748px,#d9ff26 754px,#b3ff4c 758px,#b3ff4c 764px,#ccff33 768px,#ccff33 774px,#8cff73 778px,#8cff73 784px,#ccff33 788px,#ccff33 794px,#b3ff4c 798px,#b3ff4c 804px,#ccff33 808px,#ccff33 814px,#ffd900 818px,#ffd900 824px,#b3ff4c 828px,#b3ff4c 844px,#a6ff59 848px,#a6ff59 854px,#8cff73 858px,#8cff73 864px,#80ff80 868px,#80ff80 884px,#b3ff4c 888px,#b3ff4c 894px,#80ff80 898px,#80ff80 904px,#8cff73 908px,#8cff73 914px,#ccff33 918px,#ccff33 924px,#b3ff4c 928px,#b3ff4c 934px,#d9ff26 938px,#d9ff26 944px,#f2ff0d 948px,#f2ff0d 954px,#ffd900 958px,#ffd900 974px,#8cff73 978px,#8cff73 984px,#b3ff4c 988px,#b3ff4c 994px,#ffb300 998px,#ffb300 1004px,#b3ff4c 1008px,#b3ff4c 1024px,#8cff73 1028px,#8cff73 1044px,#b3ff4c 1048px,#b3ff4c 1064px,#80ff80 1068px,#80ff80 1114px,#b3ff4c 1118px,#b3ff4c 1134px,#80ff80 1138px,#80ff80 1164px,#b3ff4c 1168px,#b3ff4c 1174px,#8cff73 1178px,#8cff73 1184px,#b3ff4c 1188px,#b3ff4c 1194px,#80ff80 1198px,#80ff80 1214px,#b3ff4c 1218px,#b3ff4c 1224px,#8cff73 1228px,#8cff73 1234px,#80ff80 1238px,#80ff80 1264px,#99ff66 1268px,#99ff66 1274px,#b3ff4c 1278px,#b3ff4c 1300px)"></div>
<div style="height:10px;background:linear-gradient(90deg,#80ff80 0px,#80ff80 44px,#8cff73 48px,#8cff73 54px,#80ff80 58px,#80ff80 64px,#b3ff4c 68px,#b3ff4c 74px,#e5ff1a 78px,#e5ff1a 84px,#a6ff59 88px,#a6ff59 94px,#8cff73 98px,#8cff73 114px,#b3ff4c 118px,#b3ff4c 124px,#f2ff0d 128px,#f2ff0d 134px,#b3ff4c 138px,#b3ff4c 144px,#80ff80 148px,#80ff80 174px,#b3ff4c 178px,#b3ff4c 194px,#80ff80 198px,#80ff80 204px,#bfff40 208px,#bfff40 214px,#b3ff4c 218px,#b3ff4c 224px,#80ff80 228px,#80ff80 244px,#8cff73 248px,#8cff73 254px,#80ff80 258px,#80ff80 264px,#8cff73 268px,#8cff73 274px,#80ff80 278px,#80ff80 294px,#a6ff59 298px,#a6ff59 304px,#80ff80 308px,#80ff80 314px,#8cff73 318px,#8cff73 324px,#80ff80 328px,#80ff80 344px,#b3ff4c 348px,#b3ff4c 354px,#80ff80 358px,#80ff80 374px,#a6ff59 378px,#a6ff59 384px,#80ff80 388px,#80ff80 414px,#b3ff4c 418px,#b3ff4c 424px,#ffe500 428px,#ffe500 434px,#f2ff0d 438px,#f2ff0d 444px,#a6ff59 448px,#a6ff59 454px,#80ff80 458px,#80ff80 494px,#a6ff59 498px,#a6ff59 504px,#80ff80 508px,#80ff80 524px,#b3ff4c 528px,#b3ff4c 534px,#bfff40 538px,#bfff40 544px,#8cff73 548px,#8cff73 554px,#a6ff59 558px,#a6ff59 574px,#8cff73 578px,#8cff73 584px,#f2ff0d 588px,#f2ff0d 594px,#bfff40 598px,#bfff40 604px,#80ff80 608px,#80ff80 634px,#a6ff59 638px,#a6ff59 644px,#80ff80 648px,#80ff80 654px,#a6ff59 658px,#a6ff59 674px,#b3ff4c 678px,#b3ff4c 684px,#8cff73 688px,#8cff73 694px,#e5ff1a 698px,#e5ff1a 704px,#b3ff4c 708px,#b3ff4c 714px,#8cff73 718px,#8cff73 724px,#80ff80 728px,#80ff80 734px,#a6ff59 738px,#a6ff59 744px,#f2ff0d 748px,#f2ff0d 754px,#bfff40 758px,#bfff40 764px,#b3ff4c 768px,#b3ff4c 774px,#80ff80 778px,#80ff80 784px,#a6ff59 788px,#a6ff59 794px,#b3ff4c 798px,#b3ff4c 804px,#ccff33 808px,#ccff33 814px,#e5ff1a 818px,#e5ff1a 824px,#a6ff59 828px,#a6ff59 834px,#b3ff4c 838px,#b3ff4c 844px,#8cff73 848px,#8cff73 854px,#80ff80 858px,#80ff80 874px,#8cff73 878px,#8cff73 884px,#b3ff4c 888px,#b3ff4c 894px,#80ff80 898px,#80ff80 904px,#8cff73 908px,#8cff73 914px,#a6ff59 918px,#a6ff59 934px,#e5ff1a 938px,#e5ff1a 954px,#b3ff4c 958px,#b3ff4c 974px,#8cff73 978px,#8cff73 984px,#a6ff59 988px,#a6ff59 994px,#e5ff1a 998px,#e5ff1a 1004px,#b3ff4c 1008px,#b3ff4c 1014px,#a6ff59 1018px,#a6ff59 1024px,#80ff80 1028px,#80ff80 1034px,#8cff73 1038px,#8cff73 1044px,#b3ff4c 1048px,#b3ff4c 1054px,#a6ff59 1058px,#a6ff59 1064px,#8cff73 1068px,#8cff73 1074px,#80ff80 1078px,#80ff80 1094px,#8cff73 1098px,#8cff73 1104px,#80ff80 1108px,#80ff80 1114px,#b3ff4c 1118px,#b3ff4c 1134px,#80ff80 1138px,#80ff80 1164px,#b3ff4c 1168px,#b3ff4c 1174px,#80ff80 1178px,#80ff80 1184px,#a6ff59 1188px,#a6ff59 1194px,#80ff80 1198px,#80ff80 1204px,#8cff73 1208px,#8cff73 1214px,#a6ff59 1218px,#a6ff59 1224px,#80ff80 1228px,#80ff80 1264px,#a6ff59 1268px,#a6ff59 1300px)"></div>
<div style="height:10px;background:linear-gradient(90deg,#80ff80 0px,#80ff80 44px,#99ff66 48px,#99ff66 54px,#80ff80 58px,#80ff80 64px,#b3ff4c 68px,#b3ff4c 74px,#ccff33 78px,#ccff33 84px,#8cff73 88px,#8cff73 94px,#99ff66 98px,#99ff66 114px,#b3ff4c 118px,#b3ff4c 124px,#f2ff0d 128px,#f2ff0d 134px,#b3ff4c 138px,#b3ff4c 144px,#80ff80 148px,#80ff80 174px,#b3ff4c 178px,#b3ff4c 194px,#80ff80 198px,#80ff80 204px,#d9ff26 208px,#d9ff26 214px,#b3ff4c 218px,#b3ff4c 224px,#80ff80 228px,#80ff80 244px,#99ff66 248px,#99ff66 254px,#80ff80 258px,#80ff80 264px,#99ff66 268px,#99ff66 274px,#80ff80 278px,#80ff80 294px,#8cff73 298px,#8cff73 304px,#80ff80 308px,#80ff80 314px,#99ff66 318px,#99ff66 324px,#80ff80 328px,#80ff80 344px,#b3ff4c 348px,#b3ff4c 354px,#80ff80 358px,#80ff80 374px,#8cff73 378px,#8cff73 384px,#80ff80 388px,#80ff80 414px,#b3ff4c 418px,#b3ff4c 424px,#ff5900 428px,#ff5900 434px,#f2ff0d 438px,#f2ff0d 444px,#8cff73 448px,#8cff73 454px,#80ff80 458px,#80ff80 494px,#8cff73 498px,#8cff73 504px,#80ff80 508px,#80ff80 524px,#b3ff4c 528px,#b3ff4c 534px,#d9ff26 538px,#d9ff26 544px,#99ff66 548px,#99ff66 554px,#8cff73 558px,#8cff73 574px,#99ff66 578px,#99ff66 584px,#f2ff0d 588px,#f2ff0d 594px,#d9ff26 598px,#d9ff26 604px,#80ff80 608px,#80ff80 634px,#8cff73 638px,#8cff73 644px,#80ff80 648px,#80ff80 654px,#8cff73 658px,#8cff73 674px,#b3ff4c 678px,#b3ff4c 684px,#99ff66 688px,#99ff66 694px,#ccff33 698px,#ccff33 704px,#b3ff4c 708px,#b3ff4c 714px,#99ff66 718px,#99ff66 724px,#80ff80 728px,#80ff80 734px,#8cff73 738px,#8cff73 744px,#f2ff0d 748px,#f2ff0d 754px,#d9ff26 758px,#d9ff26 764px,#b3ff4c 768px,#b3ff4c 774px,#80ff80 778px,#80ff80 784px,#8cff73 788px,#8cff73 794px,#b3ff4c 798px,#b3ff4c 804px,#ffcc00 808px,#ffcc00 814px,#ccff33 818px,#ccff33 824px,#8cff73 828px,#8cff73 834px,#b3ff4c 838px,#b3ff4c 844px,#99ff66 848px,#99ff66 854px,#80ff80 858px,#80ff80 874px,#99ff66 878px,#99ff66 884px,#b3ff4c 888px,#b3ff4c 894px,#80ff80 898px,#80ff80 904px,#99ff66 908px,#99ff66 914px,#8cff73 918px,#8cff73 934px,#ccff33 938px,#ccff33 944px,#a6ff59 948px,#a6ff59 954px,#b3ff4c 958px,#b3ff4c 974px,#99ff66 978px,#99ff66 984px,#8cff73 988px,#8cff73 994px,#a6ff59 998px,#a6ff59 1004px,#b3ff4c 1008px,#b3ff4c 1014px,#8cff73 1018px,#8cff73 1024px,#80ff80 1028px,#80ff80 1034px,#99ff66 1038px,#99ff66 1044px,#b3ff4c 1048px,#b3ff4c 1054px,#8cff73 1058px,#8cff73 1064px,#99ff66 1068px,#99ff66 1074px,#80ff80 1078px,#80ff80 1094px,#ccff33 1098px,#ccff33 1104px,#80ff80 1108px,#80ff80 1114px,#b3ff4c 1118px,#b3ff4c 1134px,#80ff80 1138px,#80ff80 1164px,#b3ff4c 1168px,#b3ff4c 1174px,#80ff80 1178px,#80ff80 1184px,#8cff73 1188px,#8cff73 1194px,#80ff80 1198px,#80ff80 1204px,#99ff66 1208px,#99ff66 1214px,#8cff73 1218px,#8cff73 1224px,#80ff80 1228px,#80ff80 1264px,#8cff73 1268px,#8cff73 1300px)"></div>
<div style="height:10px;background:linear-gradient(90deg,#80ff80 0px,#80ff80 24px,#8cff73 28px,#8cff73 34px,#80ff80 38px,#80ff80 44px,#b3ff4c 48px,#b3ff4c 54px,#80ff80 58px,#80ff80 64px,#a6ff59 68px,#a6ff59 74px,#b3ff4c 78px,#b3ff4c 84px,#80ff80 88px,#80ff80 94px,#b3ff4c 98px,#b3ff4c 114px,#bfff40 118px,#bfff40 124px,#fff200 128px,#fff200 134px,#bfff40 138px,#bfff40 144px,#80ff80 148px,#80ff80 174px,#b3ff4c 178px,#b3ff4c 184px,#a6ff59 188px,#a6ff59 194px,#80ff80 198px,#80ff80 204px,#f2ff0d 208px,#f2ff0d 214px,#b3ff4c 218px,#b3ff4c 224px,#80ff80 228px,#80ff80 234px,#8cff73 238px,#8cff73 244px,#a6ff59 248px,#a6ff59 254px,#8cff73 258px,#8cff73 264px,#a6ff59 268px,#a6ff59 274px,#80ff80 278px,#80ff80 314px,#b3ff4c 318px,#b3ff4c 324px,#8cff73 328px,#8cff73 344px,#b3ff4c 348px,#b3ff4c 354px,#80ff80 358px,#80ff80 404px,#8cff73 408px,#8cff73 414px,#bfff40 418px,#bfff40 424px,#f20000 428px,#f20000 434px,#f2ff0d 438px,#f2ff0d 444px,#8cff73 448px,#8cff73 454px,#80ff80 458px,#80ff80 474px,#8cff73 478px,#8cff73 504px,#80ff80 508px,#80ff80 524px,#b3ff4c 528px,#b3ff4c 534px,#f2ff0d 538px,#f2ff0d 544px,#b3ff4c 548px,#b3ff4c 554px,#8cff73 558px,#8cff73 564px,#80ff80 568px,#80ff80 574px,#b3ff4c 578px,#b3ff4c 584px,#f2ff0d 588px,#f2ff0d 594px,#e5ff1a 598px,#e5ff1a 604px,#80ff80 608px,#80ff80 674px,#a6ff59 678px,#a6ff59 684px,#b3ff4c 688px,#b3ff4c 724px,#80ff80 728px,#80ff80 744px,#f2ff0d 748px,#f2ff0d 764px,#a6ff59 768px,#a6ff59 774px,#80ff80 778px,#80ff80 794px,#b3ff4c 798px,#b3ff4c 804px,#ff6600 808px,#ff6600 814px,#bfff40 818px,#bfff40 824px,#8cff73 828px,#8cff73 834px,#b3ff4c 838px,#b3ff4c 844px,#a6ff59 848px,#a6ff59 854px,#8cff73 858px,#8cff73 864px,#80ff80 868px,#80ff80 874px,#b3ff4c 878px,#b3ff4c 894px,#80ff80 898px,#80ff80 904px,#b3ff4c 908px,#b3ff4c 914px,#80ff80 918px,#80ff80 934px,#a6ff59 938px,#a6ff59 944px,#80ff80 948px,#80ff80 954px,#b3ff4c 958px,#b3ff4c 964px,#bfff40 968px,#bfff40 974px,#b3ff4c 978px,#b3ff4c 984px,#80ff80 988px,#80ff80 1004px,#a6ff59 1008px,#a6ff59 1014px,#8cff73 1018px,#8cff73 1024px,#80ff80 1028px,#80ff80 1034px,#a6ff59 1038px,#a6ff59 1054px,#80ff80 1058px,#80ff80 1064px,#a6ff59 1068px,#a6ff59 1074px,#8cff73 1078px,#8cff73 1094px,#f2ff0d 1098px,#f2ff0d 1104px,#8cff73 1108px,#8cff73 1114px,#b3ff4c 1118px,#b3ff4c 1134px,#80ff80 1138px,#80ff80 1164px,#b3ff4c 1168px,#b3ff4c 1174px,#80ff80 1178px,#80ff80 1184px,#8cff73 1188px,#8cff73 1204px,#b3ff4c 1208px,#b3ff4c 1214px,#80ff80 1218px,#80ff80 1244px,#8cff73 1248px,#8cff73 1254px,#80ff80 1258px,#80ff80 1274px,#8cff73 1278px,#8cff73 1300px)"></div>
<div style="height:10px;background:linear-gradient(90deg,#80ff80 0px,#80ff80 24px,#99ff66 28px,#99ff66 34px,#80ff80 38px,#80ff80 44px,#b3ff4c 48px,#b3ff4c 54px,#80ff80 58px,#80ff80 64px,#8cff73 68px,#8cff73 74px,#b3ff4c 78px,#b3ff4c 84px,#80ff80 88px,#80ff80 94px,#b3ff4c 98px,#b3ff4c 114px,#d9ff26 118px,#d9ff26 124px,#ffb300 128px,#ffb300 134px,#d9ff26 138px,#d9ff26 144px,#80ff80 148px,#80ff80 174px,#b3ff4c 178px,#b3ff4c 184px,#8cff73 188px,#8cff73 194px,#80ff80 198px,#80ff80 204px,#f2ff0d 208px,#f2ff0d 214px,#b3ff4c 218px,#b3ff4c 224px,#80ff80 228px,#80ff80 234px,#99ff66 238px,#99ff66 244px,#8cff73 248px,#8cff73 254px,#99ff66 258px,#99ff66 264px,#8cff73 268px,#8cff73 274px,#80ff80 278px,#80ff80 314px,#b3ff4c 318px,#b3ff4c 324px,#99ff66 328px,#99ff66 344px,#b3ff4c 348px,#b3ff4c 354px,#80ff80 358px,#80ff80 404px,#99ff66 408px,#99ff66 414px,#d9ff26 418px,#d9ff26 424px,#d90000 428px,#d90000 434px,#f2ff0d 438px,#f2ff0d 444px,#99ff66 448px,#99ff66 454px,#80ff80 458px,#80ff80 474px,#99ff66 478px,#99ff66 504px,#80ff80 508px,#80ff80 524px,#b3ff4c 528px,#b3ff4c 534px,#f2ff0d 538px,#f2ff0d 544px,#b3ff4c 548px,#b3ff4c 554px,#99ff66 558px,#99ff66 564px,#80ff80 568px,#80ff80 574px,#b3ff4c 578px,#b3ff4c 584px,#f2ff0d 588px,#f2ff0d 594px,#ccff33 598px,#ccff33 604px,#80ff80 608px,#80ff80 674px,#8cff73 678px,#8cff73 684px,#b3ff4c 688px,#b3ff4c 724px,#80ff80 728px,#80ff80 744px,#f2ff0d 748px,#f2ff0d 764px,#8cff73 768px,#8cff73 774px,#80ff80 778px,#80ff80 794px,#b3ff4c 798px,#b3ff4c 804px,#ff2600 808px,#ff2600 814px,#d9ff26 818px,#d9ff26 824px,#99ff66 828px,#99ff66 834px,#b3ff4c 838px,#b3ff4c 844px,#8cff73 848px,#8cff73 854px,#99ff66 858px,#99ff66 864px,#80ff80 868px,#80ff80 874px,#b3ff4c 878px,#b3ff4c 894px,#80ff80 898px,#80ff80 904px,#b3ff4c 908px,#b3ff4c 914px,#80ff80 918px,#80ff80 934px,#8cff73 938px,#8cff73 944px,#80ff80 948px,#80ff80 954px,#b3ff4c 958px,#b3ff4c 964px,#d9ff26 968px,#d9ff26 974px,#b3ff4c 978px,#b3ff4c 984px,#80ff80 988px,#80ff80 1004px,#8cff73 1008px,#8cff73 1014px,#99ff66 1018px,#99ff66 1024px,#80ff80 1028px,#80ff80 1034px,#8cff73 1038px,#8cff73 1054px,#80ff80 1058px,#80ff80 1064px,#8cff73 1068px,#8cff73 1074px,#99ff66 1078px,#99ff66 1094px,#f2ff0d 1098px,#f2ff0d 1104px,#99ff66 1108px,#99ff66 1114px,#b3ff4c 1118px,#b3ff4c 1134px,#80ff80 1138px,#80ff80 1164px,#b3ff4c 1168px,#b3ff4c 1174px,#80ff80 1178px,#80ff80 1184px,#99ff66 1188px,#99ff66 1204px,#b3ff4c 1208px,#b3ff4c 1214px,#80ff80 1218px,#80ff80 1244px,#99ff66 1248px,#99ff66 1254px,#80ff80 1258px,#80ff80 1274px,#99ff66 1278px,#99ff66 1300px)"></div>
<div style="height:10px;background:linear-gradient(90deg,#80ff80 0px,#80ff80 24px,#bfff40 28px,#bfff40 34px,#8cff73 38px,#8cff73 44px,#a6ff59 48px,#a6ff59 54px,#80ff80 58px,#80ff80 64px,#8cff73 68px,#8cff73 74px,#b3ff4c 78px,#b3ff4c 84px,#80ff80 88px,#80ff80 94px,#b3ff4c 98px,#b3ff4c 114px,#f2ff0d 118px,#f2ff0d 124px,#ff8000 128px,#ff8000 134px,#f2ff0d 138px,#f2ff0d 144px,#8cff73 148px,#8cff73 154px,#80ff80 158px,#80ff80 174px,#b3ff4c 178px,#b3ff4c 184px,#80ff80 188px,#80ff80 194px,#8cff73 198px,#8cff73 204px,#e5ff1a 208px,#e5ff1a 214px,#a6ff59 218px,#a6ff59 224px,#80ff80 228px,#80ff80 234px,#a6ff59 238px,#a6ff59 244px,#8cff73 248px,#8cff73 254px,#b3ff4c 258px,#b3ff4c 264px,#80ff80 268px,#80ff80 314px,#b3ff4c 318px,#b3ff4c 324px,#bfff40 328px,#bfff40 334px,#b3ff4c 338px,#b3ff4c 344px,#a6ff59 348px,#a6ff59 354px,#80ff80 358px,#80ff80 394px,#8cff73 398px,#8cff73 404px,#b3ff4c 408px,#b3ff4c 414px,#f2ff0d 418px,#f2ff0d 424px,#d90000 428px,#d90000 434px,#f2ff0d 438px,#f2ff0d 444px,#a6ff59 448px,#a6ff59 454px,#80ff80 458px,#80ff80 474px,#bfff40 478px,#bfff40 484px,#b3ff4c 488px,#b3ff4c 504px,#80ff80 508px,#80ff80 524px,#b3ff4c 528px,#b3ff4c 534px,#f2ff0d 538px,#f2ff0d 544px,#b3ff4c 548px,#b3ff4c 554px,#bfff40 558px,#bfff40 564px,#8cff73 568px,#8cff73 574px,#a6ff59 578px,#a6ff59 584px,#e5ff1a 588px,#e5ff1a 594px,#bfff40 598px,#bfff40 604px,#80ff80 608px,#80ff80 674px,#8cff73 678px,#8cff73 684px,#b3ff4c 688px,#b3ff4c 694px,#bfff40 698px,#bfff40 704px,#b3ff4c 708px,#b3ff4c 724px,#80ff80 728px,#80ff80 744px,#e5ff1a 748px,#e5ff1a 764px,#80ff80 768px,#80ff80 774px,#8cff73 778px,#8cff73 784px,#80ff80 788px,#80ff80 794px,#b3ff4c 798px,#b3ff4c 804px,#ff0000 808px,#ff0000 814px,#f2ff0d 818px,#f2ff0d 824px,#b3ff4c 828px,#b3ff4c 844px,#8cff73 848px,#8cff73 854px,#b3ff4c 858px,#b3ff4c 864px,#80ff80 868px,#80ff80 874px,#a6ff59 878px,#a6ff59 884px,#b3ff4c 888px,#b3ff4c 894px,#8cff73 898px,#8cff73 904px,#bfff40 908px,#bfff40 914px,#80ff80 918px,#80ff80 934px,#8cff73 938px,#8cff73 954px,#bfff40 958px,#bfff40 964px,#f2ff0d 968px,#f2ff0d 974px,#b3ff4c 978px,#b3ff4c 984px,#8cff73 988px,#8cff73 1014px,#bfff40 1018px,#bfff40 1024px,#80ff80 1028px,#80ff80 1034px,#8cff73 1038px,#8cff73 1054px,#80ff80 1058px,#80ff80 1074px,#a6ff59 1078px,#a6ff59 1094px,#e5ff1a 1098px,#e5ff1a 1104px,#a6ff59 1108px,#a6ff59 1114px,#b3ff4c 1118px,#b3ff4c 1124px,#a6ff59 1128px,#a6ff59 1134px,#80ff80 1138px,#80ff80 1164px,#b3ff4c 1168px,#b3ff4c 1174px,#80ff80 1178px,#80ff80 1184px,#b3ff4c 1188px,#b3ff4c 1194px,#a6ff59 1198px,#a6ff59 1214px,#80ff80 1218px,#80ff80 1234px,#8cff73 1238px,#8cff73 1244px,#a6ff59 1248px,#a6ff59 1254px,#80ff80 1258px,#80ff80 1264px,#8cff73 1268px,#8cff73 1274px,#b3ff4c 1278px,#b3ff4c 1300px)"></div>
<div style="height:10px;background:linear-gradient(90deg,#80ff80 0px,#80ff80 24px,#d9ff26 28px,#d9ff26 34px,#99ff66 38px,#99ff66 44px,#8cff73 48px,#8cff73 54px,#80ff80 58px,#80ff80 64px,#99ff66 68px,#99ff66 74px,#b3ff4c 78px,#b3ff4c 84px,#80ff80 88px,#80ff80 94px,#b3ff4c 98px,#b3ff4c 114px,#f2ff0d 118px,#f2ff0d 124px,#ff8000 128px,#ff8000 134px,#f2ff0d 138px,#f2ff0d 144px,#99ff66 148px,#99ff66 154px,#80ff80 158px,#80ff80 174px,#b3ff4c 178px,#b3ff4c 184px,#80ff80 188px,#80ff80 194px,#99ff66 198px,#99ff66 204px,#ccff33 208px,#ccff33 214px,#8cff73 218px,#8cff73 224px,#80ff80 228px,#80ff80 234px,#8cff73 238px,#8cff73 244px,#99ff66 248px,#99ff66 254px,#b3ff4c 258px,#b3ff4c 264px,#80ff80 268px,#80ff80 314px,#b3ff4c 318px,#b3ff4c 324px,#d9ff26 328px,#d9ff26 334px,#b3ff4c 338px,#b3ff4c 344px,#8cff73 348px,#8cff73 354px,#80ff80 358px,#80ff80 394px,#99ff66 398px,#99ff66 404px,#b3ff4c 408px,#b3ff4c 414px,#f2ff0d 418px,#f2ff0d 424px,#ff4000 428px,#ff4000 434px,#f2ff0d 438px,#f2ff0d 444px,#8cff73 448px,#8cff73 454px,#80ff80 458px,#80ff80 474px,#d9ff26 478px,#d9ff26 484px,#b3ff4c 488px,#b3ff4c 504px,#80ff80 508px,#80ff80 524px,#b3ff4c 528px,#b3ff4c 534px,#f2ff0d 538px,#f2ff0d 544px,#b3ff4c 548px,#b3ff4c 554px,#d9ff26 558px,#d9ff26 564px,#99ff66 568px,#99ff66 574px,#8cff73 578px,#8cff73 584px,#ccff33 588px,#ccff33 594px,#d9ff26 598px,#d9ff26 604px,#80ff80 608px,#80ff80 674px,#99ff66 678px,#99ff66 684px,#b3ff4c 688px,#b3ff4c 694px,#d9ff26 698px,#d9ff26 704px,#b3ff4c 708px,#b3ff4c 724px,#80ff80 728px,#80ff80 744px,#ccff33 748px,#ccff33 764px,#80ff80 768px,#80ff80 774px,#99ff66 778px,#99ff66 784px,#80ff80 788px,#80ff80 794px,#b3ff4c 798px,#b3ff4c 804px,#ff0000 808px,#ff0000 814px,#f2ff0d 818px,#f2ff0d 824px,#b3ff4c 828px,#b3ff4c 844px,#ccff33 848px,#ccff33 854px,#b3ff4c 858px,#b3ff4c 864px,#80ff80 868px,#80ff80 874px,#8cff73 878px,#8cff73 884px,#b3ff4c 888px,#b3ff4c 894px,#99ff66 898px,#99ff66 904px,#d9ff26 908px,#d9ff26 914px,#80ff80 918px,#80ff80 934px,#99ff66 938px,#99ff66 954px,#d9ff26 958px,#d9ff26 964px,#f2ff0d 968px,#f2ff0d 974px,#b3ff4c 978px,#b3ff4c 984px,#99ff66 988px,#99ff66 1014px,#d9ff26 1018px,#d9ff26 1024px,#80ff80 1028px,#80ff80 1034px,#99ff66 1038px,#99ff66 1054px,#80ff80 1058px,#80ff80 1074px,#8cff73 1078px,#8cff73 1094px,#ccff33 1098px,#ccff33 1104px,#8cff73 1108px,#8cff73 1114px,#b3ff4c 1118px,#b3ff4c 1124px,#8cff73 1128px,#8cff73 1134px,#80ff80 1138px,#80ff80 1164px,#b3ff4c 1168px,#b3ff4c 1174px,#80ff80 1178px,#80ff80 1184px,#b3ff4c 1188px,#b3ff4c 1194px,#8cff73 1198px,#8cff73 1214px,#80ff80 1218px,#80ff80 1234px,#99ff66 1238px,#99ff66 1244px,#8cff73 1248px,#8cff73 1254px,#80ff80 1258px,#80ff80 1264px,#99ff66 1268px,#99ff66 1274px,#b3ff4c 1278px,#b3ff4c 1300px)"></div>
<div style="height:10px;background:linear-gradient(90deg,#80ff80 0px,#80ff80 24px,#f2ff0d 28px,#f2ff0d 34px,#b3ff4c 38px,#b3ff4c 44px,#80ff80 48px,#80ff80 64px,#a6ff59 68px,#a6ff59 74px,#b3ff4c 78px,#b3ff4c 84px,#8cff73 88px,#8cff73 94px,#b3ff4c 98px,#b3ff4c 114px,#fff200 118px,#fff200 124px,#ff5900 128px,#ff5900 134px,#fff200 138px,#fff200 144px,#b3ff4c 148px,#b3ff4c 154px,#80ff80 158px,#80ff80 174px,#a6ff59 178px,#a6ff59 184px,#8cff73 188px,#8cff73 194px,#a6ff59 198px,#a6ff59 214px,#80ff80 218px,#80ff80 244px,#a6ff59 248px,#a6ff59 254px,#b3ff4c 258px,#b3ff4c 264px,#80ff80 268px,#80ff80 274px,#8cff73 278px,#8cff73 294px,#80ff80 298px,#80ff80 314px,#a6ff59 318px,#a6ff59 324px,#e5ff1a 328px,#e5ff1a 334px,#b3ff4c 338px,#b3ff4c 344px,#8cff73 348px,#8cff73 354px,#80ff80 358px,#80ff80 374px,#8cff73 378px,#8cff73 394px,#a6ff59 398px,#a6ff59 404px,#b3ff4c 408px,#b3ff4c 414px,#f2ff0d 418px,#f2ff0d 424px,#ff9900 428px,#ff9900 434px,#f2ff0d 438px,#f2ff0d 444px,#80ff80 448px,#80ff80 464px,#8cff73 468px,#8cff73 474px,#f2ff0d 478px,#f2ff0d 484px,#b3ff4c 488px,#b3ff4c 494px,#bfff40 498px,#bfff40 504px,#8cff73 508px,#8cff73 514px,#80ff80 518px,#80ff80 524px,#b3ff4c 528px,#b3ff4c 534px,#e5ff1a 538px,#e5ff1a 544px,#b3ff4c 548px,#b3ff4c 554px,#f2ff0d 558px,#f2ff0d 564px,#b3ff4c 568px,#b3ff4c 574px,#80ff80 578px,#80ff80 584px,#bfff40 588px,#bfff40 594px,#e5ff1a 598px,#e5ff1a 604px,#80ff80 608px,#80ff80 674px,#a6ff59 678px,#a6ff59 684px,#b3ff4c 688px,#b3ff4c 694px,#e5ff1a 698px,#e5ff1a 704px,#bfff40 708px,#bfff40 714px,#b3ff4c 718px,#b3ff4c 724px,#80ff80 728px,#80ff80 734px,#8cff73 738px,#8cff73 744px,#bfff40 748px,#bfff40 754px,#b3ff4c 758px,#b3ff4c 764px,#8cff73 768px,#8cff73 774px,#b3ff4c 778px,#b3ff4c 784px,#8cff73 788px,#8cff73 794px,#b3ff4c 798px,#b3ff4c 804px,#ff2600 808px,#ff2600 814px,#e5ff1a 818px,#e5ff1a 824px,#b3ff4c 828px,#b3ff4c 844px,#f2ff0d 848px,#f2ff0d 854px,#b3ff4c 858px,#b3ff4c 864px,#80ff80 868px,#80ff80 884px,#b3ff4c 888px,#b3ff4c 904px,#f2ff0d 908px,#f2ff0d 914px,#8cff73 918px,#8cff73 934px,#bfff40 938px,#bfff40 944px,#b3ff4c 948px,#b3ff4c 954px,#e5ff1a 958px,#e5ff1a 974px,#bfff40 978px,#bfff40 984px,#b3ff4c 988px,#b3ff4c 1014px,#e5ff1a 1018px,#e5ff1a 1024px,#8cff73 1028px,#8cff73 1034px,#b3ff4c 1038px,#b3ff4c 1054px,#8cff73 1058px,#8cff73 1074px,#80ff80 1078px,#80ff80 1094px,#a6ff59 1098px,#a6ff59 1104px,#80ff80 1108px,#80ff80 1114px,#a6ff59 1118px,#a6ff59 1124px,#80ff80 1128px,#80ff80 1144px,#8cff73 1148px,#8cff73 1154px,#80ff80 1158px,#80ff80 1164px,#b3ff4c 1168px,#b3ff4c 1174px,#80ff80 1178px,#80ff80 1184px,#a6ff59 1188px,#a6ff59 1194px,#80ff80 1198px,#80ff80 1204px,#8cff73 1208px,#8cff73 1214px,#80ff80 1218px,#80ff80 1234px,#b3ff4c 1238px,#b3ff4c 1244px,#80ff80 1248px,#80ff80 1264px,#a6ff59 1268px,#a6ff59 1300px)"></div>
<div style="height:10px;background:linear-gradient(90deg,#80ff80 0px,#80ff80 24px,#f2ff0d 28px,#f2ff0d 34px,#b3ff4c 38px,#b3ff4c 44px,#80ff80 48px,#80ff80 64px,#8cff73 68px,#8cff73 74px,#b3ff4c 78px,#b3ff4c 84px,#99ff66 88px,#99ff66 94px,#b3ff4c 98px,#b3ff4c 114px,#ffb300 118px,#ffb300 124px,#d90000 128px,#d90000 134px,#ffb300 138px,#ffb300 144px,#b3ff4c 148px,#b3ff4c 154px,#80ff80 158px,#80ff80 174px,#8cff73 178px,#8cff73 184px,#99ff66 188px,#99ff66 194px,#8cff73 198px,#8cff73 214px,#80ff80 218px,#80ff80 244px,#8cff73 248px,#8cff73 254px,#b3ff4c 258px,#b3ff4c 264px,#80ff80 268px,#80ff80 274px,#99ff66 278px,#99ff66 294px,#80ff80 298px,#80ff80 314px,#8cff73 318px,#8cff73 324px,#ccff33 328px,#ccff33 334px,#b3ff4c 338px,#b3ff4c 344px,#99ff66 348px,#99ff66 354px,#80ff80 358px,#80ff80 374px,#99ff66 378px,#99ff66 394px,#8cff73 398px,#8cff73 404px,#b3ff4c 408px,#b3ff4c 414px,#f2ff0d 418px,#f2ff0d 424px,#ffd900 428px,#ffd900 434px,#f2ff0d 438px,#f2ff0d 444px,#80ff80 448px,#80ff80 464px,#99ff66 468px,#99ff66 474px,#f2ff0d 478px,#f2ff0d 484px,#b3ff4c 488px,#b3ff4c 494px,#d9ff26 498px,#d9ff26 504px,#ccff33 508px,#ccff33 514px,#80ff80 518px,#80ff80 524px,#b3ff4c 528px,#b3ff4c 534px,#ccff33 538px,#ccff33 544px,#b3ff4c 548px,#b3ff4c 554px,#f2ff0d 558px,#f2ff0d 564px,#b3ff4c 568px,#b3ff4c 574px,#80ff80 578px,#80ff80 584px,#d9ff26 588px,#d9ff26 594px,#ccff33 598px,#ccff33 604px,#80ff80 608px,#80ff80 674px,#8cff73 678px,#8cff73 684px,#b3ff4c 688px,#b3ff4c 694px,#ccff33 698px,#ccff33 704px,#d9ff26 708px,#d9ff26 714px,#b3ff4c 718px,#b3ff4c 724px,#80ff80 728px,#80ff80 734px,#99ff66 738px,#99ff66 744px,#d9ff26 748px,#d9ff26 754px,#b3ff4c 758px,#b3ff4c 764px,#99ff66 768px,#99ff66 774px,#b3ff4c 778px,#b3ff4c 784px,#ccff33 788px,#ccff33 794px,#b3ff4c 798px,#b3ff4c 804px,#ffb300 808px,#ffb300 814px,#ccff33 818px,#ccff33 824px,#b3ff4c 828px,#b3ff4c 844px,#f2ff0d 848px,#f2ff0d 854px,#b3ff4c 858px,#b3ff4c 864px,#80ff80 868px,#80ff80 884px,#b3ff4c 888px,#b3ff4c 904px,#f2ff0d 908px,#f2ff0d 914px,#99ff66 918px,#99ff66 934px,#d9ff26 938px,#d9ff26 944px,#b3ff4c 948px,#b3ff4c 954px,#ccff33 958px,#ccff33 974px,#d9ff26 978px,#d9ff26 984px,#b3ff4c 988px,#b3ff4c 1014px,#ccff33 1018px,#ccff33 1024px,#99ff66 1028px,#99ff66 1034px,#b3ff4c 1038px,#b3ff4c 1054px,#ccff33 1058px,#ccff33 1064px,#99ff66 1068px,#99ff66 1074px,#80ff80 1078px,#80ff80 1094px,#8cff73 1098px,#8cff73 1104px,#80ff80 1108px,#80ff80 1114px,#8cff73 1118px,#8cff73 1124px,#80ff80 1128px,#80ff80 1144px,#99ff66 1148px,#99ff66 1154px,#80ff80 1158px,#80ff80 1164px,#b3ff4c 1168px,#b3ff4c 1174px,#80ff80 1178px,#80ff80 1184px,#8cff73 1188px,#8cff73 1194px,#80ff80 1198px,#80ff80 1204px,#99ff66 1208px,#99ff66 1214px,#80ff80 1218px,#80ff80 1234px,#b3ff4c 1238px,#b3ff4c 1244px,#80ff80 1248px,#80ff80 1264px,#8cff73 1268px,#8cff73 1300px)"></div>
<div style="height:10px;background:linear-gradient(90deg,#80ff80 0px,#80ff80 24px,#e5ff1a 28px,#e5ff1a 34px,#b3ff4c 38px,#b3ff4c 44px,#80ff80 48px,#80ff80 74px,#b3ff4c 78px,#b3ff4c 84px,#ccff33 88px,#ccff33 94px,#bfff40 98px,#bfff40 114px,#ff6600 118px,#ff6600 124px,#800000 128px,#800000 134px,#ff6600 138px,#ff6600 144px,#b3ff4c 148px,#b3ff4c 154px,#80ff80 158px,#80ff80 184px,#b3ff4c 188px,#b3ff4c 194px,#80ff80 198px,#80ff80 254px,#a6ff59 258px,#a6ff59 264px,#80ff80 268px,#80ff80 274px,#a6ff59 278px,#a6ff59 284px,#b3ff4c 288px,#b3ff4c 294px,#8cff73 298px,#8cff73 324px,#b3ff4c 328px,#b3ff4c 334px,#a6ff59 338px,#a6ff59 344px,#b3ff4c 348px,#b3ff4c 354px,#80ff80 358px,#80ff80 364px,#8cff73 368px,#8cff73 374px,#b3ff4c 378px,#b3ff4c 384px,#a6ff59 388px,#a6ff59 394px,#80ff80 398px,#80ff80 404px,#b3ff4c 408px,#b3ff4c 414px,#fff200 418px,#fff200 424px,#f2ff0d 428px,#f2ff0d 434px,#fff200 438px,#fff200 444px,#8cff73 448px,#8cff73 454px,#80ff80 458px,#80ff80 464px,#a6ff59 468px,#a6ff59 474px,#e5ff1a 478px,#e5ff1a 484px,#a6ff59 488px,#a6ff59 494px,#fff200 498px,#fff200 504px,#f2ff0d 508px,#f2ff0d 514px,#8cff73 518px,#8cff73 524px,#b3ff4c 528px,#b3ff4c 554px,#e5ff1a 558px,#e5ff1a 564px,#a6ff59 568px,#a6ff59 574px,#80ff80 578px,#80ff80 584px,#fff200 588px,#fff200 594px,#b3ff4c 598px,#b3ff4c 604px,#80ff80 608px,#80ff80 634px,#8cff73 638px,#8cff73 644px,#80ff80 648px,#80ff80 654px,#8cff73 658px,#8cff73 674px,#80ff80 678px,#80ff80 684px,#b3ff4c 688px,#b3ff4c 704px,#e5ff1a 708px,#e5ff1a 714px,#b3ff4c 718px,#b3ff4c 724px,#80ff80 728px,#80ff80 734px,#b3ff4c 738px,#b3ff4c 744px,#f2ff0d 748px,#f2ff0d 754px,#b3ff4c 758px,#b3ff4c 774px,#bfff40 778px,#bfff40 784px,#e5ff1a 788px,#e5ff1a 794px,#b3ff4c 798px,#b3ff4c 804px,#e5ff1a 808px,#e5ff1a 814px,#b3ff4c 818px,#b3ff4c 824px,#a6ff59 828px,#a6ff59 834px,#b3ff4c 838px,#b3ff4c 844px,#fff200 848px,#fff200 854px,#b3ff4c 858px,#b3ff4c 864px,#80ff80 868px,#80ff80 884px,#b3ff4c 888px,#b3ff4c 904px,#e5ff1a 908px,#e5ff1a 914px,#b3ff4c 918px,#b3ff4c 924px,#bfff40 928px,#bfff40 934px,#f2ff0d 938px,#f2ff0d 944px,#b3ff4c 948px,#b3ff4c 974px,#fff200 978px,#fff200 984px,#bfff40 988px,#bfff40 994px,#b3ff4c 998px,#b3ff4c 1024px,#a6ff59 1028px,#a6ff59 1044px,#b3ff4c 1048px,#b3ff4c 1054px,#fff200 1058px,#fff200 1064px,#b3ff4c 1068px,#b3ff4c 1074px,#8cff73 1078px,#8cff73 1084px,#80ff80 1088px,#80ff80 1144px,#a6ff59 1148px,#a6ff59 1154px,#80ff80 1158px,#80ff80 1164px,#a6ff59 1168px,#a6ff59 1174px,#80ff80 1178px,#80ff80 1184px,#8cff73 1188px,#8cff73 1194px,#80ff80 1198px,#80ff80 1204px,#bfff40 1208px,#bfff40 1214px,#80ff80 1218px,#80ff80 1234px,#a6ff59 1238px,#a6ff59 1244px,#80ff80 1248px,#80ff80 1274px,#8cff73 1278px,#8cff73 1300px)"></div>
<div style="height:10px;background:linear-gradient(90deg,#80ff80 0px,#80ff80 24px,#ccff33 28px,#ccff33 34px,#b3ff4c 38px,#b3ff4c 44px,#80ff80 48px,#80ff80 74px,#b3ff4c 78px,#b3ff4c 84px,#ffcc00 88px,#ffcc00 94px,#d9ff26 98px,#d9ff26 114px,#ff2600 118px,#ff2600 124px,#800000 128px,#800000 134px,#ff2600 138px,#ff2600 144px,#b3ff4c 148px,#b3ff4c 154px,#80ff80 158px,#80ff80 184px,#b3ff4c 188px,#b3ff4c 194px,#80ff80 198px,#80ff80 254px,#8cff73 258px,#8cff73 264px,#80ff80 268px,#80ff80 274px,#8cff73 278px,#8cff73 284px,#b3ff4c 288px,#b3ff4c 294px,#99ff66 298px,#99ff66 304px,#ccff33 308px,#ccff33 314px,#99ff66 318px,#99ff66 324px,#b3ff4c 328px,#b3ff4c 334px,#8cff73 338px,#8cff73 344px,#b3ff4c 348px,#b3ff4c 354px,#80ff80 358px,#80ff80 364px,#99ff66 368px,#99ff66 374px,#b3ff4c 378px,#b3ff4c 384px,#8cff73 388px,#8cff73 394px,#80ff80 398px,#80ff80 404px,#b3ff4c 408px,#b3ff4c 414px,#ffb300 418px,#ffb300 424px,#f2ff0d 428px,#f2ff0d 434px,#ffb300 438px,#ffb300 444px,#99ff66 448px,#99ff66 454px,#80ff80 458px,#80ff80 464px,#8cff73 468px,#8cff73 474px,#ccff33 478px,#ccff33 484px,#8cff73 488px,#8cff73 494px,#ffb300 498px,#ffb300 504px,#f2ff0d 508px,#f2ff0d 514px,#99ff66 518px,#99ff66 524px,#b3ff4c 528px,#b3ff4c 554px,#ccff33 558px,#ccff33 564px,#8cff73 568px,#8cff73 574px,#80ff80 578px,#80ff80 584px,#ffb300 588px,#ffb300 594px,#b3ff4c 598px,#b3ff4c 604px,#80ff80 608px,#80ff80 634px,#99ff66 638px,#99ff66 644px,#80ff80 648px,#80ff80 654px,#ccff33 658px,#ccff33 664px,#99ff66 668px,#99ff66 674px,#80ff80 678px,#80ff80 684px,#b3ff4c 688px,#b3ff4c 704px,#ccff33 708px,#ccff33 714px,#b3ff4c 718px,#b3ff4c 724px,#80ff80 728px,#80ff80 734px,#b3ff4c 738px,#b3ff4c 744px,#f2ff0d 748px,#f2ff0d 754px,#b3ff4c 758px,#b3ff4c 774px,#d9ff26 778px,#d9ff26 784px,#ccff33 788px,#ccff33 794px,#b3ff4c 798px,#b3ff4c 804px,#ccff33 808px,#ccff33 814px,#b3ff4c 818px,#b3ff4c 824px,#8cff73 828px,#8cff73 834px,#b3ff4c 838px,#b3ff4c 844px,#ffb300 848px,#ffb300 854px,#b3ff4c 858px,#b3ff4c 864px,#80ff80 868px,#80ff80 884px,#b3ff4c 888px,#b3ff4c 904px,#ccff33 908px,#ccff33 914px,#b3ff4c 918px,#b3ff4c 924px,#d9ff26 928px,#d9ff26 934px,#f2ff0d 938px,#f2ff0d 944px,#b3ff4c 948px,#b3ff4c 974px,#ffb300 978px,#ffb300 984px,#d9ff26 988px,#d9ff26 994px,#b3ff4c 998px,#b3ff4c 1024px,#8cff73 1028px,#8cff73 1044px,#b3ff4c 1048px,#b3ff4c 1054px,#ffb300 1058px,#ffb300 1064px,#b3ff4c 1068px,#b3ff4c 1074px,#99ff66 1078px,#99ff66 1084px,#80ff80 1088px,#80ff80 1144px,#8cff73 1148px,#8cff73 1154px,#80ff80 1158px,#80ff80 1164px,#8cff73 1168px,#8cff73 1174px,#80ff80 1178px,#80ff80 1184px,#99ff66 1188px,#99ff66 1194px,#80ff80 1198px,#80ff80 1204px,#d9ff26 1208px,#d9ff26 1214px,#80ff80 1218px,#80ff80 1234px,#8cff73 1238px,#8cff73 1244px,#80ff80 1248px,#80ff80 1274px,#99ff66 1278px,#99ff66 1300px)"></div>
<div style="height:10px;background:linear-gradient(90deg,#80ff80 0px,#80ff80 24px,#b3ff4c 28px,#b3ff4c 34px,#a6ff59 38px,#a6ff59 44px,#80ff80 48px,#80ff80 64px,#8cff73 68px,#8cff73 74px,#bfff40 78px,#bfff40 84px,#ff8000 88px,#ff8000 94px,#fff200 98px,#fff200 104px,#f2ff0d 108px,#f2ff0d 114px,#f20000 118px,#f20000 124px,#800000 128px,#800000 134px,#f20000 138px,#f20000 144px,#b3ff4c 148px,#b3ff4c 154px,#80ff80 158px,#80ff80 174px,#8cff73 178px,#8cff73 184px,#b3ff4c 188px,#b3ff4c 194px,#80ff80 198px,#80ff80 234px,#8cff73 238px,#8cff73 254px,#80ff80 258px,#80ff80 274px,#8cff73 278px,#8cff73 284px,#b3ff4c 288px,#b3ff4c 294px,#bfff40 298px,#bfff40 304px,#f2ff0d 308px,#f2ff0d 314px,#b3ff4c 318px,#b3ff4c 324px,#a6ff59 328px,#a6ff59 334px,#8cff73 338px,#8cff73 344px,#bfff40 348px,#bfff40 354px,#80ff80 358px,#80ff80 364px,#b3ff4c 368px,#b3ff4c 374px,#a6ff59 378px,#a6ff59 384px,#80ff80 388px,#80ff80 394px,#8cff73 398px,#8cff73 404px,#b3ff4c 408px,#b3ff4c 414px,#ff6600 418px,#ff6600 424px,#f2ff0d 428px,#f2ff0d 434px,#ff8000 438px,#ff8000 444px,#b3ff4c 448px,#b3ff4c 454px,#80ff80 458px,#80ff80 474px,#b3ff4c 478px,#b3ff4c 484px,#8cff73 488px,#8cff73 494px,#ff6600 498px,#ff6600 504px,#e5ff1a 508px,#e5ff1a 514px,#b3ff4c 518px,#b3ff4c 534px,#bfff40 538px,#bfff40 554px,#b3ff4c 558px,#b3ff4c 564px,#8cff73 568px,#8cff73 584px,#ff6600 588px,#ff6600 594px,#bfff40 598px,#bfff40 604px,#8cff73 608px,#8cff73 634px,#b3ff4c 638px,#b3ff4c 644px,#80ff80 648px,#80ff80 654px,#fff200 658px,#fff200 664px,#bfff40 668px,#bfff40 674px,#80ff80 678px,#80ff80 684px,#bfff40 688px,#bfff40 714px,#b3ff4c 718px,#b3ff4c 724px,#8cff73 728px,#8cff73 734px,#b3ff4c 738px,#b3ff4c 744px,#e5ff1a 748px,#e5ff1a 754px,#bfff40 758px,#bfff40 764px,#b3ff4c 768px,#b3ff4c 774px,#e5ff1a 778px,#e5ff1a 784px,#b3ff4c 788px,#b3ff4c 824px,#8cff73 828px,#8cff73 834px,#b3ff4c 838px,#b3ff4c 844px,#ff8000 848px,#ff8000 854px,#b3ff4c 858px,#b3ff4c 864px,#8cff73 868px,#8cff73 874px,#80ff80 878px,#80ff80 884px,#b3ff4c 888px,#b3ff4c 914px,#bfff40 918px,#bfff40 924px,#e5ff1a 928px,#e5ff1a 934px,#f2ff0d 938px,#f2ff0d 944px,#b3ff4c 948px,#b3ff4c 974px,#ff9900 978px,#ff9900 984px,#fff200 988px,#fff200 994px,#bfff40 998px,#bfff40 1004px,#b3ff4c 1008px,#b3ff4c 1024px,#80ff80 1028px,#80ff80 1034px,#8cff73 1038px,#8cff73 1044px,#b3ff4c 1048px,#b3ff4c 1054px,#ff9900 1058px,#ff9900 1064px,#b3ff4c 1068px,#b3ff4c 1074px,#bfff40 1078px,#bfff40 1084px,#80ff80 1088px,#80ff80 1104px,#8cff73 1108px,#8cff73 1114px,#80ff80 1118px,#80ff80 1164px,#8cff73 1168px,#8cff73 1174px,#80ff80 1178px,#80ff80 1184px,#a6ff59 1188px,#a6ff59 1194px,#8cff73 1198px,#8cff73 1204px,#e5ff1a 1208px,#e5ff1a 1214px,#80ff80 1218px,#80ff80 1274px,#a6ff59 1278px,#a6ff59 1300px)"></div>
<div style="height:10px;background:linear-gradient(90deg,#80ff80 0px,#80ff80 24px,#b3ff4c 28px,#b3ff4c 34px,#8cff73 38px,#8cff73 44px,#80ff80 48px,#80ff80 64px,#99ff66 68px,#99ff66 74px,#d9ff26 78px,#d9ff26 84px,#ff8000 88px,#ff8000 94px,#ffb300 98px,#ffb300 104px,#f2ff0d 108px,#f2ff0d 114px,#d90000 118px,#d90000 124px,#800000 128px,#800000 134px,#d90000 138px,#d90000 144px,#b3ff4c 148px,#b3ff4c 154px,#80ff80 158px,#80ff80 174px,#99ff66 178px,#99ff66 184px,#b3ff4c 188px,#b3ff4c 194px,#80ff80 198px,#80ff80 234px,#99ff66 238px,#99ff66 254px,#80ff80 258px,#80ff80 274px,#99ff66 278px,#99ff66 284px,#b3ff4c 288px,#b3ff4c 294px,#d9ff26 298px,#d9ff26 304px,#f2ff0d 308px,#f2ff0d 314px,#b3ff4c 318px,#b3ff4c 324px,#8cff73 328px,#8cff73 334px,#99ff66 338px,#99ff66 344px,#d9ff26 348px,#d9ff26 354px,#80ff80 358px,#80ff80 364px,#b3ff4c 368px,#b3ff4c 374px,#8cff73 378px,#8cff73 384px,#80ff80 388px,#80ff80 394px,#99ff66 398px,#99ff66 404px,#b3ff4c 408px,#b3ff4c 414px,#ff2600 418px,#ff2600 424px,#f2ff0d 428px,#f2ff0d 434px,#ff8000 438px,#ff8000 444px,#b3ff4c 448px,#b3ff4c 454px,#80ff80 458px,#80ff80 474px,#b3ff4c 478px,#b3ff4c 484px,#99ff66 488px,#99ff66 494px,#ff2600 498px,#ff2600 504px,#ccff33 508px,#ccff33 514px,#b3ff4c 518px,#b3ff4c 534px,#d9ff26 538px,#d9ff26 554px,#b3ff4c 558px,#b3ff4c 564px,#99ff66 568px,#99ff66 584px,#ff2600 588px,#ff2600 594px,#d9ff26 598px,#d9ff26 604px,#99ff66 608px,#99ff66 614px,#ccff33 618px,#ccff33 624px,#99ff66 628px,#99ff66 634px,#b3ff4c 638px,#b3ff4c 644px,#80ff80 648px,#80ff80 654px,#ffb300 658px,#ffb300 664px,#d9ff26 668px,#d9ff26 674px,#80ff80 678px,#80ff80 684px,#d9ff26 688px,#d9ff26 714px,#b3ff4c 718px,#b3ff4c 724px,#99ff66 728px,#99ff66 734px,#b3ff4c 738px,#b3ff4c 744px,#ccff33 748px,#ccff33 754px,#d9ff26 758px,#d9ff26 764px,#b3ff4c 768px,#b3ff4c 774px,#ccff33 778px,#ccff33 784px,#b3ff4c 788px,#b3ff4c 824px,#99ff66 828px,#99ff66 834px,#b3ff4c 838px,#b3ff4c 844px,#ff8000 848px,#ff8000 854px,#b3ff4c 858px,#b3ff4c 864px,#99ff66 868px,#99ff66 874px,#80ff80 878px,#80ff80 884px,#b3ff4c 888px,#b3ff4c 914px,#d9ff26 918px,#d9ff26 924px,#ccff33 928px,#ccff33 934px,#f2ff0d 938px,#f2ff0d 944px,#b3ff4c 948px,#b3ff4c 974px,#ffd900 978px,#ffd900 984px,#ffb300 988px,#ffb300 994px,#d9ff26 998px,#d9ff26 1004px,#b3ff4c 1008px,#b3ff4c 1024px,#80ff80 1028px,#80ff80 1034px,#99ff66 1038px,#99ff66 1044px,#b3ff4c 1048px,#b3ff4c 1054px,#f2ff0d 1058px,#f2ff0d 1064px,#b3ff4c 1068px,#b3ff4c 1074px,#d9ff26 1078px,#d9ff26 1084px,#80ff80 1088px,#80ff80 1104px,#99ff66 1108px,#99ff66 1114px,#80ff80 1118px,#80ff80 1164px,#ccff33 1168px,#ccff33 1174px,#80ff80 1178px,#80ff80 1184px,#8cff73 1188px,#8cff73 1194px,#99ff66 1198px,#99ff66 1204px,#ccff33 1208px,#ccff33 1214px,#80ff80 1218px,#80ff80 1274px,#8cff73 1278px,#8cff73 1300px)"></div>
<div style="height:10px;background:linear-gradient(90deg,#80ff80 0px,#80ff80 24px,#b3ff4c 28px,#b3ff4c 34px,#80ff80 38px,#80ff80 64px,#b3ff4c 68px,#b3ff4c 74px,#f2ff0d 78px,#f2ff0d 84px,#ff8000 88px,#ff8000 104px,#f2ff0d 108px,#f2ff0d 114px,#b30000 118px,#b30000 124px,#800000 128px,#800000 134px,#bf0000 138px,#bf0000 144px,#b3ff4c 148px,#b3ff4c 154px,#80ff80 158px,#80ff80 174px,#b3ff4c 178px,#b3ff4c 194px,#8cff73 198px,#8cff73 214px,#80ff80 218px,#80ff80 234px,#b3ff4c 238px,#b3ff4c 254px,#80ff80 258px,#80ff80 274px,#bfff40 278px,#bfff40 294px,#fff200 298px,#fff200 304px,#f2ff0d 308px,#f2ff0d 314px,#b3ff4c 318px,#b3ff4c 324px,#80ff80 328px,#80ff80 334px,#b3ff4c 338px,#b3ff4c 344px,#fff200 348px,#fff200 354px,#8cff73 358px,#8cff73 364px,#b3ff4c 368px,#b3ff4c 374px,#80ff80 378px,#80ff80 384px,#8cff73 388px,#8cff73 394px,#b3ff4c 398px,#b3ff4c 404px,#bfff40 408px,#bfff40 414px,#e50000 418px,#e50000 424px,#fff200 428px,#fff200 434px,#ff8000 438px,#ff8000 444px,#b3ff4c 448px,#b3ff4c 454px,#80ff80 458px,#80ff80 474px,#b3ff4c 478px,#b3ff4c 484px,#bfff40 488px,#bfff40 494px,#ff1a00 498px,#ff1a00 504px,#b3ff4c 508px,#b3ff4c 534px,#f2ff0d 538px,#f2ff0d 554px,#b3ff4c 558px,#b3ff4c 564px,#bfff40 568px,#bfff40 574px,#b3ff4c 578px,#b3ff4c 584px,#ff0000 588px,#ff0000 594px,#fff200 598px,#fff200 604px,#b3ff4c 608px,#b3ff4c 614px,#f2ff0d 618px,#f2ff0d 624px,#ccff33 628px,#ccff33 634px,#b3ff4c 638px,#b3ff4c 644px,#80ff80 648px,#80ff80 654px,#ff8000 658px,#ff8000 664px,#f2ff0d 668px,#f2ff0d 674px,#8cff73 678px,#8cff73 684px,#f2ff0d 688px,#f2ff0d 694px,#fff200 698px,#fff200 704px,#f2ff0d 708px,#f2ff0d 714px,#b3ff4c 718px,#b3ff4c 754px,#f2ff0d 758px,#f2ff0d 764px,#b3ff4c 768px,#b3ff4c 814px,#bfff40 818px,#bfff40 824px,#b3ff4c 828px,#b3ff4c 844px,#ff9900 848px,#ff9900 854px,#bfff40 858px,#bfff40 864px,#b3ff4c 868px,#b3ff4c 874px,#80ff80 878px,#80ff80 884px,#b3ff4c 888px,#b3ff4c 914px,#fff200 918px,#fff200 924px,#b3ff4c 928px,#b3ff4c 934px,#e5ff1a 938px,#e5ff1a 944px,#b3ff4c 948px,#b3ff4c 974px,#e5ff1a 978px,#e5ff1a 984px,#ff8000 988px,#ff8000 994px,#f2ff0d 998px,#f2ff0d 1004px,#b3ff4c 1008px,#b3ff4c 1024px,#80ff80 1028px,#80ff80 1034px,#b3ff4c 1038px,#b3ff4c 1074px,#f2ff0d 1078px,#f2ff0d 1084px,#8cff73 1088px,#8cff73 1094px,#80ff80 1098px,#80ff80 1104px,#bfff40 1108px,#bfff40 1114px,#8cff73 1118px,#8cff73 1124px,#80ff80 1128px,#80ff80 1164px,#f2ff0d 1168px,#f2ff0d 1174px,#80ff80 1178px,#80ff80 1194px,#a6ff59 1198px,#a6ff59 1204px,#b3ff4c 1208px,#b3ff4c 1214px,#80ff80 1218px,#80ff80 1274px,#8cff73 1278px,#8cff73 1300px)"></div>
<div style="height:10px;background:linear-gradient(90deg,#80ff80 0px,#80ff80 24px,#b3ff4c 28px,#b3ff4c 34px,#80ff80 38px,#80ff80 64px,#b3ff4c 68px,#b3ff4c 74px,#f2ff0d 78px,#f2ff0d 84px,#ff8000 88px,#ff8000 104px,#f2ff0d 108px,#f2ff0d 114px,#990000 118px,#990000 124px,#800000 128px,#800000 134px,#bf0000 138px,#bf0000 144px,#b3ff4c 148px,#b3ff4c 154px,#80ff80 158px,#80ff80 174px,#b3ff4c 178px,#b3ff4c 194px,#99ff66 198px,#99ff66 214px,#80ff80 218px,#80ff80 234px,#b3ff4c 238px,#b3ff4c 254px,#80ff80 258px,#80ff80 274px,#d9ff26 278px,#d9ff26 294px,#ffb300 298px,#ffb300 304px,#f2ff0d 308px,#f2ff0d 314px,#b3ff4c 318px,#b3ff4c 324px,#80ff80 328px,#80ff80 334px,#b3ff4c 338px,#b3ff4c 344px,#ffb300 348px,#ffb300 354px,#99ff66 358px,#99ff66 364px,#b3ff4c 368px,#b3ff4c 374px,#80ff80 378px,#80ff80 384px,#99ff66 388px,#99ff66 394px,#b3ff4c 398px,#b3ff4c 404px,#d9ff26 408px,#d9ff26 414px,#b30000 418px,#b30000 424px,#ffb300 428px,#ffb300 434px,#ff8000 438px,#ff8000 444px,#b3ff4c 448px,#b3ff4c 454px,#80ff80 458px,#80ff80 474px,#b3ff4c 478px,#b3ff4c 484px,#d9ff26 488px,#d9ff26 494px,#ff5900 498px,#ff5900 504px,#b3ff4c 508px,#b3ff4c 534px,#f2ff0d 538px,#f2ff0d 554px,#b3ff4c 558px,#b3ff4c 564px,#d9ff26 568px,#d9ff26 574px,#b3ff4c 578px,#b3ff4c 584px,#ff0000 588px,#ff0000 594px,#ffb300 598px,#ffb300 604px,#b3ff4c 608px,#b3ff4c 614px,#f2ff0d 618px,#f2ff0d 624px,#ffcc00 628px,#ffcc00 634px,#b3ff4c 638px,#b3ff4c 644px,#80ff80 648px,#80ff80 654px,#ff8000 658px,#ff8000 664px,#f2ff0d 668px,#f2ff0d 674px,#99ff66 678px,#99ff66 684px,#f2ff0d 688px,#f2ff0d 694px,#ffb300 698px,#ffb300 704px,#f2ff0d 708px,#f2ff0d 714px,#b3ff4c 718px,#b3ff4c 754px,#f2ff0d 758px,#f2ff0d 764px,#b3ff4c 768px,#b3ff4c 814px,#d9ff26 818px,#d9ff26 824px,#b3ff4c 828px,#b3ff4c 844px,#f2ff0d 848px,#f2ff0d 854px,#d9ff26 858px,#d9ff26 864px,#b3ff4c 868px,#b3ff4c 874px,#80ff80 878px,#80ff80 884px,#b3ff4c 888px,#b3ff4c 914px,#ffb300 918px,#ffb300 924px,#b3ff4c 928px,#b3ff4c 934px,#ccff33 938px,#ccff33 944px,#b3ff4c 948px,#b3ff4c 974px,#ccff33 978px,#ccff33 984px,#ff8000 988px,#ff8000 994px,#f2ff0d 998px,#f2ff0d 1004px,#b3ff4c 1008px,#b3ff4c 1024px,#80ff80 1028px,#80ff80 1034px,#b3ff4c 1038px,#b3ff4c 1074px,#f2ff0d 1078px,#f2ff0d 1084px,#99ff66 1088px,#99ff66 1094px,#80ff80 1098px,#80ff80 1104px,#d9ff26 1108px,#d9ff26 1114px,#99ff66 1118px,#99ff66 1124px,#80ff80 1128px,#80ff80 1164px,#f2ff0d 1168px,#f2ff0d 1174px,#80ff80 1178px,#80ff80 1194px,#8cff73 1198px,#8cff73 1204px,#b3ff4c 1208px,#b3ff4c 1214px,#80ff80 1218px,#80ff80 1274px,#ccff33 1278px,#ccff33 1300px)"></div>
<div style="height:10px;background:linear-gradient(90deg,#80ff80 0px,#80ff80 24px,#b3ff4c 28px,#b3ff4c 34px,#80ff80 38px,#80ff80 64px,#b3ff4c 68px,#b3ff4c 74px,#f2ff0d 78px,#f2ff0d 84px,#ff8000 88px,#ff8000 104px,#f2ff0d 108px,#f2ff0d 114px,#800000 118px,#800000 134px,#bf0000 138px,#bf0000 144px,#b3ff4c 148px,#b3ff4c 154px,#80ff80 158px,#80ff80 174px,#b3ff4c 178px,#b3ff4c 214px,#80ff80 218px,#80ff80 234px,#b3ff4c 238px,#b3ff4c 254px,#80ff80 258px,#80ff80 274px,#f2ff0d 278px,#f2ff0d 294px,#ff8000 298px,#ff8000 304px,#f2ff0d 308px,#f2ff0d 314px,#b3ff4c 318px,#b3ff4c 324px,#80ff80 328px,#80ff80 334px,#b3ff4c 338px,#b3ff4c 344px,#ff8000 348px,#ff8000 354px,#b3ff4c 358px,#b3ff4c 374px,#80ff80 378px,#80ff80 384px,#b3ff4c 388px,#b3ff4c 404px,#f2ff0d 408px,#f2ff0d 414px,#800000 418px,#800000 424px,#ff8000 428px,#ff8000 444px,#b3ff4c 448px,#b3ff4c 454px,#80ff80 458px,#80ff80 474px,#b3ff4c 478px,#b3ff4c 484px,#f2ff0d 488px,#f2ff0d 494px,#ff8000 498px,#ff8000 504px,#b3ff4c 508px,#b3ff4c 534px,#f2ff0d 538px,#f2ff0d 554px,#b3ff4c 558px,#b3ff4c 564px,#f2ff0d 568px,#f2ff0d 574px,#b3ff4c 578px,#b3ff4c 584px,#ff0000 588px,#ff0000 594px,#ff8000 598px,#ff8000 604px,#b3ff4c 608px,#b3ff4c 614px,#f2ff0d 618px,#f2ff0d 624px,#ff8000 628px,#ff8000 634px,#b3ff4c 638px,#b3ff4c 644px,#80ff80 648px,#80ff80 654px,#ff8000 658px,#ff8000 664px,#f2ff0d 668px,#f2ff0d 674px,#b3ff4c 678px,#b3ff4c 684px,#f2ff0d 688px,#f2ff0d 694px,#ff8000 698px,#ff8000 704px,#f2ff0d 708px,#f2ff0d 714px,#b3ff4c 718px,#b3ff4c 754px,#f2ff0d 758px,#f2ff0d 764px,#b3ff4c 768px,#b3ff4c 814px,#f2ff0d 818px,#f2ff0d 824px,#b3ff4c 828px,#b3ff4c 854px,#f2ff0d 858px,#f2ff0d 864px,#b3ff4c 868px,#b3ff4c 874px,#80ff80 878px,#80ff80 884px,#b3ff4c 888px,#b3ff4c 914px,#ff8000 918px,#ff8000 924px,#b3ff4c 928px,#b3ff4c 984px,#ff8000 988px,#ff8000 994px,#f2ff0d 998px,#f2ff0d 1004px,#b3ff4c 1008px,#b3ff4c 1024px,#80ff80 1028px,#80ff80 1034px,#b3ff4c 1038px,#b3ff4c 1074px,#f2ff0d 1078px,#f2ff0d 1084px,#b3ff4c 1088px,#b3ff4c 1094px,#80ff80 1098px,#80ff80 1104px,#f2ff0d 1108px,#f2ff0d 1114px,#b3ff4c 1118px,#b3ff4c 1124px,#80ff80 1128px,#80ff80 1164px,#f2ff0d 1168px,#f2ff0d 1174px,#80ff80 1178px,#80ff80 1204px,#b3ff4c 1208px,#b3ff4c 1214px,#80ff80 1218px,#80ff80 1274px,#f2ff0d 1278px,#f2ff0d 1300px)"></div>
<div style="height:10px;background:linear-gradient(90deg,#80ff80 0px,#80ff80 24px,#b3ff4c 28px,#b3ff4c 34px,#80ff80 38px,#80ff80 64px,#b3ff4c 68px,#b3ff4c 74px,#f2ff0d 78px,#f2ff0d 84px,#ff8000 88px,#ff8000 104px,#f2ff0d 108px,#f2ff0d 114px,#800000 118px,#800000 134px,#bf0000 138px,#bf0000 144px,#b3ff4c 148px,#b3ff4c 154px,#80ff80 158px,#80ff80 174px,#b3ff4c 178px,#b3ff4c 214px,#80ff80 218px,#80ff80 234px,#b3ff4c 238px,#b3ff4c 254px,#80ff80 258px,#80ff80 274px,#f2ff0d 278px,#f2ff0d 294px,#ff8000 298px,#ff8000 304px,#f2ff0d 308px,#f2ff0d 314px,#b3ff4c 318px,#b3ff4c 324px,#80ff80 328px,#80ff80 334px,#b3ff4c 338px,#b3ff4c 344px,#ff8000 348px,#ff8000 354px,#b3ff4c 358px,#b3ff4c 374px,#80ff80 378px,#80ff80 384px,#b3ff4c 388px,#b3ff4c 404px,#f2ff0d 408px,#f2ff0d 414px,#800000 418px,#800000 424px,#ff8000 428px,#ff8000 444px,#b3ff4c 448px,#b3ff4c 454px,#80ff80 458px,#80ff80 474px,#b3ff4c 478px,#b3ff4c 484px,#f2ff0d 488px,#f2ff0d 494px,#ff8000 498px,#ff8000 504px,#b3ff4c 508px,#b3ff4c 534px,#f2ff0d 538px,#f2ff0d 554px,#b3ff4c 558px,#b3ff4c 564px,#f2ff0d 568px,#f2ff0d 574px,#b3ff4c 578px,#b3ff4c 584px,#ff0000 588px,#ff0000 594px,#ff8000 598px,#ff8000 604px,#b3ff4c 608px,#b3ff4c 614px,#f2ff0d 618px,#f2ff0d 624px,#ff8000 628px,#ff8000 634px,#b3ff4c 638px,#b3ff4c 644px,#80ff80 648px,#80ff80 654px,#ff8000 658px,#ff8000 664px,#f2ff0d 668px,#f2ff0d 674px,#b3ff4c 678px,#b3ff4c 684px,#f2ff0d 688px,#f2ff0d 694px,#ff8000 698px,#ff8000 704px,#f2ff0d 708px,#f2ff0d 714px,#b3ff4c 718px,#b3ff4c 754px,#f2ff0d 758px,#f2ff0d 764px,#b3ff4c 768px,#b3ff4c 814px,#f2ff0d 818px,#f2ff0d 824px,#b3ff4c 828px,#b3ff4c 854px,#f2ff0d 858px,#f2ff0d 864px,#b3ff4c 868px,#b3ff4c 874px,#80ff80 878px,#80ff80 884px,#b3ff4c 888px,#b3ff4c 914px,#ff8000 918px,#ff8000 924px,#b3ff4c 928px,#b3ff4c 984px,#ff8000 988px,#ff8000 994px,#f2ff0d 998px,#f2ff0d 1004px,#b3ff4c 1008px,#b3ff4c 1024px,#80ff80 1028px,#80ff80 1034px,#b3ff4c 1038px,#b3ff4c 1074px,#f2ff0d 1078px,#f2ff0d 1084px,#b3ff4c 1088px,#b3ff4c 1094px,#80ff80 1098px,#80ff80 1104px,#f2ff0d 1108px,#f2ff0d 1114px,#b3ff4c 1118px,#b3ff4c 1124px,#80ff80 1128px,#80ff80 1164px,#f2ff0d 1168px,#f2ff0d 1174px,#80ff80 1178px,#80ff80 1204px,#b3ff4c 1208px,#b3ff4c 1214px,#80ff80 1218px,#80ff80 1274px,#f2ff0d 1278px,#f2ff0d 1300px)"></div>
</div></div>
<div class="pn" style="left:142px;top:1050px">
<div class="bl" style="left:-16px;top:-12px;width:1300px;filter:url(#fh)">
<div style="height:10px;background:linear-gradient(90deg,#ff0000 0px,#ff0000 24px,#800000 28px,#800000 34px,#bf0000 38px,#bf0000 44px,#00ffff 48px,#00ffff 54px,#b3ff4c 58px,#b3ff4c 64px,#00ffff 68px,#00ffff 74px,#000080 78px,#000080 84px,#0000ff 88px,#0000ff 94px,#000080 98px,#000080 144px,#0000ff 148px,#0000ff 154px,#00ffff 158px,#00ffff 174px,#ff0000 178px,#ff0000 184px,#ff8000 188px,#ff8000 204px,#800000 208px,#800000 234px,#000080 238px,#000080 244px,#0000ff 248px,#0000ff 254px,#00ffff 258px,#00ffff 274px,#b3ff4c 278px,#b3ff4c 284px,#ff8000 288px,#ff8000 294px,#800000 298px,#800000 304px,#00ffff 308px,#00ffff 314px,#b3ff4c 318px,#b3ff4c 324px,#0000ff 328px,#0000ff 344px,#00ffff 348px,#00ffff 354px,#e5ff1a 358px,#e5ff1a 364px,#b3ff4c 368px,#b3ff4c 374px,#00ffff 378px,#00ffff 384px,#000080 388px,#000080 394px,#0000ff 398px,#0000ff 404px,#000080 408px,#000080 434px,#0000ff 438px,#0000ff 444px,#e5ff1a 448px,#e5ff1a 454px,#000080 458px,#000080 464px,#0000ff 468px,#0000ff 474px,#0080ff 478px,#0080ff 484px,#000080 488px,#000080 504px,#0000ff 508px,#0000ff 514px,#00ffff 518px,#00ffff 524px,#000080 528px,#000080 554px,#0080ff 558px,#0080ff 564px,#ff8000 568px,#ff8000 574px,#e5ff1a 578px,#e5ff1a 584px,#800000 588px,#800000 604px,#ff0000 608px,#ff0000 614px,#ff8000 618px,#ff8000 624px,#ff0000 628px,#ff0000 634px,#ff8000 638px,#ff8000 644px,#00ffff 648px,#00ffff 654px,#ff0000 658px,#ff0000 664px,#ff8000 668px,#ff8000 674px,#e5ff1a 678px,#e5ff1a 684px,#ff8000 688px,#ff8000 694px,#800000 698px,#800000 714px,#ff0000 718px,#ff0000 724px,#bf0000 728px,#bf0000 734px,#ff8000 738px,#ff8000 744px,#800000 748px,#800000 764px,#00ffff 768px,#00ffff 774px,#0080ff 778px,#0080ff 784px,#ff8000 788px,#ff8000 794px,#00ffff 798px,#00ffff 814px,#0080ff 818px,#0080ff 824px,#ff0000 828px,#ff0000 834px,#ff8000 838px,#ff8000 854px,#ff0000 858px,#ff0000 874px,#ff8000 878px,#ff8000 894px,#ff0000 898px,#ff0000 904px,#800000 908px,#800000 914px,#0080ff 918px,#0080ff 924px,#b3ff4c 928px,#b3ff4c 944px,#40ffbf 948px,#40ffbf 954px,#b3ff4c 958px,#b3ff4c 964px,#e5ff1a 968px,#e5ff1a 974px,#ff0000 978px,#ff0000 984px,#bf0000 988px,#bf0000 994px,#00ffff 998px,#00ffff 1004px,#800000 1008px,#800000 1014px,#ff0000 1018px,#ff0000 1024px,#00ffff 1028px,#00ffff 1034px,#e5ff1a 1038px,#e5ff1a 1044px,#ff8000 1048px,#ff8000 1064px,#ff0000 1068px,#ff0000 1074px,#0000ff 1078px,#0000ff 1084px,#0080ff 1088px,#0080ff 1094px,#ff8000 1098px,#ff8000 1104px,#0000ff 1108px,#0000ff 1114px,#bf0000 1118px,#bf0000 1124px,#000080 1128px,#000080 1134px,#b3ff4c 1138px,#b3ff4c 1144px,#ff8000 1148px,#ff8000 1154px,#00ffff 1158px,#00ffff 1164px,#0080ff 1168px,#0080ff 1184px,#ff8000 1188px,#ff8000 1194px,#00ffff 1198px,#00ffff 1204px,#800000 1208px,#800000 1234px,#ff0000 1238px,#ff0000 1244px,#b3ff4c 1248px,#b3ff4c 1254px,#800000 1258px,#800000 1274px,#0000ff 1278px,#0000ff 1300px)"></div>
<div style="height:10px;background:linear-gradient(90deg,#ff0000 0px,#ff0000 24px,#800000 28px,#800000 34px,#bf0000 38px,#bf0000 44px,#00ffff 48px,#00ffff 54px,#b3ff4c 58px,#b3ff4c 64px,#00ffff 68px,#00ffff 74px,#000080 78px,#000080 84px,#0000ff 88px,#0000ff 94px,#000080 98px,#000080 144px,#0000ff 148px,#0000ff 154px,#00ffff 158px,#00ffff 174px,#ff0000 178px,#ff0000 184px,#ff8000 188px,#ff8000 204px,#800000 208px,#800000 234px,#000080 238px,#000080 244px,#0000ff 248px,#0000ff 254px,#00ffff 258px,#00ffff 274px,#b3ff4c 278px,#b3ff4c 284px,#ff8000 288px,#ff8000 294px,#800000 298px,#800000 304px,#00ffff 308px,#00ffff 314px,#b3ff4c 318px,#b3ff4c 324px,#0000ff 328px,#0000ff 344px,#00ffff 348px,#00ffff 354px,#e5ff1a 358px,#e5ff1a 364px,#b3ff4c 368px,#b3ff4c 374px,#00ffff 378px,#00ffff 384px,#000080 388px,#000080 394px,#0000ff 398px,#0000ff 404px,#000080 408px,#000080 434px,#0000ff 438px,#0000ff 444px,#e5ff1a 448px,#e5ff1a 454px,#000080 458px,#000080 464px,#0000ff 468px,#0000ff 474px,#0080ff 478px,#0080ff 484px,#000080 488px,#000080 504px,#0000ff 508px,#0000ff 514px,#00ffff 518px,#00ffff 524px,#000080 528px,#000080 554px,#0080ff 558px,#0080ff 564px,#ff8000 568px,#ff8000 574px,#e5ff1a 578px,#e5ff1a 584px,#800000 588px,#800000 604px,#ff0000 608px,#ff0000 614px,#ff8000 618px,#ff8000 624px,#ff0000 628px,#ff0000 634px,#ff8000 638px,#ff8000 644px,#00ffff 648px,#00ffff 654px,#ff0000 658px,#ff0000 664px,#ff8000 668px,#ff8000 674px,#e5ff1a 678px,#e5ff1a 684px,#ff8000 688px,#ff8000 694px,#800000 698px,#800000 714px,#ff0000 718px,#ff0000 724px,#bf0000 728px,#bf0000 734px,#ff8000 738px,#ff8000 744px,#800000 748px,#800000 764px,#00ffff 768px,#00ffff 774px,#0080ff 778px,#0080ff 784px,#ff8000 788px,#ff8000 794px,#00ffff 798px,#00ffff 814px,#0080ff 818px,#0080ff 824px,#ff0000 828px,#ff0000 834px,#ff8000 838px,#ff8000 854px,#ff0000 858px,#ff0000 874px,#ff8000 878px,#ff8000 894px,#ff0000 898px,#ff0000 904px,#800000 908px,#800000 914px,#0080ff 918px,#0080ff 924px,#b3ff4c 928px,#b3ff4c 944px,#40ffbf 948px,#40ffbf 954px,#b3ff4c 958px,#b3ff4c 964px,#e5ff1a 968px,#e5ff1a 974px,#ff0000 978px,#ff0000 984px,#bf0000 988px,#bf0000 994px,#00ffff 998px,#00ffff 1004px,#800000 1008px,#800000 1014px,#ff0000 1018px,#ff0000 1024px,#00ffff 1028px,#00ffff 1034px,#e5ff1a 1038px,#e5ff1a 1044px,#ff8000 1048px,#ff8000 1064px,#ff0000 1068px,#ff0000 1074px,#0000ff 1078px,#0000ff 1084px,#0080ff 1088px,#0080ff 1094px,#ff8000 1098px,#ff8000 1104px,#0000ff 1108px,#0000ff 1114px,#bf0000 1118px,#bf0000 1124px,#000080 1128px,#000080 1134px,#b3ff4c 1138px,#b3ff4c 1144px,#ff8000 1148px,#ff8000 1154px,#00ffff 1158px,#00ffff 1164px,#0080ff 1168px,#0080ff 1184px,#ff8000 1188px,#ff8000 1194px,#00ffff 1198px,#00ffff 1204px,#800000 1208px,#800000 1234px,#ff0000 1238px,#ff0000 1244px,#b3ff4c 1248px,#b3ff4c 1254px,#800000 1258px,#800000 1274px,#0000ff 1278px,#0000ff 1300px)"></div>
<div style="height:10px;background:linear-gradient(90deg,#ff0000 0px,#ff0000 24px,#a60000 28px,#a60000 34px,#ff1a00 38px,#ff1a00 44px,#0dfff2 48px,#0dfff2 54px,#b3ff4c 58px,#b3ff4c 64px,#26ffd9 68px,#26ffd9 74px,#000099 78px,#000099 84px,#0033ff 88px,#0033ff 94px,#0000b2 98px,#0000b2 104px,#0000a6 108px,#0000a6 114px,#000080 118px,#000080 144px,#0026ff 148px,#0026ff 154px,#0dfff2 158px,#0dfff2 174px,#ff3300 178px,#ff3300 184px,#ff9900 188px,#ff9900 204px,#bf0000 208px,#bf0000 214px,#d90000 218px,#d90000 224px,#f20000 228px,#f20000 234px,#0000bf 238px,#0000bf 244px,#0033ff 248px,#0033ff 254px,#1affe5 258px,#1affe5 264px,#0dfff2 268px,#0dfff2 274px,#a6ff59 278px,#a6ff59 284px,#ffb300 288px,#ffb300 294px,#ff0000 298px,#ff0000 304px,#00e5ff 308px,#00e5ff 314px,#b3ff4c 318px,#b3ff4c 324px,#0026ff 328px,#0026ff 334px,#001aff 338px,#001aff 344px,#1affe5 348px,#1affe5 354px,#e5ff1a 358px,#e5ff1a 364px,#b3ff4c 368px,#b3ff4c 374px,#0dfff2 378px,#0dfff2 384px,#0000a6 388px,#0000a6 394px,#001aff 398px,#001aff 404px,#0000bf 408px,#0000bf 414px,#000080 418px,#000080 434px,#0000ff 438px,#0000ff 444px,#ccff33 448px,#ccff33 454px,#0000bf 458px,#0000bf 464px,#0033ff 468px,#0033ff 474px,#0099ff 478px,#0099ff 484px,#0000a6 488px,#0000a6 494px,#000099 498px,#000099 504px,#0033ff 508px,#0033ff 514px,#1affe5 518px,#1affe5 524px,#000099 528px,#000099 544px,#0000b2 548px,#0000b2 554px,#0099ff 558px,#0099ff 564px,#ff9900 568px,#ff9900 574px,#e5ff1a 578px,#e5ff1a 584px,#990000 588px,#990000 594px,#8c0000 598px,#8c0000 604px,#ff1a00 608px,#ff1a00 614px,#ff9900 618px,#ff9900 624px,#ff1a00 628px,#ff1a00 634px,#ff9900 638px,#ff9900 644px,#0dfff2 648px,#0dfff2 654px,#ff1a00 658px,#ff1a00 664px,#ff9900 668px,#ff9900 674px,#e5ff1a 678px,#e5ff1a 684px,#ff8000 688px,#ff8000 694px,#800000 698px,#800000 704px,#8c0000 708px,#8c0000 714px,#ff4000 718px,#ff4000 724px,#d90000 728px,#d90000 734px,#ffb300 738px,#ffb300 744px,#990000 748px,#990000 764px,#1affe5 768px,#1affe5 774px,#0099ff 778px,#0099ff 784px,#ff8000 788px,#ff8000 794px,#33ffcc 798px,#33ffcc 804px,#00ffff 808px,#00ffff 814px,#00ccff 818px,#00ccff 824px,#ff4000 828px,#ff4000 834px,#ff9900 838px,#ff9900 844px,#ff8000 848px,#ff8000 854px,#ff0000 858px,#ff0000 864px,#ff2600 868px,#ff2600 874px,#ff9900 878px,#ff9900 884px,#ff8000 888px,#ff8000 894px,#ff2600 898px,#ff2600 904px,#800000 908px,#800000 914px,#00b2ff 918px,#00b2ff 924px,#b3ff4c 928px,#b3ff4c 944px,#4dffb2 948px,#4dffb2 954px,#b3ff4c 958px,#b3ff4c 964px,#e5ff1a 968px,#e5ff1a 974px,#ff1a00 978px,#ff1a00 984px,#d90000 988px,#d90000 994px,#26ffd9 998px,#26ffd9 1004px,#990000 1008px,#990000 1014px,#ff2600 1018px,#ff2600 1024px,#0dfff2 1028px,#0dfff2 1034px,#e5ff1a 1038px,#e5ff1a 1044px,#ff9900 1048px,#ff9900 1054px,#ffb300 1058px,#ffb300 1064px,#ff0000 1068px,#ff0000 1074px,#0000e6 1078px,#0000e6 1084px,#00b2ff 1088px,#00b2ff 1094px,#ff8000 1098px,#ff8000 1104px,#0026ff 1108px,#0026ff 1114px,#cc0000 1118px,#cc0000 1124px,#0000b2 1128px,#0000b2 1134px,#b3ff4c 1138px,#b3ff4c 1144px,#ffa600 1148px,#ffa600 1154px,#00ffff 1158px,#00ffff 1164px,#0066ff 1168px,#0066ff 1184px,#ffb300 1188px,#ffb300 1194px,#0dfff2 1198px,#0dfff2 1204px,#d90000 1208px,#d90000 1214px,#ff0000 1218px,#ff0000 1224px,#f20000 1228px,#f20000 1234px,#ff4000 1238px,#ff4000 1244px,#a6ff59 1248px,#a6ff59 1254px,#d90000 1258px,#d90000 1264px,#f20000 1268px,#f20000 1274px,#0026ff 1278px,#0026ff 1300px)"></div>
<div style="height:10px;background:linear-gradient(90deg,#ff0000 0px,#ff0000 24px,#ff2600 28px,#ff2600 34px,#ccff33 38px,#ccff33 44px,#26ffd9 48px,#26ffd9 54px,#b3ff4c 58px,#b3ff4c 64px,#99ff66 68px,#99ff66 74px,#0000cc 78px,#0000cc 84px,#00ccff 88px,#00ccff 94px,#0080ff 98px,#0080ff 104px,#0026ff 108px,#0026ff 114px,#000080 118px,#000080 144px,#00a6ff 148px,#00a6ff 154px,#26ffd9 158px,#26ffd9 174px,#ffd900 178px,#ffd900 194px,#f2ff0d 198px,#f2ff0d 204px,#ff8000 208px,#ff8000 214px,#fff200 218px,#fff200 224px,#8cff73 228px,#8cff73 234px,#00a6ff 238px,#00a6ff 244px,#00ccff 248px,#00ccff 254px,#4dffb2 258px,#4dffb2 264px,#26ffd9 268px,#26ffd9 274px,#8cff73 278px,#8cff73 284px,#b3ff4c 288px,#b3ff4c 294px,#33ffcc 298px,#33ffcc 304px,#00b2ff 308px,#00b2ff 314px,#b3ff4c 318px,#b3ff4c 324px,#00a6ff 328px,#00a6ff 334px,#004dff 338px,#004dff 344px,#73ff8c 348px,#73ff8c 354px,#bfff40 358px,#bfff40 364px,#b3ff4c 368px,#b3ff4c 374px,#26ffd9 378px,#26ffd9 384px,#0026ff 388px,#0026ff 394px,#004dff 398px,#004dff 404px,#00a6ff 408px,#00a6ff 414px,#000080 418px,#000080 434px,#0000ff 438px,#0000ff 444px,#80ff80 448px,#80ff80 454px,#00a6ff 458px,#00a6ff 464px,#00ccff 468px,#00ccff 484px,#0026ff 488px,#0026ff 494px,#0000cc 498px,#0000cc 504px,#00ccff 508px,#00ccff 514px,#73ff8c 518px,#73ff8c 524px,#0000cc 528px,#0000cc 544px,#0080ff 548px,#0080ff 554px,#00ccff 558px,#00ccff 564px,#f2ff0d 568px,#f2ff0d 574px,#bfff40 578px,#bfff40 584px,#cc0000 588px,#cc0000 594px,#a60000 598px,#a60000 604px,#ff4c00 608px,#ff4c00 614px,#ffd900 618px,#ffd900 624px,#ff4c00 628px,#ff4c00 634px,#ffd900 638px,#ffd900 644px,#26ffd9 648px,#26ffd9 654px,#ff4c00 658px,#ff4c00 664px,#ffd900 668px,#ffd900 674px,#e5ff1a 678px,#e5ff1a 684px,#ff8000 688px,#ff8000 694px,#800000 698px,#800000 704px,#a60000 708px,#a60000 714px,#d9ff26 718px,#d9ff26 724px,#ff4000 728px,#ff4000 734px,#b3ff4c 738px,#b3ff4c 744px,#cc0000 748px,#cc0000 764px,#73ff8c 768px,#73ff8c 774px,#00ffff 778px,#00ffff 784px,#ff8000 788px,#ff8000 794px,#ffff00 798px,#ffff00 804px,#00ffff 808px,#00ffff 814px,#ccff33 818px,#ccff33 824px,#d9ff26 828px,#d9ff26 834px,#ffd900 838px,#ffd900 844px,#ff8000 848px,#ff8000 854px,#ff0000 858px,#ff0000 864px,#ffb300 868px,#ffb300 874px,#ffd900 878px,#ffd900 884px,#ff8000 888px,#ff8000 894px,#ffb300 898px,#ffb300 904px,#800000 908px,#800000 914px,#40ffbf 918px,#40ffbf 924px,#d9ff26 928px,#d9ff26 934px,#b3ff4c 938px,#b3ff4c 944px,#8cff73 948px,#8cff73 954px,#b3ff4c 958px,#b3ff4c 964px,#e5ff1a 968px,#e5ff1a 974px,#ff4c00 978px,#ff4c00 984px,#ff4000 988px,#ff4000 994px,#99ff66 998px,#99ff66 1004px,#cc0000 1008px,#cc0000 1014px,#ffb300 1018px,#ffb300 1024px,#26ffd9 1028px,#26ffd9 1034px,#bfff40 1038px,#bfff40 1044px,#f2ff0d 1048px,#f2ff0d 1054px,#80ff80 1058px,#80ff80 1064px,#ff0000 1068px,#ff0000 1074px,#0000b2 1078px,#0000b2 1084px,#73ff8c 1088px,#73ff8c 1094px,#ff8000 1098px,#ff8000 1104px,#00a6ff 1108px,#00a6ff 1114px,#e50000 1118px,#e50000 1124px,#0080ff 1128px,#0080ff 1134px,#b3ff4c 1138px,#b3ff4c 1144px,#d9ff26 1148px,#d9ff26 1154px,#00ffff 1158px,#00ffff 1164px,#0033ff 1168px,#0033ff 1184px,#80ff80 1188px,#80ff80 1194px,#26ffd9 1198px,#26ffd9 1204px,#fff200 1208px,#fff200 1214px,#33ffcc 1218px,#33ffcc 1224px,#8cff73 1228px,#8cff73 1234px,#d9ff26 1238px,#d9ff26 1244px,#8cff73 1248px,#8cff73 1254px,#fff200 1258px,#fff200 1264px,#8cff73 1268px,#8cff73 1274px,#00a6ff 1278px,#00a6ff 1300px)"></div>
<div style="height:10px;background:linear-gradient(90deg,#ff1a00 0px,#ff1a00 24px,#ff9900 28px,#ff9900 34px,#1affe5 38px,#1affe5 44px,#4dffb2 48px,#4dffb2 54px,#b3ff4c 58px,#b3ff4c 64px,#ccff33 68px,#ccff33 74px,#0026ff 78px,#0026ff 84px,#4dffb2 88px,#4dffb2 94px,#1affe5 98px,#1affe5 104px,#0099ff 108px,#0099ff 114px,#0000b2 118px,#0000b2 124px,#000080 128px,#000080 134px,#000099 138px,#000099 144px,#00ffff 148px,#00ffff 154px,#40ffbf 158px,#40ffbf 164px,#4dffb2 168px,#4dffb2 174px,#a6ff59 178px,#a6ff59 184px,#ccff33 188px,#ccff33 194px,#99ff66 198px,#99ff66 204px,#e5ff1a 208px,#e5ff1a 214px,#40ffbf 218px,#40ffbf 224px,#0080ff 228px,#0080ff 234px,#40ffbf 238px,#40ffbf 244px,#4dffb2 248px,#4dffb2 254px,#8cff73 258px,#8cff73 264px,#40ffbf 268px,#40ffbf 274px,#80ff80 278px,#80ff80 284px,#40ffbf 288px,#40ffbf 294px,#001aff 298px,#001aff 304px,#0099ff 308px,#0099ff 314px,#b3ff4c 318px,#b3ff4c 324px,#00ffff 328px,#00ffff 334px,#0099ff 338px,#0099ff 344px,#b3ff4c 348px,#b3ff4c 374px,#40ffbf 378px,#40ffbf 384px,#0099ff 388px,#0099ff 404px,#40ffbf 408px,#40ffbf 414px,#000099 418px,#000099 424px,#000080 428px,#000080 434px,#0026ff 438px,#0026ff 444px,#40ffbf 448px,#40ffbf 464px,#4dffb2 468px,#4dffb2 474px,#0dfff2 478px,#0dfff2 484px,#0099ff 488px,#0099ff 494px,#001aff 498px,#001aff 504px,#40ffbf 508px,#40ffbf 514px,#b3ff4c 518px,#b3ff4c 524px,#0026ff 528px,#0026ff 544px,#00ffff 548px,#00ffff 554px,#0dfff2 558px,#0dfff2 564px,#b3ff4c 568px,#b3ff4c 584px,#ff1a00 588px,#ff1a00 594px,#d90000 598px,#d90000 604px,#ff9900 608px,#ff9900 614px,#ffff00 618px,#ffff00 624px,#ff8000 628px,#ff8000 634px,#e5ff1a 638px,#e5ff1a 644px,#40ffbf 648px,#40ffbf 654px,#ffa600 658px,#ffa600 664px,#e5ff1a 668px,#e5ff1a 684px,#ff9900 688px,#ff9900 694px,#a60000 698px,#a60000 704px,#f20000 708px,#f20000 714px,#40ffbf 718px,#40ffbf 724px,#ff9900 728px,#ff9900 734px,#40ffbf 738px,#40ffbf 744px,#ff2600 748px,#ff2600 764px,#a6ff59 768px,#a6ff59 774px,#4dffb2 778px,#4dffb2 784px,#ff9900 788px,#ff9900 804px,#0dfff2 808px,#0dfff2 814px,#ff9900 818px,#ff9900 824px,#40ffbf 828px,#40ffbf 834px,#e5ff1a 838px,#e5ff1a 844px,#ff9900 848px,#ff9900 854px,#ff2600 858px,#ff2600 864px,#e5ff1a 868px,#e5ff1a 884px,#ff9900 888px,#ff9900 894px,#e5ff1a 898px,#e5ff1a 904px,#a60000 908px,#a60000 914px,#b3ff4c 918px,#b3ff4c 924px,#e5ff1a 928px,#e5ff1a 934px,#b3ff4c 938px,#b3ff4c 964px,#ffff00 968px,#ffff00 974px,#ff8000 978px,#ff8000 994px,#e5ff1a 998px,#e5ff1a 1004px,#ff2600 1008px,#ff2600 1014px,#ffff00 1018px,#ffff00 1024px,#40ffbf 1028px,#40ffbf 1034px,#99ff66 1038px,#99ff66 1054px,#26ffd9 1058px,#26ffd9 1064px,#ff3300 1068px,#ff3300 1074px,#0000bf 1078px,#0000bf 1084px,#e5ff1a 1088px,#e5ff1a 1094px,#ff9900 1098px,#ff9900 1104px,#0dfff2 1108px,#0dfff2 1114px,#ff2600 1118px,#ff2600 1124px,#0dfff2 1128px,#0dfff2 1134px,#b3ff4c 1138px,#b3ff4c 1144px,#80ff80 1148px,#80ff80 1154px,#0dfff2 1158px,#0dfff2 1164px,#0026ff 1168px,#0026ff 1174px,#0040ff 1178px,#0040ff 1184px,#00ffff 1188px,#00ffff 1194px,#40ffbf 1198px,#40ffbf 1214px,#001aff 1218px,#001aff 1224px,#0099ff 1228px,#0099ff 1234px,#4dffb2 1238px,#4dffb2 1244px,#80ff80 1248px,#80ff80 1254px,#40ffbf 1258px,#40ffbf 1264px,#0099ff 1268px,#0099ff 1274px,#00ffff 1278px,#00ffff 1300px)"></div>
<div style="height:10px;background:linear-gradient(90deg,#ff4c00 0px,#ff4c00 24px,#f2ff0d 28px,#f2ff0d 34px,#73ff8c 38px,#73ff8c 44px,#8cff73 48px,#8cff73 54px,#b3ff4c 58px,#b3ff4c 64px,#80ff80 68px,#80ff80 74px,#00a6ff 78px,#00a6ff 84px,#8cff73 88px,#8cff73 94px,#4dffb2 98px,#4dffb2 104px,#00ccff 108px,#00ccff 114px,#0073ff 118px,#0073ff 124px,#000080 128px,#000080 134px,#0000cc 138px,#0000cc 144px,#00ffff 148px,#00ffff 154px,#40ffbf 158px,#40ffbf 164px,#8cff73 168px,#8cff73 184px,#4dffb2 188px,#4dffb2 194px,#66ff99 198px,#66ff99 204px,#e5ff1a 208px,#e5ff1a 214px,#40ffbf 218px,#40ffbf 224px,#0080ff 228px,#0080ff 234px,#40ffbf 238px,#40ffbf 244px,#8cff73 248px,#8cff73 254px,#99ff66 258px,#99ff66 264px,#40ffbf 268px,#40ffbf 274px,#80ff80 278px,#80ff80 284px,#40ffbf 288px,#40ffbf 294px,#004dff 298px,#004dff 304px,#00ffff 308px,#00ffff 314px,#b3ff4c 318px,#b3ff4c 324px,#00ffff 328px,#00ffff 334px,#00ccff 338px,#00ccff 344px,#b3ff4c 348px,#b3ff4c 374px,#40ffbf 378px,#40ffbf 384px,#00ccff 388px,#00ccff 404px,#40ffbf 408px,#40ffbf 414px,#0000cc 418px,#0000cc 424px,#000080 428px,#000080 434px,#00a6ff 438px,#00a6ff 444px,#40ffbf 448px,#40ffbf 464px,#66ff99 468px,#66ff99 474px,#26ffd9 478px,#26ffd9 484px,#00ffff 488px,#00ffff 494px,#004dff 498px,#004dff 504px,#40ffbf 508px,#40ffbf 514px,#b3ff4c 518px,#b3ff4c 524px,#00a6ff 528px,#00a6ff 544px,#00ffff 548px,#00ffff 554px,#26ffd9 558px,#26ffd9 564px,#b3ff4c 568px,#b3ff4c 584px,#ff4c00 588px,#ff4c00 594px,#ff4000 598px,#ff4000 604px,#ffd900 608px,#ffd900 614px,#ffb300 618px,#ffb300 624px,#ff8000 628px,#ff8000 634px,#bfff40 638px,#bfff40 644px,#40ffbf 648px,#40ffbf 654px,#d9ff26 658px,#d9ff26 664px,#bfff40 668px,#bfff40 684px,#f2ff0d 688px,#f2ff0d 694px,#ff2600 698px,#ff2600 704px,#ff9900 708px,#ff9900 714px,#40ffbf 718px,#40ffbf 724px,#f2ff0d 728px,#f2ff0d 734px,#40ffbf 738px,#40ffbf 744px,#ffb300 748px,#ffb300 764px,#8cff73 768px,#8cff73 784px,#ffd900 788px,#ffd900 804px,#26ffd9 808px,#26ffd9 814px,#f2ff0d 818px,#f2ff0d 824px,#40ffbf 828px,#40ffbf 834px,#bfff40 838px,#bfff40 844px,#f2ff0d 848px,#f2ff0d 854px,#ffb300 858px,#ffb300 864px,#bfff40 868px,#bfff40 874px,#e5ff1a 878px,#e5ff1a 884px,#f2ff0d 888px,#f2ff0d 894px,#bfff40 898px,#bfff40 904px,#ff2600 908px,#ff2600 914px,#b3ff4c 918px,#b3ff4c 924px,#e5ff1a 928px,#e5ff1a 934px,#b3ff4c 938px,#b3ff4c 964px,#ffb300 968px,#ffb300 974px,#ff8000 978px,#ff8000 994px,#bfff40 998px,#bfff40 1004px,#ffb300 1008px,#ffb300 1024px,#40ffbf 1028px,#40ffbf 1034px,#66ff99 1038px,#66ff99 1054px,#99ff66 1058px,#99ff66 1064px,#ffd900 1068px,#ffd900 1074px,#00a6ff 1078px,#00a6ff 1084px,#bfff40 1088px,#bfff40 1094px,#f2ff0d 1098px,#f2ff0d 1104px,#26ffd9 1108px,#26ffd9 1114px,#ffb300 1118px,#ffb300 1124px,#26ffd9 1128px,#26ffd9 1134px,#b3ff4c 1138px,#b3ff4c 1144px,#80ff80 1148px,#80ff80 1154px,#26ffd9 1158px,#26ffd9 1164px,#00a6ff 1168px,#00a6ff 1174px,#1affe5 1178px,#1affe5 1184px,#00ffff 1188px,#00ffff 1194px,#40ffbf 1198px,#40ffbf 1214px,#004dff 1218px,#004dff 1224px,#00ffff 1228px,#00ffff 1234px,#66ff99 1238px,#66ff99 1244px,#80ff80 1248px,#80ff80 1254px,#40ffbf 1258px,#40ffbf 1264px,#00ccff 1268px,#00ccff 1274px,#00ffff 1278px,#00ffff 1300px)"></div>
<div style="height:10px;background:linear-gradient(90deg,#ffb300 0px,#ffb300 24px,#a6ff59 28px,#a6ff59 34px,#b3ff4c 38px,#b3ff4c 54px,#99ff66 58px,#99ff66 64px,#40ffbf 68px,#40ffbf 74px,#0dfff2 78px,#0dfff2 84px,#a6ff59 88px,#a6ff59 94px,#80ff80 98px,#80ff80 104px,#0dfff2 108px,#0dfff2 114px,#00ffff 118px,#00ffff 124px,#0000b2 128px,#0000b2 134px,#0026ff 138px,#0026ff 144px,#0dfff2 148px,#0dfff2 154px,#4dffb2 158px,#4dffb2 164px,#b3ff4c 168px,#b3ff4c 174px,#80ff80 178px,#80ff80 184px,#00ffff 188px,#00ffff 194px,#40ffbf 198px,#40ffbf 204px,#d9ff26 208px,#d9ff26 214px,#40ffbf 218px,#40ffbf 224px,#00b2ff 228px,#00b2ff 234px,#4dffb2 238px,#4dffb2 244px,#99ff66 248px,#99ff66 254px,#b3ff4c 258px,#b3ff4c 264px,#4dffb2 268px,#4dffb2 274px,#8cff73 278px,#8cff73 284px,#40ffbf 288px,#40ffbf 294px,#00a6ff 298px,#00a6ff 304px,#40ffbf 308px,#40ffbf 314px,#99ff66 318px,#99ff66 324px,#00ffff 328px,#00ffff 334px,#0dfff2 338px,#0dfff2 344px,#b3ff4c 348px,#b3ff4c 374px,#4dffb2 378px,#4dffb2 384px,#0dfff2 388px,#0dfff2 394px,#1affe5 398px,#1affe5 404px,#4dffb2 408px,#4dffb2 414px,#0026ff 418px,#0026ff 424px,#0000b2 428px,#0000b2 434px,#0dfff2 438px,#0dfff2 444px,#4dffb2 448px,#4dffb2 464px,#80ff80 468px,#80ff80 474px,#4dffb2 478px,#4dffb2 494px,#0099ff 498px,#0099ff 504px,#40ffbf 508px,#40ffbf 514px,#b3ff4c 518px,#b3ff4c 524px,#0dfff2 528px,#0dfff2 554px,#4dffb2 558px,#4dffb2 564px,#b3ff4c 568px,#b3ff4c 584px,#ff9900 588px,#ff9900 604px,#e5ff1a 608px,#e5ff1a 614px,#ff9900 618px,#ff9900 634px,#99ff66 638px,#99ff66 644px,#40ffbf 648px,#40ffbf 654px,#73ff8c 658px,#73ff8c 664px,#b3ff4c 668px,#b3ff4c 674px,#a6ff59 678px,#a6ff59 684px,#b3ff4c 688px,#b3ff4c 694px,#ff9900 698px,#ff9900 704px,#e5ff1a 708px,#e5ff1a 714px,#40ffbf 718px,#40ffbf 724px,#b3ff4c 728px,#b3ff4c 734px,#40ffbf 738px,#40ffbf 744px,#e5ff1a 748px,#e5ff1a 754px,#d9ff26 758px,#d9ff26 764px,#80ff80 768px,#80ff80 774px,#99ff66 778px,#99ff66 784px,#e5ff1a 788px,#e5ff1a 804px,#40ffbf 808px,#40ffbf 814px,#99ff66 818px,#99ff66 824px,#40ffbf 828px,#40ffbf 834px,#b3ff4c 838px,#b3ff4c 844px,#99ff66 848px,#99ff66 854px,#d9ff26 858px,#d9ff26 864px,#b3ff4c 868px,#b3ff4c 874px,#e5ff1a 878px,#e5ff1a 884px,#b3ff4c 888px,#b3ff4c 904px,#ff9900 908px,#ff9900 914px,#99ff66 918px,#99ff66 924px,#ccff33 928px,#ccff33 934px,#99ff66 938px,#99ff66 944px,#a6ff59 948px,#a6ff59 954px,#b3ff4c 958px,#b3ff4c 964px,#ff9900 968px,#ff9900 994px,#99ff66 998px,#99ff66 1004px,#e5ff1a 1008px,#e5ff1a 1014px,#ff9900 1018px,#ff9900 1024px,#40ffbf 1028px,#40ffbf 1034px,#4dffb2 1038px,#4dffb2 1054px,#e5ff1a 1058px,#e5ff1a 1064px,#a6ff59 1068px,#a6ff59 1074px,#4dffb2 1078px,#4dffb2 1084px,#b3ff4c 1088px,#b3ff4c 1104px,#4dffb2 1108px,#4dffb2 1114px,#e5ff1a 1118px,#e5ff1a 1124px,#4dffb2 1128px,#4dffb2 1134px,#a6ff59 1138px,#a6ff59 1144px,#80ff80 1148px,#80ff80 1154px,#40ffbf 1158px,#40ffbf 1164px,#0dfff2 1168px,#0dfff2 1174px,#b3ff4c 1178px,#b3ff4c 1184px,#0dfff2 1188px,#0dfff2 1194px,#4dffb2 1198px,#4dffb2 1204px,#40ffbf 1208px,#40ffbf 1214px,#00b2ff 1218px,#00b2ff 1224px,#40ffbf 1228px,#40ffbf 1234px,#80ff80 1238px,#80ff80 1244px,#8cff73 1248px,#8cff73 1254px,#4dffb2 1258px,#4dffb2 1264px,#0dfff2 1268px,#0dfff2 1300px)"></div>
<div style="height:10px;background:linear-gradient(90deg,#b3ff4c 0px,#b3ff4c 24px,#8cff73 28px,#8cff73 34px,#b3ff4c 38px,#b3ff4c 54px,#66ff99 58px,#66ff99 64px,#40ffbf 68px,#40ffbf 74px,#26ffd9 78px,#26ffd9 84px,#8cff73 88px,#8cff73 94px,#80ff80 98px,#80ff80 104px,#26ffd9 108px,#26ffd9 114px,#00ffff 118px,#00ffff 124px,#0073ff 128px,#0073ff 134px,#00a6ff 138px,#00a6ff 144px,#26ffd9 148px,#26ffd9 154px,#66ff99 158px,#66ff99 164px,#b3ff4c 168px,#b3ff4c 174px,#80ff80 178px,#80ff80 184px,#00ffff 188px,#00ffff 194px,#40ffbf 198px,#40ffbf 204px,#a6ff59 208px,#a6ff59 214px,#40ffbf 218px,#40ffbf 234px,#66ff99 238px,#66ff99 254px,#b3ff4c 258px,#b3ff4c 264px,#66ff99 268px,#66ff99 274px,#99ff66 278px,#99ff66 284px,#40ffbf 288px,#40ffbf 294px,#26ffd9 298px,#26ffd9 304px,#40ffbf 308px,#40ffbf 314px,#66ff99 318px,#66ff99 324px,#00ffff 328px,#00ffff 334px,#26ffd9 338px,#26ffd9 344px,#b3ff4c 348px,#b3ff4c 374px,#66ff99 378px,#66ff99 384px,#26ffd9 388px,#26ffd9 394px,#4dffb2 398px,#4dffb2 404px,#8cff73 408px,#8cff73 414px,#00a6ff 418px,#00a6ff 424px,#0073ff 428px,#0073ff 434px,#26ffd9 438px,#26ffd9 444px,#66ff99 448px,#66ff99 464px,#80ff80 468px,#80ff80 474px,#66ff99 478px,#66ff99 484px,#8cff73 488px,#8cff73 494px,#00ccff 498px,#00ccff 504px,#40ffbf 508px,#40ffbf 514px,#b3ff4c 518px,#b3ff4c 524px,#26ffd9 528px,#26ffd9 554px,#66ff99 558px,#66ff99 564px,#b3ff4c 568px,#b3ff4c 584px,#ffd900 588px,#ffd900 604px,#bfff40 608px,#bfff40 614px,#f2ff0d 618px,#f2ff0d 634px,#66ff99 638px,#66ff99 644px,#40ffbf 648px,#40ffbf 654px,#59ffa6 658px,#59ffa6 664px,#b3ff4c 668px,#b3ff4c 674px,#8cff73 678px,#8cff73 684px,#b3ff4c 688px,#b3ff4c 694px,#ffd900 698px,#ffd900 704px,#bfff40 708px,#bfff40 714px,#40ffbf 718px,#40ffbf 724px,#b3ff4c 728px,#b3ff4c 734px,#40ffbf 738px,#40ffbf 744px,#bfff40 748px,#bfff40 754px,#a6ff59 758px,#a6ff59 764px,#80ff80 768px,#80ff80 774px,#66ff99 778px,#66ff99 784px,#bfff40 788px,#bfff40 794px,#e5ff1a 798px,#e5ff1a 804px,#40ffbf 808px,#40ffbf 814px,#66ff99 818px,#66ff99 824px,#40ffbf 828px,#40ffbf 834px,#b3ff4c 838px,#b3ff4c 844px,#66ff99 848px,#66ff99 854px,#a6ff59 858px,#a6ff59 864px,#b3ff4c 868px,#b3ff4c 874px,#bfff40 878px,#bfff40 884px,#b3ff4c 888px,#b3ff4c 904px,#f2ff0d 908px,#f2ff0d 914px,#66ff99 918px,#66ff99 924px,#80ff80 928px,#80ff80 934px,#66ff99 938px,#66ff99 944px,#8cff73 948px,#8cff73 954px,#b3ff4c 958px,#b3ff4c 964px,#ffd900 968px,#ffd900 974px,#f2ff0d 978px,#f2ff0d 984px,#ffd900 988px,#ffd900 994px,#66ff99 998px,#66ff99 1004px,#bfff40 1008px,#bfff40 1014px,#ffd900 1018px,#ffd900 1024px,#40ffbf 1028px,#40ffbf 1034px,#8cff73 1038px,#8cff73 1054px,#bfff40 1058px,#bfff40 1064px,#8cff73 1068px,#8cff73 1074px,#66ff99 1078px,#66ff99 1084px,#b3ff4c 1088px,#b3ff4c 1104px,#66ff99 1108px,#66ff99 1114px,#bfff40 1118px,#bfff40 1124px,#8cff73 1128px,#8cff73 1144px,#80ff80 1148px,#80ff80 1154px,#40ffbf 1158px,#40ffbf 1164px,#26ffd9 1168px,#26ffd9 1174px,#b3ff4c 1178px,#b3ff4c 1184px,#26ffd9 1188px,#26ffd9 1194px,#66ff99 1198px,#66ff99 1204px,#40ffbf 1208px,#40ffbf 1214px,#73ff8c 1218px,#73ff8c 1224px,#40ffbf 1228px,#40ffbf 1234px,#80ff80 1238px,#80ff80 1244px,#99ff66 1248px,#99ff66 1254px,#66ff99 1258px,#66ff99 1264px,#26ffd9 1268px,#26ffd9 1300px)"></div>
<div style="height:10px;background:linear-gradient(90deg,#40ffbf 0px,#40ffbf 24px,#80ff80 28px,#80ff80 34px,#b3ff4c 38px,#b3ff4c 44px,#a6ff59 48px,#a6ff59 54px,#40ffbf 58px,#40ffbf 74px,#4dffb2 78px,#4dffb2 84px,#8cff73 88px,#8cff73 94px,#80ff80 98px,#80ff80 104px,#40ffbf 108px,#40ffbf 114px,#00ffff 118px,#00ffff 134px,#0dfff2 138px,#0dfff2 144px,#40ffbf 148px,#40ffbf 154px,#80ff80 158px,#80ff80 164px,#b3ff4c 168px,#b3ff4c 174px,#80ff80 178px,#80ff80 184px,#0dfff2 188px,#0dfff2 194px,#4dffb2 198px,#4dffb2 204px,#73ff8c 208px,#73ff8c 214px,#4dffb2 218px,#4dffb2 224px,#99ff66 228px,#99ff66 234px,#80ff80 238px,#80ff80 244px,#4dffb2 248px,#4dffb2 254px,#b3ff4c 258px,#b3ff4c 264px,#80ff80 268px,#80ff80 274px,#99ff66 278px,#99ff66 284px,#40ffbf 288px,#40ffbf 294px,#80ff80 298px,#80ff80 304px,#40ffbf 308px,#40ffbf 324px,#00ffff 328px,#00ffff 334px,#40ffbf 338px,#40ffbf 344px,#a6ff59 348px,#a6ff59 354px,#b3ff4c 358px,#b3ff4c 364px,#a6ff59 368px,#a6ff59 374px,#8cff73 378px,#8cff73 384px,#4dffb2 388px,#4dffb2 394px,#8cff73 398px,#8cff73 404px,#b3ff4c 408px,#b3ff4c 414px,#0dfff2 418px,#0dfff2 434px,#40ffbf 438px,#40ffbf 444px,#80ff80 448px,#80ff80 474px,#8cff73 478px,#8cff73 484px,#b3ff4c 488px,#b3ff4c 494px,#1affe5 498px,#1affe5 504px,#4dffb2 508px,#4dffb2 514px,#b3ff4c 518px,#b3ff4c 524px,#4dffb2 528px,#4dffb2 534px,#40ffbf 538px,#40ffbf 554px,#80ff80 558px,#80ff80 564px,#b3ff4c 568px,#b3ff4c 584px,#e5ff1a 588px,#e5ff1a 604px,#99ff66 608px,#99ff66 624px,#b3ff4c 628px,#b3ff4c 634px,#4dffb2 638px,#4dffb2 664px,#b3ff4c 668px,#b3ff4c 674px,#80ff80 678px,#80ff80 684px,#b3ff4c 688px,#b3ff4c 694px,#ffff00 698px,#ffff00 704px,#b3ff4c 708px,#b3ff4c 714px,#40ffbf 718px,#40ffbf 724px,#b3ff4c 728px,#b3ff4c 734px,#4dffb2 738px,#4dffb2 744px,#b3ff4c 748px,#b3ff4c 754px,#80ff80 758px,#80ff80 764px,#73ff8c 768px,#73ff8c 774px,#40ffbf 778px,#40ffbf 784px,#b3ff4c 788px,#b3ff4c 794px,#e5ff1a 798px,#e5ff1a 804px,#40ffbf 808px,#40ffbf 834px,#a6ff59 838px,#a6ff59 844px,#4dffb2 848px,#4dffb2 854px,#80ff80 858px,#80ff80 864px,#b3ff4c 868px,#b3ff4c 884px,#99ff66 888px,#99ff66 894px,#b3ff4c 898px,#b3ff4c 914px,#40ffbf 918px,#40ffbf 944px,#73ff8c 948px,#73ff8c 954px,#99ff66 958px,#99ff66 964px,#ccff33 968px,#ccff33 974px,#b3ff4c 978px,#b3ff4c 984px,#d9ff26 988px,#d9ff26 994px,#4dffb2 998px,#4dffb2 1004px,#99ff66 1008px,#99ff66 1014px,#ccff33 1018px,#ccff33 1024px,#4dffb2 1028px,#4dffb2 1034px,#b3ff4c 1038px,#b3ff4c 1044px,#99ff66 1048px,#99ff66 1054px,#b3ff4c 1058px,#b3ff4c 1064px,#80ff80 1068px,#80ff80 1074px,#8cff73 1078px,#8cff73 1084px,#a6ff59 1088px,#a6ff59 1104px,#80ff80 1108px,#80ff80 1114px,#99ff66 1118px,#99ff66 1124px,#a6ff59 1128px,#a6ff59 1134px,#80ff80 1138px,#80ff80 1154px,#4dffb2 1158px,#4dffb2 1164px,#40ffbf 1168px,#40ffbf 1174px,#99ff66 1178px,#99ff66 1184px,#4dffb2 1188px,#4dffb2 1194px,#73ff8c 1198px,#73ff8c 1204px,#4dffb2 1208px,#4dffb2 1214px,#d9ff26 1218px,#d9ff26 1224px,#40ffbf 1228px,#40ffbf 1234px,#80ff80 1238px,#80ff80 1244px,#b3ff4c 1248px,#b3ff4c 1254px,#80ff80 1258px,#80ff80 1264px,#4dffb2 1268px,#4dffb2 1274px,#40ffbf 1278px,#40ffbf 1300px)"></div>
<div style="height:10px;background:linear-gradient(90deg,#40ffbf 0px,#40ffbf 24px,#80ff80 28px,#80ff80 34px,#b3ff4c 38px,#b3ff4c 44px,#8cff73 48px,#8cff73 54px,#40ffbf 58px,#40ffbf 74px,#66ff99 78px,#66ff99 84px,#99ff66 88px,#99ff66 94px,#80ff80 98px,#80ff80 104px,#40ffbf 108px,#40ffbf 114px,#00ffff 118px,#00ffff 134px,#26ffd9 138px,#26ffd9 144px,#40ffbf 148px,#40ffbf 154px,#80ff80 158px,#80ff80 164px,#b3ff4c 168px,#b3ff4c 174px,#80ff80 178px,#80ff80 184px,#26ffd9 188px,#26ffd9 194px,#66ff99 198px,#66ff99 204px,#59ffa6 208px,#59ffa6 214px,#66ff99 218px,#66ff99 234px,#80ff80 238px,#80ff80 244px,#8cff73 248px,#8cff73 254px,#b3ff4c 258px,#b3ff4c 264px,#80ff80 268px,#80ff80 274px,#66ff99 278px,#66ff99 284px,#40ffbf 288px,#40ffbf 294px,#80ff80 298px,#80ff80 304px,#40ffbf 308px,#40ffbf 324px,#00ffff 328px,#00ffff 334px,#40ffbf 338px,#40ffbf 344px,#8cff73 348px,#8cff73 354px,#b3ff4c 358px,#b3ff4c 364px,#8cff73 368px,#8cff73 374px,#99ff66 378px,#99ff66 384px,#8cff73 388px,#8cff73 394px,#99ff66 398px,#99ff66 404px,#b3ff4c 408px,#b3ff4c 414px,#26ffd9 418px,#26ffd9 434px,#40ffbf 438px,#40ffbf 444px,#80ff80 448px,#80ff80 474px,#99ff66 478px,#99ff66 484px,#b3ff4c 488px,#b3ff4c 494px,#73ff8c 498px,#73ff8c 504px,#66ff99 508px,#66ff99 514px,#b3ff4c 518px,#b3ff4c 524px,#66ff99 528px,#66ff99 534px,#40ffbf 538px,#40ffbf 554px,#80ff80 558px,#80ff80 564px,#b3ff4c 568px,#b3ff4c 584px,#e5ff1a 588px,#e5ff1a 594px,#bfff40 598px,#bfff40 604px,#66ff99 608px,#66ff99 624px,#b3ff4c 628px,#b3ff4c 634px,#66ff99 638px,#66ff99 644px,#8cff73 648px,#8cff73 664px,#b3ff4c 668px,#b3ff4c 674px,#80ff80 678px,#80ff80 684px,#b3ff4c 688px,#b3ff4c 694px,#ffb300 698px,#ffb300 704px,#b3ff4c 708px,#b3ff4c 714px,#40ffbf 718px,#40ffbf 724px,#b3ff4c 728px,#b3ff4c 734px,#8cff73 738px,#8cff73 744px,#b3ff4c 748px,#b3ff4c 754px,#80ff80 758px,#80ff80 764px,#59ffa6 768px,#59ffa6 774px,#40ffbf 778px,#40ffbf 784px,#b3ff4c 788px,#b3ff4c 794px,#e5ff1a 798px,#e5ff1a 804px,#40ffbf 808px,#40ffbf 834px,#8cff73 838px,#8cff73 854px,#80ff80 858px,#80ff80 864px,#b3ff4c 868px,#b3ff4c 884px,#66ff99 888px,#66ff99 894px,#b3ff4c 898px,#b3ff4c 904px,#d9ff26 908px,#d9ff26 914px,#40ffbf 918px,#40ffbf 944px,#59ffa6 948px,#59ffa6 954px,#66ff99 958px,#66ff99 964px,#80ff80 968px,#80ff80 974px,#b3ff4c 978px,#b3ff4c 984px,#a6ff59 988px,#a6ff59 994px,#66ff99 998px,#66ff99 1014px,#80ff80 1018px,#80ff80 1024px,#66ff99 1028px,#66ff99 1034px,#b3ff4c 1038px,#b3ff4c 1044px,#66ff99 1048px,#66ff99 1054px,#b3ff4c 1058px,#b3ff4c 1064px,#80ff80 1068px,#80ff80 1074px,#99ff66 1078px,#99ff66 1084px,#8cff73 1088px,#8cff73 1104px,#80ff80 1108px,#80ff80 1114px,#66ff99 1118px,#66ff99 1124px,#8cff73 1128px,#8cff73 1134px,#80ff80 1138px,#80ff80 1154px,#8cff73 1158px,#8cff73 1164px,#40ffbf 1168px,#40ffbf 1174px,#66ff99 1178px,#66ff99 1184px,#8cff73 1188px,#8cff73 1194px,#59ffa6 1198px,#59ffa6 1204px,#66ff99 1208px,#66ff99 1214px,#a6ff59 1218px,#a6ff59 1224px,#40ffbf 1228px,#40ffbf 1234px,#80ff80 1238px,#80ff80 1244px,#b3ff4c 1248px,#b3ff4c 1254px,#80ff80 1258px,#80ff80 1264px,#8cff73 1268px,#8cff73 1274px,#40ffbf 1278px,#40ffbf 1300px)"></div>
<div style="height:10px;background:linear-gradient(90deg,#4dffb2 0px,#4dffb2 24px,#8cff73 28px,#8cff73 34px,#a6ff59 38px,#a6ff59 44px,#73ff8c 48px,#73ff8c 54px,#40ffbf 58px,#40ffbf 74px,#73ff8c 78px,#73ff8c 84px,#b3ff4c 88px,#b3ff4c 94px,#80ff80 98px,#80ff80 104px,#40ffbf 108px,#40ffbf 114px,#0dfff2 118px,#0dfff2 124px,#00ffff 128px,#00ffff 134px,#40ffbf 138px,#40ffbf 154px,#80ff80 158px,#80ff80 164px,#b3ff4c 168px,#b3ff4c 174px,#8cff73 178px,#8cff73 184px,#40ffbf 188px,#40ffbf 194px,#8cff73 198px,#8cff73 204px,#40ffbf 208px,#40ffbf 214px,#73ff8c 218px,#73ff8c 224px,#4dffb2 228px,#4dffb2 234px,#8cff73 238px,#8cff73 244px,#99ff66 248px,#99ff66 264px,#8cff73 268px,#8cff73 274px,#40ffbf 278px,#40ffbf 284px,#33ffcc 288px,#33ffcc 294px,#8cff73 298px,#8cff73 304px,#40ffbf 308px,#40ffbf 314px,#4dffb2 318px,#4dffb2 324px,#00ffff 328px,#00ffff 334px,#33ffcc 338px,#33ffcc 344px,#8cff73 348px,#8cff73 354px,#b3ff4c 358px,#b3ff4c 364px,#73ff8c 368px,#73ff8c 374px,#b3ff4c 378px,#b3ff4c 384px,#99ff66 388px,#99ff66 394px,#b3ff4c 398px,#b3ff4c 414px,#33ffcc 418px,#33ffcc 424px,#0dfff2 428px,#0dfff2 434px,#33ffcc 438px,#33ffcc 444px,#73ff8c 448px,#73ff8c 464px,#80ff80 468px,#80ff80 474px,#99ff66 478px,#99ff66 504px,#80ff80 508px,#80ff80 514px,#b3ff4c 518px,#b3ff4c 524px,#73ff8c 528px,#73ff8c 534px,#40ffbf 538px,#40ffbf 554px,#8cff73 558px,#8cff73 564px,#b3ff4c 568px,#b3ff4c 584px,#ffff00 588px,#ffff00 594px,#b3ff4c 598px,#b3ff4c 604px,#4dffb2 608px,#4dffb2 624px,#b3ff4c 628px,#b3ff4c 634px,#73ff8c 638px,#73ff8c 644px,#b3ff4c 648px,#b3ff4c 654px,#99ff66 658px,#99ff66 664px,#a6ff59 668px,#a6ff59 674px,#8cff73 678px,#8cff73 684px,#b3ff4c 688px,#b3ff4c 694px,#ff9900 698px,#ff9900 704px,#b3ff4c 708px,#b3ff4c 714px,#40ffbf 718px,#40ffbf 724px,#b3ff4c 728px,#b3ff4c 734px,#99ff66 738px,#99ff66 744px,#ccff33 748px,#ccff33 754px,#8cff73 758px,#8cff73 764px,#40ffbf 768px,#40ffbf 784px,#b3ff4c 788px,#b3ff4c 794px,#d9ff26 798px,#d9ff26 804px,#40ffbf 808px,#40ffbf 814px,#59ffa6 818px,#59ffa6 824px,#4dffb2 828px,#4dffb2 834px,#8cff73 838px,#8cff73 844px,#99ff66 848px,#99ff66 854px,#8cff73 858px,#8cff73 864px,#b3ff4c 868px,#b3ff4c 874px,#99ff66 878px,#99ff66 884px,#4dffb2 888px,#4dffb2 894px,#b3ff4c 898px,#b3ff4c 904px,#ffff00 908px,#ffff00 914px,#40ffbf 918px,#40ffbf 964px,#73ff8c 968px,#73ff8c 974px,#99ff66 978px,#99ff66 984px,#73ff8c 988px,#73ff8c 994px,#8cff73 998px,#8cff73 1004px,#40ffbf 1008px,#40ffbf 1024px,#8cff73 1028px,#8cff73 1034px,#a6ff59 1038px,#a6ff59 1044px,#40ffbf 1048px,#40ffbf 1054px,#b3ff4c 1058px,#b3ff4c 1064px,#73ff8c 1068px,#73ff8c 1074px,#b3ff4c 1078px,#b3ff4c 1084px,#80ff80 1088px,#80ff80 1094px,#8cff73 1098px,#8cff73 1104px,#80ff80 1108px,#80ff80 1114px,#40ffbf 1118px,#40ffbf 1124px,#80ff80 1128px,#80ff80 1144px,#8cff73 1148px,#8cff73 1154px,#99ff66 1158px,#99ff66 1164px,#40ffbf 1168px,#40ffbf 1184px,#a6ff59 1188px,#a6ff59 1194px,#40ffbf 1198px,#40ffbf 1204px,#66ff99 1208px,#66ff99 1214px,#73ff8c 1218px,#73ff8c 1224px,#40ffbf 1228px,#40ffbf 1234px,#80ff80 1238px,#80ff80 1244px,#b3ff4c 1248px,#b3ff4c 1254px,#80ff80 1258px,#80ff80 1264px,#99ff66 1268px,#99ff66 1274px,#33ffcc 1278px,#33ffcc 1300px)"></div>
<div style="height:10px;background:linear-gradient(90deg,#66ff99 0px,#66ff99 24px,#99ff66 28px,#99ff66 34px,#8cff73 38px,#8cff73 44px,#59ffa6 48px,#59ffa6 54px,#40ffbf 58px,#40ffbf 74px,#59ffa6 78px,#59ffa6 84px,#b3ff4c 88px,#b3ff4c 94px,#80ff80 98px,#80ff80 104px,#40ffbf 108px,#40ffbf 114px,#26ffd9 118px,#26ffd9 124px,#00ffff 128px,#00ffff 134px,#40ffbf 138px,#40ffbf 154px,#80ff80 158px,#80ff80 164px,#b3ff4c 168px,#b3ff4c 174px,#ccff33 178px,#ccff33 184px,#40ffbf 188px,#40ffbf 194px,#99ff66 198px,#99ff66 204px,#40ffbf 208px,#40ffbf 214px,#59ffa6 218px,#59ffa6 224px,#66ff99 228px,#66ff99 234px,#99ff66 238px,#99ff66 244px,#40ffbf 248px,#40ffbf 254px,#66ff99 258px,#66ff99 264px,#99ff66 268px,#99ff66 274px,#40ffbf 278px,#40ffbf 284px,#1affe5 288px,#1affe5 294px,#99ff66 298px,#99ff66 304px,#40ffbf 308px,#40ffbf 314px,#66ff99 318px,#66ff99 324px,#00ffff 328px,#00ffff 334px,#1affe5 338px,#1affe5 344px,#ccff33 348px,#ccff33 354px,#b3ff4c 358px,#b3ff4c 364px,#59ffa6 368px,#59ffa6 374px,#b3ff4c 378px,#b3ff4c 384px,#66ff99 388px,#66ff99 394px,#b3ff4c 398px,#b3ff4c 414px,#1affe5 418px,#1affe5 424px,#0073ff 428px,#0073ff 434px,#1affe5 438px,#1affe5 444px,#59ffa6 448px,#59ffa6 464px,#80ff80 468px,#80ff80 474px,#66ff99 478px,#66ff99 504px,#80ff80 508px,#80ff80 514px,#b3ff4c 518px,#b3ff4c 524px,#59ffa6 528px,#59ffa6 534px,#40ffbf 538px,#40ffbf 554px,#99ff66 558px,#99ff66 564px,#b3ff4c 568px,#b3ff4c 584px,#ffb300 588px,#ffb300 594px,#d9ff26 598px,#d9ff26 604px,#8cff73 608px,#8cff73 624px,#b3ff4c 628px,#b3ff4c 634px,#59ffa6 638px,#59ffa6 644px,#b3ff4c 648px,#b3ff4c 654px,#66ff99 658px,#66ff99 664px,#8cff73 668px,#8cff73 674px,#99ff66 678px,#99ff66 684px,#b3ff4c 688px,#b3ff4c 694px,#ffd900 698px,#ffd900 704px,#b3ff4c 708px,#b3ff4c 714px,#40ffbf 718px,#40ffbf 724px,#b3ff4c 728px,#b3ff4c 734px,#66ff99 738px,#66ff99 744px,#ffcc00 748px,#ffcc00 754px,#99ff66 758px,#99ff66 764px,#40ffbf 768px,#40ffbf 784px,#b3ff4c 788px,#b3ff4c 794px,#a6ff59 798px,#a6ff59 804px,#40ffbf 808px,#40ffbf 814px,#b3ff4c 818px,#b3ff4c 824px,#66ff99 828px,#66ff99 834px,#99ff66 838px,#99ff66 844px,#66ff99 848px,#66ff99 854px,#99ff66 858px,#99ff66 864px,#b3ff4c 868px,#b3ff4c 874px,#66ff99 878px,#66ff99 894px,#b3ff4c 898px,#b3ff4c 904px,#ffb300 908px,#ffb300 914px,#40ffbf 918px,#40ffbf 964px,#fff200 968px,#fff200 974px,#66ff99 978px,#66ff99 984px,#59ffa6 988px,#59ffa6 994px,#99ff66 998px,#99ff66 1004px,#40ffbf 1008px,#40ffbf 1024px,#99ff66 1028px,#99ff66 1034px,#8cff73 1038px,#8cff73 1044px,#40ffbf 1048px,#40ffbf 1054px,#b3ff4c 1058px,#b3ff4c 1064px,#59ffa6 1068px,#59ffa6 1074px,#b3ff4c 1078px,#b3ff4c 1084px,#80ff80 1088px,#80ff80 1094px,#ccff33 1098px,#ccff33 1104px,#80ff80 1108px,#80ff80 1114px,#40ffbf 1118px,#40ffbf 1124px,#80ff80 1128px,#80ff80 1144px,#99ff66 1148px,#99ff66 1154px,#66ff99 1158px,#66ff99 1164px,#40ffbf 1168px,#40ffbf 1184px,#8cff73 1188px,#8cff73 1194px,#40ffbf 1198px,#40ffbf 1204px,#26ffd9 1208px,#26ffd9 1214px,#59ffa6 1218px,#59ffa6 1224px,#40ffbf 1228px,#40ffbf 1234px,#80ff80 1238px,#80ff80 1244px,#b3ff4c 1248px,#b3ff4c 1254px,#80ff80 1258px,#80ff80 1264px,#66ff99 1268px,#66ff99 1274px,#1affe5 1278px,#1affe5 1300px)"></div>
<div style="height:10px;background:linear-gradient(90deg,#8cff73 0px,#8cff73 24px,#b3ff4c 28px,#b3ff4c 34px,#8cff73 38px,#8cff73 44px,#40ffbf 48px,#40ffbf 54px,#4dffb2 58px,#4dffb2 64px,#40ffbf 68px,#40ffbf 84px,#b3ff4c 88px,#b3ff4c 94px,#73ff8c 98px,#73ff8c 104px,#40ffbf 108px,#40ffbf 114px,#33ffcc 118px,#33ffcc 124px,#00d9ff 128px,#00d9ff 134px,#0dfff2 138px,#0dfff2 144px,#33ffcc 148px,#33ffcc 154px,#73ff8c 158px,#73ff8c 164px,#a6ff59 168px,#a6ff59 174px,#e5ff1a 178px,#e5ff1a 184px,#40ffbf 188px,#40ffbf 194px,#b3ff4c 198px,#b3ff4c 204px,#59ffa6 208px,#59ffa6 214px,#40ffbf 218px,#40ffbf 224px,#8cff73 228px,#8cff73 234px,#b3ff4c 238px,#b3ff4c 244px,#00ffff 248px,#00ffff 254px,#40ffbf 258px,#40ffbf 264px,#b3ff4c 268px,#b3ff4c 274px,#40ffbf 278px,#40ffbf 284px,#0dfff2 288px,#0dfff2 294px,#b3ff4c 298px,#b3ff4c 304px,#4dffb2 308px,#4dffb2 314px,#73ff8c 318px,#73ff8c 324px,#00e5ff 328px,#00e5ff 344px,#e5ff1a 348px,#e5ff1a 354px,#b3ff4c 358px,#b3ff4c 364px,#40ffbf 368px,#40ffbf 374px,#99ff66 378px,#99ff66 384px,#40ffbf 388px,#40ffbf 394px,#99ff66 398px,#99ff66 414px,#00d9ff 418px,#00d9ff 424px,#0000e6 428px,#0000e6 434px,#00ffff 438px,#00ffff 444px,#40ffbf 448px,#40ffbf 464px,#73ff8c 468px,#73ff8c 474px,#26ffd9 478px,#26ffd9 504px,#73ff8c 508px,#73ff8c 514px,#b3ff4c 518px,#b3ff4c 524px,#26ffd9 528px,#26ffd9 544px,#33ffcc 548px,#33ffcc 554px,#99ff66 558px,#99ff66 564px,#b3ff4c 568px,#b3ff4c 584px,#ff8000 588px,#ff8000 594px,#ffff00 598px,#ffff00 604px,#b3ff4c 608px,#b3ff4c 634px,#40ffbf 638px,#40ffbf 644px,#99ff66 648px,#99ff66 654px,#40ffbf 658px,#40ffbf 664px,#80ff80 668px,#80ff80 674px,#b3ff4c 678px,#b3ff4c 694px,#e5ff1a 698px,#e5ff1a 704px,#b3ff4c 708px,#b3ff4c 714px,#4dffb2 718px,#4dffb2 724px,#b3ff4c 728px,#b3ff4c 734px,#4dffb2 738px,#4dffb2 744px,#ff8000 748px,#ff8000 754px,#b3ff4c 758px,#b3ff4c 764px,#40ffbf 768px,#40ffbf 784px,#b3ff4c 788px,#b3ff4c 794px,#73ff8c 798px,#73ff8c 814px,#ffff00 818px,#ffff00 824px,#8cff73 828px,#8cff73 834px,#b3ff4c 838px,#b3ff4c 844px,#59ffa6 848px,#59ffa6 854px,#b3ff4c 858px,#b3ff4c 864px,#99ff66 868px,#99ff66 874px,#4dffb2 878px,#4dffb2 884px,#8cff73 888px,#8cff73 894px,#b3ff4c 898px,#b3ff4c 904px,#ff9900 908px,#ff9900 914px,#4dffb2 918px,#4dffb2 924px,#40ffbf 928px,#40ffbf 944px,#4dffb2 948px,#4dffb2 964px,#ff6600 968px,#ff6600 974px,#59ffa6 978px,#59ffa6 984px,#40ffbf 988px,#40ffbf 994px,#b3ff4c 998px,#b3ff4c 1004px,#73ff8c 1008px,#73ff8c 1014px,#40ffbf 1018px,#40ffbf 1024px,#99ff66 1028px,#99ff66 1034px,#8cff73 1038px,#8cff73 1044px,#4dffb2 1048px,#4dffb2 1054px,#99ff66 1058px,#99ff66 1064px,#4dffb2 1068px,#4dffb2 1074px,#b3ff4c 1078px,#b3ff4c 1084px,#8cff73 1088px,#8cff73 1094px,#ffff00 1098px,#ffff00 1104px,#8cff73 1108px,#8cff73 1114px,#40ffbf 1118px,#40ffbf 1124px,#8cff73 1128px,#8cff73 1134px,#80ff80 1138px,#80ff80 1144px,#b3ff4c 1148px,#b3ff4c 1154px,#33ffcc 1158px,#33ffcc 1164px,#26ffd9 1168px,#26ffd9 1174px,#33ffcc 1178px,#33ffcc 1184px,#73ff8c 1188px,#73ff8c 1194px,#40ffbf 1198px,#40ffbf 1204px,#00ffff 1208px,#00ffff 1214px,#40ffbf 1218px,#40ffbf 1234px,#8cff73 1238px,#8cff73 1244px,#b3ff4c 1248px,#b3ff4c 1254px,#80ff80 1258px,#80ff80 1264px,#40ffbf 1268px,#40ffbf 1274px,#00ffff 1278px,#00ffff 1300px)"></div>
<div style="height:10px;background:linear-gradient(90deg,#99ff66 0px,#99ff66 24px,#d9ff26 28px,#d9ff26 34px,#99ff66 38px,#99ff66 44px,#40ffbf 48px,#40ffbf 54px,#66ff99 58px,#66ff99 64px,#40ffbf 68px,#40ffbf 84px,#b3ff4c 88px,#b3ff4c 94px,#59ffa6 98px,#59ffa6 104px,#40ffbf 108px,#40ffbf 114px,#1affe5 118px,#1affe5 124px,#0059ff 128px,#0059ff 134px,#0073ff 138px,#0073ff 144px,#1affe5 148px,#1affe5 154px,#59ffa6 158px,#59ffa6 164px,#8cff73 168px,#8cff73 174px,#e5ff1a 178px,#e5ff1a 184px,#40ffbf 188px,#40ffbf 194px,#b3ff4c 198px,#b3ff4c 214px,#40ffbf 218px,#40ffbf 224px,#99ff66 228px,#99ff66 234px,#d9ff26 238px,#d9ff26 244px,#00ffff 248px,#00ffff 254px,#40ffbf 258px,#40ffbf 264px,#b3ff4c 268px,#b3ff4c 274px,#40ffbf 278px,#40ffbf 284px,#26ffd9 288px,#26ffd9 294px,#b3ff4c 298px,#b3ff4c 304px,#8cff73 308px,#8cff73 314px,#59ffa6 318px,#59ffa6 324px,#00a6ff 328px,#00a6ff 344px,#e5ff1a 348px,#e5ff1a 354px,#b3ff4c 358px,#b3ff4c 364px,#40ffbf 368px,#40ffbf 374px,#66ff99 378px,#66ff99 384px,#40ffbf 388px,#40ffbf 404px,#66ff99 408px,#66ff99 414px,#0059ff 418px,#0059ff 424px,#0000b2 428px,#0000b2 434px,#00ffff 438px,#00ffff 444px,#40ffbf 448px,#40ffbf 464px,#59ffa6 468px,#59ffa6 474px,#00bfff 478px,#00bfff 504px,#59ffa6 508px,#59ffa6 514px,#b3ff4c 518px,#b3ff4c 524px,#00bfff 528px,#00bfff 544px,#1affe5 548px,#1affe5 554px,#66ff99 558px,#66ff99 564px,#b3ff4c 568px,#b3ff4c 574px,#d9ff26 578px,#d9ff26 584px,#ff8000 588px,#ff8000 594px,#ffb300 598px,#ffb300 604px,#d9ff26 608px,#d9ff26 614px,#b3ff4c 618px,#b3ff4c 634px,#40ffbf 638px,#40ffbf 644px,#66ff99 648px,#66ff99 654px,#40ffbf 658px,#40ffbf 664px,#80ff80 668px,#80ff80 674px,#b3ff4c 678px,#b3ff4c 684px,#d9ff26 688px,#d9ff26 694px,#e5ff1a 698px,#e5ff1a 704px,#d9ff26 708px,#d9ff26 714px,#66ff99 718px,#66ff99 724px,#b3ff4c 728px,#b3ff4c 734px,#8cff73 738px,#8cff73 744px,#ff8000 748px,#ff8000 754px,#b3ff4c 758px,#b3ff4c 764px,#40ffbf 768px,#40ffbf 784px,#b3ff4c 788px,#b3ff4c 794px,#59ffa6 798px,#59ffa6 804px,#fff200 808px,#fff200 814px,#ffb300 818px,#ffb300 824px,#99ff66 828px,#99ff66 834px,#b3ff4c 838px,#b3ff4c 854px,#d9ff26 858px,#d9ff26 864px,#66ff99 868px,#66ff99 884px,#99ff66 888px,#99ff66 894px,#b3ff4c 898px,#b3ff4c 904px,#ffd900 908px,#ffd900 914px,#8cff73 918px,#8cff73 924px,#40ffbf 928px,#40ffbf 944px,#8cff73 948px,#8cff73 964px,#ff2600 968px,#ff2600 974px,#b3ff4c 978px,#b3ff4c 984px,#40ffbf 988px,#40ffbf 994px,#b3ff4c 998px,#b3ff4c 1004px,#fff200 1008px,#fff200 1014px,#40ffbf 1018px,#40ffbf 1024px,#66ff99 1028px,#66ff99 1034px,#99ff66 1038px,#99ff66 1044px,#8cff73 1048px,#8cff73 1054px,#40ffbf 1058px,#40ffbf 1064px,#8cff73 1068px,#8cff73 1074px,#d9ff26 1078px,#d9ff26 1084px,#99ff66 1088px,#99ff66 1094px,#ffb300 1098px,#ffb300 1104px,#99ff66 1108px,#99ff66 1114px,#40ffbf 1118px,#40ffbf 1124px,#99ff66 1128px,#99ff66 1134px,#80ff80 1138px,#80ff80 1144px,#b3ff4c 1148px,#b3ff4c 1154px,#1affe5 1158px,#1affe5 1164px,#00bfff 1168px,#00bfff 1174px,#1affe5 1178px,#1affe5 1184px,#59ffa6 1188px,#59ffa6 1194px,#40ffbf 1198px,#40ffbf 1204px,#00ffff 1208px,#00ffff 1214px,#40ffbf 1218px,#40ffbf 1234px,#99ff66 1238px,#99ff66 1244px,#b3ff4c 1248px,#b3ff4c 1254px,#80ff80 1258px,#80ff80 1264px,#40ffbf 1268px,#40ffbf 1274px,#00ffff 1278px,#00ffff 1300px)"></div>
<div style="height:10px;background:linear-gradient(90deg,#b3ff4c 0px,#b3ff4c 24px,#ffff00 28px,#ffff00 34px,#b3ff4c 38px,#b3ff4c 44px,#40ffbf 48px,#40ffbf 54px,#80ff80 58px,#80ff80 64px,#4dffb2 68px,#4dffb2 74px,#40ffbf 78px,#40ffbf 84px,#b3ff4c 88px,#b3ff4c 94px,#40ffbf 98px,#40ffbf 104px,#33ffcc 108px,#33ffcc 114px,#00e5ff 118px,#00e5ff 124px,#0000e6 128px,#0000e6 144px,#00ffff 148px,#00ffff 154px,#40ffbf 158px,#40ffbf 164px,#73ff8c 168px,#73ff8c 174px,#e5ff1a 178px,#e5ff1a 184px,#40ffbf 188px,#40ffbf 194px,#a6ff59 198px,#a6ff59 204px,#e5ff1a 208px,#e5ff1a 214px,#40ffbf 218px,#40ffbf 224px,#a6ff59 228px,#a6ff59 234px,#e5ff1a 238px,#e5ff1a 244px,#00ffff 248px,#00ffff 254px,#40ffbf 258px,#40ffbf 264px,#b3ff4c 268px,#b3ff4c 274px,#4dffb2 278px,#4dffb2 284px,#40ffbf 288px,#40ffbf 294px,#a6ff59 298px,#a6ff59 314px,#40ffbf 318px,#40ffbf 324px,#0080ff 328px,#0080ff 344px,#e5ff1a 348px,#e5ff1a 354px,#b3ff4c 358px,#b3ff4c 364px,#4dffb2 368px,#4dffb2 374px,#40ffbf 378px,#40ffbf 384px,#33ffcc 388px,#33ffcc 394px,#00ffff 398px,#00ffff 404px,#40ffbf 408px,#40ffbf 414px,#0000ff 418px,#0000ff 424px,#000099 428px,#000099 434px,#00ffff 438px,#00ffff 444px,#40ffbf 448px,#40ffbf 474px,#0080ff 478px,#0080ff 504px,#40ffbf 508px,#40ffbf 514px,#b3ff4c 518px,#b3ff4c 524px,#0080ff 528px,#0080ff 534px,#0099ff 538px,#0099ff 544px,#00ffff 548px,#00ffff 554px,#40ffbf 558px,#40ffbf 564px,#b3ff4c 568px,#b3ff4c 574px,#e5ff1a 578px,#e5ff1a 584px,#ff9900 588px,#ff9900 594px,#ff6600 598px,#ff6600 604px,#e5ff1a 608px,#e5ff1a 614px,#b3ff4c 618px,#b3ff4c 634px,#40ffbf 638px,#40ffbf 654px,#4dffb2 658px,#4dffb2 664px,#73ff8c 668px,#73ff8c 674px,#b3ff4c 678px,#b3ff4c 684px,#e5ff1a 688px,#e5ff1a 714px,#73ff8c 718px,#73ff8c 724px,#b3ff4c 728px,#b3ff4c 734px,#99ff66 738px,#99ff66 744px,#ff9900 748px,#ff9900 754px,#b3ff4c 758px,#b3ff4c 764px,#40ffbf 768px,#40ffbf 784px,#b3ff4c 788px,#b3ff4c 794px,#4dffb2 798px,#4dffb2 804px,#ffb300 808px,#ffb300 814px,#ff9900 818px,#ff9900 824px,#b3ff4c 828px,#b3ff4c 844px,#ffff00 848px,#ffff00 854px,#e5ff1a 858px,#e5ff1a 864px,#4dffb2 868px,#4dffb2 874px,#73ff8c 878px,#73ff8c 884px,#b3ff4c 888px,#b3ff4c 904px,#e5ff1a 908px,#e5ff1a 914px,#b3ff4c 918px,#b3ff4c 924px,#4dffb2 928px,#4dffb2 944px,#b3ff4c 948px,#b3ff4c 964px,#ff1a00 968px,#ff1a00 974px,#e5ff1a 978px,#e5ff1a 984px,#59ffa6 988px,#59ffa6 994px,#b3ff4c 998px,#b3ff4c 1004px,#ff8000 1008px,#ff8000 1014px,#40ffbf 1018px,#40ffbf 1034px,#b3ff4c 1038px,#b3ff4c 1054px,#0dfff2 1058px,#0dfff2 1064px,#b3ff4c 1068px,#b3ff4c 1074px,#e5ff1a 1078px,#e5ff1a 1084px,#b3ff4c 1088px,#b3ff4c 1094px,#ff9900 1098px,#ff9900 1104px,#b3ff4c 1108px,#b3ff4c 1114px,#40ffbf 1118px,#40ffbf 1124px,#99ff66 1128px,#99ff66 1134px,#8cff73 1138px,#8cff73 1144px,#a6ff59 1148px,#a6ff59 1154px,#00ffff 1158px,#00ffff 1164px,#0080ff 1168px,#0080ff 1174px,#00ffff 1178px,#00ffff 1184px,#40ffbf 1188px,#40ffbf 1204px,#0dfff2 1208px,#0dfff2 1214px,#40ffbf 1218px,#40ffbf 1224px,#4dffb2 1228px,#4dffb2 1234px,#b3ff4c 1238px,#b3ff4c 1244px,#a6ff59 1248px,#a6ff59 1254px,#80ff80 1258px,#80ff80 1264px,#40ffbf 1268px,#40ffbf 1274px,#00ffff 1278px,#00ffff 1300px)"></div>
<div style="height:10px;background:linear-gradient(90deg,#b3ff4c 0px,#b3ff4c 24px,#ffb300 28px,#ffb300 34px,#d9ff26 38px,#d9ff26 44px,#40ffbf 48px,#40ffbf 54px,#80ff80 58px,#80ff80 64px,#8cff73 68px,#8cff73 74px,#40ffbf 78px,#40ffbf 84px,#b3ff4c 88px,#b3ff4c 94px,#40ffbf 98px,#40ffbf 104px,#1affe5 108px,#1affe5 114px,#00a6ff 118px,#00a6ff 124px,#0000b2 128px,#0000b2 144px,#00ffff 148px,#00ffff 154px,#40ffbf 158px,#40ffbf 164px,#59ffa6 168px,#59ffa6 174px,#bfff40 178px,#bfff40 184px,#40ffbf 188px,#40ffbf 194px,#8cff73 198px,#8cff73 204px,#e5ff1a 208px,#e5ff1a 214px,#40ffbf 218px,#40ffbf 224px,#8cff73 228px,#8cff73 234px,#e5ff1a 238px,#e5ff1a 244px,#00ffff 248px,#00ffff 254px,#40ffbf 258px,#40ffbf 264px,#b3ff4c 268px,#b3ff4c 274px,#8cff73 278px,#8cff73 284px,#40ffbf 288px,#40ffbf 294px,#8cff73 298px,#8cff73 314px,#40ffbf 318px,#40ffbf 324px,#0080ff 328px,#0080ff 344px,#bfff40 348px,#bfff40 354px,#b3ff4c 358px,#b3ff4c 364px,#8cff73 368px,#8cff73 374px,#40ffbf 378px,#40ffbf 384px,#1affe5 388px,#1affe5 394px,#00ffff 398px,#00ffff 404px,#40ffbf 408px,#40ffbf 414px,#0000ff 418px,#0000ff 424px,#0000cc 428px,#0000cc 434px,#00ffff 438px,#00ffff 444px,#40ffbf 448px,#40ffbf 474px,#0080ff 478px,#0080ff 504px,#40ffbf 508px,#40ffbf 514px,#b3ff4c 518px,#b3ff4c 524px,#0080ff 528px,#0080ff 534px,#00d9ff 538px,#00d9ff 544px,#00ffff 548px,#00ffff 554px,#40ffbf 558px,#40ffbf 564px,#b3ff4c 568px,#b3ff4c 574px,#e5ff1a 578px,#e5ff1a 584px,#ffd900 588px,#ffd900 594px,#ff2600 598px,#ff2600 604px,#e5ff1a 608px,#e5ff1a 614px,#b3ff4c 618px,#b3ff4c 634px,#40ffbf 638px,#40ffbf 654px,#66ff99 658px,#66ff99 664px,#59ffa6 668px,#59ffa6 674px,#b3ff4c 678px,#b3ff4c 684px,#e5ff1a 688px,#e5ff1a 714px,#59ffa6 718px,#59ffa6 724px,#b3ff4c 728px,#b3ff4c 734px,#66ff99 738px,#66ff99 744px,#ffd900 748px,#ffd900 754px,#d9ff26 758px,#d9ff26 764px,#40ffbf 768px,#40ffbf 784px,#b3ff4c 788px,#b3ff4c 794px,#8cff73 798px,#8cff73 804px,#b3ff4c 808px,#b3ff4c 814px,#f2ff0d 818px,#f2ff0d 824px,#d9ff26 828px,#d9ff26 834px,#b3ff4c 838px,#b3ff4c 844px,#ffb300 848px,#ffb300 854px,#e5ff1a 858px,#e5ff1a 864px,#66ff99 868px,#66ff99 874px,#59ffa6 878px,#59ffa6 884px,#b3ff4c 888px,#b3ff4c 894px,#d9ff26 898px,#d9ff26 904px,#e5ff1a 908px,#e5ff1a 914px,#b3ff4c 918px,#b3ff4c 924px,#8cff73 928px,#8cff73 944px,#b3ff4c 948px,#b3ff4c 954px,#d9ff26 958px,#d9ff26 964px,#ff5900 968px,#ff5900 974px,#e5ff1a 978px,#e5ff1a 984px,#b3ff4c 988px,#b3ff4c 994px,#d9ff26 998px,#d9ff26 1004px,#ff8000 1008px,#ff8000 1014px,#40ffbf 1018px,#40ffbf 1034px,#b3ff4c 1038px,#b3ff4c 1044px,#d9ff26 1048px,#d9ff26 1054px,#26ffd9 1058px,#26ffd9 1064px,#b3ff4c 1068px,#b3ff4c 1074px,#bfff40 1078px,#bfff40 1084px,#b3ff4c 1088px,#b3ff4c 1094px,#ffd900 1098px,#ffd900 1104px,#b3ff4c 1108px,#b3ff4c 1114px,#40ffbf 1118px,#40ffbf 1124px,#66ff99 1128px,#66ff99 1134px,#99ff66 1138px,#99ff66 1144px,#8cff73 1148px,#8cff73 1154px,#00ffff 1158px,#00ffff 1164px,#0080ff 1168px,#0080ff 1174px,#00ffff 1178px,#00ffff 1184px,#40ffbf 1188px,#40ffbf 1204px,#26ffd9 1208px,#26ffd9 1214px,#40ffbf 1218px,#40ffbf 1224px,#66ff99 1228px,#66ff99 1234px,#b3ff4c 1238px,#b3ff4c 1244px,#8cff73 1248px,#8cff73 1254px,#80ff80 1258px,#80ff80 1264px,#40ffbf 1268px,#40ffbf 1274px,#00ffff 1278px,#00ffff 1300px)"></div>
<div style="height:10px;background:linear-gradient(90deg,#b3ff4c 0px,#b3ff4c 24px,#ff9900 28px,#ff9900 34px,#e5ff1a 38px,#e5ff1a 44px,#40ffbf 48px,#40ffbf 54px,#80ff80 58px,#80ff80 64px,#b3ff4c 68px,#b3ff4c 74px,#40ffbf 78px,#40ffbf 84px,#a6ff59 88px,#a6ff59 94px,#40ffbf 98px,#40ffbf 104px,#00ffff 108px,#00ffff 114px,#0066ff 118px,#0066ff 124px,#000080 128px,#000080 144px,#00ffff 148px,#00ffff 154px,#40ffbf 158px,#40ffbf 174px,#a6ff59 178px,#a6ff59 184px,#40ffbf 188px,#40ffbf 194px,#8cff73 198px,#8cff73 204px,#e5ff1a 208px,#e5ff1a 214px,#40ffbf 218px,#40ffbf 224px,#80ff80 228px,#80ff80 234px,#e5ff1a 238px,#e5ff1a 244px,#0dfff2 248px,#0dfff2 254px,#4dffb2 258px,#4dffb2 264px,#b3ff4c 268px,#b3ff4c 274px,#a6ff59 278px,#a6ff59 284px,#59ffa6 288px,#59ffa6 294px,#8cff73 298px,#8cff73 304px,#73ff8c 308px,#73ff8c 314px,#40ffbf 318px,#40ffbf 324px,#0099ff 328px,#0099ff 344px,#b3ff4c 348px,#b3ff4c 374px,#40ffbf 378px,#40ffbf 384px,#00ffff 388px,#00ffff 394px,#0dfff2 398px,#0dfff2 404px,#40ffbf 408px,#40ffbf 414px,#001aff 418px,#001aff 434px,#0dfff2 438px,#0dfff2 444px,#4dffb2 448px,#4dffb2 454px,#40ffbf 458px,#40ffbf 474px,#0099ff 478px,#0099ff 494px,#0080ff 498px,#0080ff 504px,#40ffbf 508px,#40ffbf 514px,#a6ff59 518px,#a6ff59 524px,#0080ff 528px,#0080ff 534px,#00ffff 538px,#00ffff 554px,#40ffbf 558px,#40ffbf 564px,#b3ff4c 568px,#b3ff4c 574px,#e5ff1a 578px,#e5ff1a 594px,#ff1a00 598px,#ff1a00 604px,#e5ff1a 608px,#e5ff1a 614px,#b3ff4c 618px,#b3ff4c 634px,#40ffbf 638px,#40ffbf 654px,#8cff73 658px,#8cff73 664px,#40ffbf 668px,#40ffbf 674px,#b3ff4c 678px,#b3ff4c 684px,#e5ff1a 688px,#e5ff1a 714px,#40ffbf 718px,#40ffbf 724px,#b3ff4c 728px,#b3ff4c 734px,#40ffbf 738px,#40ffbf 744px,#e5ff1a 748px,#e5ff1a 764px,#40ffbf 768px,#40ffbf 784px,#b3ff4c 788px,#b3ff4c 804px,#40ffbf 808px,#40ffbf 814px,#a6ff59 818px,#a6ff59 824px,#e5ff1a 828px,#e5ff1a 834px,#b3ff4c 838px,#b3ff4c 844px,#ff9900 848px,#ff9900 854px,#e5ff1a 858px,#e5ff1a 864px,#73ff8c 868px,#73ff8c 874px,#4dffb2 878px,#4dffb2 884px,#b3ff4c 888px,#b3ff4c 894px,#e5ff1a 898px,#e5ff1a 904px,#ffff00 908px,#ffff00 914px,#b3ff4c 918px,#b3ff4c 954px,#e5ff1a 958px,#e5ff1a 964px,#ff8000 968px,#ff8000 974px,#ffff00 978px,#ffff00 984px,#e5ff1a 988px,#e5ff1a 1004px,#ff8000 1008px,#ff8000 1014px,#4dffb2 1018px,#4dffb2 1024px,#40ffbf 1028px,#40ffbf 1034px,#b3ff4c 1038px,#b3ff4c 1044px,#e5ff1a 1048px,#e5ff1a 1054px,#4dffb2 1058px,#4dffb2 1064px,#99ff66 1068px,#99ff66 1084px,#b3ff4c 1088px,#b3ff4c 1094px,#e5ff1a 1098px,#e5ff1a 1104px,#b3ff4c 1108px,#b3ff4c 1114px,#40ffbf 1118px,#40ffbf 1134px,#b3ff4c 1138px,#b3ff4c 1144px,#8cff73 1148px,#8cff73 1154px,#0dfff2 1158px,#0dfff2 1164px,#0099ff 1168px,#0099ff 1174px,#0dfff2 1178px,#0dfff2 1184px,#4dffb2 1188px,#4dffb2 1194px,#40ffbf 1198px,#40ffbf 1204px,#59ffa6 1208px,#59ffa6 1214px,#4dffb2 1218px,#4dffb2 1224px,#8cff73 1228px,#8cff73 1234px,#a6ff59 1238px,#a6ff59 1244px,#8cff73 1248px,#8cff73 1254px,#80ff80 1258px,#80ff80 1264px,#40ffbf 1268px,#40ffbf 1274px,#0dfff2 1278px,#0dfff2 1300px)"></div>
<div style="height:10px;background:linear-gradient(90deg,#b3ff4c 0px,#b3ff4c 24px,#ffd900 28px,#ffd900 34px,#bfff40 38px,#bfff40 44px,#40ffbf 48px,#40ffbf 54px,#80ff80 58px,#80ff80 64px,#b3ff4c 68px,#b3ff4c 74px,#40ffbf 78px,#40ffbf 84px,#8cff73 88px,#8cff73 94px,#40ffbf 98px,#40ffbf 104px,#00ffff 108px,#00ffff 114px,#0026ff 118px,#0026ff 124px,#000080 128px,#000080 144px,#00ffff 148px,#00ffff 154px,#40ffbf 158px,#40ffbf 174px,#8cff73 178px,#8cff73 184px,#40ffbf 188px,#40ffbf 194px,#99ff66 198px,#99ff66 204px,#bfff40 208px,#bfff40 214px,#40ffbf 218px,#40ffbf 224px,#80ff80 228px,#80ff80 234px,#bfff40 238px,#bfff40 244px,#26ffd9 248px,#26ffd9 254px,#8cff73 258px,#8cff73 264px,#b3ff4c 268px,#b3ff4c 274px,#8cff73 278px,#8cff73 284px,#b3ff4c 288px,#b3ff4c 294px,#99ff66 298px,#99ff66 304px,#59ffa6 308px,#59ffa6 314px,#40ffbf 318px,#40ffbf 324px,#00d9ff 328px,#00d9ff 344px,#b3ff4c 348px,#b3ff4c 374px,#40ffbf 378px,#40ffbf 384px,#00ffff 388px,#00ffff 394px,#26ffd9 398px,#26ffd9 404px,#40ffbf 408px,#40ffbf 414px,#0059ff 418px,#0059ff 434px,#26ffd9 438px,#26ffd9 444px,#66ff99 448px,#66ff99 454px,#40ffbf 458px,#40ffbf 474px,#00d9ff 478px,#00d9ff 494px,#0080ff 498px,#0080ff 504px,#40ffbf 508px,#40ffbf 514px,#8cff73 518px,#8cff73 524px,#0080ff 528px,#0080ff 534px,#00ffff 538px,#00ffff 554px,#40ffbf 558px,#40ffbf 564px,#b3ff4c 568px,#b3ff4c 574px,#bfff40 578px,#bfff40 584px,#e5ff1a 588px,#e5ff1a 594px,#ff5900 598px,#ff5900 604px,#e5ff1a 608px,#e5ff1a 614px,#b3ff4c 618px,#b3ff4c 634px,#40ffbf 638px,#40ffbf 654px,#99ff66 658px,#99ff66 664px,#40ffbf 668px,#40ffbf 674px,#b3ff4c 678px,#b3ff4c 684px,#bfff40 688px,#bfff40 694px,#e5ff1a 698px,#e5ff1a 704px,#bfff40 708px,#bfff40 714px,#40ffbf 718px,#40ffbf 724px,#b3ff4c 728px,#b3ff4c 734px,#40ffbf 738px,#40ffbf 744px,#bfff40 748px,#bfff40 754px,#e5ff1a 758px,#e5ff1a 764px,#40ffbf 768px,#40ffbf 784px,#d9ff26 788px,#d9ff26 794px,#b3ff4c 798px,#b3ff4c 804px,#40ffbf 808px,#40ffbf 814px,#8cff73 818px,#8cff73 824px,#bfff40 828px,#bfff40 834px,#b3ff4c 838px,#b3ff4c 844px,#ffd900 848px,#ffd900 854px,#e5ff1a 858px,#e5ff1a 864px,#59ffa6 868px,#59ffa6 874px,#66ff99 878px,#66ff99 884px,#b3ff4c 888px,#b3ff4c 894px,#e5ff1a 898px,#e5ff1a 904px,#ffb300 908px,#ffb300 914px,#b3ff4c 918px,#b3ff4c 954px,#e5ff1a 958px,#e5ff1a 964px,#ff8000 968px,#ff8000 974px,#ffb300 978px,#ffb300 984px,#e5ff1a 988px,#e5ff1a 1004px,#ff8000 1008px,#ff8000 1014px,#8cff73 1018px,#8cff73 1024px,#40ffbf 1028px,#40ffbf 1034px,#b3ff4c 1038px,#b3ff4c 1044px,#e5ff1a 1048px,#e5ff1a 1054px,#8cff73 1058px,#8cff73 1064px,#66ff99 1068px,#66ff99 1084px,#b3ff4c 1088px,#b3ff4c 1094px,#bfff40 1098px,#bfff40 1104px,#b3ff4c 1108px,#b3ff4c 1114px,#40ffbf 1118px,#40ffbf 1134px,#b3ff4c 1138px,#b3ff4c 1144px,#99ff66 1148px,#99ff66 1154px,#26ffd9 1158px,#26ffd9 1164px,#00d9ff 1168px,#00d9ff 1174px,#26ffd9 1178px,#26ffd9 1184px,#8cff73 1188px,#8cff73 1194px,#40ffbf 1198px,#40ffbf 1204px,#b3ff4c 1208px,#b3ff4c 1214px,#66ff99 1218px,#66ff99 1224px,#99ff66 1228px,#99ff66 1234px,#8cff73 1238px,#8cff73 1244px,#99ff66 1248px,#99ff66 1254px,#80ff80 1258px,#80ff80 1264px,#40ffbf 1268px,#40ffbf 1274px,#26ffd9 1278px,#26ffd9 1300px)"></div>
<div style="height:10px;background:linear-gradient(90deg,#b3ff4c 0px,#b3ff4c 24px,#e5ff1a 28px,#e5ff1a 34px,#a6ff59 38px,#a6ff59 44px,#40ffbf 48px,#40ffbf 54px,#73ff8c 58px,#73ff8c 64px,#99ff66 68px,#99ff66 74px,#26ffd9 78px,#26ffd9 84px,#59ffa6 88px,#59ffa6 94px,#33ffcc 98px,#33ffcc 104px,#00ffff 108px,#00ffff 114px,#0000e6 118px,#0000e6 124px,#000080 128px,#000080 144px,#00e5ff 148px,#00e5ff 154px,#40ffbf 158px,#40ffbf 174px,#80ff80 178px,#80ff80 184px,#40ffbf 188px,#40ffbf 194px,#b3ff4c 198px,#b3ff4c 204px,#99ff66 208px,#99ff66 214px,#4dffb2 218px,#4dffb2 224px,#8cff73 228px,#8cff73 234px,#99ff66 238px,#99ff66 244px,#4dffb2 248px,#4dffb2 254px,#b3ff4c 258px,#b3ff4c 264px,#a6ff59 268px,#a6ff59 274px,#73ff8c 278px,#73ff8c 284px,#e5ff1a 288px,#e5ff1a 294px,#99ff66 298px,#99ff66 304px,#33ffcc 308px,#33ffcc 314px,#40ffbf 318px,#40ffbf 324px,#0dfff2 328px,#0dfff2 344px,#b3ff4c 348px,#b3ff4c 374px,#40ffbf 378px,#40ffbf 384px,#00ffff 388px,#00ffff 394px,#40ffbf 398px,#40ffbf 414px,#0099ff 418px,#0099ff 424px,#0066ff 428px,#0066ff 434px,#40ffbf 438px,#40ffbf 444px,#80ff80 448px,#80ff80 454px,#40ffbf 458px,#40ffbf 474px,#00ffff 478px,#00ffff 494px,#0066ff 498px,#0066ff 504px,#40ffbf 508px,#40ffbf 514px,#80ff80 518px,#80ff80 524px,#0099ff 528px,#0099ff 534px,#00ffff 538px,#00ffff 554px,#40ffbf 558px,#40ffbf 564px,#b3ff4c 568px,#b3ff4c 584px,#e5ff1a 588px,#e5ff1a 594px,#ff9900 598px,#ff9900 604px,#e5ff1a 608px,#e5ff1a 614px,#b3ff4c 618px,#b3ff4c 634px,#4dffb2 638px,#4dffb2 644px,#40ffbf 648px,#40ffbf 654px,#b3ff4c 658px,#b3ff4c 664px,#4dffb2 668px,#4dffb2 674px,#a6ff59 678px,#a6ff59 684px,#b3ff4c 688px,#b3ff4c 694px,#ffff00 698px,#ffff00 704px,#b3ff4c 708px,#b3ff4c 714px,#40ffbf 718px,#40ffbf 724px,#99ff66 728px,#99ff66 734px,#40ffbf 738px,#40ffbf 744px,#b3ff4c 748px,#b3ff4c 754px,#e5ff1a 758px,#e5ff1a 764px,#40ffbf 768px,#40ffbf 774px,#4dffb2 778px,#4dffb2 784px,#e5ff1a 788px,#e5ff1a 794px,#b3ff4c 798px,#b3ff4c 804px,#40ffbf 808px,#40ffbf 814px,#73ff8c 818px,#73ff8c 824px,#a6ff59 828px,#a6ff59 834px,#b3ff4c 838px,#b3ff4c 844px,#e5ff1a 848px,#e5ff1a 864px,#4dffb2 868px,#4dffb2 874px,#80ff80 878px,#80ff80 884px,#b3ff4c 888px,#b3ff4c 894px,#e5ff1a 898px,#e5ff1a 904px,#ff8000 908px,#ff8000 914px,#b3ff4c 918px,#b3ff4c 954px,#e5ff1a 958px,#e5ff1a 964px,#ff9900 968px,#ff9900 974px,#ff8000 978px,#ff8000 984px,#ffff00 988px,#ffff00 994px,#e5ff1a 998px,#e5ff1a 1004px,#ff9900 1008px,#ff9900 1014px,#b3ff4c 1018px,#b3ff4c 1024px,#4dffb2 1028px,#4dffb2 1034px,#b3ff4c 1038px,#b3ff4c 1044px,#e5ff1a 1048px,#e5ff1a 1054px,#b3ff4c 1058px,#b3ff4c 1064px,#33ffcc 1068px,#33ffcc 1074px,#40ffbf 1078px,#40ffbf 1084px,#b3ff4c 1088px,#b3ff4c 1114px,#40ffbf 1118px,#40ffbf 1134px,#a6ff59 1138px,#a6ff59 1144px,#b3ff4c 1148px,#b3ff4c 1154px,#40ffbf 1158px,#40ffbf 1164px,#00ffff 1168px,#00ffff 1174px,#4dffb2 1178px,#4dffb2 1184px,#b3ff4c 1188px,#b3ff4c 1194px,#4dffb2 1198px,#4dffb2 1204px,#e5ff1a 1208px,#e5ff1a 1214px,#80ff80 1218px,#80ff80 1224px,#b3ff4c 1228px,#b3ff4c 1234px,#80ff80 1238px,#80ff80 1244px,#b3ff4c 1248px,#b3ff4c 1254px,#80ff80 1258px,#80ff80 1264px,#40ffbf 1268px,#40ffbf 1300px)"></div>
<div style="height:10px;background:linear-gradient(90deg,#b3ff4c 0px,#b3ff4c 24px,#bfff40 28px,#bfff40 34px,#8cff73 38px,#8cff73 44px,#40ffbf 48px,#40ffbf 54px,#59ffa6 58px,#59ffa6 64px,#40ffbf 68px,#40ffbf 74px,#00bfff 78px,#00bfff 84px,#00d9ff 88px,#00d9ff 94px,#1affe5 98px,#1affe5 104px,#00ffff 108px,#00ffff 114px,#0000b2 118px,#0000b2 124px,#000080 128px,#000080 144px,#00a6ff 148px,#00a6ff 154px,#40ffbf 158px,#40ffbf 174px,#80ff80 178px,#80ff80 184px,#40ffbf 188px,#40ffbf 194px,#b3ff4c 198px,#b3ff4c 204px,#66ff99 208px,#66ff99 224px,#99ff66 228px,#99ff66 234px,#66ff99 238px,#66ff99 254px,#b3ff4c 258px,#b3ff4c 264px,#8cff73 268px,#8cff73 274px,#59ffa6 278px,#59ffa6 284px,#bfff40 288px,#bfff40 294px,#66ff99 298px,#66ff99 304px,#1affe5 308px,#1affe5 314px,#40ffbf 318px,#40ffbf 324px,#26ffd9 328px,#26ffd9 344px,#b3ff4c 348px,#b3ff4c 374px,#40ffbf 378px,#40ffbf 384px,#00ffff 388px,#00ffff 394px,#40ffbf 398px,#40ffbf 414px,#00d9ff 418px,#00d9ff 424px,#0026ff 428px,#0026ff 434px,#40ffbf 438px,#40ffbf 444px,#80ff80 448px,#80ff80 454px,#40ffbf 458px,#40ffbf 474px,#00ffff 478px,#00ffff 494px,#0026ff 498px,#0026ff 504px,#40ffbf 508px,#40ffbf 514px,#80ff80 518px,#80ff80 524px,#00d9ff 528px,#00d9ff 534px,#00ffff 538px,#00ffff 554px,#40ffbf 558px,#40ffbf 564px,#b3ff4c 568px,#b3ff4c 584px,#e5ff1a 588px,#e5ff1a 594px,#ffd900 598px,#ffd900 604px,#bfff40 608px,#bfff40 614px,#d9ff26 618px,#d9ff26 634px,#8cff73 638px,#8cff73 644px,#40ffbf 648px,#40ffbf 654px,#b3ff4c 658px,#b3ff4c 664px,#8cff73 668px,#8cff73 684px,#b3ff4c 688px,#b3ff4c 694px,#ffb300 698px,#ffb300 704px,#b3ff4c 708px,#b3ff4c 714px,#40ffbf 718px,#40ffbf 724px,#66ff99 728px,#66ff99 734px,#40ffbf 738px,#40ffbf 744px,#b3ff4c 748px,#b3ff4c 754px,#bfff40 758px,#bfff40 764px,#40ffbf 768px,#40ffbf 774px,#8cff73 778px,#8cff73 784px,#e5ff1a 788px,#e5ff1a 794px,#b3ff4c 798px,#b3ff4c 804px,#40ffbf 808px,#40ffbf 814px,#59ffa6 818px,#59ffa6 824px,#8cff73 828px,#8cff73 834px,#b3ff4c 838px,#b3ff4c 844px,#bfff40 848px,#bfff40 864px,#66ff99 868px,#66ff99 874px,#80ff80 878px,#80ff80 884px,#b3ff4c 888px,#b3ff4c 894px,#e5ff1a 898px,#e5ff1a 904px,#ff8000 908px,#ff8000 914px,#b3ff4c 918px,#b3ff4c 954px,#bfff40 958px,#bfff40 964px,#ffd900 968px,#ffd900 974px,#ff8000 978px,#ff8000 984px,#ffb300 988px,#ffb300 994px,#e5ff1a 998px,#e5ff1a 1004px,#ffd900 1008px,#ffd900 1014px,#b3ff4c 1018px,#b3ff4c 1024px,#8cff73 1028px,#8cff73 1034px,#b3ff4c 1038px,#b3ff4c 1044px,#e5ff1a 1048px,#e5ff1a 1054px,#b3ff4c 1058px,#b3ff4c 1064px,#1affe5 1068px,#1affe5 1074px,#40ffbf 1078px,#40ffbf 1084px,#b3ff4c 1088px,#b3ff4c 1114px,#40ffbf 1118px,#40ffbf 1134px,#8cff73 1138px,#8cff73 1144px,#b3ff4c 1148px,#b3ff4c 1154px,#40ffbf 1158px,#40ffbf 1164px,#00ffff 1168px,#00ffff 1174px,#8cff73 1178px,#8cff73 1184px,#b3ff4c 1188px,#b3ff4c 1194px,#8cff73 1198px,#8cff73 1204px,#e5ff1a 1208px,#e5ff1a 1214px,#80ff80 1218px,#80ff80 1224px,#b3ff4c 1228px,#b3ff4c 1234px,#80ff80 1238px,#80ff80 1244px,#b3ff4c 1248px,#b3ff4c 1254px,#80ff80 1258px,#80ff80 1264px,#40ffbf 1268px,#40ffbf 1300px)"></div>
<div style="height:10px;background:linear-gradient(90deg,#b3ff4c 0px,#b3ff4c 24px,#99ff66 28px,#99ff66 34px,#80ff80 38px,#80ff80 44px,#40ffbf 48px,#40ffbf 54px,#4dffb2 58px,#4dffb2 64px,#00ffff 68px,#00ffff 74px,#0066ff 78px,#0066ff 84px,#0099ff 88px,#0099ff 94px,#00d9ff 98px,#00d9ff 104px,#00ffff 108px,#00ffff 114px,#000080 118px,#000080 144px,#0099ff 148px,#0099ff 154px,#40ffbf 158px,#40ffbf 164px,#4dffb2 168px,#4dffb2 174px,#80ff80 178px,#80ff80 184px,#33ffcc 188px,#33ffcc 194px,#b3ff4c 198px,#b3ff4c 204px,#40ffbf 208px,#40ffbf 214px,#8cff73 218px,#8cff73 224px,#99ff66 228px,#99ff66 234px,#4dffb2 238px,#4dffb2 244px,#8cff73 248px,#8cff73 254px,#b3ff4c 258px,#b3ff4c 264px,#73ff8c 268px,#73ff8c 274px,#40ffbf 278px,#40ffbf 284px,#b3ff4c 288px,#b3ff4c 294px,#40ffbf 298px,#40ffbf 304px,#00e5ff 308px,#00e5ff 314px,#40ffbf 318px,#40ffbf 324px,#4dffb2 328px,#4dffb2 334px,#40ffbf 338px,#40ffbf 344px,#99ff66 348px,#99ff66 354px,#b3ff4c 358px,#b3ff4c 374px,#4dffb2 378px,#4dffb2 384px,#00ffff 388px,#00ffff 394px,#40ffbf 398px,#40ffbf 404px,#33ffcc 408px,#33ffcc 414px,#00bfff 418px,#00bfff 424px,#0000e6 428px,#0000e6 434px,#33ffcc 438px,#33ffcc 444px,#73ff8c 448px,#73ff8c 454px,#40ffbf 458px,#40ffbf 474px,#00ffff 478px,#00ffff 484px,#00e5ff 488px,#00e5ff 494px,#0000ff 498px,#0000ff 504px,#40ffbf 508px,#40ffbf 514px,#8cff73 518px,#8cff73 524px,#00e5ff 528px,#00e5ff 544px,#00ffff 548px,#00ffff 554px,#40ffbf 558px,#40ffbf 564px,#b3ff4c 568px,#b3ff4c 584px,#ffe500 588px,#ffe500 594px,#ffff00 598px,#ffff00 604px,#ccff33 608px,#ccff33 614px,#ffff00 618px,#ffff00 624px,#ffe500 628px,#ffe500 634px,#b3ff4c 638px,#b3ff4c 644px,#40ffbf 648px,#40ffbf 654px,#b3ff4c 658px,#b3ff4c 674px,#8cff73 678px,#8cff73 684px,#b3ff4c 688px,#b3ff4c 694px,#ff6600 698px,#ff6600 704px,#ccff33 708px,#ccff33 714px,#40ffbf 718px,#40ffbf 724px,#4dffb2 728px,#4dffb2 744px,#b3ff4c 748px,#b3ff4c 764px,#4dffb2 768px,#4dffb2 774px,#b3ff4c 778px,#b3ff4c 784px,#ffff00 788px,#ffff00 794px,#b3ff4c 798px,#b3ff4c 804px,#40ffbf 808px,#40ffbf 824px,#73ff8c 828px,#73ff8c 834px,#b3ff4c 838px,#b3ff4c 854px,#ccff33 858px,#ccff33 864px,#8cff73 868px,#8cff73 874px,#80ff80 878px,#80ff80 884px,#b3ff4c 888px,#b3ff4c 894px,#e5ff1a 898px,#e5ff1a 904px,#ff6600 908px,#ff6600 914px,#99ff66 918px,#99ff66 924px,#b3ff4c 928px,#b3ff4c 964px,#e5ff1a 968px,#e5ff1a 974px,#ff9900 978px,#ff9900 984px,#ff8000 988px,#ff8000 994px,#ffff00 998px,#ffff00 1014px,#b3ff4c 1018px,#b3ff4c 1044px,#e5ff1a 1048px,#e5ff1a 1054px,#b3ff4c 1058px,#b3ff4c 1064px,#26ffd9 1068px,#26ffd9 1074px,#40ffbf 1078px,#40ffbf 1084px,#b3ff4c 1088px,#b3ff4c 1114px,#40ffbf 1118px,#40ffbf 1134px,#8cff73 1138px,#8cff73 1144px,#b3ff4c 1148px,#b3ff4c 1154px,#40ffbf 1158px,#40ffbf 1164px,#00ffff 1168px,#00ffff 1174px,#b3ff4c 1178px,#b3ff4c 1184px,#a6ff59 1188px,#a6ff59 1194px,#b3ff4c 1198px,#b3ff4c 1204px,#e5ff1a 1208px,#e5ff1a 1214px,#8cff73 1218px,#8cff73 1224px,#a6ff59 1228px,#a6ff59 1234px,#8cff73 1238px,#8cff73 1244px,#a6ff59 1248px,#a6ff59 1254px,#80ff80 1258px,#80ff80 1264px,#40ffbf 1268px,#40ffbf 1300px)"></div>
<div style="height:10px;background:linear-gradient(90deg,#b3ff4c 0px,#b3ff4c 24px,#66ff99 28px,#66ff99 34px,#80ff80 38px,#80ff80 44px,#40ffbf 48px,#40ffbf 54px,#66ff99 58px,#66ff99 64px,#00ffff 68px,#00ffff 74px,#0026ff 78px,#0026ff 84px,#00d9ff 88px,#00d9ff 94px,#0059ff 98px,#0059ff 104px,#00ffff 108px,#00ffff 114px,#000080 118px,#000080 144px,#00d9ff 148px,#00d9ff 154px,#40ffbf 158px,#40ffbf 164px,#8cff73 168px,#8cff73 174px,#80ff80 178px,#80ff80 184px,#1affe5 188px,#1affe5 194px,#b3ff4c 198px,#b3ff4c 204px,#40ffbf 208px,#40ffbf 214px,#99ff66 218px,#99ff66 224px,#66ff99 228px,#66ff99 244px,#99ff66 248px,#99ff66 254px,#b3ff4c 258px,#b3ff4c 264px,#59ffa6 268px,#59ffa6 274px,#40ffbf 278px,#40ffbf 284px,#b3ff4c 288px,#b3ff4c 294px,#40ffbf 298px,#40ffbf 304px,#00a6ff 308px,#00a6ff 314px,#40ffbf 318px,#40ffbf 324px,#66ff99 328px,#66ff99 334px,#40ffbf 338px,#40ffbf 344px,#66ff99 348px,#66ff99 354px,#b3ff4c 358px,#b3ff4c 374px,#66ff99 378px,#66ff99 384px,#00ffff 388px,#00ffff 394px,#40ffbf 398px,#40ffbf 404px,#1affe5 408px,#1affe5 414px,#0000ff 418px,#0000ff 424px,#0000b2 428px,#0000b2 434px,#1affe5 438px,#1affe5 444px,#59ffa6 448px,#59ffa6 454px,#40ffbf 458px,#40ffbf 474px,#00ffff 478px,#00ffff 484px,#00a6ff 488px,#00a6ff 494px,#0000ff 498px,#0000ff 504px,#40ffbf 508px,#40ffbf 514px,#99ff66 518px,#99ff66 524px,#00a6ff 528px,#00a6ff 544px,#00ffff 548px,#00ffff 554px,#40ffbf 558px,#40ffbf 564px,#b3ff4c 568px,#b3ff4c 574px,#d9ff26 578px,#d9ff26 584px,#ff6600 588px,#ff6600 594px,#ffb300 598px,#ffb300 604px,#ffcc00 608px,#ffcc00 614px,#ffb300 618px,#ffb300 624px,#ff6600 628px,#ff6600 634px,#d9ff26 638px,#d9ff26 644px,#40ffbf 648px,#40ffbf 654px,#d9ff26 658px,#d9ff26 674px,#99ff66 678px,#99ff66 684px,#d9ff26 688px,#d9ff26 694px,#ff2600 698px,#ff2600 704px,#ffcc00 708px,#ffcc00 714px,#40ffbf 718px,#40ffbf 724px,#8cff73 728px,#8cff73 744px,#b3ff4c 748px,#b3ff4c 754px,#d9ff26 758px,#d9ff26 764px,#8cff73 768px,#8cff73 774px,#b3ff4c 778px,#b3ff4c 784px,#ffb300 788px,#ffb300 794px,#b3ff4c 798px,#b3ff4c 804px,#40ffbf 808px,#40ffbf 824px,#59ffa6 828px,#59ffa6 834px,#b3ff4c 838px,#b3ff4c 854px,#ffcc00 858px,#ffcc00 864px,#99ff66 868px,#99ff66 874px,#80ff80 878px,#80ff80 884px,#b3ff4c 888px,#b3ff4c 894px,#e5ff1a 898px,#e5ff1a 904px,#ff2600 908px,#ff2600 914px,#40ffbf 918px,#40ffbf 924px,#b3ff4c 928px,#b3ff4c 964px,#e5ff1a 968px,#e5ff1a 974px,#ffd900 978px,#ffd900 984px,#ff8000 988px,#ff8000 994px,#ffb300 998px,#ffb300 1014px,#d9ff26 1018px,#d9ff26 1024px,#b3ff4c 1028px,#b3ff4c 1034px,#d9ff26 1038px,#d9ff26 1044px,#e5ff1a 1048px,#e5ff1a 1054px,#d9ff26 1058px,#d9ff26 1064px,#99ff66 1068px,#99ff66 1074px,#40ffbf 1078px,#40ffbf 1084px,#b3ff4c 1088px,#b3ff4c 1114px,#40ffbf 1118px,#40ffbf 1134px,#99ff66 1138px,#99ff66 1144px,#b3ff4c 1148px,#b3ff4c 1154px,#40ffbf 1158px,#40ffbf 1164px,#00ffff 1168px,#00ffff 1174px,#b3ff4c 1178px,#b3ff4c 1184px,#8cff73 1188px,#8cff73 1194px,#b3ff4c 1198px,#b3ff4c 1204px,#e5ff1a 1208px,#e5ff1a 1214px,#99ff66 1218px,#99ff66 1224px,#8cff73 1228px,#8cff73 1234px,#99ff66 1238px,#99ff66 1244px,#8cff73 1248px,#8cff73 1254px,#80ff80 1258px,#80ff80 1264px,#40ffbf 1268px,#40ffbf 1300px)"></div>
<div style="height:10px;background:linear-gradient(90deg,#99ff66 0px,#99ff66 24px,#40ffbf 28px,#40ffbf 34px,#8cff73 38px,#8cff73 44px,#40ffbf 48px,#40ffbf 54px,#80ff80 58px,#80ff80 64px,#00ffff 68px,#00ffff 74px,#0000e6 78px,#0000e6 84px,#00ffff 88px,#00ffff 94px,#0000ff 98px,#0000ff 104px,#00e5ff 108px,#00e5ff 114px,#000080 118px,#000080 144px,#0dfff2 148px,#0dfff2 154px,#4dffb2 158px,#4dffb2 164px,#b3ff4c 168px,#b3ff4c 174px,#80ff80 178px,#80ff80 184px,#00e5ff 188px,#00e5ff 194px,#b3ff4c 198px,#b3ff4c 204px,#40ffbf 208px,#40ffbf 214px,#a6ff59 218px,#a6ff59 224px,#4dffb2 228px,#4dffb2 234px,#a6ff59 238px,#a6ff59 244px,#b3ff4c 248px,#b3ff4c 264px,#40ffbf 268px,#40ffbf 274px,#59ffa6 278px,#59ffa6 284px,#99ff66 288px,#99ff66 294px,#40ffbf 298px,#40ffbf 304px,#0080ff 308px,#0080ff 314px,#40ffbf 318px,#40ffbf 324px,#8cff73 328px,#8cff73 334px,#40ffbf 338px,#40ffbf 354px,#b3ff4c 358px,#b3ff4c 374px,#80ff80 378px,#80ff80 384px,#00ffff 388px,#00ffff 394px,#4dffb2 398px,#4dffb2 404px,#00ffff 408px,#00ffff 414px,#000080 418px,#000080 434px,#00ffff 438px,#00ffff 444px,#40ffbf 448px,#40ffbf 474px,#00ffff 478px,#00ffff 484px,#0080ff 488px,#0080ff 494px,#0000ff 498px,#0000ff 504px,#40ffbf 508px,#40ffbf 514px,#b3ff4c 518px,#b3ff4c 524px,#0059ff 528px,#0059ff 534px,#0066ff 538px,#0066ff 544px,#00ffff 548px,#00ffff 554px,#4dffb2 558px,#4dffb2 564px,#b3ff4c 568px,#b3ff4c 574px,#e5ff1a 578px,#e5ff1a 584px,#e50000 588px,#e50000 594px,#ff6600 598px,#ff6600 624px,#ff0000 628px,#ff0000 634px,#e5ff1a 638px,#e5ff1a 644px,#40ffbf 648px,#40ffbf 654px,#ffff00 658px,#ffff00 664px,#e5ff1a 668px,#e5ff1a 674px,#b3ff4c 678px,#b3ff4c 684px,#e5ff1a 688px,#e5ff1a 694px,#ff0000 698px,#ff0000 704px,#ff6600 708px,#ff6600 714px,#4dffb2 718px,#4dffb2 724px,#b3ff4c 728px,#b3ff4c 754px,#e5ff1a 758px,#e5ff1a 764px,#b3ff4c 768px,#b3ff4c 784px,#ff8000 788px,#ff8000 794px,#b3ff4c 798px,#b3ff4c 804px,#40ffbf 808px,#40ffbf 814px,#26ffd9 818px,#26ffd9 824px,#40ffbf 828px,#40ffbf 834px,#b3ff4c 838px,#b3ff4c 854px,#ff8000 858px,#ff8000 864px,#b3ff4c 868px,#b3ff4c 874px,#80ff80 878px,#80ff80 884px,#b3ff4c 888px,#b3ff4c 894px,#e5ff1a 898px,#e5ff1a 904px,#ff1a00 908px,#ff1a00 914px,#00e5ff 918px,#00e5ff 924px,#b3ff4c 928px,#b3ff4c 964px,#e5ff1a 968px,#e5ff1a 984px,#ff9900 988px,#ff9900 994px,#ff8000 998px,#ff8000 1004px,#ff9900 1008px,#ff9900 1014px,#e5ff1a 1018px,#e5ff1a 1024px,#b3ff4c 1028px,#b3ff4c 1034px,#e5ff1a 1038px,#e5ff1a 1064px,#ffff00 1068px,#ffff00 1074px,#40ffbf 1078px,#40ffbf 1084px,#b3ff4c 1088px,#b3ff4c 1114px,#40ffbf 1118px,#40ffbf 1134px,#b3ff4c 1138px,#b3ff4c 1154px,#40ffbf 1158px,#40ffbf 1164px,#00ffff 1168px,#00ffff 1174px,#b3ff4c 1178px,#b3ff4c 1184px,#80ff80 1188px,#80ff80 1194px,#b3ff4c 1198px,#b3ff4c 1204px,#e5ff1a 1208px,#e5ff1a 1214px,#b3ff4c 1218px,#b3ff4c 1224px,#80ff80 1228px,#80ff80 1234px,#a6ff59 1238px,#a6ff59 1244px,#80ff80 1248px,#80ff80 1254px,#8cff73 1258px,#8cff73 1264px,#40ffbf 1268px,#40ffbf 1274px,#26ffd9 1278px,#26ffd9 1300px)"></div>
<div style="height:10px;background:linear-gradient(90deg,#66ff99 0px,#66ff99 24px,#40ffbf 28px,#40ffbf 34px,#99ff66 38px,#99ff66 44px,#40ffbf 48px,#40ffbf 54px,#80ff80 58px,#80ff80 64px,#00ffff 68px,#00ffff 74px,#0000b2 78px,#0000b2 84px,#00ffff 88px,#00ffff 94px,#0000ff 98px,#0000ff 104px,#00a6ff 108px,#00a6ff 114px,#000080 118px,#000080 144px,#26ffd9 148px,#26ffd9 154px,#8cff73 158px,#8cff73 164px,#b3ff4c 168px,#b3ff4c 174px,#80ff80 178px,#80ff80 184px,#00a6ff 188px,#00a6ff 194px,#b3ff4c 198px,#b3ff4c 204px,#40ffbf 208px,#40ffbf 214px,#8cff73 218px,#8cff73 234px,#ffd900 238px,#ffd900 244px,#b3ff4c 248px,#b3ff4c 264px,#40ffbf 268px,#40ffbf 274px,#b3ff4c 278px,#b3ff4c 284px,#66ff99 288px,#66ff99 294px,#40ffbf 298px,#40ffbf 304px,#0080ff 308px,#0080ff 314px,#40ffbf 318px,#40ffbf 324px,#99ff66 328px,#99ff66 334px,#40ffbf 338px,#40ffbf 354px,#b3ff4c 358px,#b3ff4c 374px,#80ff80 378px,#80ff80 384px,#00ffff 388px,#00ffff 394px,#8cff73 398px,#8cff73 404px,#00ffff 408px,#00ffff 414px,#000080 418px,#000080 434px,#00ffff 438px,#00ffff 444px,#40ffbf 448px,#40ffbf 474px,#00ffff 478px,#00ffff 484px,#0080ff 488px,#0080ff 494px,#0000ff 498px,#0000ff 504px,#40ffbf 508px,#40ffbf 514px,#b3ff4c 518px,#b3ff4c 524px,#0000d9 528px,#0000d9 534px,#0026ff 538px,#0026ff 544px,#00ffff 548px,#00ffff 554px,#8cff73 558px,#8cff73 564px,#b3ff4c 568px,#b3ff4c 574px,#e5ff1a 578px,#e5ff1a 584px,#b30000 588px,#b30000 594px,#ff0000 598px,#ff0000 604px,#ff2600 608px,#ff2600 624px,#ff0000 628px,#ff0000 634px,#e5ff1a 638px,#e5ff1a 644px,#40ffbf 648px,#40ffbf 654px,#ffb300 658px,#ffb300 664px,#e5ff1a 668px,#e5ff1a 674px,#b3ff4c 678px,#b3ff4c 684px,#e5ff1a 688px,#e5ff1a 694px,#ff0000 698px,#ff0000 704px,#ff2600 708px,#ff2600 714px,#8cff73 718px,#8cff73 724px,#d9ff26 728px,#d9ff26 734px,#b3ff4c 738px,#b3ff4c 754px,#e5ff1a 758px,#e5ff1a 764px,#b3ff4c 768px,#b3ff4c 784px,#ff8000 788px,#ff8000 794px,#d9ff26 798px,#d9ff26 804px,#40ffbf 808px,#40ffbf 814px,#00bfff 818px,#00bfff 824px,#40ffbf 828px,#40ffbf 834px,#b3ff4c 838px,#b3ff4c 854px,#ff8000 858px,#ff8000 864px,#b3ff4c 868px,#b3ff4c 874px,#80ff80 878px,#80ff80 884px,#b3ff4c 888px,#b3ff4c 894px,#e5ff1a 898px,#e5ff1a 904px,#ff5900 908px,#ff5900 914px,#00a6ff 918px,#00a6ff 924px,#b3ff4c 928px,#b3ff4c 954px,#d9ff26 958px,#d9ff26 964px,#e5ff1a 968px,#e5ff1a 984px,#ffd900 988px,#ffd900 994px,#ff8000 998px,#ff8000 1004px,#ffd900 1008px,#ffd900 1014px,#bfff40 1018px,#bfff40 1024px,#b3ff4c 1028px,#b3ff4c 1034px,#e5ff1a 1038px,#e5ff1a 1054px,#bfff40 1058px,#bfff40 1064px,#ffb300 1068px,#ffb300 1074px,#40ffbf 1078px,#40ffbf 1084px,#b3ff4c 1088px,#b3ff4c 1114px,#40ffbf 1118px,#40ffbf 1134px,#b3ff4c 1138px,#b3ff4c 1154px,#40ffbf 1158px,#40ffbf 1164px,#00ffff 1168px,#00ffff 1174px,#b3ff4c 1178px,#b3ff4c 1184px,#80ff80 1188px,#80ff80 1194px,#b3ff4c 1198px,#b3ff4c 1204px,#e5ff1a 1208px,#e5ff1a 1214px,#b3ff4c 1218px,#b3ff4c 1224px,#80ff80 1228px,#80ff80 1234px,#8cff73 1238px,#8cff73 1244px,#80ff80 1248px,#80ff80 1254px,#99ff66 1258px,#99ff66 1264px,#40ffbf 1268px,#40ffbf 1274px,#00bfff 1278px,#00bfff 1300px)"></div>
<div style="height:10px;background:linear-gradient(90deg,#40ffbf 0px,#40ffbf 34px,#b3ff4c 38px,#b3ff4c 44px,#40ffbf 48px,#40ffbf 54px,#80ff80 58px,#80ff80 64px,#00ffff 68px,#00ffff 74px,#000080 78px,#000080 84px,#00ffff 88px,#00ffff 94px,#0000ff 98px,#0000ff 104px,#0080ff 108px,#0080ff 114px,#000080 118px,#000080 144px,#40ffbf 148px,#40ffbf 154px,#b3ff4c 158px,#b3ff4c 174px,#80ff80 178px,#80ff80 184px,#0080ff 188px,#0080ff 194px,#b3ff4c 198px,#b3ff4c 204px,#40ffbf 208px,#40ffbf 214px,#80ff80 218px,#80ff80 224px,#b3ff4c 228px,#b3ff4c 234px,#ff8000 238px,#ff8000 244px,#b3ff4c 248px,#b3ff4c 264px,#40ffbf 268px,#40ffbf 274px,#e5ff1a 278px,#e5ff1a 284px,#40ffbf 288px,#40ffbf 304px,#0080ff 308px,#0080ff 314px,#40ffbf 318px,#40ffbf 324px,#b3ff4c 328px,#b3ff4c 334px,#40ffbf 338px,#40ffbf 354px,#b3ff4c 358px,#b3ff4c 374px,#80ff80 378px,#80ff80 384px,#00ffff 388px,#00ffff 394px,#b3ff4c 398px,#b3ff4c 404px,#00ffff 408px,#00ffff 414px,#000080 418px,#000080 434px,#00ffff 438px,#00ffff 444px,#40ffbf 448px,#40ffbf 474px,#00ffff 478px,#00ffff 484px,#0080ff 488px,#0080ff 494px,#0000ff 498px,#0000ff 504px,#40ffbf 508px,#40ffbf 514px,#b3ff4c 518px,#b3ff4c 524px,#000080 528px,#000080 534px,#0000ff 538px,#0000ff 544px,#00ffff 548px,#00ffff 554px,#b3ff4c 558px,#b3ff4c 574px,#e5ff1a 578px,#e5ff1a 584px,#800000 588px,#800000 594px,#bf0000 598px,#bf0000 604px,#ff0000 608px,#ff0000 634px,#e5ff1a 638px,#e5ff1a 644px,#40ffbf 648px,#40ffbf 654px,#ff8000 658px,#ff8000 664px,#e5ff1a 668px,#e5ff1a 674px,#b3ff4c 678px,#b3ff4c 684px,#e5ff1a 688px,#e5ff1a 694px,#ff0000 698px,#ff0000 714px,#b3ff4c 718px,#b3ff4c 724px,#e5ff1a 728px,#e5ff1a 734px,#b3ff4c 738px,#b3ff4c 754px,#e5ff1a 758px,#e5ff1a 764px,#b3ff4c 768px,#b3ff4c 784px,#ff8000 788px,#ff8000 794px,#e5ff1a 798px,#e5ff1a 804px,#40ffbf 808px,#40ffbf 814px,#0080ff 818px,#0080ff 824px,#40ffbf 828px,#40ffbf 834px,#b3ff4c 838px,#b3ff4c 854px,#ff8000 858px,#ff8000 864px,#b3ff4c 868px,#b3ff4c 874px,#80ff80 878px,#80ff80 884px,#b3ff4c 888px,#b3ff4c 894px,#e5ff1a 898px,#e5ff1a 904px,#ff8000 908px,#ff8000 914px,#0080ff 918px,#0080ff 924px,#b3ff4c 928px,#b3ff4c 954px,#e5ff1a 958px,#e5ff1a 994px,#ff8000 998px,#ff8000 1004px,#e5ff1a 1008px,#e5ff1a 1014px,#b3ff4c 1018px,#b3ff4c 1034px,#e5ff1a 1038px,#e5ff1a 1054px,#b3ff4c 1058px,#b3ff4c 1064px,#ff8000 1068px,#ff8000 1074px,#40ffbf 1078px,#40ffbf 1084px,#b3ff4c 1088px,#b3ff4c 1114px,#40ffbf 1118px,#40ffbf 1134px,#b3ff4c 1138px,#b3ff4c 1154px,#40ffbf 1158px,#40ffbf 1164px,#00ffff 1168px,#00ffff 1174px,#b3ff4c 1178px,#b3ff4c 1184px,#80ff80 1188px,#80ff80 1194px,#b3ff4c 1198px,#b3ff4c 1204px,#e5ff1a 1208px,#e5ff1a 1214px,#b3ff4c 1218px,#b3ff4c 1224px,#80ff80 1228px,#80ff80 1254px,#b3ff4c 1258px,#b3ff4c 1264px,#40ffbf 1268px,#40ffbf 1274px,#0080ff 1278px,#0080ff 1300px)"></div>
<div style="height:10px;background:linear-gradient(90deg,#40ffbf 0px,#40ffbf 34px,#b3ff4c 38px,#b3ff4c 44px,#40ffbf 48px,#40ffbf 54px,#80ff80 58px,#80ff80 64px,#00ffff 68px,#00ffff 74px,#000080 78px,#000080 84px,#00ffff 88px,#00ffff 94px,#0000ff 98px,#0000ff 104px,#0080ff 108px,#0080ff 114px,#000080 118px,#000080 144px,#40ffbf 148px,#40ffbf 154px,#b3ff4c 158px,#b3ff4c 174px,#80ff80 178px,#80ff80 184px,#0080ff 188px,#0080ff 194px,#b3ff4c 198px,#b3ff4c 204px,#40ffbf 208px,#40ffbf 214px,#80ff80 218px,#80ff80 224px,#b3ff4c 228px,#b3ff4c 234px,#ff8000 238px,#ff8000 244px,#b3ff4c 248px,#b3ff4c 264px,#40ffbf 268px,#40ffbf 274px,#e5ff1a 278px,#e5ff1a 284px,#40ffbf 288px,#40ffbf 304px,#0080ff 308px,#0080ff 314px,#40ffbf 318px,#40ffbf 324px,#b3ff4c 328px,#b3ff4c 334px,#40ffbf 338px,#40ffbf 354px,#b3ff4c 358px,#b3ff4c 374px,#80ff80 378px,#80ff80 384px,#00ffff 388px,#00ffff 394px,#b3ff4c 398px,#b3ff4c 404px,#00ffff 408px,#00ffff 414px,#000080 418px,#000080 434px,#00ffff 438px,#00ffff 444px,#40ffbf 448px,#40ffbf 474px,#00ffff 478px,#00ffff 484px,#0080ff 488px,#0080ff 494px,#0000ff 498px,#0000ff 504px,#40ffbf 508px,#40ffbf 514px,#b3ff4c 518px,#b3ff4c 524px,#000080 528px,#000080 534px,#0000ff 538px,#0000ff 544px,#00ffff 548px,#00ffff 554px,#b3ff4c 558px,#b3ff4c 574px,#e5ff1a 578px,#e5ff1a 584px,#800000 588px,#800000 594px,#bf0000 598px,#bf0000 604px,#ff0000 608px,#ff0000 634px,#e5ff1a 638px,#e5ff1a 644px,#40ffbf 648px,#40ffbf 654px,#ff8000 658px,#ff8000 664px,#e5ff1a 668px,#e5ff1a 674px,#b3ff4c 678px,#b3ff4c 684px,#e5ff1a 688px,#e5ff1a 694px,#ff0000 698px,#ff0000 714px,#b3ff4c 718px,#b3ff4c 724px,#e5ff1a 728px,#e5ff1a 734px,#b3ff4c 738px,#b3ff4c 754px,#e5ff1a 758px,#e5ff1a 764px,#b3ff4c 768px,#b3ff4c 784px,#ff8000 788px,#ff8000 794px,#e5ff1a 798px,#e5ff1a 804px,#40ffbf 808px,#40ffbf 814px,#0080ff 818px,#0080ff 824px,#40ffbf 828px,#40ffbf 834px,#b3ff4c 838px,#b3ff4c 854px,#ff8000 858px,#ff8000 864px,#b3ff4c 868px,#b3ff4c 874px,#80ff80 878px,#80ff80 884px,#b3ff4c 888px,#b3ff4c 894px,#e5ff1a 898px,#e5ff1a 904px,#ff8000 908px,#ff8000 914px,#0080ff 918px,#0080ff 924px,#b3ff4c 928px,#b3ff4c 954px,#e5ff1a 958px,#e5ff1a 994px,#ff8000 998px,#ff8000 1004px,#e5ff1a 1008px,#e5ff1a 1014px,#b3ff4c 1018px,#b3ff4c 1034px,#e5ff1a 1038px,#e5ff1a 1054px,#b3ff4c 1058px,#b3ff4c 1064px,#ff8000 1068px,#ff8000 1074px,#40ffbf 1078px,#40ffbf 1084px,#b3ff4c 1088px,#b3ff4c 1114px,#40ffbf 1118px,#40ffbf 1134px,#b3ff4c 1138px,#b3ff4c 1154px,#40ffbf 1158px,#40ffbf 1164px,#00ffff 1168px,#00ffff 1174px,#b3ff4c 1178px,#b3ff4c 1184px,#80ff80 1188px,#80ff80 1194px,#b3ff4c 1198px,#b3ff4c 1204px,#e5ff1a 1208px,#e5ff1a 1214px,#b3ff4c 1218px,#b3ff4c 1224px,#80ff80 1228px,#80ff80 1254px,#b3ff4c 1258px,#b3ff4c 1264px,#40ffbf 1268px,#40ffbf 1274px,#0080ff 1278px,#0080ff 1300px)"></div>
</div></div>
<div class="fr" style="left:142px;top:57px"></div>
<div class="t" style="left:156.3px;top:9.3px;letter-spacing:1.5px">(a)</div>
<div class="t yl" style="left:27.0px;top:71.4px">100</div>
<div class="t yl" style="left:27.0px;top:126.2px">200</div>
<div class="t yl" style="left:27.0px;top:180.8px">300</div>
<div class="t yl" style="left:27.0px;top:235.6px">400</div>
<div class="t xl" style="left:52.9px;top:318.2px">201706</div>
<div class="t xl" style="left:266.7px;top:318.2px">201708</div>
<div class="t xl" style="left:480.0px;top:318.2px">201710</div>
<div class="t xl" style="left:694.1px;top:318.2px">201712</div>
<div class="t xl" style="left:912.1px;top:318.2px">201802</div>
<div class="t xl" style="left:1117.9px;top:318.2px">201804</div>
<div class="fr" style="left:142px;top:388px"></div>
<div class="t" style="left:156.3px;top:343.3px;letter-spacing:1.5px">(b)</div>
<div class="t yl" style="left:27.0px;top:402.4px">100</div>
<div class="t yl" style="left:27.0px;top:457.1px">200</div>
<div class="t yl" style="left:27.0px;top:511.9px">300</div>
<div class="t yl" style="left:27.0px;top:566.6px">400</div>
<div class="t xl" style="left:52.9px;top:649.2px">201706</div>
<div class="t xl" style="left:266.7px;top:649.2px">201708</div>
<div class="t xl" style="left:480.0px;top:649.2px">201710</div>
<div class="t xl" style="left:694.1px;top:649.2px">201712</div>
<div class="t xl" style="left:912.1px;top:649.2px">201802</div>
<div class="t xl" style="left:1117.9px;top:649.2px">201804</div>
<div class="fr" style="left:142px;top:719px"></div>
<div class="t" style="left:156.3px;top:674.0px;letter-spacing:1.5px">(c)</div>
<div class="t yl" style="left:27.0px;top:733.4px">100</div>
<div class="t yl" style="left:27.0px;top:788.1px">200</div>
<div class="t yl" style="left:27.0px;top:842.8px">300</div>
<div class="t yl" style="left:27.0px;top:897.5px">400</div>
<div class="t xl" style="left:52.9px;top:980.2px">201706</div>
<div class="t xl" style="left:266.7px;top:980.2px">201708</div>
<div class="t xl" style="left:480.0px;top:980.2px">201710</div>
<div class="t xl" style="left:694.1px;top:980.2px">201712</div>
<div class="t xl" style="left:912.1px;top:980.2px">201802</div>
<div class="t xl" style="left:1117.9px;top:980.2px">201804</div>
<div class="fr" style="left:142px;top:1050px"></div>
<div class="t" style="left:156.3px;top:1005.0px;letter-spacing:1.5px">(d)</div>
<div class="t yl" style="left:27.0px;top:1064.5px">100</div>
<div class="t yl" style="left:27.0px;top:1119.2px">200</div>
<div class="t yl" style="left:27.0px;top:1173.9px">300</div>
<div class="t yl" style="left:27.0px;top:1228.6px">400</div>
<div class="t xl" style="left:52.9px;top:1311.2px">201706</div>
<div class="t xl" style="left:266.7px;top:1311.2px">201708</div>
<div class="t xl" style="left:480.0px;top:1311.2px">201710</div>
<div class="t xl" style="left:694.1px;top:1311.2px">201712</div>
<div class="t xl" style="left:912.1px;top:1311.2px">201802</div>
<div class="t xl" style="left:1117.9px;top:1311.2px">201804</div>
<div style="position:absolute;left:1405px;top:1051px;width:4px;height:238px;background:linear-gradient(180deg,#000080 0%,#0030ff 25%,#00a0ff 50%,#0030ff 80%,#000080 100%)"></div>
<div class="t" style="left:28px;top:691.6px;transform:translate(-50%,-50%) rotate(-90deg);transform-origin:50% 50%">Depth (m)</div>
<div style="position:absolute;left:584px;top:1349.5px;width:328px;height:32px;background:linear-gradient(90deg,#000080 0%,#0000ff 12.5%,#00ffff 37.5%,#80ff80 50%,#ffff00 62.5%,#ff0000 87.5%,#800000 100%);border:1px solid #333"></div>
<div class="tk" style="left:644.5px;top:1345.5px"></div>
<div class="tk" style="left:644.5px;top:1381.5px"></div>
<div class="tk" style="left:746.4px;top:1345.5px"></div>
<div class="tk" style="left:746.4px;top:1381.5px"></div>
<div class="tk" style="left:848.8px;top:1345.5px"></div>
<div class="tk" style="left:848.8px;top:1381.5px"></div>
<div class="t xl" style="left:525.0px;top:1406.4px">-100</div>
<div class="t xl" style="left:626.4px;top:1406.4px">0</div>
<div class="t xl" style="left:729.6px;top:1406.4px">100</div>
</body></html>
